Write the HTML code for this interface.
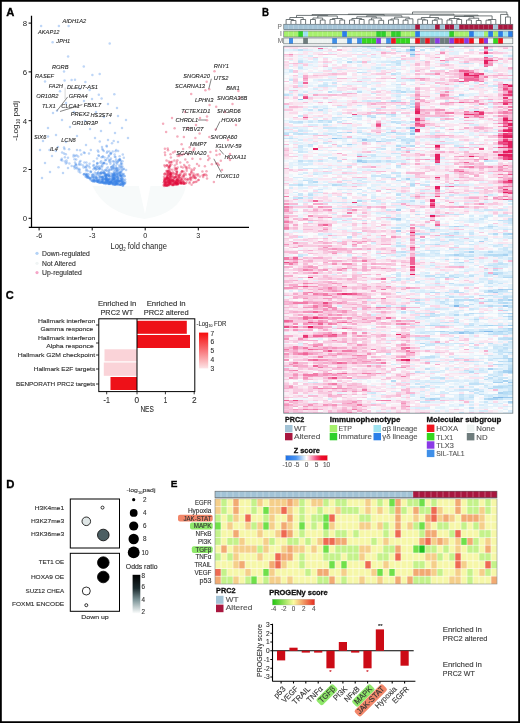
<!DOCTYPE html>
<html><head><meta charset="utf-8"><style>
html,body{margin:0;padding:0;background:#fff;width:520px;height:723px;overflow:hidden}
svg{display:block;font-family:"Liberation Sans",sans-serif;will-change:transform}
</style></head><body>
<svg width="520" height="723" viewBox="0 0 520 723">
<rect width="520" height="723" fill="#fff"/>
<path d="M92.5 186 Q106 214 144.5 219 Q180 214 186 186 L150.5 186 L145 214 L138.8 186 Z" fill="#f7fafa"/>
<g fill="#3a82e6" fill-opacity="0.33"><circle cx="103.9" cy="182.8" r="1.25"/><circle cx="93.9" cy="164.9" r="1.25"/><circle cx="103.6" cy="176.0" r="1.25"/><circle cx="117.0" cy="182.9" r="1.25"/><circle cx="108.3" cy="179.5" r="1.25"/><circle cx="108.7" cy="175.3" r="1.25"/><circle cx="111.1" cy="182.8" r="1.25"/><circle cx="110.4" cy="160.1" r="1.25"/><circle cx="65.9" cy="163.4" r="1.25"/><circle cx="123.1" cy="174.9" r="1.25"/><circle cx="116.5" cy="179.0" r="1.25"/><circle cx="107.5" cy="173.9" r="1.25"/><circle cx="94.2" cy="181.0" r="1.25"/><circle cx="114.7" cy="178.7" r="1.25"/><circle cx="119.0" cy="178.2" r="1.25"/><circle cx="106.1" cy="180.7" r="1.25"/><circle cx="123.1" cy="184.0" r="1.25"/><circle cx="117.6" cy="184.4" r="1.25"/><circle cx="113.1" cy="178.3" r="1.25"/><circle cx="96.5" cy="177.4" r="1.25"/><circle cx="94.4" cy="180.0" r="1.25"/><circle cx="102.3" cy="177.6" r="1.25"/><circle cx="110.1" cy="181.9" r="1.25"/><circle cx="110.6" cy="173.5" r="1.25"/><circle cx="116.2" cy="149.9" r="1.25"/><circle cx="87.3" cy="176.6" r="1.25"/><circle cx="74.1" cy="166.5" r="1.25"/><circle cx="111.3" cy="180.7" r="1.25"/><circle cx="116.8" cy="181.5" r="1.25"/><circle cx="80.1" cy="150.2" r="1.25"/><circle cx="49.5" cy="150.0" r="1.25"/><circle cx="117.9" cy="177.7" r="1.25"/><circle cx="113.7" cy="141.0" r="1.25"/><circle cx="112.8" cy="174.6" r="1.25"/><circle cx="119.9" cy="184.5" r="1.25"/><circle cx="101.2" cy="172.2" r="1.25"/><circle cx="104.8" cy="173.1" r="1.25"/><circle cx="119.6" cy="160.5" r="1.25"/><circle cx="113.6" cy="164.9" r="1.25"/><circle cx="125.0" cy="183.2" r="1.25"/><circle cx="116.0" cy="168.1" r="1.25"/><circle cx="68.0" cy="157.7" r="1.25"/><circle cx="88.5" cy="174.2" r="1.25"/><circle cx="120.4" cy="181.3" r="1.25"/><circle cx="106.6" cy="175.3" r="1.25"/><circle cx="117.4" cy="176.4" r="1.25"/><circle cx="114.3" cy="174.4" r="1.25"/><circle cx="108.3" cy="181.2" r="1.25"/><circle cx="100.5" cy="173.0" r="1.25"/><circle cx="119.6" cy="172.8" r="1.25"/><circle cx="121.0" cy="180.5" r="1.25"/><circle cx="101.3" cy="182.0" r="1.25"/><circle cx="110.6" cy="182.0" r="1.25"/><circle cx="112.9" cy="182.4" r="1.25"/><circle cx="112.8" cy="182.4" r="1.25"/><circle cx="121.0" cy="163.7" r="1.25"/><circle cx="103.6" cy="179.1" r="1.25"/><circle cx="102.7" cy="181.7" r="1.25"/><circle cx="116.7" cy="180.4" r="1.25"/><circle cx="106.0" cy="160.0" r="1.25"/><circle cx="122.6" cy="176.6" r="1.25"/><circle cx="113.0" cy="184.3" r="1.25"/><circle cx="98.2" cy="172.6" r="1.25"/><circle cx="102.3" cy="149.0" r="1.25"/><circle cx="108.3" cy="183.9" r="1.25"/><circle cx="118.5" cy="160.2" r="1.25"/><circle cx="109.4" cy="183.1" r="1.25"/><circle cx="114.2" cy="172.7" r="1.25"/><circle cx="102.4" cy="182.5" r="1.25"/><circle cx="111.7" cy="180.8" r="1.25"/><circle cx="96.3" cy="177.8" r="1.25"/><circle cx="98.4" cy="167.5" r="1.25"/><circle cx="110.9" cy="181.9" r="1.25"/><circle cx="112.4" cy="177.2" r="1.25"/><circle cx="93.0" cy="178.9" r="1.25"/><circle cx="117.6" cy="183.2" r="1.25"/><circle cx="109.3" cy="183.4" r="1.25"/><circle cx="116.1" cy="183.2" r="1.25"/><circle cx="119.5" cy="181.5" r="1.25"/><circle cx="93.3" cy="180.7" r="1.25"/><circle cx="121.4" cy="175.9" r="1.25"/><circle cx="78.2" cy="156.6" r="1.25"/><circle cx="99.8" cy="141.4" r="1.25"/><circle cx="99.4" cy="168.4" r="1.25"/><circle cx="94.4" cy="167.7" r="1.25"/><circle cx="102.7" cy="182.3" r="1.25"/><circle cx="119.6" cy="156.2" r="1.25"/><circle cx="91.9" cy="177.2" r="1.25"/><circle cx="88.0" cy="175.9" r="1.25"/><circle cx="97.0" cy="158.4" r="1.25"/><circle cx="84.7" cy="152.9" r="1.25"/><circle cx="91.7" cy="180.5" r="1.25"/><circle cx="80.2" cy="172.4" r="1.25"/><circle cx="111.2" cy="166.9" r="1.25"/><circle cx="117.1" cy="177.0" r="1.25"/><circle cx="112.1" cy="175.9" r="1.25"/><circle cx="105.5" cy="183.3" r="1.25"/><circle cx="115.2" cy="173.0" r="1.25"/><circle cx="100.3" cy="182.5" r="1.25"/><circle cx="119.2" cy="165.4" r="1.25"/><circle cx="112.9" cy="176.0" r="1.25"/><circle cx="116.8" cy="170.6" r="1.25"/><circle cx="108.1" cy="183.2" r="1.25"/><circle cx="113.1" cy="166.1" r="1.25"/><circle cx="102.6" cy="179.2" r="1.25"/><circle cx="106.4" cy="175.9" r="1.25"/><circle cx="108.2" cy="179.1" r="1.25"/><circle cx="116.4" cy="184.0" r="1.25"/><circle cx="103.7" cy="162.8" r="1.25"/><circle cx="117.0" cy="174.7" r="1.25"/><circle cx="106.1" cy="176.9" r="1.25"/><circle cx="73.7" cy="155.0" r="1.25"/><circle cx="113.9" cy="173.0" r="1.25"/><circle cx="111.4" cy="167.2" r="1.25"/><circle cx="109.0" cy="155.5" r="1.25"/><circle cx="106.6" cy="174.7" r="1.25"/><circle cx="111.8" cy="182.9" r="1.25"/><circle cx="92.0" cy="176.6" r="1.25"/><circle cx="120.5" cy="175.4" r="1.25"/><circle cx="106.4" cy="183.2" r="1.25"/><circle cx="114.1" cy="182.3" r="1.25"/><circle cx="61.8" cy="158.7" r="1.25"/><circle cx="89.7" cy="167.5" r="1.25"/><circle cx="105.2" cy="160.3" r="1.25"/><circle cx="121.2" cy="179.4" r="1.25"/><circle cx="105.3" cy="179.4" r="1.25"/><circle cx="100.2" cy="176.5" r="1.25"/><circle cx="117.3" cy="174.1" r="1.25"/><circle cx="115.4" cy="182.2" r="1.25"/><circle cx="120.9" cy="161.1" r="1.25"/><circle cx="92.2" cy="180.7" r="1.25"/><circle cx="96.9" cy="181.8" r="1.25"/><circle cx="119.8" cy="174.8" r="1.25"/><circle cx="115.3" cy="182.9" r="1.25"/><circle cx="85.2" cy="167.0" r="1.25"/><circle cx="105.5" cy="170.1" r="1.25"/><circle cx="93.4" cy="169.2" r="1.25"/><circle cx="111.0" cy="182.1" r="1.25"/><circle cx="106.4" cy="178.3" r="1.25"/><circle cx="98.1" cy="172.5" r="1.25"/><circle cx="123.9" cy="174.1" r="1.25"/><circle cx="98.0" cy="181.9" r="1.25"/><circle cx="116.7" cy="168.5" r="1.25"/><circle cx="122.4" cy="166.6" r="1.25"/><circle cx="114.3" cy="182.1" r="1.25"/><circle cx="122.8" cy="154.4" r="1.25"/><circle cx="103.2" cy="163.4" r="1.25"/><circle cx="112.7" cy="151.4" r="1.25"/><circle cx="122.0" cy="182.3" r="1.25"/><circle cx="94.3" cy="176.7" r="1.25"/><circle cx="102.2" cy="166.8" r="1.25"/><circle cx="116.5" cy="162.7" r="1.25"/><circle cx="43.0" cy="140.9" r="1.25"/><circle cx="75.8" cy="163.9" r="1.25"/><circle cx="118.5" cy="172.6" r="1.25"/><circle cx="107.0" cy="180.4" r="1.25"/><circle cx="123.0" cy="181.9" r="1.25"/><circle cx="115.7" cy="177.2" r="1.25"/><circle cx="115.4" cy="180.7" r="1.25"/><circle cx="125.1" cy="179.4" r="1.25"/><circle cx="117.1" cy="180.0" r="1.25"/><circle cx="107.4" cy="151.6" r="1.25"/><circle cx="101.5" cy="172.5" r="1.25"/><circle cx="104.8" cy="173.4" r="1.25"/><circle cx="98.9" cy="156.1" r="1.25"/><circle cx="81.0" cy="164.4" r="1.25"/><circle cx="114.5" cy="184.4" r="1.25"/><circle cx="92.5" cy="181.1" r="1.25"/><circle cx="121.7" cy="183.4" r="1.25"/><circle cx="116.0" cy="165.7" r="1.25"/><circle cx="104.8" cy="181.9" r="1.25"/><circle cx="66.5" cy="160.4" r="1.25"/><circle cx="105.0" cy="174.2" r="1.25"/><circle cx="105.2" cy="182.5" r="1.25"/><circle cx="74.7" cy="168.5" r="1.25"/><circle cx="118.3" cy="180.9" r="1.25"/><circle cx="93.6" cy="176.7" r="1.25"/><circle cx="115.5" cy="184.6" r="1.25"/><circle cx="120.0" cy="172.3" r="1.25"/><circle cx="116.0" cy="181.5" r="1.25"/><circle cx="100.2" cy="176.8" r="1.25"/><circle cx="113.4" cy="175.3" r="1.25"/><circle cx="104.3" cy="163.3" r="1.25"/><circle cx="122.2" cy="169.7" r="1.25"/><circle cx="114.0" cy="171.2" r="1.25"/><circle cx="96.7" cy="178.8" r="1.25"/><circle cx="123.8" cy="157.7" r="1.25"/><circle cx="112.2" cy="166.4" r="1.25"/><circle cx="112.6" cy="184.1" r="1.25"/><circle cx="122.6" cy="185.5" r="1.25"/><circle cx="120.7" cy="176.1" r="1.25"/><circle cx="73.5" cy="156.6" r="1.25"/><circle cx="85.8" cy="173.8" r="1.25"/><circle cx="94.4" cy="180.1" r="1.25"/><circle cx="100.8" cy="177.2" r="1.25"/><circle cx="114.6" cy="184.5" r="1.25"/><circle cx="118.7" cy="180.5" r="1.25"/><circle cx="110.6" cy="175.4" r="1.25"/><circle cx="95.8" cy="177.8" r="1.25"/><circle cx="121.2" cy="176.3" r="1.25"/><circle cx="114.9" cy="184.4" r="1.25"/><circle cx="112.2" cy="182.8" r="1.25"/><circle cx="110.3" cy="182.8" r="1.25"/><circle cx="88.8" cy="177.7" r="1.25"/><circle cx="114.6" cy="154.4" r="1.25"/><circle cx="113.8" cy="177.5" r="1.25"/><circle cx="79.3" cy="164.7" r="1.25"/><circle cx="113.7" cy="178.8" r="1.25"/><circle cx="116.5" cy="184.3" r="1.25"/><circle cx="83.9" cy="152.6" r="1.25"/><circle cx="105.7" cy="176.4" r="1.25"/><circle cx="102.9" cy="177.0" r="1.25"/><circle cx="105.6" cy="178.5" r="1.25"/><circle cx="86.2" cy="175.0" r="1.25"/><circle cx="103.8" cy="151.0" r="1.25"/><circle cx="64.0" cy="147.5" r="1.25"/><circle cx="97.4" cy="180.2" r="1.25"/><circle cx="118.2" cy="169.4" r="1.25"/><circle cx="110.8" cy="182.3" r="1.25"/><circle cx="121.7" cy="178.2" r="1.25"/><circle cx="110.6" cy="154.0" r="1.25"/><circle cx="121.8" cy="180.3" r="1.25"/><circle cx="107.0" cy="174.9" r="1.25"/><circle cx="113.8" cy="178.7" r="1.25"/><circle cx="106.4" cy="179.5" r="1.25"/><circle cx="114.0" cy="180.0" r="1.25"/><circle cx="107.6" cy="182.1" r="1.25"/><circle cx="96.3" cy="166.5" r="1.25"/><circle cx="96.1" cy="180.6" r="1.25"/><circle cx="94.6" cy="168.1" r="1.25"/><circle cx="104.0" cy="183.4" r="1.25"/><circle cx="108.5" cy="176.1" r="1.25"/><circle cx="114.6" cy="174.9" r="1.25"/><circle cx="116.1" cy="159.6" r="1.25"/><circle cx="118.1" cy="181.1" r="1.25"/><circle cx="99.0" cy="179.9" r="1.25"/><circle cx="93.0" cy="181.6" r="1.25"/><circle cx="120.8" cy="171.9" r="1.25"/><circle cx="105.0" cy="175.4" r="1.25"/><circle cx="117.8" cy="179.1" r="1.25"/><circle cx="100.0" cy="168.1" r="1.25"/><circle cx="113.0" cy="168.3" r="1.25"/><circle cx="106.7" cy="168.6" r="1.25"/><circle cx="75.3" cy="156.1" r="1.25"/><circle cx="118.4" cy="180.0" r="1.25"/><circle cx="121.5" cy="167.9" r="1.25"/><circle cx="104.3" cy="178.1" r="1.25"/><circle cx="102.3" cy="181.2" r="1.25"/><circle cx="123.5" cy="169.3" r="1.25"/><circle cx="115.5" cy="170.3" r="1.25"/><circle cx="101.9" cy="169.4" r="1.25"/><circle cx="114.6" cy="175.6" r="1.25"/><circle cx="110.2" cy="183.7" r="1.25"/><circle cx="99.9" cy="168.8" r="1.25"/><circle cx="120.8" cy="165.4" r="1.25"/><circle cx="95.7" cy="175.4" r="1.25"/><circle cx="106.1" cy="178.0" r="1.25"/><circle cx="122.7" cy="178.7" r="1.25"/><circle cx="101.2" cy="161.2" r="1.25"/><circle cx="88.4" cy="177.7" r="1.25"/><circle cx="106.8" cy="152.8" r="1.25"/><circle cx="78.7" cy="171.5" r="1.25"/><circle cx="120.2" cy="175.1" r="1.25"/><circle cx="115.8" cy="161.5" r="1.25"/><circle cx="95.2" cy="181.1" r="1.25"/><circle cx="102.2" cy="177.1" r="1.25"/><circle cx="113.7" cy="180.3" r="1.25"/><circle cx="108.3" cy="180.7" r="1.25"/><circle cx="118.4" cy="168.0" r="1.25"/><circle cx="103.6" cy="182.8" r="1.25"/><circle cx="107.6" cy="179.7" r="1.25"/><circle cx="99.0" cy="176.4" r="1.25"/><circle cx="94.0" cy="177.8" r="1.25"/><circle cx="108.7" cy="173.1" r="1.25"/><circle cx="109.3" cy="151.6" r="1.25"/><circle cx="102.5" cy="182.8" r="1.25"/><circle cx="58.5" cy="167.3" r="1.25"/><circle cx="109.0" cy="176.0" r="1.25"/><circle cx="123.7" cy="184.3" r="1.25"/><circle cx="124.5" cy="176.2" r="1.25"/><circle cx="99.7" cy="179.4" r="1.25"/><circle cx="86.3" cy="175.3" r="1.25"/><circle cx="80.5" cy="161.1" r="1.25"/><circle cx="89.6" cy="163.7" r="1.25"/><circle cx="112.1" cy="169.4" r="1.25"/><circle cx="93.7" cy="161.3" r="1.25"/><circle cx="115.5" cy="156.9" r="1.25"/><circle cx="79.7" cy="162.1" r="1.25"/><circle cx="117.2" cy="163.8" r="1.25"/><circle cx="106.9" cy="179.3" r="1.25"/><circle cx="112.6" cy="180.0" r="1.25"/><circle cx="116.5" cy="168.0" r="1.25"/><circle cx="120.6" cy="177.7" r="1.25"/><circle cx="120.2" cy="184.8" r="1.25"/><circle cx="102.2" cy="180.2" r="1.25"/><circle cx="115.1" cy="175.7" r="1.25"/><circle cx="76.2" cy="167.9" r="1.25"/><circle cx="123.2" cy="182.5" r="1.25"/><circle cx="109.1" cy="169.6" r="1.25"/><circle cx="121.5" cy="178.4" r="1.25"/><circle cx="87.0" cy="177.4" r="1.25"/><circle cx="64.9" cy="161.5" r="1.25"/><circle cx="96.9" cy="166.4" r="1.25"/><circle cx="101.6" cy="180.4" r="1.25"/><circle cx="115.8" cy="176.1" r="1.25"/><circle cx="108.9" cy="181.4" r="1.25"/><circle cx="106.4" cy="170.6" r="1.25"/><circle cx="74.5" cy="159.2" r="1.25"/><circle cx="122.1" cy="164.1" r="1.25"/><circle cx="97.3" cy="168.4" r="1.25"/><circle cx="74.6" cy="166.4" r="1.25"/><circle cx="95.9" cy="169.5" r="1.25"/><circle cx="108.9" cy="174.9" r="1.25"/><circle cx="105.5" cy="176.4" r="1.25"/><circle cx="109.1" cy="159.9" r="1.25"/><circle cx="86.8" cy="165.1" r="1.25"/><circle cx="101.1" cy="166.3" r="1.25"/><circle cx="102.6" cy="177.0" r="1.25"/><circle cx="109.3" cy="179.1" r="1.25"/><circle cx="102.1" cy="179.1" r="1.25"/><circle cx="124.4" cy="183.3" r="1.25"/><circle cx="119.2" cy="184.4" r="1.25"/><circle cx="75.0" cy="162.4" r="1.25"/><circle cx="110.6" cy="169.8" r="1.25"/><circle cx="114.3" cy="179.3" r="1.25"/><circle cx="107.8" cy="167.3" r="1.25"/><circle cx="101.6" cy="182.3" r="1.25"/><circle cx="88.7" cy="166.1" r="1.25"/><circle cx="113.9" cy="161.4" r="1.25"/><circle cx="116.4" cy="180.9" r="1.25"/><circle cx="97.4" cy="174.6" r="1.25"/><circle cx="108.1" cy="181.2" r="1.25"/><circle cx="87.3" cy="174.0" r="1.25"/><circle cx="121.5" cy="167.1" r="1.25"/><circle cx="117.2" cy="180.1" r="1.25"/><circle cx="108.9" cy="182.2" r="1.25"/><circle cx="69.4" cy="163.4" r="1.25"/><circle cx="90.0" cy="178.6" r="1.25"/><circle cx="124.2" cy="180.6" r="1.25"/><circle cx="109.2" cy="183.8" r="1.25"/><circle cx="103.2" cy="173.2" r="1.25"/><circle cx="119.6" cy="173.3" r="1.25"/><circle cx="100.7" cy="174.2" r="1.25"/><circle cx="120.6" cy="179.6" r="1.25"/><circle cx="98.0" cy="180.6" r="1.25"/><circle cx="119.9" cy="159.8" r="1.25"/><circle cx="107.4" cy="158.3" r="1.25"/><circle cx="115.6" cy="183.1" r="1.25"/><circle cx="115.0" cy="180.8" r="1.25"/><circle cx="62.2" cy="160.6" r="1.25"/><circle cx="90.7" cy="172.2" r="1.25"/><circle cx="116.5" cy="183.1" r="1.25"/><circle cx="95.1" cy="167.7" r="1.25"/><circle cx="105.6" cy="183.9" r="1.25"/><circle cx="105.8" cy="174.4" r="1.25"/><circle cx="96.8" cy="181.2" r="1.25"/><circle cx="119.8" cy="167.0" r="1.25"/><circle cx="124.6" cy="175.9" r="1.25"/><circle cx="118.3" cy="173.4" r="1.25"/><circle cx="62.1" cy="152.5" r="1.25"/><circle cx="113.7" cy="182.7" r="1.25"/><circle cx="87.7" cy="177.6" r="1.25"/><circle cx="71.7" cy="165.9" r="1.25"/><circle cx="111.1" cy="153.2" r="1.25"/><circle cx="106.7" cy="164.1" r="1.25"/><circle cx="117.3" cy="170.7" r="1.25"/><circle cx="120.5" cy="173.7" r="1.25"/><circle cx="116.6" cy="172.4" r="1.25"/><circle cx="115.6" cy="181.0" r="1.25"/><circle cx="117.7" cy="161.8" r="1.25"/><circle cx="106.6" cy="145.8" r="1.25"/><circle cx="97.5" cy="181.4" r="1.25"/><circle cx="85.8" cy="167.5" r="1.25"/><circle cx="101.9" cy="163.5" r="1.25"/><circle cx="112.0" cy="173.8" r="1.25"/><circle cx="126.1" cy="170.0" r="1.25"/><circle cx="113.5" cy="174.6" r="1.25"/><circle cx="121.8" cy="183.2" r="1.25"/><circle cx="100.5" cy="182.7" r="1.25"/><circle cx="112.2" cy="180.9" r="1.25"/><circle cx="113.9" cy="168.2" r="1.25"/><circle cx="98.3" cy="178.2" r="1.25"/><circle cx="113.2" cy="176.4" r="1.25"/><circle cx="108.6" cy="174.2" r="1.25"/><circle cx="103.9" cy="172.4" r="1.25"/><circle cx="101.7" cy="176.7" r="1.25"/><circle cx="115.5" cy="151.3" r="1.25"/><circle cx="120.2" cy="169.6" r="1.25"/><circle cx="115.1" cy="178.6" r="1.25"/><circle cx="64.5" cy="148.9" r="1.25"/><circle cx="103.2" cy="178.2" r="1.25"/><circle cx="114.2" cy="163.7" r="1.25"/><circle cx="109.7" cy="181.7" r="1.25"/><circle cx="114.8" cy="156.7" r="1.25"/><circle cx="76.2" cy="159.5" r="1.25"/><circle cx="122.8" cy="185.4" r="1.25"/><circle cx="97.9" cy="181.5" r="1.25"/><circle cx="108.4" cy="183.6" r="1.25"/><circle cx="110.4" cy="162.1" r="1.25"/><circle cx="75.6" cy="165.0" r="1.25"/><circle cx="104.0" cy="172.4" r="1.25"/><circle cx="104.5" cy="182.7" r="1.25"/><circle cx="97.5" cy="179.8" r="1.25"/><circle cx="106.7" cy="182.6" r="1.25"/><circle cx="114.9" cy="181.2" r="1.25"/><circle cx="105.8" cy="179.8" r="1.25"/><circle cx="119.1" cy="181.4" r="1.25"/><circle cx="122.1" cy="174.3" r="1.25"/><circle cx="93.2" cy="165.7" r="1.25"/><circle cx="121.2" cy="163.1" r="1.25"/><circle cx="96.4" cy="173.3" r="1.25"/><circle cx="86.7" cy="169.5" r="1.25"/><circle cx="113.3" cy="179.6" r="1.25"/><circle cx="79.2" cy="163.7" r="1.25"/><circle cx="98.9" cy="182.2" r="1.25"/><circle cx="116.2" cy="181.2" r="1.25"/><circle cx="110.2" cy="184.1" r="1.25"/><circle cx="96.3" cy="177.1" r="1.25"/><circle cx="118.2" cy="178.8" r="1.25"/><circle cx="118.5" cy="184.5" r="1.25"/><circle cx="103.6" cy="183.0" r="1.25"/><circle cx="103.0" cy="179.3" r="1.25"/><circle cx="98.4" cy="151.8" r="1.25"/><circle cx="120.0" cy="159.3" r="1.25"/><circle cx="98.1" cy="181.4" r="1.25"/><circle cx="114.3" cy="177.8" r="1.25"/><circle cx="118.1" cy="151.0" r="1.25"/><circle cx="110.6" cy="179.6" r="1.25"/><circle cx="100.0" cy="182.5" r="1.25"/><circle cx="119.8" cy="175.4" r="1.25"/><circle cx="101.5" cy="157.3" r="1.25"/><circle cx="107.2" cy="180.0" r="1.25"/><circle cx="112.8" cy="161.3" r="1.25"/><circle cx="115.3" cy="178.6" r="1.25"/><circle cx="64.0" cy="153.4" r="1.25"/><circle cx="123.5" cy="182.5" r="1.25"/><circle cx="122.7" cy="178.4" r="1.25"/><circle cx="89.0" cy="153.6" r="1.25"/><circle cx="89.6" cy="178.6" r="1.25"/><circle cx="96.9" cy="180.4" r="1.25"/><circle cx="109.5" cy="176.2" r="1.25"/><circle cx="98.7" cy="175.0" r="1.25"/><circle cx="109.4" cy="179.0" r="1.25"/><circle cx="106.5" cy="182.0" r="1.25"/><circle cx="121.2" cy="172.2" r="1.25"/><circle cx="100.5" cy="178.4" r="1.25"/><circle cx="86.4" cy="174.4" r="1.25"/><circle cx="94.9" cy="172.4" r="1.25"/><circle cx="105.6" cy="175.0" r="1.25"/><circle cx="107.3" cy="170.9" r="1.25"/><circle cx="122.0" cy="180.7" r="1.25"/><circle cx="65.8" cy="154.3" r="1.25"/><circle cx="99.4" cy="180.8" r="1.25"/><circle cx="114.4" cy="169.1" r="1.25"/><circle cx="122.4" cy="184.0" r="1.25"/><circle cx="119.4" cy="181.3" r="1.25"/><circle cx="97.6" cy="173.6" r="1.25"/><circle cx="81.3" cy="154.6" r="1.25"/><circle cx="116.5" cy="183.8" r="1.25"/><circle cx="63.0" cy="173.0" r="1.25"/><circle cx="121.7" cy="171.1" r="1.25"/><circle cx="113.2" cy="184.0" r="1.25"/><circle cx="114.2" cy="177.5" r="1.25"/><circle cx="99.0" cy="166.2" r="1.25"/><circle cx="83.0" cy="165.5" r="1.25"/><circle cx="94.5" cy="181.6" r="1.25"/><circle cx="114.3" cy="176.7" r="1.25"/><circle cx="100.3" cy="162.6" r="1.25"/><circle cx="110.1" cy="183.1" r="1.25"/><circle cx="118.3" cy="176.3" r="1.25"/><circle cx="64.9" cy="157.2" r="1.25"/><circle cx="106.9" cy="181.1" r="1.25"/><circle cx="105.6" cy="181.7" r="1.25"/><circle cx="66.9" cy="162.6" r="1.25"/><circle cx="86.4" cy="162.6" r="1.25"/><circle cx="108.9" cy="170.6" r="1.25"/><circle cx="102.6" cy="156.9" r="1.25"/><circle cx="92.7" cy="174.7" r="1.25"/><circle cx="107.0" cy="179.9" r="1.25"/><circle cx="76.5" cy="165.0" r="1.25"/><circle cx="111.6" cy="169.1" r="1.25"/><circle cx="98.6" cy="169.6" r="1.25"/><circle cx="118.1" cy="161.4" r="1.25"/><circle cx="120.9" cy="184.7" r="1.25"/><circle cx="122.5" cy="183.8" r="1.25"/><circle cx="84.4" cy="174.0" r="1.25"/><circle cx="108.9" cy="180.4" r="1.25"/><circle cx="102.9" cy="150.1" r="1.25"/><circle cx="108.0" cy="182.7" r="1.25"/><circle cx="115.6" cy="174.0" r="1.25"/><circle cx="112.6" cy="175.7" r="1.25"/><circle cx="83.9" cy="174.2" r="1.25"/><circle cx="112.6" cy="178.9" r="1.25"/><circle cx="108.1" cy="180.0" r="1.25"/><circle cx="83.9" cy="174.4" r="1.25"/><circle cx="105.5" cy="182.2" r="1.25"/><circle cx="118.1" cy="182.8" r="1.25"/><circle cx="100.2" cy="173.6" r="1.25"/><circle cx="109.2" cy="184.1" r="1.25"/><circle cx="115.4" cy="174.4" r="1.25"/><circle cx="104.7" cy="180.1" r="1.25"/><circle cx="90.4" cy="171.3" r="1.25"/><circle cx="109.1" cy="161.4" r="1.25"/><circle cx="119.4" cy="159.3" r="1.25"/><circle cx="106.2" cy="178.9" r="1.25"/><circle cx="77.1" cy="167.4" r="1.25"/><circle cx="86.4" cy="177.1" r="1.25"/><circle cx="106.7" cy="181.6" r="1.25"/><circle cx="111.8" cy="180.3" r="1.25"/><circle cx="88.4" cy="176.6" r="1.25"/><circle cx="120.6" cy="184.8" r="1.25"/><circle cx="106.1" cy="182.5" r="1.25"/><circle cx="102.7" cy="180.7" r="1.25"/><circle cx="118.1" cy="175.0" r="1.25"/><circle cx="121.6" cy="181.1" r="1.25"/><circle cx="113.8" cy="167.0" r="1.25"/><circle cx="116.9" cy="176.7" r="1.25"/><circle cx="106.8" cy="183.2" r="1.25"/><circle cx="91.2" cy="171.7" r="1.25"/><circle cx="117.3" cy="173.7" r="1.25"/><circle cx="86.1" cy="170.5" r="1.25"/><circle cx="108.7" cy="156.5" r="1.25"/><circle cx="106.8" cy="146.4" r="1.25"/><circle cx="118.3" cy="170.5" r="1.25"/><circle cx="111.1" cy="182.6" r="1.25"/><circle cx="90.6" cy="179.9" r="1.25"/><circle cx="90.7" cy="178.6" r="1.25"/><circle cx="93.1" cy="177.0" r="1.25"/><circle cx="122.5" cy="161.3" r="1.25"/><circle cx="97.8" cy="150.5" r="1.25"/><circle cx="95.9" cy="169.3" r="1.25"/><circle cx="98.5" cy="155.3" r="1.25"/><circle cx="102.1" cy="173.2" r="1.25"/><circle cx="123.9" cy="168.8" r="1.25"/><circle cx="77.8" cy="169.3" r="1.25"/><circle cx="105.2" cy="175.8" r="1.25"/><circle cx="90.8" cy="150.0" r="1.25"/><circle cx="120.6" cy="182.5" r="1.25"/><circle cx="110.7" cy="153.3" r="1.25"/><circle cx="93.7" cy="179.4" r="1.25"/><circle cx="118.1" cy="181.3" r="1.25"/><circle cx="113.2" cy="178.2" r="1.25"/><circle cx="93.0" cy="174.4" r="1.25"/><circle cx="104.7" cy="170.4" r="1.25"/><circle cx="106.6" cy="177.3" r="1.25"/><circle cx="112.9" cy="179.8" r="1.25"/><circle cx="79.3" cy="169.1" r="1.25"/><circle cx="112.2" cy="178.6" r="1.25"/><circle cx="124.6" cy="183.5" r="1.25"/><circle cx="125.4" cy="181.9" r="1.25"/><circle cx="86.5" cy="175.7" r="1.25"/><circle cx="98.9" cy="182.6" r="1.25"/><circle cx="117.1" cy="182.8" r="1.25"/><circle cx="85.4" cy="176.6" r="1.25"/><circle cx="95.4" cy="179.2" r="1.25"/><circle cx="123.4" cy="183.9" r="1.25"/><circle cx="99.8" cy="180.7" r="1.25"/><circle cx="109.7" cy="179.1" r="1.25"/><circle cx="116.2" cy="184.2" r="1.25"/><circle cx="117.7" cy="177.5" r="1.25"/><circle cx="106.9" cy="177.8" r="1.25"/><circle cx="100.4" cy="173.2" r="1.25"/><circle cx="97.2" cy="162.9" r="1.25"/><circle cx="122.6" cy="174.0" r="1.25"/><circle cx="114.0" cy="174.8" r="1.25"/><circle cx="123.1" cy="180.3" r="1.25"/><circle cx="116.3" cy="169.5" r="1.25"/><circle cx="103.2" cy="171.3" r="1.25"/><circle cx="79.7" cy="170.1" r="1.25"/><circle cx="112.0" cy="143.3" r="1.25"/><circle cx="94.5" cy="181.5" r="1.25"/><circle cx="120.7" cy="184.2" r="1.25"/><circle cx="76.5" cy="155.3" r="1.25"/><circle cx="103.5" cy="173.0" r="1.25"/><circle cx="87.9" cy="170.9" r="1.25"/><circle cx="102.4" cy="165.3" r="1.25"/><circle cx="109.1" cy="171.8" r="1.25"/><circle cx="110.9" cy="181.7" r="1.25"/><circle cx="102.9" cy="180.3" r="1.25"/><circle cx="110.9" cy="158.6" r="1.25"/><circle cx="121.6" cy="175.9" r="1.25"/><circle cx="110.4" cy="163.7" r="1.25"/><circle cx="104.1" cy="162.9" r="1.25"/><circle cx="115.2" cy="184.4" r="1.25"/><circle cx="105.8" cy="179.5" r="1.25"/><circle cx="116.3" cy="171.8" r="1.25"/><circle cx="120.5" cy="180.7" r="1.25"/><circle cx="113.2" cy="174.1" r="1.25"/><circle cx="111.2" cy="177.6" r="1.25"/><circle cx="104.5" cy="157.6" r="1.25"/><circle cx="119.0" cy="181.2" r="1.25"/><circle cx="111.6" cy="184.0" r="1.25"/><circle cx="122.3" cy="181.7" r="1.25"/><circle cx="97.7" cy="163.2" r="1.25"/><circle cx="94.2" cy="174.8" r="1.25"/><circle cx="106.2" cy="175.5" r="1.25"/><circle cx="105.3" cy="178.7" r="1.25"/><circle cx="117.9" cy="184.3" r="1.25"/><circle cx="86.6" cy="166.4" r="1.25"/><circle cx="83.6" cy="167.4" r="1.25"/><circle cx="113.3" cy="184.4" r="1.25"/><circle cx="123.1" cy="185.4" r="1.25"/><circle cx="90.3" cy="178.1" r="1.25"/><circle cx="117.3" cy="181.8" r="1.25"/><circle cx="101.3" cy="182.3" r="1.25"/><circle cx="113.7" cy="182.3" r="1.25"/><circle cx="109.5" cy="176.6" r="1.25"/><circle cx="84.4" cy="162.5" r="1.25"/><circle cx="91.8" cy="174.9" r="1.25"/><circle cx="102.9" cy="156.2" r="1.25"/><circle cx="97.0" cy="164.1" r="1.25"/><circle cx="69.1" cy="149.3" r="1.25"/><circle cx="55.8" cy="151.1" r="1.25"/><circle cx="41.1" cy="25.9" r="1.25"/><circle cx="58.9" cy="25.9" r="1.25"/><circle cx="68.6" cy="25.9" r="1.25"/><circle cx="52.6" cy="42.2" r="1.25"/><circle cx="109.7" cy="43.4" r="1.25"/><circle cx="68.1" cy="56.6" r="1.25"/><circle cx="83.8" cy="66.5" r="1.25"/><circle cx="64.0" cy="71.6" r="1.25"/><circle cx="92.4" cy="75.0" r="1.25"/><circle cx="99.7" cy="73.9" r="1.25"/><circle cx="45.0" cy="81.5" r="1.25"/><circle cx="64.6" cy="80.4" r="1.25"/><circle cx="71.6" cy="80.1" r="1.25"/><circle cx="75.0" cy="79.7" r="1.25"/><circle cx="85.4" cy="82.0" r="1.25"/><circle cx="60.0" cy="91.2" r="1.25"/><circle cx="79.7" cy="88.9" r="1.25"/><circle cx="89.6" cy="90.0" r="1.25"/><circle cx="98.8" cy="94.7" r="1.25"/><circle cx="114.3" cy="94.2" r="1.25"/><circle cx="101.6" cy="98.6" r="1.25"/><circle cx="57.0" cy="110.8" r="1.25"/><circle cx="66.0" cy="103.0" r="1.25"/><circle cx="84.0" cy="101.0" r="1.25"/><circle cx="92.0" cy="99.0" r="1.25"/><circle cx="108.0" cy="104.0" r="1.25"/><circle cx="117.0" cy="108.0" r="1.25"/><circle cx="53.0" cy="113.0" r="1.25"/><circle cx="74.0" cy="112.0" r="1.25"/><circle cx="96.0" cy="112.0" r="1.25"/><circle cx="104.0" cy="117.0" r="1.25"/><circle cx="118.0" cy="116.0" r="1.25"/><circle cx="126.0" cy="120.0" r="1.25"/><circle cx="62.0" cy="120.0" r="1.25"/><circle cx="85.0" cy="121.0" r="1.25"/><circle cx="110.0" cy="123.0" r="1.25"/><circle cx="48.0" cy="128.0" r="1.25"/><circle cx="70.0" cy="127.0" r="1.25"/><circle cx="90.0" cy="129.0" r="1.25"/><circle cx="101.0" cy="131.0" r="1.25"/><circle cx="115.0" cy="133.0" r="1.25"/><circle cx="122.0" cy="128.0" r="1.25"/><circle cx="56.0" cy="135.0" r="1.25"/><circle cx="77.0" cy="136.0" r="1.25"/><circle cx="95.0" cy="138.0" r="1.25"/><circle cx="108.0" cy="140.0" r="1.25"/><circle cx="118.0" cy="142.0" r="1.25"/><circle cx="128.0" cy="138.0" r="1.25"/><circle cx="48.0" cy="136.5" r="1.25"/><circle cx="66.0" cy="142.0" r="1.25"/><circle cx="86.0" cy="145.0" r="1.25"/><circle cx="102.0" cy="147.0" r="1.25"/><circle cx="58.0" cy="147.0" r="1.25"/><circle cx="77.0" cy="150.0" r="1.25"/><circle cx="40.0" cy="150.0" r="1.25"/><circle cx="52.0" cy="156.0" r="1.25"/><circle cx="61.0" cy="160.0" r="1.25"/><circle cx="45.0" cy="163.0" r="1.25"/><circle cx="68.0" cy="168.0" r="1.25"/><circle cx="50.0" cy="172.0" r="1.25"/><circle cx="42.0" cy="178.0" r="1.25"/></g>
<g fill="#e3103f" fill-opacity="0.34"><circle cx="176.7" cy="179.9" r="1.25"/><circle cx="203.9" cy="175.3" r="1.25"/><circle cx="177.7" cy="167.4" r="1.25"/><circle cx="171.7" cy="181.1" r="1.25"/><circle cx="181.0" cy="183.5" r="1.25"/><circle cx="185.3" cy="166.6" r="1.25"/><circle cx="167.3" cy="176.6" r="1.25"/><circle cx="164.8" cy="183.9" r="1.25"/><circle cx="189.2" cy="165.5" r="1.25"/><circle cx="173.1" cy="152.4" r="1.25"/><circle cx="177.3" cy="179.2" r="1.25"/><circle cx="170.0" cy="174.3" r="1.25"/><circle cx="164.5" cy="178.5" r="1.25"/><circle cx="176.3" cy="181.0" r="1.25"/><circle cx="218.9" cy="165.1" r="1.25"/><circle cx="182.5" cy="176.7" r="1.25"/><circle cx="173.7" cy="181.1" r="1.25"/><circle cx="180.2" cy="162.5" r="1.25"/><circle cx="203.1" cy="177.0" r="1.25"/><circle cx="169.1" cy="185.3" r="1.25"/><circle cx="173.4" cy="184.0" r="1.25"/><circle cx="190.1" cy="179.4" r="1.25"/><circle cx="174.4" cy="160.6" r="1.25"/><circle cx="168.3" cy="179.8" r="1.25"/><circle cx="186.4" cy="182.4" r="1.25"/><circle cx="170.7" cy="180.9" r="1.25"/><circle cx="167.6" cy="172.9" r="1.25"/><circle cx="173.2" cy="182.4" r="1.25"/><circle cx="175.2" cy="182.6" r="1.25"/><circle cx="183.6" cy="171.5" r="1.25"/><circle cx="170.2" cy="182.0" r="1.25"/><circle cx="169.8" cy="175.8" r="1.25"/><circle cx="168.4" cy="181.7" r="1.25"/><circle cx="174.2" cy="179.2" r="1.25"/><circle cx="176.8" cy="171.8" r="1.25"/><circle cx="182.7" cy="181.3" r="1.25"/><circle cx="189.6" cy="181.9" r="1.25"/><circle cx="170.5" cy="176.9" r="1.25"/><circle cx="183.9" cy="176.1" r="1.25"/><circle cx="168.4" cy="167.8" r="1.25"/><circle cx="172.5" cy="177.1" r="1.25"/><circle cx="177.0" cy="183.1" r="1.25"/><circle cx="168.0" cy="176.0" r="1.25"/><circle cx="176.0" cy="183.8" r="1.25"/><circle cx="166.9" cy="185.7" r="1.25"/><circle cx="197.8" cy="175.6" r="1.25"/><circle cx="164.2" cy="174.0" r="1.25"/><circle cx="169.0" cy="170.3" r="1.25"/><circle cx="166.8" cy="180.5" r="1.25"/><circle cx="169.8" cy="166.5" r="1.25"/><circle cx="178.0" cy="176.1" r="1.25"/><circle cx="193.2" cy="182.8" r="1.25"/><circle cx="183.8" cy="183.4" r="1.25"/><circle cx="183.5" cy="175.3" r="1.25"/><circle cx="181.2" cy="181.3" r="1.25"/><circle cx="169.8" cy="165.0" r="1.25"/><circle cx="187.1" cy="167.6" r="1.25"/><circle cx="175.8" cy="176.8" r="1.25"/><circle cx="180.8" cy="182.8" r="1.25"/><circle cx="168.2" cy="174.4" r="1.25"/><circle cx="184.1" cy="165.1" r="1.25"/><circle cx="170.6" cy="173.6" r="1.25"/><circle cx="185.5" cy="183.2" r="1.25"/><circle cx="177.1" cy="171.7" r="1.25"/><circle cx="165.2" cy="185.2" r="1.25"/><circle cx="175.4" cy="182.7" r="1.25"/><circle cx="183.6" cy="181.9" r="1.25"/><circle cx="165.9" cy="180.2" r="1.25"/><circle cx="168.8" cy="179.4" r="1.25"/><circle cx="167.6" cy="181.3" r="1.25"/><circle cx="171.2" cy="183.4" r="1.25"/><circle cx="166.7" cy="178.1" r="1.25"/><circle cx="199.0" cy="165.7" r="1.25"/><circle cx="198.0" cy="174.3" r="1.25"/><circle cx="167.4" cy="177.1" r="1.25"/><circle cx="179.3" cy="156.1" r="1.25"/><circle cx="166.1" cy="185.3" r="1.25"/><circle cx="164.9" cy="174.6" r="1.25"/><circle cx="176.9" cy="175.1" r="1.25"/><circle cx="175.7" cy="183.6" r="1.25"/><circle cx="170.2" cy="183.1" r="1.25"/><circle cx="167.0" cy="178.5" r="1.25"/><circle cx="206.5" cy="171.3" r="1.25"/><circle cx="190.5" cy="177.4" r="1.25"/><circle cx="199.9" cy="176.4" r="1.25"/><circle cx="189.3" cy="174.3" r="1.25"/><circle cx="191.6" cy="169.5" r="1.25"/><circle cx="166.8" cy="165.3" r="1.25"/><circle cx="170.5" cy="181.6" r="1.25"/><circle cx="186.7" cy="170.7" r="1.25"/><circle cx="174.8" cy="168.0" r="1.25"/><circle cx="176.0" cy="184.5" r="1.25"/><circle cx="167.5" cy="165.7" r="1.25"/><circle cx="167.4" cy="177.9" r="1.25"/><circle cx="179.0" cy="180.4" r="1.25"/><circle cx="181.0" cy="166.7" r="1.25"/><circle cx="169.9" cy="171.8" r="1.25"/><circle cx="191.6" cy="184.8" r="1.25"/><circle cx="168.6" cy="183.2" r="1.25"/><circle cx="163.6" cy="185.2" r="1.25"/><circle cx="175.8" cy="182.8" r="1.25"/><circle cx="177.6" cy="156.0" r="1.25"/><circle cx="168.2" cy="178.2" r="1.25"/><circle cx="171.2" cy="179.5" r="1.25"/><circle cx="190.3" cy="177.5" r="1.25"/><circle cx="230.0" cy="154.0" r="1.25"/><circle cx="166.1" cy="173.9" r="1.25"/><circle cx="169.1" cy="174.7" r="1.25"/><circle cx="170.0" cy="180.5" r="1.25"/><circle cx="167.9" cy="172.5" r="1.25"/><circle cx="181.9" cy="171.6" r="1.25"/><circle cx="168.3" cy="178.2" r="1.25"/><circle cx="166.4" cy="170.9" r="1.25"/><circle cx="169.4" cy="166.4" r="1.25"/><circle cx="185.2" cy="183.6" r="1.25"/><circle cx="175.9" cy="184.5" r="1.25"/><circle cx="177.5" cy="183.3" r="1.25"/><circle cx="170.2" cy="176.9" r="1.25"/><circle cx="182.2" cy="178.7" r="1.25"/><circle cx="180.1" cy="183.2" r="1.25"/><circle cx="171.4" cy="164.2" r="1.25"/><circle cx="170.7" cy="183.6" r="1.25"/><circle cx="179.7" cy="154.7" r="1.25"/><circle cx="185.9" cy="167.6" r="1.25"/><circle cx="204.1" cy="174.4" r="1.25"/><circle cx="165.3" cy="183.6" r="1.25"/><circle cx="190.7" cy="178.4" r="1.25"/><circle cx="171.0" cy="175.8" r="1.25"/><circle cx="196.7" cy="181.6" r="1.25"/><circle cx="172.7" cy="175.4" r="1.25"/><circle cx="173.1" cy="185.0" r="1.25"/><circle cx="170.0" cy="180.6" r="1.25"/><circle cx="170.0" cy="181.3" r="1.25"/><circle cx="176.9" cy="179.7" r="1.25"/><circle cx="179.2" cy="174.9" r="1.25"/><circle cx="169.5" cy="173.1" r="1.25"/><circle cx="191.4" cy="172.6" r="1.25"/><circle cx="181.0" cy="182.8" r="1.25"/><circle cx="194.0" cy="176.4" r="1.25"/><circle cx="164.9" cy="181.7" r="1.25"/><circle cx="170.5" cy="154.3" r="1.25"/><circle cx="177.2" cy="179.8" r="1.25"/><circle cx="195.6" cy="182.1" r="1.25"/><circle cx="165.2" cy="183.4" r="1.25"/><circle cx="168.3" cy="171.0" r="1.25"/><circle cx="180.3" cy="176.8" r="1.25"/><circle cx="166.8" cy="177.6" r="1.25"/><circle cx="165.9" cy="178.7" r="1.25"/><circle cx="169.0" cy="167.8" r="1.25"/><circle cx="179.1" cy="175.4" r="1.25"/><circle cx="176.9" cy="172.7" r="1.25"/><circle cx="166.3" cy="179.2" r="1.25"/><circle cx="167.2" cy="178.2" r="1.25"/><circle cx="165.7" cy="182.7" r="1.25"/><circle cx="171.0" cy="177.9" r="1.25"/><circle cx="183.6" cy="176.5" r="1.25"/><circle cx="176.8" cy="169.0" r="1.25"/><circle cx="174.4" cy="184.8" r="1.25"/><circle cx="170.5" cy="162.3" r="1.25"/><circle cx="180.9" cy="179.8" r="1.25"/><circle cx="202.7" cy="175.2" r="1.25"/><circle cx="205.6" cy="174.4" r="1.25"/><circle cx="183.8" cy="181.8" r="1.25"/><circle cx="190.2" cy="174.5" r="1.25"/><circle cx="171.3" cy="181.8" r="1.25"/><circle cx="193.3" cy="175.1" r="1.25"/><circle cx="170.4" cy="179.8" r="1.25"/><circle cx="176.5" cy="171.2" r="1.25"/><circle cx="172.6" cy="180.2" r="1.25"/><circle cx="169.5" cy="184.5" r="1.25"/><circle cx="174.8" cy="170.1" r="1.25"/><circle cx="169.6" cy="178.8" r="1.25"/><circle cx="192.1" cy="177.5" r="1.25"/><circle cx="176.1" cy="168.5" r="1.25"/><circle cx="178.8" cy="178.2" r="1.25"/><circle cx="228.5" cy="158.0" r="1.25"/><circle cx="169.9" cy="182.5" r="1.25"/><circle cx="172.3" cy="181.5" r="1.25"/><circle cx="163.8" cy="182.4" r="1.25"/><circle cx="178.0" cy="180.9" r="1.25"/><circle cx="164.9" cy="152.5" r="1.25"/><circle cx="191.2" cy="180.1" r="1.25"/><circle cx="189.4" cy="168.0" r="1.25"/><circle cx="188.4" cy="179.0" r="1.25"/><circle cx="181.7" cy="179.1" r="1.25"/><circle cx="180.6" cy="173.1" r="1.25"/><circle cx="174.1" cy="178.0" r="1.25"/><circle cx="187.0" cy="180.2" r="1.25"/><circle cx="166.8" cy="165.4" r="1.25"/><circle cx="186.6" cy="169.0" r="1.25"/><circle cx="186.5" cy="178.7" r="1.25"/><circle cx="193.6" cy="178.1" r="1.25"/><circle cx="164.1" cy="179.4" r="1.25"/><circle cx="171.0" cy="173.6" r="1.25"/><circle cx="197.0" cy="163.9" r="1.25"/><circle cx="174.5" cy="180.9" r="1.25"/><circle cx="170.2" cy="172.1" r="1.25"/><circle cx="188.0" cy="179.5" r="1.25"/><circle cx="176.1" cy="181.0" r="1.25"/><circle cx="176.8" cy="183.4" r="1.25"/><circle cx="193.2" cy="176.2" r="1.25"/><circle cx="179.2" cy="177.6" r="1.25"/><circle cx="195.1" cy="178.1" r="1.25"/><circle cx="172.6" cy="182.2" r="1.25"/><circle cx="191.6" cy="171.1" r="1.25"/><circle cx="195.7" cy="178.3" r="1.25"/><circle cx="166.5" cy="160.4" r="1.25"/><circle cx="194.7" cy="175.6" r="1.25"/><circle cx="178.1" cy="179.6" r="1.25"/><circle cx="182.9" cy="182.9" r="1.25"/><circle cx="167.2" cy="185.3" r="1.25"/><circle cx="170.8" cy="174.6" r="1.25"/><circle cx="220.8" cy="160.7" r="1.25"/><circle cx="178.0" cy="184.0" r="1.25"/><circle cx="168.9" cy="171.6" r="1.25"/><circle cx="172.2" cy="169.8" r="1.25"/><circle cx="173.1" cy="181.1" r="1.25"/><circle cx="177.6" cy="179.8" r="1.25"/><circle cx="164.3" cy="180.6" r="1.25"/><circle cx="190.2" cy="175.0" r="1.25"/><circle cx="172.8" cy="172.2" r="1.25"/><circle cx="177.3" cy="160.2" r="1.25"/><circle cx="174.1" cy="177.8" r="1.25"/><circle cx="181.7" cy="182.8" r="1.25"/><circle cx="182.0" cy="171.3" r="1.25"/><circle cx="170.9" cy="175.3" r="1.25"/><circle cx="179.7" cy="174.9" r="1.25"/><circle cx="170.3" cy="165.5" r="1.25"/><circle cx="183.8" cy="183.8" r="1.25"/><circle cx="179.3" cy="181.8" r="1.25"/><circle cx="165.0" cy="185.1" r="1.25"/><circle cx="169.0" cy="181.7" r="1.25"/><circle cx="198.6" cy="180.0" r="1.25"/><circle cx="175.6" cy="174.0" r="1.25"/><circle cx="169.8" cy="174.1" r="1.25"/><circle cx="168.4" cy="184.5" r="1.25"/><circle cx="170.1" cy="169.3" r="1.25"/><circle cx="172.7" cy="177.0" r="1.25"/><circle cx="168.7" cy="179.7" r="1.25"/><circle cx="174.8" cy="165.6" r="1.25"/><circle cx="167.8" cy="175.1" r="1.25"/><circle cx="171.3" cy="173.5" r="1.25"/><circle cx="177.1" cy="182.8" r="1.25"/><circle cx="209.4" cy="158.3" r="1.25"/><circle cx="173.4" cy="184.9" r="1.25"/><circle cx="165.1" cy="154.9" r="1.25"/><circle cx="170.1" cy="179.6" r="1.25"/><circle cx="177.9" cy="182.3" r="1.25"/><circle cx="164.0" cy="182.2" r="1.25"/><circle cx="167.0" cy="174.9" r="1.25"/><circle cx="172.4" cy="185.0" r="1.25"/><circle cx="165.0" cy="184.7" r="1.25"/><circle cx="198.4" cy="179.9" r="1.25"/><circle cx="177.1" cy="173.9" r="1.25"/><circle cx="172.7" cy="180.2" r="1.25"/><circle cx="175.5" cy="177.1" r="1.25"/><circle cx="164.4" cy="180.8" r="1.25"/><circle cx="165.4" cy="179.4" r="1.25"/><circle cx="177.6" cy="184.1" r="1.25"/><circle cx="169.2" cy="178.1" r="1.25"/><circle cx="181.9" cy="155.0" r="1.25"/><circle cx="165.3" cy="179.1" r="1.25"/><circle cx="174.7" cy="183.3" r="1.25"/><circle cx="175.3" cy="177.7" r="1.25"/><circle cx="187.4" cy="162.3" r="1.25"/><circle cx="166.1" cy="183.1" r="1.25"/><circle cx="195.4" cy="177.2" r="1.25"/><circle cx="165.1" cy="178.5" r="1.25"/><circle cx="192.4" cy="158.8" r="1.25"/><circle cx="180.6" cy="178.3" r="1.25"/><circle cx="176.8" cy="183.7" r="1.25"/><circle cx="176.7" cy="161.9" r="1.25"/><circle cx="169.6" cy="177.2" r="1.25"/><circle cx="175.9" cy="182.2" r="1.25"/><circle cx="171.9" cy="179.5" r="1.25"/><circle cx="169.0" cy="166.9" r="1.25"/><circle cx="208.2" cy="156.1" r="1.25"/><circle cx="170.3" cy="183.8" r="1.25"/><circle cx="183.1" cy="149.0" r="1.25"/><circle cx="165.5" cy="185.8" r="1.25"/><circle cx="175.5" cy="182.4" r="1.25"/><circle cx="170.3" cy="174.6" r="1.25"/><circle cx="182.8" cy="167.5" r="1.25"/><circle cx="174.0" cy="180.9" r="1.25"/><circle cx="168.8" cy="184.8" r="1.25"/><circle cx="174.4" cy="183.2" r="1.25"/><circle cx="168.4" cy="181.3" r="1.25"/><circle cx="196.4" cy="174.5" r="1.25"/><circle cx="182.1" cy="183.7" r="1.25"/><circle cx="165.1" cy="173.2" r="1.25"/><circle cx="166.9" cy="185.1" r="1.25"/><circle cx="176.4" cy="168.7" r="1.25"/><circle cx="185.1" cy="179.6" r="1.25"/><circle cx="174.4" cy="173.6" r="1.25"/><circle cx="176.1" cy="174.2" r="1.25"/><circle cx="170.9" cy="157.5" r="1.25"/><circle cx="165.9" cy="185.4" r="1.25"/><circle cx="185.7" cy="174.9" r="1.25"/><circle cx="175.1" cy="176.7" r="1.25"/><circle cx="172.4" cy="184.4" r="1.25"/><circle cx="169.7" cy="184.1" r="1.25"/><circle cx="174.7" cy="182.5" r="1.25"/><circle cx="182.5" cy="180.6" r="1.25"/><circle cx="176.4" cy="182.2" r="1.25"/><circle cx="166.9" cy="182.8" r="1.25"/><circle cx="167.9" cy="170.8" r="1.25"/><circle cx="183.9" cy="183.6" r="1.25"/><circle cx="168.8" cy="161.6" r="1.25"/><circle cx="178.9" cy="183.3" r="1.25"/><circle cx="168.1" cy="173.2" r="1.25"/><circle cx="176.7" cy="163.9" r="1.25"/><circle cx="184.0" cy="183.5" r="1.25"/><circle cx="173.0" cy="180.3" r="1.25"/><circle cx="194.1" cy="182.0" r="1.25"/><circle cx="167.7" cy="185.3" r="1.25"/><circle cx="167.0" cy="171.1" r="1.25"/><circle cx="185.5" cy="173.4" r="1.25"/><circle cx="216.5" cy="154.9" r="1.25"/><circle cx="206.7" cy="175.5" r="1.25"/><circle cx="168.4" cy="179.5" r="1.25"/><circle cx="185.3" cy="159.5" r="1.25"/><circle cx="166.6" cy="176.8" r="1.25"/><circle cx="176.7" cy="184.5" r="1.25"/><circle cx="166.1" cy="182.2" r="1.25"/><circle cx="177.0" cy="183.4" r="1.25"/><circle cx="180.6" cy="174.5" r="1.25"/><circle cx="179.8" cy="180.9" r="1.25"/><circle cx="193.5" cy="173.5" r="1.25"/><circle cx="169.3" cy="182.8" r="1.25"/><circle cx="165.6" cy="182.2" r="1.25"/><circle cx="178.5" cy="177.6" r="1.25"/><circle cx="175.9" cy="176.8" r="1.25"/><circle cx="165.0" cy="166.5" r="1.25"/><circle cx="168.5" cy="182.8" r="1.25"/><circle cx="167.7" cy="185.4" r="1.25"/><circle cx="171.1" cy="173.2" r="1.25"/><circle cx="182.1" cy="171.4" r="1.25"/><circle cx="177.8" cy="182.0" r="1.25"/><circle cx="193.5" cy="150.3" r="1.25"/><circle cx="194.5" cy="168.2" r="1.25"/><circle cx="194.1" cy="148.4" r="1.25"/><circle cx="180.5" cy="182.3" r="1.25"/><circle cx="173.0" cy="173.5" r="1.25"/><circle cx="169.3" cy="162.9" r="1.25"/><circle cx="176.4" cy="180.3" r="1.25"/><circle cx="181.1" cy="182.4" r="1.25"/><circle cx="164.9" cy="148.7" r="1.25"/><circle cx="168.0" cy="150.2" r="1.25"/><circle cx="171.9" cy="185.1" r="1.25"/><circle cx="176.9" cy="177.8" r="1.25"/><circle cx="193.8" cy="169.9" r="1.25"/><circle cx="180.7" cy="179.9" r="1.25"/><circle cx="173.6" cy="184.7" r="1.25"/><circle cx="167.3" cy="184.9" r="1.25"/><circle cx="175.0" cy="151.4" r="1.25"/><circle cx="166.2" cy="182.6" r="1.25"/><circle cx="176.6" cy="182.2" r="1.25"/><circle cx="177.5" cy="180.8" r="1.25"/><circle cx="168.1" cy="180.8" r="1.25"/><circle cx="172.2" cy="161.7" r="1.25"/><circle cx="177.6" cy="184.5" r="1.25"/><circle cx="164.0" cy="176.8" r="1.25"/><circle cx="217.6" cy="163.6" r="1.25"/><circle cx="183.7" cy="154.0" r="1.25"/><circle cx="167.9" cy="183.7" r="1.25"/><circle cx="191.3" cy="172.4" r="1.25"/><circle cx="168.6" cy="182.0" r="1.25"/><circle cx="183.9" cy="174.0" r="1.25"/><circle cx="173.7" cy="183.8" r="1.25"/><circle cx="189.5" cy="183.2" r="1.25"/><circle cx="200.4" cy="159.1" r="1.25"/><circle cx="164.2" cy="185.9" r="1.25"/><circle cx="178.2" cy="184.0" r="1.25"/><circle cx="188.1" cy="154.2" r="1.25"/><circle cx="211.8" cy="164.2" r="1.25"/><circle cx="172.4" cy="179.4" r="1.25"/><circle cx="164.4" cy="180.9" r="1.25"/><circle cx="165.3" cy="180.4" r="1.25"/><circle cx="170.0" cy="183.5" r="1.25"/><circle cx="167.4" cy="172.1" r="1.25"/><circle cx="170.9" cy="162.1" r="1.25"/><circle cx="168.2" cy="182.4" r="1.25"/><circle cx="170.5" cy="176.3" r="1.25"/><circle cx="178.7" cy="176.4" r="1.25"/><circle cx="181.1" cy="183.3" r="1.25"/><circle cx="164.4" cy="165.2" r="1.25"/><circle cx="178.9" cy="180.8" r="1.25"/><circle cx="184.4" cy="178.4" r="1.25"/><circle cx="204.9" cy="166.3" r="1.25"/><circle cx="171.0" cy="184.0" r="1.25"/><circle cx="164.1" cy="184.4" r="1.25"/><circle cx="180.5" cy="183.0" r="1.25"/><circle cx="214.5" cy="71.3" r="1.25"/><circle cx="206.7" cy="81.8" r="1.25"/><circle cx="205.4" cy="90.3" r="1.25"/><circle cx="209.2" cy="89.2" r="1.25"/><circle cx="238.4" cy="90.9" r="1.25"/><circle cx="191.2" cy="94.1" r="1.25"/><circle cx="232.5" cy="104.0" r="1.25"/><circle cx="209.6" cy="105.1" r="1.25"/><circle cx="216.2" cy="106.8" r="1.25"/><circle cx="163.1" cy="123.8" r="1.25"/><circle cx="166.1" cy="131.9" r="1.25"/><circle cx="174.6" cy="128.2" r="1.25"/><circle cx="177.4" cy="136.5" r="1.25"/><circle cx="207.0" cy="116.6" r="1.25"/><circle cx="207.0" cy="120.3" r="1.25"/><circle cx="209.3" cy="137.0" r="1.25"/><circle cx="215.7" cy="129.6" r="1.25"/><circle cx="195.4" cy="138.1" r="1.25"/><circle cx="199.6" cy="133.5" r="1.25"/><circle cx="183.9" cy="137.0" r="1.25"/><circle cx="181.6" cy="144.3" r="1.25"/><circle cx="189.7" cy="147.3" r="1.25"/><circle cx="167.7" cy="148.5" r="1.25"/><circle cx="210.4" cy="152.0" r="1.25"/><circle cx="216.2" cy="150.8" r="1.25"/><circle cx="219.7" cy="154.3" r="1.25"/><circle cx="216.2" cy="163.5" r="1.25"/><circle cx="208.1" cy="160.0" r="1.25"/><circle cx="213.9" cy="182.0" r="1.25"/><circle cx="207.0" cy="178.5" r="1.25"/><circle cx="202.4" cy="171.6" r="1.25"/><circle cx="225.0" cy="112.0" r="1.25"/><circle cx="240.0" cy="98.0" r="1.25"/><circle cx="236.0" cy="125.0" r="1.25"/><circle cx="228.0" cy="140.0" r="1.25"/><circle cx="222.0" cy="170.0" r="1.25"/><circle cx="230.0" cy="160.0" r="1.25"/><circle cx="200.0" cy="118.0" r="1.25"/><circle cx="185.0" cy="112.0" r="1.25"/><circle cx="172.0" cy="118.0" r="1.25"/><circle cx="196.0" cy="125.0" r="1.25"/><circle cx="188.0" cy="128.0" r="1.25"/></g>
<g stroke="#000" stroke-width="1.25" fill="none">
<path d="M31.5 15.8V227.9M28.8 227.3H249"/>
<path d="M28.6 218.3H31.5" stroke-width="1"/>
<path d="M28.6 169.5H31.5" stroke-width="1"/>
<path d="M28.6 120.7H31.5" stroke-width="1"/>
<path d="M28.6 71.9H31.5" stroke-width="1"/>
<path d="M28.6 23.1H31.5" stroke-width="1"/>
<path d="M39.1 227.3V230.4" stroke-width="1"/>
<path d="M92.2 227.3V230.4" stroke-width="1"/>
<path d="M145.2 227.3V230.4" stroke-width="1"/>
<path d="M198.3 227.3V230.4" stroke-width="1"/>
</g>
<text x="27.2" y="221.1" font-size="7.8" text-anchor="end" fill="#222">0</text>
<text x="27.2" y="172.3" font-size="7.8" text-anchor="end" fill="#222">2</text>
<text x="27.2" y="123.5" font-size="7.8" text-anchor="end" fill="#222">4</text>
<text x="27.2" y="74.7" font-size="7.8" text-anchor="end" fill="#222">6</text>
<text x="27.2" y="25.9" font-size="7.8" text-anchor="end" fill="#222">8</text>
<text x="39.1" y="238.2" font-size="7.2" text-anchor="middle" fill="#222">-6</text>
<text x="92.2" y="238.2" font-size="7.2" text-anchor="middle" fill="#222">-3</text>
<text x="145.2" y="238.2" font-size="7.2" text-anchor="middle" fill="#222">0</text>
<text x="198.3" y="238.2" font-size="7.2" text-anchor="middle" fill="#222">3</text>
<text transform="translate(17.8,120.9) rotate(-90)" font-size="8" text-anchor="middle" fill="#222" textLength="39.8" lengthAdjust="spacingAndGlyphs">-Log<tspan font-size="4.8" dy="1.8">10</tspan><tspan dy="-1.8"> padj</tspan></text>
<text x="138.7" y="248.8" font-size="9" text-anchor="middle" fill="#222" textLength="56.4" lengthAdjust="spacingAndGlyphs">Log<tspan font-size="5.2" dy="2">2</tspan><tspan dy="-2"> fold change</tspan></text>
<circle cx="37" cy="253.3" r="1.6" fill="#b3d2f6"/><circle cx="37" cy="263.3" r="1.6" fill="#f0f4f4"/><circle cx="37" cy="272.6" r="1.6" fill="#f5a6c8"/>
<text x="42.1" y="255.6" font-size="6.5" fill="#333" stroke="#333" stroke-width="0.12" textLength="47.8" lengthAdjust="spacingAndGlyphs">Down-regulated</text>
<text x="42.1" y="265.6" font-size="6.5" fill="#333" stroke="#333" stroke-width="0.12" textLength="33.6" lengthAdjust="spacingAndGlyphs">Not Altered</text>
<text x="42.1" y="274.9" font-size="6.5" fill="#333" stroke="#333" stroke-width="0.12" textLength="39.7" lengthAdjust="spacingAndGlyphs">Up-regulated</text>
<g font-size="5.7" font-style="italic" fill="#222" stroke="#222" stroke-width="0.08"><text x="62.5" y="23.3">AIDH1A2</text><text x="38.0" y="34.0">AKAP12</text><text x="56.3" y="42.8">JPH1</text><text x="52.0" y="69.0">RORB</text><text x="35.0" y="78.3">RASEF</text><text x="48.8" y="88.3">FA2H</text><text x="67.0" y="89.0">DLEU7-AS1</text><text x="36.3" y="98.3">OR10R2</text><text x="68.8" y="98.3">GFRA4</text><text x="42.0" y="108.3">TLX1</text><text x="61.3" y="107.5">CLCA1</text><text x="83.8" y="107.0">FBXL7</text><text x="70.8" y="116.3">PREX2</text><text x="90.5" y="117.0">HS3ST4</text><text x="72.0" y="125.0">OR10R3P</text><text x="34.0" y="139.0">SIX6</text><text x="61.2" y="142.0">LCN8</text><text x="50.0" y="150.5">IL4</text><text x="213.8" y="68.3">RNY1</text><text x="183.3" y="78.3">SNORA20</text><text x="213.8" y="80.0">UTS2</text><text x="175.0" y="87.8">SCARNA13</text><text x="226.3" y="89.5">BMI1</text><text x="195.0" y="102.0">LPHN3</text><text x="217.0" y="100.0">SNORA38B</text><text x="181.3" y="112.8">TCTEX1D1</text><text x="217.0" y="113.3">SNORD6</text><text x="175.5" y="122.0">CHRDL1</text><text x="221.3" y="122.0">HOXA9</text><text x="182.0" y="131.3">TRBV27</text><text x="210.5" y="139.0">SNORA60</text><text x="190.0" y="145.8">MMP7</text><text x="215.5" y="147.5">IGLVIV-59</text><text x="176.3" y="154.5">SCARNA20</text><text x="224.5" y="158.8">HOXA11</text><text x="216.3" y="178.3">HOXC10</text></g>
<g stroke="#333" stroke-width="0.6" fill="none"><path d="M56.9 110.8L67.7 96.9M60 111.5L82.3 104.6M211.3 78.8L208.8 88.8M198 120H206.3M220 121.3L215.5 130.5M219.5 149.5L223.8 154.5M213.8 158.8L221.3 172.5"/></g>
<path d="M65.1 87.7V99.2" stroke="#bbb" stroke-width="0.6"/>
<text x="6.3" y="16.3" font-size="10.4" font-weight="bold" stroke="#000" stroke-width="0.3" textLength="8.1" lengthAdjust="spacingAndGlyphs">A</text>
<g transform="translate(283.7,46.2) scale(4.875,1.49796)" shape-rendering="crispEdges">
<rect width="47" height="245" fill="#fafcfd"/>
<path fill="#69aae6" d="M26 2h1v1h-1zM26 54h1v1h-1z"/>
<path fill="#82baea" d="M26 5h1v1h-1zM35 173h1v1h-1zM41 190h2v1h-2zM44 234h1v1h-1z"/>
<path fill="#8ec2ed" d="M10 61h1v1h-1zM36 191h1v1h-1zM43 234h1v1h-1z"/>
<path fill="#9bcaef" d="M26 0h1v1h-1zM3 35h1v1h-1zM26 58h1v1h-1zM16 62h1v1h-1zM15 76h1v1h-1zM43 152h1v1h-1zM44 162h1v1h-1zM43 164h1v1h-1zM45 173h1v1h-1zM46 186h1v1h-1zM46 217h1v1h-1zM46 224h1v1h-1zM45 234h2v1h-2z"/>
<path fill="#a7d2f1" d="M13 57h1v1h-1zM22 57h1v1h-1zM19 63h1v1h-1zM13 65h1v1h-1zM16 77h1v1h-1zM25 88h1v1h-1zM23 109h1v1h-1zM23 115h1v1h-1zM35 120h1v1h-1zM30 122h1v1h-1zM23 123h1v1h-1zM46 125h1v1h-1zM40 130h1v1h-1zM38 137h1v1h-1zM35 139h1v1h-1zM45 139h1v1h-1zM45 162h2v1h-2zM42 163h1v1h-1zM46 169h1v1h-1zM46 178h1v1h-1zM46 180h1v1h-1zM42 186h1v1h-1zM46 188h1v1h-1zM32 190h1v1h-1zM37 190h1v1h-1zM40 190h1v1h-1zM44 190h1v1h-1zM38 191h1v1h-1zM46 208h1v1h-1zM46 210h1v1h-1zM42 215h1v1h-1zM45 216h2v1h-2zM45 217h1v1h-1zM45 223h1v1h-1zM43 224h2v1h-2zM44 231h1v1h-1zM30 235h1v1h-1zM42 235h2v1h-2zM46 237h1v1h-1z"/>
<path fill="#b4dbf4" d="M26 1h1v1h-1zM25 2h1v1h-1zM13 10h1v1h-1zM24 30h1v1h-1zM36 32h1v1h-1zM22 36h1v1h-1zM24 41h1v1h-1zM22 45h1v1h-1zM18 47h1v1h-1zM7 49h1v1h-1zM26 56h1v1h-1zM11 61h1v1h-1zM23 66h1v1h-1zM26 66h1v1h-1zM16 76h1v1h-1zM6 90h1v1h-1zM3 92h1v1h-1zM10 92h1v1h-1zM26 92h1v1h-1zM3 101h1v1h-1zM15 103h1v1h-1zM22 115h1v1h-1zM42 120h1v1h-1zM35 124h1v1h-1zM27 125h1v1h-1zM43 125h1v1h-1zM45 125h1v1h-1zM31 132h1v1h-1zM42 137h1v1h-1zM42 139h3v1h-3zM36 144h1v1h-1zM43 151h1v1h-1zM33 154h1v1h-1zM35 154h1v1h-1zM45 154h2v1h-2zM30 164h1v1h-1zM35 164h1v1h-1zM27 169h1v1h-1zM35 169h1v1h-1zM38 169h1v1h-1zM44 169h1v1h-1zM41 170h2v1h-2zM45 171h1v1h-1zM42 173h1v1h-1zM45 176h1v1h-1zM30 178h1v1h-1zM38 178h1v1h-1zM35 179h1v1h-1zM39 182h1v1h-1zM30 186h1v1h-1zM41 186h1v1h-1zM43 186h1v1h-1zM46 189h1v1h-1zM35 190h1v1h-1zM45 190h1v1h-1zM34 191h1v1h-1zM37 191h1v1h-1zM46 195h1v1h-1zM28 198h1v1h-1zM46 204h1v1h-1zM45 208h1v1h-1zM46 209h1v1h-1zM44 210h1v1h-1zM43 212h2v1h-2zM46 215h1v1h-1zM38 217h1v1h-1zM22 223h1v1h-1zM46 226h1v1h-1zM43 227h2v1h-2zM42 228h1v1h-1zM46 230h1v1h-1zM45 231h1v1h-1zM28 234h1v1h-1zM31 235h1v1h-1zM41 235h1v1h-1z"/>
<path fill="#bfe0f6" d="M18 1h1v1h-1zM3 2h1v1h-1zM42 2h1v1h-1zM23 3h1v1h-1zM25 3h2v1h-2zM26 6h1v1h-1zM3 10h1v1h-1zM23 11h1v1h-1zM37 11h1v1h-1zM15 17h1v1h-1zM22 18h1v1h-1zM23 29h1v1h-1zM9 30h1v1h-1zM15 30h1v1h-1zM0 32h1v1h-1zM3 32h1v1h-1zM26 38h1v1h-1zM26 40h1v1h-1zM7 42h1v1h-1zM21 45h1v1h-1zM17 46h1v1h-1zM13 47h1v1h-1zM3 50h1v1h-1zM9 50h1v1h-1zM22 50h1v1h-1zM26 50h1v1h-1zM23 51h1v1h-1zM25 54h1v1h-1zM11 57h1v1h-1zM15 57h1v1h-1zM21 57h1v1h-1zM0 58h1v1h-1zM3 58h1v1h-1zM1 61h1v1h-1zM23 61h1v1h-1zM24 62h1v1h-1zM26 62h1v1h-1zM20 63h1v1h-1zM26 63h1v1h-1zM25 64h1v1h-1zM5 65h1v1h-1zM23 68h1v1h-1zM25 69h1v1h-1zM3 76h1v1h-1zM19 76h1v1h-1zM21 76h1v1h-1zM41 76h1v1h-1zM23 79h1v1h-1zM21 87h1v1h-1zM4 89h1v1h-1zM23 89h1v1h-1zM26 91h1v1h-1zM11 92h1v1h-1zM15 95h1v1h-1zM5 99h1v1h-1zM23 99h1v1h-1zM26 103h1v1h-1zM27 112h1v1h-1zM35 112h1v1h-1zM46 115h1v1h-1zM23 116h1v1h-1zM44 116h1v1h-1zM46 116h1v1h-1zM34 120h1v1h-1zM36 120h1v1h-1zM23 121h1v1h-1zM33 125h1v1h-1zM13 127h1v1h-1zM41 128h1v1h-1zM23 133h1v1h-1zM24 137h1v1h-1zM46 137h1v1h-1zM34 139h1v1h-1zM36 139h1v1h-1zM41 139h1v1h-1zM3 140h1v1h-1zM37 140h2v1h-2zM43 140h1v1h-1zM33 142h1v1h-1zM35 142h1v1h-1zM38 142h1v1h-1zM44 145h1v1h-1zM42 146h1v1h-1zM43 149h1v1h-1zM44 151h1v1h-1zM29 153h2v1h-2zM34 153h1v1h-1zM38 153h1v1h-1zM31 154h1v1h-1zM34 158h1v1h-1zM42 158h1v1h-1zM35 163h1v1h-1zM43 163h2v1h-2zM23 164h1v1h-1zM31 164h1v1h-1zM33 164h1v1h-1zM36 164h1v1h-1zM41 164h2v1h-2zM40 166h1v1h-1zM42 166h1v1h-1zM34 167h1v1h-1zM45 167h1v1h-1zM45 168h1v1h-1zM36 169h2v1h-2zM42 169h1v1h-1zM45 169h1v1h-1zM32 170h1v1h-1zM27 171h1v1h-1zM44 171h1v1h-1zM33 172h1v1h-1zM38 172h1v1h-1zM21 173h1v1h-1zM24 173h1v1h-1zM37 173h1v1h-1zM46 173h1v1h-1zM46 174h1v1h-1zM24 177h1v1h-1zM45 178h1v1h-1zM37 179h1v1h-1zM28 180h3v1h-3zM45 180h1v1h-1zM46 182h1v1h-1zM33 184h1v1h-1zM35 184h1v1h-1zM29 186h1v1h-1zM31 186h2v1h-2zM38 186h1v1h-1zM40 186h1v1h-1zM44 186h1v1h-1zM45 188h1v1h-1zM31 190h1v1h-1zM33 190h1v1h-1zM36 190h1v1h-1zM39 190h1v1h-1zM43 190h1v1h-1zM35 191h1v1h-1zM43 191h2v1h-2zM46 191h1v1h-1zM42 192h4v1h-4zM28 194h1v1h-1zM45 194h1v1h-1zM44 195h2v1h-2zM32 198h1v1h-1zM38 198h1v1h-1zM42 198h1v1h-1zM45 199h1v1h-1zM45 201h1v1h-1zM44 203h1v1h-1zM45 204h1v1h-1zM45 206h1v1h-1zM29 207h2v1h-2zM45 207h1v1h-1zM43 208h2v1h-2zM37 210h2v1h-2zM45 210h1v1h-1zM46 213h1v1h-1zM46 214h1v1h-1zM29 215h1v1h-1zM37 216h1v1h-1zM27 217h1v1h-1zM44 217h1v1h-1zM46 218h1v1h-1zM43 220h1v1h-1zM32 221h1v1h-1zM42 221h1v1h-1zM41 222h1v1h-1zM44 222h1v1h-1zM38 225h2v1h-2zM28 227h1v1h-1zM36 227h1v1h-1zM45 227h1v1h-1zM39 229h1v1h-1zM38 230h1v1h-1zM40 230h1v1h-1zM45 230h1v1h-1zM46 231h1v1h-1zM36 232h1v1h-1zM40 232h1v1h-1zM45 232h2v1h-2zM38 234h1v1h-1zM29 235h1v1h-1zM36 235h1v1h-1zM44 235h1v1h-1zM38 241h1v1h-1z"/>
<path fill="#cae6f8" d="M17 0h1v1h-1zM31 0h1v1h-1zM22 1h1v1h-1zM30 1h1v1h-1zM28 2h1v1h-1zM26 4h1v1h-1zM42 6h1v1h-1zM46 6h1v1h-1zM3 9h1v1h-1zM23 9h1v1h-1zM15 10h1v1h-1zM22 10h2v1h-2zM33 10h1v1h-1zM32 11h1v1h-1zM23 12h1v1h-1zM3 14h1v1h-1zM19 14h1v1h-1zM1 16h1v1h-1zM41 16h1v1h-1zM16 17h1v1h-1zM1 22h1v1h-1zM26 22h1v1h-1zM10 24h1v1h-1zM41 24h1v1h-1zM8 25h1v1h-1zM23 25h1v1h-1zM3 26h1v1h-1zM7 26h2v1h-2zM43 26h1v1h-1zM18 28h1v1h-1zM22 29h1v1h-1zM23 30h1v1h-1zM26 30h1v1h-1zM18 31h1v1h-1zM23 33h1v1h-1zM35 33h1v1h-1zM17 36h1v1h-1zM23 36h1v1h-1zM26 36h1v1h-1zM15 39h1v1h-1zM23 39h1v1h-1zM25 39h1v1h-1zM6 40h1v1h-1zM8 41h1v1h-1zM19 41h1v1h-1zM5 42h1v1h-1zM19 45h1v1h-1zM3 46h1v1h-1zM15 46h1v1h-1zM18 46h1v1h-1zM22 46h1v1h-1zM10 47h2v1h-2zM8 49h2v1h-2zM32 49h1v1h-1zM1 50h2v1h-2zM5 50h1v1h-1zM7 50h1v1h-1zM11 50h1v1h-1zM23 50h1v1h-1zM8 52h1v1h-1zM8 54h3v1h-3zM23 54h1v1h-1zM3 56h1v1h-1zM0 57h3v1h-3zM12 57h1v1h-1zM23 57h1v1h-1zM26 57h1v1h-1zM31 57h1v1h-1zM36 57h1v1h-1zM41 57h1v1h-1zM2 58h1v1h-1zM4 58h1v1h-1zM6 58h1v1h-1zM9 58h1v1h-1zM17 58h1v1h-1zM23 58h2v1h-2zM11 59h1v1h-1zM20 59h1v1h-1zM0 61h1v1h-1zM12 61h1v1h-1zM15 61h2v1h-2zM25 61h1v1h-1zM31 61h1v1h-1zM17 62h2v1h-2zM21 62h2v1h-2zM25 62h1v1h-1zM17 63h1v1h-1zM25 63h1v1h-1zM8 64h1v1h-1zM3 66h1v1h-1zM5 66h1v1h-1zM11 66h1v1h-1zM25 66h1v1h-1zM35 66h1v1h-1zM3 67h1v1h-1zM20 68h1v1h-1zM26 69h1v1h-1zM3 70h1v1h-1zM22 71h2v1h-2zM15 72h1v1h-1zM18 72h1v1h-1zM18 73h1v1h-1zM9 74h2v1h-2zM15 75h1v1h-1zM5 76h1v1h-1zM7 76h1v1h-1zM11 76h1v1h-1zM17 76h2v1h-2zM42 76h1v1h-1zM15 77h1v1h-1zM17 77h3v1h-3zM22 77h1v1h-1zM31 78h1v1h-1zM13 79h1v1h-1zM23 80h1v1h-1zM4 81h2v1h-2zM8 81h1v1h-1zM22 84h2v1h-2zM6 85h1v1h-1zM20 85h1v1h-1zM18 86h2v1h-2zM23 86h1v1h-1zM22 87h1v1h-1zM5 89h1v1h-1zM12 89h1v1h-1zM15 89h1v1h-1zM5 90h1v1h-1zM12 91h1v1h-1zM1 92h2v1h-2zM28 92h2v1h-2zM35 92h1v1h-1zM24 93h1v1h-1zM26 93h1v1h-1zM7 95h1v1h-1zM22 95h1v1h-1zM7 97h1v1h-1zM39 97h1v1h-1zM3 98h1v1h-1zM5 98h1v1h-1zM23 98h1v1h-1zM3 99h1v1h-1zM16 99h1v1h-1zM34 99h1v1h-1zM42 99h1v1h-1zM2 101h1v1h-1zM5 101h1v1h-1zM12 101h1v1h-1zM18 103h1v1h-1zM46 103h1v1h-1zM11 104h2v1h-2zM23 104h1v1h-1zM28 104h1v1h-1zM15 106h1v1h-1zM13 108h1v1h-1zM21 109h1v1h-1zM41 109h2v1h-2zM44 109h1v1h-1zM30 112h1v1h-1zM32 112h1v1h-1zM34 112h1v1h-1zM36 112h1v1h-1zM45 112h1v1h-1zM41 113h1v1h-1zM44 113h1v1h-1zM41 114h1v1h-1zM40 115h1v1h-1zM16 116h1v1h-1zM45 116h1v1h-1zM46 117h1v1h-1zM46 118h1v1h-1zM25 120h1v1h-1zM27 120h2v1h-2zM31 120h1v1h-1zM43 120h1v1h-1zM22 121h1v1h-1zM40 121h1v1h-1zM42 121h1v1h-1zM31 122h1v1h-1zM45 122h1v1h-1zM30 123h1v1h-1zM15 124h1v1h-1zM38 124h1v1h-1zM28 125h2v1h-2zM32 125h1v1h-1zM35 125h1v1h-1zM38 125h1v1h-1zM3 127h1v1h-1zM33 127h2v1h-2zM46 128h1v1h-1zM28 129h1v1h-1zM34 129h1v1h-1zM32 130h2v1h-2zM38 130h1v1h-1zM23 131h1v1h-1zM29 132h2v1h-2zM38 132h1v1h-1zM44 132h1v1h-1zM24 133h1v1h-1zM43 133h1v1h-1zM45 134h1v1h-1zM34 135h1v1h-1zM38 135h1v1h-1zM45 135h1v1h-1zM29 136h3v1h-3zM45 136h1v1h-1zM23 137h1v1h-1zM37 137h1v1h-1zM28 138h1v1h-1zM31 138h1v1h-1zM36 138h1v1h-1zM45 138h2v1h-2zM3 139h1v1h-1zM24 139h1v1h-1zM27 139h2v1h-2zM33 139h1v1h-1zM38 139h1v1h-1zM20 140h1v1h-1zM23 140h1v1h-1zM36 140h1v1h-1zM44 140h1v1h-1zM46 141h1v1h-1zM46 142h1v1h-1zM35 144h1v1h-1zM38 144h1v1h-1zM44 144h1v1h-1zM43 145h1v1h-1zM45 145h1v1h-1zM30 146h1v1h-1zM41 146h1v1h-1zM43 146h1v1h-1zM43 147h1v1h-1zM41 151h1v1h-1zM23 152h1v1h-1zM31 152h2v1h-2zM35 152h1v1h-1zM41 152h2v1h-2zM44 152h1v1h-1zM23 153h1v1h-1zM41 153h1v1h-1zM45 153h2v1h-2zM32 154h1v1h-1zM23 155h1v1h-1zM25 155h1v1h-1zM22 156h2v1h-2zM42 156h1v1h-1zM27 157h1v1h-1zM42 157h1v1h-1zM44 158h1v1h-1zM36 159h1v1h-1zM42 160h1v1h-1zM43 162h1v1h-1zM41 163h1v1h-1zM45 163h1v1h-1zM33 166h1v1h-1zM41 166h1v1h-1zM38 167h1v1h-1zM46 167h1v1h-1zM33 169h1v1h-1zM39 169h1v1h-1zM35 170h1v1h-1zM39 170h2v1h-2zM43 170h2v1h-2zM32 171h1v1h-1zM35 171h1v1h-1zM46 171h1v1h-1zM35 172h2v1h-2zM34 173h1v1h-1zM36 173h1v1h-1zM41 173h1v1h-1zM43 173h2v1h-2zM31 175h1v1h-1zM38 175h1v1h-1zM27 178h3v1h-3zM39 178h2v1h-2zM44 178h1v1h-1zM30 179h2v1h-2zM46 181h1v1h-1zM35 182h1v1h-1zM32 184h1v1h-1zM38 185h1v1h-1zM26 186h2v1h-2zM33 186h1v1h-1zM37 186h1v1h-1zM45 186h1v1h-1zM44 188h1v1h-1zM40 189h3v1h-3zM45 189h1v1h-1zM29 190h2v1h-2zM38 190h1v1h-1zM46 190h1v1h-1zM28 191h1v1h-1zM27 194h1v1h-1zM29 194h1v1h-1zM35 194h1v1h-1zM46 194h1v1h-1zM29 195h1v1h-1zM46 197h1v1h-1zM30 198h2v1h-2zM35 198h2v1h-2zM40 198h1v1h-1zM29 199h2v1h-2zM28 200h1v1h-1zM43 200h2v1h-2zM39 201h1v1h-1zM43 201h1v1h-1zM44 202h2v1h-2zM43 204h2v1h-2zM21 205h1v1h-1zM44 205h1v1h-1zM42 206h1v1h-1zM28 208h2v1h-2zM35 208h2v1h-2zM42 209h1v1h-1zM29 210h3v1h-3zM34 210h1v1h-1zM39 210h1v1h-1zM45 212h2v1h-2zM43 215h1v1h-1zM40 216h1v1h-1zM44 218h1v1h-1zM42 219h1v1h-1zM44 219h1v1h-1zM41 220h1v1h-1zM30 221h2v1h-2zM44 221h2v1h-2zM14 222h1v1h-1zM43 223h2v1h-2zM46 223h1v1h-1zM6 224h1v1h-1zM30 224h3v1h-3zM39 224h1v1h-1zM27 225h1v1h-1zM40 225h1v1h-1zM29 226h1v1h-1zM41 226h1v1h-1zM44 226h2v1h-2zM46 227h1v1h-1zM43 228h2v1h-2zM46 228h1v1h-1zM36 229h2v1h-2zM46 229h1v1h-1zM18 231h1v1h-1zM39 231h1v1h-1zM26 232h1v1h-1zM31 232h1v1h-1zM43 232h2v1h-2zM36 233h1v1h-1zM38 233h1v1h-1zM42 233h1v1h-1zM44 233h2v1h-2zM32 234h1v1h-1zM36 234h1v1h-1zM28 237h2v1h-2zM41 237h1v1h-1zM46 238h1v1h-1zM36 239h1v1h-1zM36 244h1v1h-1z"/>
<path fill="#d6ecfa" d="M10 0h1v1h-1zM16 0h1v1h-1zM18 0h1v1h-1zM17 1h1v1h-1zM29 1h1v1h-1zM2 2h1v1h-1zM4 2h1v1h-1zM7 2h1v1h-1zM19 2h1v1h-1zM32 2h1v1h-1zM38 2h1v1h-1zM40 2h1v1h-1zM15 3h1v1h-1zM21 3h1v1h-1zM24 3h1v1h-1zM5 6h1v1h-1zM41 6h1v1h-1zM18 7h1v1h-1zM23 7h1v1h-1zM6 8h1v1h-1zM24 9h1v1h-1zM28 9h1v1h-1zM5 10h1v1h-1zM17 10h1v1h-1zM20 10h2v1h-2zM36 11h1v1h-1zM38 11h1v1h-1zM44 11h1v1h-1zM21 12h1v1h-1zM1 13h1v1h-1zM3 13h1v1h-1zM20 14h1v1h-1zM1 15h1v1h-1zM9 15h1v1h-1zM11 15h2v1h-2zM15 15h1v1h-1zM21 15h1v1h-1zM23 15h1v1h-1zM1 17h1v1h-1zM23 17h1v1h-1zM42 17h1v1h-1zM23 18h1v1h-1zM7 22h3v1h-3zM25 22h1v1h-1zM43 22h1v1h-1zM46 22h1v1h-1zM23 23h1v1h-1zM3 24h1v1h-1zM8 24h1v1h-1zM36 24h1v1h-1zM39 24h1v1h-1zM12 25h1v1h-1zM17 25h1v1h-1zM9 26h2v1h-2zM35 26h1v1h-1zM42 26h1v1h-1zM23 27h1v1h-1zM40 27h1v1h-1zM6 28h1v1h-1zM25 28h1v1h-1zM25 29h1v1h-1zM34 29h1v1h-1zM1 30h1v1h-1zM4 30h1v1h-1zM11 30h1v1h-1zM25 30h1v1h-1zM31 31h1v1h-1zM1 32h1v1h-1zM23 32h1v1h-1zM26 34h1v1h-1zM16 36h1v1h-1zM18 36h2v1h-2zM33 36h1v1h-1zM42 36h1v1h-1zM26 37h1v1h-1zM39 39h1v1h-1zM11 40h2v1h-2zM42 40h1v1h-1zM25 41h1v1h-1zM36 41h1v1h-1zM39 42h1v1h-1zM18 43h1v1h-1zM11 45h1v1h-1zM20 45h1v1h-1zM14 46h1v1h-1zM31 47h1v1h-1zM10 48h1v1h-1zM15 48h1v1h-1zM29 48h1v1h-1zM5 49h1v1h-1zM10 49h1v1h-1zM12 49h1v1h-1zM8 50h1v1h-1zM24 50h1v1h-1zM2 51h2v1h-2zM25 51h1v1h-1zM5 52h2v1h-2zM38 52h2v1h-2zM0 54h1v1h-1zM2 54h1v1h-1zM11 54h2v1h-2zM15 54h2v1h-2zM30 54h1v1h-1zM32 54h1v1h-1zM3 55h1v1h-1zM12 55h2v1h-2zM21 55h1v1h-1zM26 55h1v1h-1zM43 55h1v1h-1zM4 56h1v1h-1zM15 56h1v1h-1zM25 57h1v1h-1zM30 57h1v1h-1zM35 57h1v1h-1zM40 57h1v1h-1zM42 57h2v1h-2zM5 58h1v1h-1zM8 58h1v1h-1zM10 58h1v1h-1zM16 58h1v1h-1zM20 58h1v1h-1zM30 58h1v1h-1zM10 59h1v1h-1zM18 59h2v1h-2zM1 60h1v1h-1zM17 60h1v1h-1zM23 60h2v1h-2zM2 61h1v1h-1zM7 61h1v1h-1zM9 61h1v1h-1zM13 61h2v1h-2zM18 61h1v1h-1zM20 61h1v1h-1zM24 61h1v1h-1zM26 61h1v1h-1zM33 61h1v1h-1zM3 62h1v1h-1zM20 62h1v1h-1zM15 63h1v1h-1zM18 63h1v1h-1zM21 63h1v1h-1zM24 63h1v1h-1zM32 64h3v1h-3zM38 64h1v1h-1zM12 65h1v1h-1zM14 65h1v1h-1zM20 66h1v1h-1zM24 66h1v1h-1zM36 66h1v1h-1zM3 68h1v1h-1zM19 68h1v1h-1zM2 69h2v1h-2zM10 69h1v1h-1zM18 69h1v1h-1zM23 69h2v1h-2zM4 70h1v1h-1zM17 72h1v1h-1zM19 73h3v1h-3zM23 73h1v1h-1zM17 74h1v1h-1zM32 74h1v1h-1zM10 75h1v1h-1zM4 76h1v1h-1zM20 76h1v1h-1zM22 76h3v1h-3zM43 76h1v1h-1zM3 77h1v1h-1zM21 77h1v1h-1zM24 77h1v1h-1zM3 78h3v1h-3zM4 79h1v1h-1zM6 81h2v1h-2zM9 81h1v1h-1zM12 81h1v1h-1zM21 81h1v1h-1zM17 82h1v1h-1zM4 84h1v1h-1zM6 84h1v1h-1zM8 84h2v1h-2zM3 85h1v1h-1zM20 86h2v1h-2zM2 87h2v1h-2zM20 87h1v1h-1zM5 88h1v1h-1zM16 88h1v1h-1zM24 88h1v1h-1zM13 89h1v1h-1zM26 89h1v1h-1zM16 90h1v1h-1zM20 90h1v1h-1zM29 90h1v1h-1zM3 91h1v1h-1zM5 91h1v1h-1zM9 91h1v1h-1zM4 92h3v1h-3zM8 92h1v1h-1zM12 92h1v1h-1zM15 92h1v1h-1zM33 92h1v1h-1zM36 92h2v1h-2zM1 94h1v1h-1zM17 94h1v1h-1zM11 95h1v1h-1zM13 95h1v1h-1zM18 95h1v1h-1zM28 96h1v1h-1zM2 97h1v1h-1zM6 97h1v1h-1zM12 97h1v1h-1zM21 97h1v1h-1zM38 97h1v1h-1zM15 98h1v1h-1zM24 98h1v1h-1zM26 98h1v1h-1zM25 99h1v1h-1zM36 99h2v1h-2zM11 100h1v1h-1zM18 100h1v1h-1zM18 101h1v1h-1zM23 101h1v1h-1zM26 101h1v1h-1zM33 101h1v1h-1zM16 103h1v1h-1zM19 103h1v1h-1zM24 103h2v1h-2zM4 104h1v1h-1zM8 104h3v1h-3zM13 104h1v1h-1zM19 104h2v1h-2zM22 104h1v1h-1zM24 104h2v1h-2zM31 104h1v1h-1zM37 104h1v1h-1zM41 104h1v1h-1zM46 105h1v1h-1zM16 106h1v1h-1zM22 106h2v1h-2zM10 108h3v1h-3zM39 109h1v1h-1zM43 109h1v1h-1zM45 109h1v1h-1zM27 110h1v1h-1zM40 110h1v1h-1zM19 111h1v1h-1zM10 112h1v1h-1zM23 112h1v1h-1zM33 112h1v1h-1zM44 112h1v1h-1zM21 113h1v1h-1zM23 113h1v1h-1zM38 113h1v1h-1zM42 113h1v1h-1zM45 113h2v1h-2zM10 115h2v1h-2zM13 115h1v1h-1zM21 115h1v1h-1zM38 115h1v1h-1zM25 116h1v1h-1zM31 116h1v1h-1zM35 116h1v1h-1zM38 116h2v1h-2zM5 117h1v1h-1zM38 117h1v1h-1zM45 117h1v1h-1zM23 119h2v1h-2zM42 119h1v1h-1zM33 120h1v1h-1zM37 120h1v1h-1zM41 120h1v1h-1zM28 121h2v1h-2zM41 121h1v1h-1zM29 122h1v1h-1zM43 122h1v1h-1zM46 122h1v1h-1zM34 124h1v1h-1zM7 125h1v1h-1zM9 125h1v1h-1zM25 125h1v1h-1zM34 125h1v1h-1zM42 125h1v1h-1zM45 126h1v1h-1zM35 127h2v1h-2zM38 127h1v1h-1zM45 127h2v1h-2zM13 128h1v1h-1zM27 128h1v1h-1zM31 128h1v1h-1zM30 129h2v1h-2zM35 129h1v1h-1zM41 129h1v1h-1zM11 130h1v1h-1zM36 130h1v1h-1zM18 131h1v1h-1zM27 132h1v1h-1zM36 132h1v1h-1zM42 132h1v1h-1zM46 132h1v1h-1zM28 133h1v1h-1zM35 133h1v1h-1zM44 133h1v1h-1zM46 134h1v1h-1zM36 135h2v1h-2zM44 135h1v1h-1zM46 136h1v1h-1zM19 137h1v1h-1zM25 137h1v1h-1zM27 137h1v1h-1zM30 137h1v1h-1zM36 137h1v1h-1zM40 137h2v1h-2zM43 137h3v1h-3zM30 138h1v1h-1zM41 138h1v1h-1zM44 138h1v1h-1zM4 139h1v1h-1zM13 139h1v1h-1zM22 139h1v1h-1zM29 139h1v1h-1zM31 139h1v1h-1zM37 139h1v1h-1zM40 139h1v1h-1zM46 139h1v1h-1zM15 140h1v1h-1zM28 140h3v1h-3zM33 140h1v1h-1zM35 140h1v1h-1zM41 140h1v1h-1zM44 141h1v1h-1zM34 144h1v1h-1zM42 145h1v1h-1zM36 146h1v1h-1zM39 146h1v1h-1zM45 146h1v1h-1zM44 147h2v1h-2zM23 148h1v1h-1zM31 148h1v1h-1zM41 149h1v1h-1zM37 150h1v1h-1zM46 150h1v1h-1zM23 151h1v1h-1zM29 151h1v1h-1zM33 151h1v1h-1zM45 151h1v1h-1zM10 152h1v1h-1zM22 152h1v1h-1zM27 152h1v1h-1zM36 152h1v1h-1zM38 152h2v1h-2zM32 153h1v1h-1zM35 153h2v1h-2zM42 153h1v1h-1zM44 153h1v1h-1zM26 154h1v1h-1zM34 154h1v1h-1zM37 154h1v1h-1zM44 154h1v1h-1zM40 155h2v1h-2zM31 157h1v1h-1zM40 157h1v1h-1zM43 157h1v1h-1zM39 158h1v1h-1zM31 159h1v1h-1zM35 159h1v1h-1zM37 159h2v1h-2zM23 160h2v1h-2zM41 160h1v1h-1zM3 163h1v1h-1zM26 163h1v1h-1zM28 163h1v1h-1zM34 163h1v1h-1zM27 164h3v1h-3zM34 164h1v1h-1zM44 164h3v1h-3zM44 165h1v1h-1zM43 166h1v1h-1zM45 166h2v1h-2zM31 167h1v1h-1zM35 167h3v1h-3zM43 167h2v1h-2zM17 169h1v1h-1zM26 169h1v1h-1zM28 169h1v1h-1zM31 169h1v1h-1zM31 170h1v1h-1zM33 170h1v1h-1zM36 170h1v1h-1zM28 171h1v1h-1zM28 172h2v1h-2zM11 173h1v1h-1zM19 173h1v1h-1zM40 173h1v1h-1zM29 175h2v1h-2zM32 175h2v1h-2zM39 175h1v1h-1zM44 175h1v1h-1zM36 176h1v1h-1zM26 177h1v1h-1zM35 177h1v1h-1zM24 178h1v1h-1zM32 178h1v1h-1zM34 178h1v1h-1zM37 178h1v1h-1zM41 178h1v1h-1zM18 179h1v1h-1zM32 179h1v1h-1zM34 179h1v1h-1zM27 180h1v1h-1zM31 180h1v1h-1zM40 180h1v1h-1zM27 181h1v1h-1zM29 181h1v1h-1zM39 181h1v1h-1zM25 182h1v1h-1zM38 182h1v1h-1zM41 182h1v1h-1zM35 183h1v1h-1zM39 183h1v1h-1zM34 184h1v1h-1zM30 185h2v1h-2zM44 185h1v1h-1zM34 186h1v1h-1zM37 187h1v1h-1zM18 188h1v1h-1zM37 189h2v1h-2zM43 189h2v1h-2zM3 190h1v1h-1zM22 190h1v1h-1zM28 190h1v1h-1zM27 191h1v1h-1zM29 191h1v1h-1zM32 191h2v1h-2zM39 191h1v1h-1zM42 191h1v1h-1zM45 191h1v1h-1zM30 192h1v1h-1zM44 194h1v1h-1zM27 195h2v1h-2zM30 195h1v1h-1zM3 198h1v1h-1zM29 198h1v1h-1zM34 198h1v1h-1zM45 198h2v1h-2zM33 199h1v1h-1zM43 199h1v1h-1zM46 199h1v1h-1zM36 200h1v1h-1zM38 200h1v1h-1zM46 200h1v1h-1zM41 201h1v1h-1zM44 201h1v1h-1zM46 201h1v1h-1zM43 202h1v1h-1zM45 203h1v1h-1zM46 205h1v1h-1zM30 206h1v1h-1zM28 207h1v1h-1zM31 207h1v1h-1zM34 207h1v1h-1zM26 208h1v1h-1zM30 208h1v1h-1zM38 208h1v1h-1zM40 208h1v1h-1zM42 208h1v1h-1zM40 210h1v1h-1zM41 211h1v1h-1zM46 211h1v1h-1zM22 212h1v1h-1zM39 212h1v1h-1zM44 213h1v1h-1zM35 214h1v1h-1zM33 215h1v1h-1zM40 215h1v1h-1zM44 215h1v1h-1zM32 216h1v1h-1zM38 216h1v1h-1zM28 217h1v1h-1zM30 217h2v1h-2zM37 217h1v1h-1zM40 217h2v1h-2zM43 217h1v1h-1zM43 218h1v1h-1zM43 219h1v1h-1zM32 222h1v1h-1zM39 222h1v1h-1zM42 222h2v1h-2zM46 222h1v1h-1zM27 223h1v1h-1zM29 223h1v1h-1zM33 223h3v1h-3zM37 223h1v1h-1zM39 223h1v1h-1zM5 224h1v1h-1zM24 224h1v1h-1zM28 224h2v1h-2zM38 224h1v1h-1zM46 225h1v1h-1zM26 227h1v1h-1zM29 227h1v1h-1zM31 227h1v1h-1zM34 227h1v1h-1zM38 227h1v1h-1zM41 227h1v1h-1zM39 228h1v1h-1zM45 228h1v1h-1zM35 229h1v1h-1zM38 229h1v1h-1zM40 229h1v1h-1zM22 230h1v1h-1zM28 230h1v1h-1zM32 230h1v1h-1zM34 230h1v1h-1zM17 231h1v1h-1zM32 231h2v1h-2zM20 232h1v1h-1zM30 232h1v1h-1zM37 232h2v1h-2zM41 232h2v1h-2zM26 233h1v1h-1zM41 233h1v1h-1zM37 234h1v1h-1zM42 234h1v1h-1zM9 235h1v1h-1zM34 235h1v1h-1zM37 235h2v1h-2zM45 235h2v1h-2zM38 237h1v1h-1zM18 238h1v1h-1zM20 238h1v1h-1zM42 238h1v1h-1zM44 238h1v1h-1zM38 239h1v1h-1zM40 239h1v1h-1zM45 240h1v1h-1zM27 241h3v1h-3zM40 243h2v1h-2zM46 243h1v1h-1zM46 244h1v1h-1z"/>
<path fill="#e2f1fb" d="M33 0h1v1h-1zM14 1h2v1h-2zM19 1h1v1h-1zM23 1h1v1h-1zM32 1h2v1h-2zM0 2h2v1h-2zM5 2h1v1h-1zM14 2h1v1h-1zM16 2h1v1h-1zM18 2h1v1h-1zM20 2h1v1h-1zM30 2h1v1h-1zM34 2h1v1h-1zM46 2h1v1h-1zM13 3h2v1h-2zM35 3h1v1h-1zM9 4h1v1h-1zM16 4h2v1h-2zM29 4h1v1h-1zM34 4h2v1h-2zM34 5h2v1h-2zM3 6h1v1h-1zM15 6h2v1h-2zM18 6h1v1h-1zM45 6h1v1h-1zM8 7h1v1h-1zM12 7h1v1h-1zM15 7h1v1h-1zM19 7h1v1h-1zM22 7h1v1h-1zM3 8h1v1h-1zM11 8h1v1h-1zM13 8h1v1h-1zM1 9h1v1h-1zM4 9h1v1h-1zM6 9h1v1h-1zM12 9h1v1h-1zM21 9h1v1h-1zM25 9h2v1h-2zM4 10h1v1h-1zM6 10h1v1h-1zM11 10h1v1h-1zM14 10h1v1h-1zM19 10h1v1h-1zM26 10h1v1h-1zM8 11h1v1h-1zM22 11h1v1h-1zM3 12h1v1h-1zM5 12h1v1h-1zM15 12h1v1h-1zM19 12h1v1h-1zM22 12h1v1h-1zM25 12h1v1h-1zM40 12h1v1h-1zM6 13h1v1h-1zM15 13h1v1h-1zM18 13h1v1h-1zM36 13h2v1h-2zM45 13h1v1h-1zM9 14h1v1h-1zM18 14h1v1h-1zM22 14h1v1h-1zM30 14h1v1h-1zM0 15h1v1h-1zM3 15h2v1h-2zM16 15h4v1h-4zM32 15h2v1h-2zM41 15h1v1h-1zM19 16h1v1h-1zM26 16h1v1h-1zM42 16h1v1h-1zM46 16h1v1h-1zM0 17h1v1h-1zM5 17h3v1h-3zM10 17h1v1h-1zM17 17h1v1h-1zM26 17h1v1h-1zM30 17h1v1h-1zM43 17h1v1h-1zM46 17h1v1h-1zM3 18h1v1h-1zM24 19h1v1h-1zM30 19h1v1h-1zM3 20h1v1h-1zM9 20h2v1h-2zM16 20h1v1h-1zM23 20h1v1h-1zM1 21h1v1h-1zM23 21h1v1h-1zM6 22h1v1h-1zM10 22h1v1h-1zM15 22h3v1h-3zM23 22h2v1h-2zM44 22h2v1h-2zM3 23h1v1h-1zM24 23h1v1h-1zM26 23h1v1h-1zM16 24h1v1h-1zM18 24h2v1h-2zM28 24h1v1h-1zM3 25h1v1h-1zM7 25h1v1h-1zM13 25h4v1h-4zM22 25h1v1h-1zM26 25h1v1h-1zM5 26h1v1h-1zM16 26h1v1h-1zM23 26h1v1h-1zM31 26h1v1h-1zM38 26h1v1h-1zM24 27h1v1h-1zM23 28h1v1h-1zM43 28h1v1h-1zM10 29h1v1h-1zM15 29h1v1h-1zM26 29h1v1h-1zM33 29h1v1h-1zM37 29h1v1h-1zM10 30h1v1h-1zM13 30h1v1h-1zM22 30h1v1h-1zM43 30h1v1h-1zM0 31h1v1h-1zM3 31h1v1h-1zM5 31h2v1h-2zM38 31h2v1h-2zM22 32h1v1h-1zM24 32h1v1h-1zM37 32h2v1h-2zM5 33h1v1h-1zM22 33h1v1h-1zM34 33h1v1h-1zM36 33h2v1h-2zM23 34h1v1h-1zM25 34h1v1h-1zM9 35h2v1h-2zM23 35h1v1h-1zM6 36h1v1h-1zM21 36h1v1h-1zM42 38h1v1h-1zM0 39h1v1h-1zM8 39h1v1h-1zM24 39h1v1h-1zM41 39h1v1h-1zM0 40h1v1h-1zM5 40h1v1h-1zM7 40h2v1h-2zM23 40h1v1h-1zM25 40h1v1h-1zM4 41h1v1h-1zM9 41h1v1h-1zM18 41h1v1h-1zM20 41h1v1h-1zM23 41h1v1h-1zM34 41h1v1h-1zM4 42h1v1h-1zM8 42h1v1h-1zM26 42h1v1h-1zM38 42h1v1h-1zM8 43h1v1h-1zM14 43h1v1h-1zM23 43h1v1h-1zM8 44h1v1h-1zM11 44h1v1h-1zM23 45h1v1h-1zM25 45h1v1h-1zM21 46h1v1h-1zM6 47h2v1h-2zM12 47h1v1h-1zM15 47h1v1h-1zM17 47h1v1h-1zM21 47h1v1h-1zM26 47h1v1h-1zM30 47h1v1h-1zM32 47h2v1h-2zM35 47h1v1h-1zM43 47h1v1h-1zM11 48h1v1h-1zM14 48h1v1h-1zM22 48h2v1h-2zM36 48h1v1h-1zM0 49h2v1h-2zM6 49h1v1h-1zM4 50h1v1h-1zM6 50h1v1h-1zM21 50h1v1h-1zM25 50h1v1h-1zM15 51h1v1h-1zM17 51h1v1h-1zM9 52h1v1h-1zM13 52h1v1h-1zM20 52h1v1h-1zM13 53h1v1h-1zM29 53h1v1h-1zM1 54h1v1h-1zM3 54h2v1h-2zM13 54h1v1h-1zM17 54h1v1h-1zM21 54h1v1h-1zM24 54h1v1h-1zM28 54h1v1h-1zM4 55h1v1h-1zM9 55h3v1h-3zM20 55h1v1h-1zM22 55h1v1h-1zM1 56h1v1h-1zM5 56h1v1h-1zM9 56h2v1h-2zM8 57h1v1h-1zM16 57h1v1h-1zM24 57h1v1h-1zM32 57h1v1h-1zM34 57h1v1h-1zM38 57h1v1h-1zM44 57h1v1h-1zM18 58h1v1h-1zM21 58h1v1h-1zM25 58h1v1h-1zM38 58h1v1h-1zM38 59h1v1h-1zM11 60h1v1h-1zM15 60h1v1h-1zM19 60h1v1h-1zM21 60h1v1h-1zM26 60h1v1h-1zM39 60h1v1h-1zM29 61h2v1h-2zM5 62h1v1h-1zM8 62h1v1h-1zM12 62h1v1h-1zM15 62h1v1h-1zM28 62h1v1h-1zM30 62h2v1h-2zM33 62h2v1h-2zM1 63h1v1h-1zM12 63h1v1h-1zM16 63h1v1h-1zM23 63h1v1h-1zM35 63h2v1h-2zM2 64h2v1h-2zM6 64h1v1h-1zM9 64h1v1h-1zM24 64h1v1h-1zM31 64h1v1h-1zM35 64h1v1h-1zM4 65h1v1h-1zM6 65h1v1h-1zM23 65h1v1h-1zM35 65h1v1h-1zM4 66h1v1h-1zM9 66h1v1h-1zM13 66h1v1h-1zM28 66h1v1h-1zM38 66h2v1h-2zM4 68h1v1h-1zM36 68h1v1h-1zM7 69h1v1h-1zM9 69h1v1h-1zM22 69h1v1h-1zM27 69h1v1h-1zM36 69h2v1h-2zM19 70h1v1h-1zM15 71h1v1h-1zM20 71h1v1h-1zM3 72h1v1h-1zM7 72h3v1h-3zM16 72h1v1h-1zM15 74h2v1h-2zM18 74h1v1h-1zM23 74h1v1h-1zM25 74h1v1h-1zM8 75h1v1h-1zM6 76h1v1h-1zM8 76h1v1h-1zM14 76h1v1h-1zM30 76h1v1h-1zM1 77h2v1h-2zM5 77h1v1h-1zM14 77h1v1h-1zM20 77h1v1h-1zM25 77h1v1h-1zM1 78h1v1h-1zM33 78h1v1h-1zM1 79h3v1h-3zM8 79h1v1h-1zM11 79h2v1h-2zM19 79h1v1h-1zM25 79h1v1h-1zM29 79h1v1h-1zM1 80h1v1h-1zM3 80h1v1h-1zM9 80h1v1h-1zM3 81h1v1h-1zM11 81h1v1h-1zM13 81h1v1h-1zM15 81h1v1h-1zM15 82h2v1h-2zM18 82h1v1h-1zM12 83h2v1h-2zM7 84h1v1h-1zM15 84h1v1h-1zM42 84h1v1h-1zM7 85h1v1h-1zM11 85h3v1h-3zM18 85h1v1h-1zM21 85h1v1h-1zM23 85h1v1h-1zM25 86h2v1h-2zM18 87h1v1h-1zM23 87h1v1h-1zM4 88h1v1h-1zM6 88h1v1h-1zM10 88h1v1h-1zM14 88h2v1h-2zM18 88h1v1h-1zM26 88h2v1h-2zM3 89h1v1h-1zM24 89h2v1h-2zM3 90h1v1h-1zM8 90h1v1h-1zM15 90h1v1h-1zM17 90h1v1h-1zM19 90h1v1h-1zM26 90h1v1h-1zM40 90h1v1h-1zM10 91h2v1h-2zM7 92h1v1h-1zM9 92h1v1h-1zM13 92h2v1h-2zM16 92h1v1h-1zM18 92h2v1h-2zM21 92h1v1h-1zM34 92h1v1h-1zM38 92h1v1h-1zM42 92h1v1h-1zM3 93h1v1h-1zM18 93h1v1h-1zM22 93h1v1h-1zM25 93h1v1h-1zM39 93h1v1h-1zM3 94h2v1h-2zM8 94h1v1h-1zM33 94h1v1h-1zM6 95h1v1h-1zM12 95h1v1h-1zM14 95h1v1h-1zM20 95h1v1h-1zM16 96h1v1h-1zM29 96h2v1h-2zM32 96h1v1h-1zM5 97h1v1h-1zM17 97h2v1h-2zM25 97h1v1h-1zM25 98h1v1h-1zM39 98h1v1h-1zM6 99h1v1h-1zM9 99h1v1h-1zM18 99h1v1h-1zM28 99h1v1h-1zM30 99h1v1h-1zM35 99h1v1h-1zM41 99h1v1h-1zM43 99h1v1h-1zM5 100h1v1h-1zM9 100h1v1h-1zM19 100h1v1h-1zM4 101h1v1h-1zM24 101h1v1h-1zM15 102h1v1h-1zM38 102h1v1h-1zM3 103h1v1h-1zM23 103h1v1h-1zM28 103h1v1h-1zM41 103h1v1h-1zM3 104h1v1h-1zM5 104h1v1h-1zM26 104h1v1h-1zM35 104h1v1h-1zM38 104h1v1h-1zM40 104h1v1h-1zM14 105h2v1h-2zM19 105h1v1h-1zM26 105h1v1h-1zM28 105h1v1h-1zM35 105h1v1h-1zM1 106h3v1h-3zM11 106h1v1h-1zM13 106h1v1h-1zM36 106h1v1h-1zM23 107h2v1h-2zM45 107h1v1h-1zM23 108h3v1h-3zM32 108h1v1h-1zM37 108h1v1h-1zM2 109h1v1h-1zM17 109h1v1h-1zM22 109h1v1h-1zM40 109h1v1h-1zM13 110h1v1h-1zM20 111h1v1h-1zM12 112h1v1h-1zM15 112h1v1h-1zM20 112h1v1h-1zM25 112h1v1h-1zM28 112h1v1h-1zM31 112h1v1h-1zM42 112h1v1h-1zM25 113h1v1h-1zM40 113h1v1h-1zM3 114h1v1h-1zM25 114h1v1h-1zM12 115h1v1h-1zM24 115h1v1h-1zM28 115h2v1h-2zM41 115h1v1h-1zM10 116h1v1h-1zM15 116h1v1h-1zM18 116h1v1h-1zM36 116h2v1h-2zM40 116h1v1h-1zM42 116h2v1h-2zM11 117h3v1h-3zM25 117h1v1h-1zM37 117h1v1h-1zM39 117h2v1h-2zM24 118h2v1h-2zM29 118h1v1h-1zM33 118h1v1h-1zM35 118h1v1h-1zM25 119h1v1h-1zM45 119h2v1h-2zM13 120h1v1h-1zM24 120h1v1h-1zM32 120h1v1h-1zM24 121h1v1h-1zM34 121h1v1h-1zM39 121h1v1h-1zM44 121h2v1h-2zM11 122h2v1h-2zM32 122h2v1h-2zM40 122h1v1h-1zM44 122h1v1h-1zM2 123h2v1h-2zM13 123h1v1h-1zM31 123h3v1h-3zM35 123h1v1h-1zM38 123h1v1h-1zM1 124h1v1h-1zM3 124h1v1h-1zM36 124h2v1h-2zM45 124h1v1h-1zM8 125h1v1h-1zM23 125h1v1h-1zM36 125h1v1h-1zM7 126h1v1h-1zM43 126h1v1h-1zM8 127h1v1h-1zM10 127h1v1h-1zM15 127h1v1h-1zM19 127h1v1h-1zM31 127h2v1h-2zM37 127h1v1h-1zM39 127h3v1h-3zM25 128h1v1h-1zM29 128h1v1h-1zM39 128h2v1h-2zM43 128h3v1h-3zM23 129h1v1h-1zM36 129h3v1h-3zM27 130h2v1h-2zM35 130h1v1h-1zM42 130h1v1h-1zM31 131h3v1h-3zM35 131h2v1h-2zM39 131h1v1h-1zM23 132h1v1h-1zM28 132h1v1h-1zM32 132h1v1h-1zM37 132h1v1h-1zM39 132h1v1h-1zM43 132h1v1h-1zM45 132h1v1h-1zM22 133h1v1h-1zM46 133h1v1h-1zM24 134h1v1h-1zM28 134h1v1h-1zM30 134h1v1h-1zM35 135h1v1h-1zM17 136h1v1h-1zM28 136h1v1h-1zM33 136h1v1h-1zM36 136h1v1h-1zM39 136h1v1h-1zM42 136h1v1h-1zM44 136h1v1h-1zM31 137h1v1h-1zM35 137h1v1h-1zM39 137h1v1h-1zM11 138h1v1h-1zM23 138h1v1h-1zM29 138h1v1h-1zM35 138h1v1h-1zM39 138h2v1h-2zM42 138h2v1h-2zM19 139h1v1h-1zM21 139h1v1h-1zM23 139h1v1h-1zM30 139h1v1h-1zM32 139h1v1h-1zM39 139h1v1h-1zM13 140h1v1h-1zM24 140h1v1h-1zM27 140h1v1h-1zM31 140h2v1h-2zM34 140h1v1h-1zM39 140h1v1h-1zM42 140h1v1h-1zM45 140h1v1h-1zM19 141h1v1h-1zM37 141h1v1h-1zM45 141h1v1h-1zM28 142h1v1h-1zM31 142h2v1h-2zM39 142h2v1h-2zM43 142h1v1h-1zM45 142h1v1h-1zM27 143h1v1h-1zM40 143h1v1h-1zM44 143h1v1h-1zM37 144h1v1h-1zM40 144h1v1h-1zM46 144h1v1h-1zM30 145h1v1h-1zM35 145h2v1h-2zM46 145h1v1h-1zM28 146h2v1h-2zM31 146h1v1h-1zM34 146h2v1h-2zM44 146h1v1h-1zM46 146h1v1h-1zM29 147h1v1h-1zM42 147h1v1h-1zM36 148h1v1h-1zM38 148h1v1h-1zM37 149h2v1h-2zM44 149h1v1h-1zM36 150h1v1h-1zM44 150h1v1h-1zM15 151h1v1h-1zM28 151h1v1h-1zM46 151h1v1h-1zM25 152h1v1h-1zM28 152h1v1h-1zM34 152h1v1h-1zM45 152h2v1h-2zM21 153h1v1h-1zM28 153h1v1h-1zM37 153h1v1h-1zM29 154h1v1h-1zM43 154h1v1h-1zM3 155h1v1h-1zM24 155h1v1h-1zM31 155h1v1h-1zM6 156h1v1h-1zM28 156h1v1h-1zM31 156h1v1h-1zM35 156h1v1h-1zM40 156h2v1h-2zM43 156h1v1h-1zM25 157h1v1h-1zM33 157h1v1h-1zM44 157h2v1h-2zM26 158h3v1h-3zM37 158h2v1h-2zM29 159h2v1h-2zM32 159h1v1h-1zM34 159h1v1h-1zM41 159h1v1h-1zM43 159h1v1h-1zM46 159h1v1h-1zM45 160h2v1h-2zM46 161h1v1h-1zM28 162h1v1h-1zM42 162h1v1h-1zM1 163h1v1h-1zM27 163h1v1h-1zM29 163h2v1h-2zM37 163h1v1h-1zM40 163h1v1h-1zM32 164h1v1h-1zM27 166h1v1h-1zM34 166h1v1h-1zM29 167h1v1h-1zM32 167h2v1h-2zM41 167h1v1h-1zM18 169h1v1h-1zM23 169h1v1h-1zM30 169h1v1h-1zM41 169h1v1h-1zM43 169h1v1h-1zM34 170h1v1h-1zM38 170h1v1h-1zM31 171h1v1h-1zM33 171h1v1h-1zM39 171h1v1h-1zM43 171h1v1h-1zM3 172h1v1h-1zM17 172h1v1h-1zM31 172h2v1h-2zM34 172h1v1h-1zM40 172h3v1h-3zM46 172h1v1h-1zM20 173h1v1h-1zM23 173h1v1h-1zM28 173h1v1h-1zM30 174h1v1h-1zM39 174h1v1h-1zM15 175h1v1h-1zM46 175h1v1h-1zM23 176h1v1h-1zM30 176h1v1h-1zM35 176h1v1h-1zM38 176h1v1h-1zM46 176h1v1h-1zM34 177h1v1h-1zM5 178h1v1h-1zM19 178h1v1h-1zM26 178h1v1h-1zM35 178h1v1h-1zM33 179h1v1h-1zM36 179h1v1h-1zM38 179h1v1h-1zM44 179h1v1h-1zM46 179h1v1h-1zM44 180h1v1h-1zM28 181h1v1h-1zM42 181h1v1h-1zM22 182h1v1h-1zM27 182h2v1h-2zM31 182h2v1h-2zM40 182h1v1h-1zM44 182h2v1h-2zM29 183h1v1h-1zM31 183h1v1h-1zM30 184h2v1h-2zM39 184h1v1h-1zM46 184h1v1h-1zM36 185h1v1h-1zM39 185h1v1h-1zM41 185h1v1h-1zM46 185h1v1h-1zM3 186h1v1h-1zM18 186h1v1h-1zM23 186h2v1h-2zM28 186h1v1h-1zM35 186h2v1h-2zM10 187h1v1h-1zM38 187h4v1h-4zM27 188h2v1h-2zM36 188h1v1h-1zM42 188h1v1h-1zM27 189h2v1h-2zM39 189h1v1h-1zM16 190h1v1h-1zM18 190h1v1h-1zM20 190h1v1h-1zM26 190h2v1h-2zM34 190h1v1h-1zM30 191h1v1h-1zM40 191h1v1h-1zM38 192h1v1h-1zM41 192h1v1h-1zM46 192h1v1h-1zM38 193h1v1h-1zM26 194h1v1h-1zM39 194h1v1h-1zM7 195h1v1h-1zM22 195h1v1h-1zM31 195h1v1h-1zM34 195h1v1h-1zM30 196h2v1h-2zM45 196h1v1h-1zM21 197h1v1h-1zM27 197h1v1h-1zM29 197h1v1h-1zM44 197h1v1h-1zM27 198h1v1h-1zM33 198h1v1h-1zM3 199h1v1h-1zM32 199h1v1h-1zM34 199h1v1h-1zM42 199h1v1h-1zM44 199h1v1h-1zM39 200h1v1h-1zM41 200h1v1h-1zM45 200h1v1h-1zM40 201h1v1h-1zM29 202h2v1h-2zM34 202h2v1h-2zM42 202h1v1h-1zM42 203h2v1h-2zM46 203h1v1h-1zM31 205h1v1h-1zM31 206h1v1h-1zM35 206h1v1h-1zM39 206h3v1h-3zM43 206h2v1h-2zM42 207h3v1h-3zM32 208h1v1h-1zM37 208h1v1h-1zM41 208h1v1h-1zM43 209h1v1h-1zM45 209h1v1h-1zM32 210h1v1h-1zM35 210h1v1h-1zM45 211h1v1h-1zM18 212h2v1h-2zM23 212h1v1h-1zM26 212h1v1h-1zM42 212h1v1h-1zM45 213h1v1h-1zM0 214h1v1h-1zM26 214h1v1h-1zM30 214h1v1h-1zM33 214h1v1h-1zM36 214h1v1h-1zM45 214h1v1h-1zM30 215h1v1h-1zM38 215h1v1h-1zM41 215h1v1h-1zM45 215h1v1h-1zM39 216h1v1h-1zM41 216h1v1h-1zM44 216h1v1h-1zM32 217h1v1h-1zM36 217h1v1h-1zM39 217h1v1h-1zM21 218h1v1h-1zM45 218h1v1h-1zM20 220h1v1h-1zM31 220h1v1h-1zM36 220h1v1h-1zM38 220h2v1h-2zM44 220h1v1h-1zM34 221h1v1h-1zM43 221h1v1h-1zM15 222h2v1h-2zM35 222h1v1h-1zM37 222h1v1h-1zM26 223h1v1h-1zM28 223h1v1h-1zM30 223h2v1h-2zM36 223h1v1h-1zM38 223h1v1h-1zM42 223h1v1h-1zM25 224h2v1h-2zM33 224h1v1h-1zM36 224h1v1h-1zM21 225h1v1h-1zM28 225h1v1h-1zM30 225h3v1h-3zM35 225h1v1h-1zM41 225h2v1h-2zM45 225h1v1h-1zM18 226h1v1h-1zM36 226h1v1h-1zM43 226h1v1h-1zM22 227h1v1h-1zM24 227h1v1h-1zM27 227h1v1h-1zM30 227h1v1h-1zM42 227h1v1h-1zM33 228h1v1h-1zM29 229h1v1h-1zM33 229h1v1h-1zM44 229h2v1h-2zM23 230h1v1h-1zM35 230h2v1h-2zM44 230h1v1h-1zM11 231h1v1h-1zM30 231h1v1h-1zM40 231h1v1h-1zM5 232h1v1h-1zM28 232h1v1h-1zM34 232h2v1h-2zM18 233h1v1h-1zM28 233h1v1h-1zM35 233h1v1h-1zM37 233h1v1h-1zM43 233h1v1h-1zM46 233h1v1h-1zM31 234h1v1h-1zM33 234h1v1h-1zM35 234h1v1h-1zM41 234h1v1h-1zM17 235h2v1h-2zM28 235h1v1h-1zM32 235h2v1h-2zM35 235h1v1h-1zM42 236h1v1h-1zM30 237h3v1h-3zM40 237h1v1h-1zM45 237h1v1h-1zM41 238h1v1h-1zM43 238h1v1h-1zM34 239h1v1h-1zM41 239h1v1h-1zM43 239h1v1h-1zM32 240h1v1h-1zM34 240h3v1h-3zM41 240h4v1h-4zM46 240h1v1h-1zM26 241h1v1h-1zM31 241h2v1h-2zM40 241h2v1h-2zM28 242h1v1h-1zM45 242h1v1h-1zM19 243h1v1h-1zM21 243h1v1h-1zM31 243h1v1h-1zM33 243h1v1h-1zM38 243h1v1h-1zM45 244h1v1h-1z"/>
<path fill="#eef6fc" d="M7 0h2v1h-2zM15 0h1v1h-1zM39 0h1v1h-1zM9 1h2v1h-2zM31 1h1v1h-1zM34 1h1v1h-1zM6 2h1v1h-1zM8 2h1v1h-1zM15 2h1v1h-1zM17 2h1v1h-1zM23 2h2v1h-2zM35 2h2v1h-2zM43 2h1v1h-1zM45 2h1v1h-1zM0 3h2v1h-2zM3 3h1v1h-1zM6 3h2v1h-2zM18 3h1v1h-1zM36 3h1v1h-1zM44 3h2v1h-2zM3 4h1v1h-1zM5 4h1v1h-1zM10 4h1v1h-1zM14 4h1v1h-1zM18 4h2v1h-2zM31 4h1v1h-1zM45 5h2v1h-2zM4 6h1v1h-1zM19 6h1v1h-1zM1 7h1v1h-1zM3 7h1v1h-1zM9 7h1v1h-1zM17 7h1v1h-1zM4 8h1v1h-1zM10 8h1v1h-1zM19 8h1v1h-1zM21 8h2v1h-2zM31 8h1v1h-1zM11 9h1v1h-1zM15 9h1v1h-1zM18 9h3v1h-3zM36 9h1v1h-1zM44 9h1v1h-1zM18 10h1v1h-1zM24 10h1v1h-1zM31 10h1v1h-1zM34 10h2v1h-2zM6 11h1v1h-1zM9 11h1v1h-1zM11 11h1v1h-1zM13 11h1v1h-1zM35 11h1v1h-1zM43 11h1v1h-1zM1 12h1v1h-1zM6 12h1v1h-1zM24 12h1v1h-1zM45 12h1v1h-1zM5 13h1v1h-1zM10 13h1v1h-1zM13 13h1v1h-1zM19 13h2v1h-2zM25 13h1v1h-1zM40 13h1v1h-1zM42 13h1v1h-1zM4 14h2v1h-2zM8 14h1v1h-1zM16 14h1v1h-1zM21 14h1v1h-1zM23 14h1v1h-1zM39 14h1v1h-1zM41 14h1v1h-1zM6 15h1v1h-1zM8 15h1v1h-1zM14 15h1v1h-1zM20 15h1v1h-1zM0 16h1v1h-1zM10 16h1v1h-1zM16 16h1v1h-1zM3 17h1v1h-1zM9 17h1v1h-1zM14 17h1v1h-1zM25 17h1v1h-1zM41 17h1v1h-1zM0 18h1v1h-1zM21 18h1v1h-1zM46 18h1v1h-1zM3 19h1v1h-1zM18 19h2v1h-2zM23 19h1v1h-1zM29 19h1v1h-1zM1 20h1v1h-1zM13 20h1v1h-1zM15 20h1v1h-1zM17 20h2v1h-2zM25 20h1v1h-1zM28 20h1v1h-1zM31 20h1v1h-1zM46 20h1v1h-1zM13 22h1v1h-1zM6 23h1v1h-1zM21 23h1v1h-1zM25 23h1v1h-1zM31 23h2v1h-2zM45 23h1v1h-1zM1 24h1v1h-1zM5 24h2v1h-2zM9 24h1v1h-1zM13 24h3v1h-3zM22 24h1v1h-1zM30 24h1v1h-1zM35 24h1v1h-1zM38 24h1v1h-1zM42 24h1v1h-1zM45 24h1v1h-1zM5 25h1v1h-1zM18 25h1v1h-1zM6 26h1v1h-1zM21 26h2v1h-2zM33 26h2v1h-2zM36 26h1v1h-1zM10 27h1v1h-1zM18 27h3v1h-3zM25 27h1v1h-1zM38 27h1v1h-1zM41 27h1v1h-1zM1 28h2v1h-2zM5 28h1v1h-1zM7 28h1v1h-1zM9 28h1v1h-1zM15 28h1v1h-1zM20 28h3v1h-3zM24 28h1v1h-1zM26 28h1v1h-1zM35 28h1v1h-1zM37 28h1v1h-1zM3 29h3v1h-3zM14 29h1v1h-1zM16 29h1v1h-1zM21 29h1v1h-1zM24 29h1v1h-1zM32 29h1v1h-1zM3 30h1v1h-1zM6 30h2v1h-2zM12 30h1v1h-1zM14 30h1v1h-1zM16 30h2v1h-2zM41 30h1v1h-1zM10 31h1v1h-1zM17 31h1v1h-1zM19 31h1v1h-1zM30 31h1v1h-1zM39 32h1v1h-1zM1 33h1v1h-1zM3 33h1v1h-1zM6 33h3v1h-3zM17 33h2v1h-2zM14 34h1v1h-1zM30 34h1v1h-1zM36 34h1v1h-1zM41 34h1v1h-1zM4 35h1v1h-1zM8 35h1v1h-1zM14 35h1v1h-1zM3 36h2v1h-2zM7 36h1v1h-1zM9 36h1v1h-1zM11 36h2v1h-2zM15 36h1v1h-1zM24 36h1v1h-1zM35 36h1v1h-1zM41 36h1v1h-1zM5 38h1v1h-1zM12 38h1v1h-1zM36 38h1v1h-1zM3 39h1v1h-1zM6 39h2v1h-2zM16 39h1v1h-1zM18 39h1v1h-1zM26 39h1v1h-1zM31 39h1v1h-1zM42 39h2v1h-2zM14 40h2v1h-2zM28 40h1v1h-1zM36 40h1v1h-1zM7 41h1v1h-1zM10 41h2v1h-2zM17 41h1v1h-1zM35 41h1v1h-1zM6 42h1v1h-1zM10 42h1v1h-1zM15 42h1v1h-1zM0 43h1v1h-1zM3 43h1v1h-1zM5 43h2v1h-2zM4 44h1v1h-1zM10 44h1v1h-1zM5 45h1v1h-1zM10 45h1v1h-1zM13 45h1v1h-1zM24 45h1v1h-1zM12 46h1v1h-1zM16 46h1v1h-1zM23 46h1v1h-1zM8 47h1v1h-1zM14 47h1v1h-1zM19 47h1v1h-1zM25 47h1v1h-1zM29 47h1v1h-1zM1 48h1v1h-1zM18 48h1v1h-1zM30 48h1v1h-1zM39 48h1v1h-1zM3 49h2v1h-2zM13 49h1v1h-1zM15 49h1v1h-1zM20 49h1v1h-1zM30 49h1v1h-1zM33 49h1v1h-1zM35 49h1v1h-1zM41 49h1v1h-1zM0 50h1v1h-1zM12 50h1v1h-1zM14 50h1v1h-1zM20 50h1v1h-1zM31 50h1v1h-1zM34 50h6v1h-6zM43 50h1v1h-1zM8 51h1v1h-1zM22 51h1v1h-1zM24 51h1v1h-1zM26 51h1v1h-1zM7 52h1v1h-1zM11 52h1v1h-1zM21 52h1v1h-1zM0 53h1v1h-1zM12 53h1v1h-1zM6 54h1v1h-1zM14 54h1v1h-1zM18 54h1v1h-1zM22 54h1v1h-1zM31 54h1v1h-1zM7 55h1v1h-1zM15 55h1v1h-1zM0 56h1v1h-1zM7 56h1v1h-1zM21 56h1v1h-1zM30 56h1v1h-1zM36 56h2v1h-2zM3 57h1v1h-1zM9 57h2v1h-2zM37 57h1v1h-1zM7 58h1v1h-1zM11 58h1v1h-1zM15 58h1v1h-1zM22 58h1v1h-1zM28 58h2v1h-2zM35 58h1v1h-1zM39 58h1v1h-1zM43 58h1v1h-1zM12 59h3v1h-3zM26 59h1v1h-1zM37 59h1v1h-1zM0 60h1v1h-1zM3 60h3v1h-3zM10 60h1v1h-1zM14 60h1v1h-1zM16 60h1v1h-1zM18 60h1v1h-1zM3 61h1v1h-1zM8 61h1v1h-1zM17 61h1v1h-1zM19 61h1v1h-1zM22 61h1v1h-1zM28 61h1v1h-1zM32 61h1v1h-1zM34 61h1v1h-1zM1 62h2v1h-2zM10 62h2v1h-2zM19 62h1v1h-1zM23 62h1v1h-1zM29 62h1v1h-1zM32 62h1v1h-1zM22 63h1v1h-1zM28 63h1v1h-1zM42 63h1v1h-1zM1 64h1v1h-1zM4 64h1v1h-1zM7 64h1v1h-1zM10 64h1v1h-1zM12 64h2v1h-2zM26 64h1v1h-1zM30 64h1v1h-1zM36 64h1v1h-1zM40 64h1v1h-1zM3 65h1v1h-1zM11 65h1v1h-1zM15 65h1v1h-1zM24 65h1v1h-1zM26 65h1v1h-1zM0 66h1v1h-1zM14 66h1v1h-1zM19 66h1v1h-1zM21 66h2v1h-2zM43 66h1v1h-1zM1 67h1v1h-1zM5 67h1v1h-1zM2 68h1v1h-1zM8 68h1v1h-1zM12 68h1v1h-1zM14 68h2v1h-2zM22 68h1v1h-1zM29 68h1v1h-1zM37 68h1v1h-1zM43 68h1v1h-1zM4 69h2v1h-2zM11 69h1v1h-1zM13 69h1v1h-1zM15 69h1v1h-1zM17 69h1v1h-1zM32 69h1v1h-1zM43 69h1v1h-1zM26 70h1v1h-1zM28 70h1v1h-1zM5 71h1v1h-1zM7 71h1v1h-1zM9 71h1v1h-1zM13 71h2v1h-2zM16 71h1v1h-1zM19 71h1v1h-1zM24 71h1v1h-1zM2 72h1v1h-1zM19 72h5v1h-5zM3 73h1v1h-1zM6 73h1v1h-1zM10 73h1v1h-1zM13 73h1v1h-1zM3 74h1v1h-1zM6 74h2v1h-2zM12 74h1v1h-1zM19 74h1v1h-1zM24 74h1v1h-1zM26 74h1v1h-1zM28 74h3v1h-3zM1 75h1v1h-1zM3 75h1v1h-1zM13 75h1v1h-1zM16 75h1v1h-1zM18 75h2v1h-2zM23 75h1v1h-1zM0 76h1v1h-1zM2 76h1v1h-1zM9 76h2v1h-2zM13 76h1v1h-1zM25 76h1v1h-1zM29 76h1v1h-1zM32 76h2v1h-2zM46 76h1v1h-1zM9 77h2v1h-2zM23 77h1v1h-1zM2 78h1v1h-1zM10 78h2v1h-2zM15 78h1v1h-1zM18 78h1v1h-1zM20 78h1v1h-1zM32 78h1v1h-1zM34 78h1v1h-1zM42 78h2v1h-2zM5 79h3v1h-3zM16 79h1v1h-1zM18 79h1v1h-1zM21 79h1v1h-1zM24 79h1v1h-1zM28 79h1v1h-1zM38 79h1v1h-1zM7 80h1v1h-1zM10 80h1v1h-1zM21 80h1v1h-1zM1 81h1v1h-1zM16 81h2v1h-2zM19 81h2v1h-2zM23 81h2v1h-2zM32 81h1v1h-1zM37 81h1v1h-1zM7 82h1v1h-1zM9 82h1v1h-1zM13 82h1v1h-1zM19 82h2v1h-2zM25 82h1v1h-1zM11 83h1v1h-1zM14 83h1v1h-1zM3 84h1v1h-1zM10 84h1v1h-1zM18 84h1v1h-1zM33 84h2v1h-2zM1 85h1v1h-1zM5 85h1v1h-1zM8 85h1v1h-1zM14 85h1v1h-1zM16 85h1v1h-1zM25 85h1v1h-1zM31 85h1v1h-1zM1 86h1v1h-1zM7 86h1v1h-1zM24 86h1v1h-1zM4 87h1v1h-1zM7 87h1v1h-1zM24 87h1v1h-1zM2 88h1v1h-1zM35 88h1v1h-1zM9 89h1v1h-1zM14 89h1v1h-1zM29 89h1v1h-1zM31 89h1v1h-1zM0 90h1v1h-1zM2 90h1v1h-1zM7 90h1v1h-1zM14 90h1v1h-1zM18 90h1v1h-1zM22 90h2v1h-2zM28 90h1v1h-1zM35 90h1v1h-1zM41 90h1v1h-1zM6 91h1v1h-1zM33 91h1v1h-1zM38 91h1v1h-1zM20 92h1v1h-1zM23 92h1v1h-1zM31 92h2v1h-2zM10 93h1v1h-1zM21 93h1v1h-1zM23 93h1v1h-1zM7 94h1v1h-1zM9 94h1v1h-1zM11 94h2v1h-2zM18 94h2v1h-2zM27 94h2v1h-2zM3 95h1v1h-1zM8 95h1v1h-1zM39 95h2v1h-2zM7 96h1v1h-1zM14 96h1v1h-1zM13 97h1v1h-1zM15 97h1v1h-1zM22 97h2v1h-2zM1 98h1v1h-1zM18 98h1v1h-1zM43 98h1v1h-1zM1 99h2v1h-2zM4 99h1v1h-1zM7 99h1v1h-1zM15 99h1v1h-1zM20 99h1v1h-1zM24 99h1v1h-1zM29 99h1v1h-1zM32 99h2v1h-2zM38 99h2v1h-2zM3 100h1v1h-1zM12 100h1v1h-1zM20 100h1v1h-1zM25 100h1v1h-1zM1 101h1v1h-1zM25 101h1v1h-1zM30 101h1v1h-1zM26 102h1v1h-1zM34 102h3v1h-3zM10 103h1v1h-1zM13 103h2v1h-2zM17 103h1v1h-1zM21 103h1v1h-1zM27 103h1v1h-1zM42 103h1v1h-1zM45 103h1v1h-1zM2 104h1v1h-1zM7 104h1v1h-1zM21 104h1v1h-1zM27 104h1v1h-1zM32 104h1v1h-1zM42 104h1v1h-1zM45 104h1v1h-1zM18 105h1v1h-1zM27 105h1v1h-1zM8 106h2v1h-2zM14 106h1v1h-1zM17 106h2v1h-2zM21 106h1v1h-1zM35 106h1v1h-1zM43 106h1v1h-1zM4 108h2v1h-2zM19 108h1v1h-1zM28 108h1v1h-1zM31 108h1v1h-1zM30 109h1v1h-1zM33 109h1v1h-1zM38 109h1v1h-1zM10 110h1v1h-1zM28 110h1v1h-1zM34 110h1v1h-1zM41 110h1v1h-1zM4 111h1v1h-1zM18 111h1v1h-1zM35 111h1v1h-1zM1 112h1v1h-1zM3 112h1v1h-1zM13 112h1v1h-1zM16 112h1v1h-1zM19 112h1v1h-1zM21 112h1v1h-1zM24 112h1v1h-1zM29 112h1v1h-1zM38 112h4v1h-4zM3 113h1v1h-1zM19 113h1v1h-1zM24 113h1v1h-1zM23 114h2v1h-2zM27 114h1v1h-1zM36 114h1v1h-1zM38 114h3v1h-3zM20 115h1v1h-1zM26 115h1v1h-1zM32 115h1v1h-1zM36 115h2v1h-2zM39 115h1v1h-1zM19 116h1v1h-1zM21 116h2v1h-2zM24 116h1v1h-1zM27 116h1v1h-1zM23 117h1v1h-1zM41 117h1v1h-1zM44 117h1v1h-1zM26 118h1v1h-1zM32 118h1v1h-1zM36 118h1v1h-1zM40 118h1v1h-1zM44 118h1v1h-1zM15 119h1v1h-1zM17 119h1v1h-1zM30 119h1v1h-1zM36 119h1v1h-1zM43 119h1v1h-1zM11 120h1v1h-1zM21 120h1v1h-1zM23 120h1v1h-1zM44 120h1v1h-1zM10 121h1v1h-1zM12 121h1v1h-1zM19 121h1v1h-1zM21 121h1v1h-1zM25 121h1v1h-1zM30 121h1v1h-1zM36 121h3v1h-3zM43 121h1v1h-1zM46 121h1v1h-1zM13 122h1v1h-1zM24 122h1v1h-1zM42 122h1v1h-1zM0 123h2v1h-2zM14 123h1v1h-1zM29 123h1v1h-1zM34 123h1v1h-1zM36 123h2v1h-2zM40 123h2v1h-2zM16 124h1v1h-1zM23 124h1v1h-1zM10 125h1v1h-1zM16 125h1v1h-1zM18 125h1v1h-1zM30 125h2v1h-2zM39 125h1v1h-1zM44 125h1v1h-1zM15 126h1v1h-1zM46 126h1v1h-1zM4 127h1v1h-1zM11 127h1v1h-1zM17 127h1v1h-1zM2 128h1v1h-1zM12 128h1v1h-1zM23 128h1v1h-1zM33 128h2v1h-2zM38 128h1v1h-1zM11 129h1v1h-1zM25 129h1v1h-1zM29 129h1v1h-1zM33 129h1v1h-1zM40 129h1v1h-1zM42 129h1v1h-1zM44 129h1v1h-1zM2 130h3v1h-3zM23 130h1v1h-1zM30 130h2v1h-2zM34 130h1v1h-1zM37 130h1v1h-1zM39 130h1v1h-1zM44 130h1v1h-1zM24 131h2v1h-2zM27 131h1v1h-1zM30 131h1v1h-1zM41 131h1v1h-1zM18 132h1v1h-1zM35 132h1v1h-1zM40 132h2v1h-2zM13 133h1v1h-1zM38 133h1v1h-1zM40 133h3v1h-3zM14 134h1v1h-1zM23 134h1v1h-1zM31 134h1v1h-1zM38 134h1v1h-1zM43 134h2v1h-2zM3 135h1v1h-1zM25 135h1v1h-1zM27 135h1v1h-1zM30 135h3v1h-3zM46 135h1v1h-1zM32 136h1v1h-1zM34 136h1v1h-1zM38 136h1v1h-1zM43 136h1v1h-1zM28 137h1v1h-1zM33 137h2v1h-2zM24 138h1v1h-1zM37 138h2v1h-2zM1 139h1v1h-1zM18 139h1v1h-1zM25 139h1v1h-1zM0 140h1v1h-1zM5 140h1v1h-1zM10 140h1v1h-1zM12 140h1v1h-1zM19 140h1v1h-1zM21 140h1v1h-1zM46 140h1v1h-1zM20 141h1v1h-1zM23 141h1v1h-1zM30 141h1v1h-1zM33 141h1v1h-1zM38 141h1v1h-1zM42 141h1v1h-1zM27 142h1v1h-1zM29 142h1v1h-1zM34 142h1v1h-1zM36 142h2v1h-2zM41 142h2v1h-2zM44 142h1v1h-1zM29 143h2v1h-2zM32 143h1v1h-1zM35 143h1v1h-1zM38 143h1v1h-1zM41 143h2v1h-2zM37 145h2v1h-2zM40 145h2v1h-2zM17 146h1v1h-1zM32 146h1v1h-1zM37 146h1v1h-1zM9 147h1v1h-1zM30 147h1v1h-1zM38 147h1v1h-1zM41 147h1v1h-1zM46 147h1v1h-1zM27 148h1v1h-1zM32 148h1v1h-1zM37 148h1v1h-1zM39 148h2v1h-2zM13 149h1v1h-1zM29 149h1v1h-1zM39 149h1v1h-1zM46 149h1v1h-1zM32 150h1v1h-1zM34 150h1v1h-1zM41 150h3v1h-3zM45 150h1v1h-1zM12 151h1v1h-1zM25 151h1v1h-1zM32 151h1v1h-1zM36 151h1v1h-1zM40 151h1v1h-1zM7 152h1v1h-1zM9 152h1v1h-1zM24 152h1v1h-1zM29 152h1v1h-1zM40 152h1v1h-1zM17 153h1v1h-1zM31 153h1v1h-1zM33 153h1v1h-1zM39 153h1v1h-1zM23 154h1v1h-1zM25 154h1v1h-1zM28 154h1v1h-1zM30 154h1v1h-1zM36 154h1v1h-1zM38 154h1v1h-1zM40 154h2v1h-2zM22 155h1v1h-1zM36 155h1v1h-1zM38 155h1v1h-1zM43 155h2v1h-2zM46 155h1v1h-1zM17 156h3v1h-3zM29 156h2v1h-2zM39 156h1v1h-1zM44 156h3v1h-3zM17 157h1v1h-1zM21 157h1v1h-1zM28 157h1v1h-1zM30 157h1v1h-1zM32 157h1v1h-1zM39 157h1v1h-1zM41 157h1v1h-1zM46 157h1v1h-1zM29 158h1v1h-1zM35 158h2v1h-2zM41 158h1v1h-1zM43 158h1v1h-1zM21 159h1v1h-1zM33 159h1v1h-1zM42 159h1v1h-1zM44 159h2v1h-2zM27 160h2v1h-2zM35 160h2v1h-2zM43 160h2v1h-2zM34 161h1v1h-1zM38 161h1v1h-1zM26 162h2v1h-2zM30 162h1v1h-1zM32 162h1v1h-1zM35 162h1v1h-1zM40 162h2v1h-2zM25 163h1v1h-1zM24 164h1v1h-1zM26 164h1v1h-1zM37 164h1v1h-1zM39 164h1v1h-1zM24 165h1v1h-1zM32 165h2v1h-2zM46 165h1v1h-1zM29 166h1v1h-1zM35 166h1v1h-1zM38 166h2v1h-2zM44 166h1v1h-1zM0 167h1v1h-1zM26 167h1v1h-1zM30 167h1v1h-1zM40 167h1v1h-1zM42 167h1v1h-1zM23 168h1v1h-1zM35 168h2v1h-2zM42 168h1v1h-1zM46 168h1v1h-1zM32 169h1v1h-1zM34 169h1v1h-1zM40 169h1v1h-1zM23 170h2v1h-2zM29 170h2v1h-2zM45 170h2v1h-2zM26 171h1v1h-1zM30 171h1v1h-1zM36 171h1v1h-1zM38 171h1v1h-1zM42 171h1v1h-1zM19 172h1v1h-1zM30 172h1v1h-1zM39 172h1v1h-1zM43 172h1v1h-1zM45 172h1v1h-1zM22 173h1v1h-1zM25 173h3v1h-3zM32 173h2v1h-2zM38 173h2v1h-2zM40 174h1v1h-1zM26 175h3v1h-3zM34 175h1v1h-1zM42 175h2v1h-2zM45 175h1v1h-1zM32 176h2v1h-2zM17 177h1v1h-1zM23 177h1v1h-1zM25 177h1v1h-1zM33 177h1v1h-1zM36 177h1v1h-1zM42 177h1v1h-1zM44 177h1v1h-1zM18 178h1v1h-1zM23 178h1v1h-1zM33 178h1v1h-1zM42 178h2v1h-2zM28 179h1v1h-1zM40 179h1v1h-1zM23 180h1v1h-1zM34 180h3v1h-3zM39 180h1v1h-1zM35 181h4v1h-4zM43 181h1v1h-1zM45 181h1v1h-1zM26 182h1v1h-1zM29 182h2v1h-2zM30 183h1v1h-1zM38 183h1v1h-1zM43 183h1v1h-1zM45 183h1v1h-1zM26 184h1v1h-1zM28 184h2v1h-2zM36 184h1v1h-1zM40 184h1v1h-1zM45 184h1v1h-1zM28 185h1v1h-1zM32 185h1v1h-1zM35 185h1v1h-1zM40 185h1v1h-1zM42 185h1v1h-1zM5 186h1v1h-1zM12 186h1v1h-1zM17 186h1v1h-1zM22 186h1v1h-1zM39 186h1v1h-1zM45 187h1v1h-1zM0 188h1v1h-1zM29 188h1v1h-1zM32 188h2v1h-2zM43 188h1v1h-1zM10 189h1v1h-1zM30 189h1v1h-1zM34 189h1v1h-1zM4 190h1v1h-1zM6 190h1v1h-1zM15 190h1v1h-1zM17 190h1v1h-1zM23 190h1v1h-1zM0 191h1v1h-1zM21 191h1v1h-1zM26 191h1v1h-1zM41 191h1v1h-1zM29 192h1v1h-1zM42 193h1v1h-1zM21 194h1v1h-1zM33 194h2v1h-2zM37 194h2v1h-2zM40 194h3v1h-3zM6 195h1v1h-1zM21 195h1v1h-1zM35 195h1v1h-1zM38 195h1v1h-1zM18 196h1v1h-1zM35 196h1v1h-1zM39 196h1v1h-1zM44 196h1v1h-1zM46 196h1v1h-1zM28 197h1v1h-1zM38 197h1v1h-1zM0 198h1v1h-1zM12 198h1v1h-1zM23 198h1v1h-1zM26 198h1v1h-1zM37 198h1v1h-1zM39 198h1v1h-1zM31 199h1v1h-1zM27 200h1v1h-1zM29 200h1v1h-1zM35 200h1v1h-1zM42 200h1v1h-1zM21 201h1v1h-1zM28 201h1v1h-1zM35 201h1v1h-1zM38 201h1v1h-1zM28 202h1v1h-1zM33 202h1v1h-1zM40 202h2v1h-2zM46 202h1v1h-1zM38 203h2v1h-2zM41 204h2v1h-2zM38 205h1v1h-1zM43 205h1v1h-1zM45 205h1v1h-1zM36 206h3v1h-3zM27 207h1v1h-1zM35 207h1v1h-1zM38 207h1v1h-1zM40 207h1v1h-1zM46 207h1v1h-1zM18 208h1v1h-1zM31 208h1v1h-1zM33 208h1v1h-1zM39 208h1v1h-1zM30 209h1v1h-1zM44 209h1v1h-1zM22 210h1v1h-1zM28 210h1v1h-1zM33 210h1v1h-1zM36 210h1v1h-1zM43 210h1v1h-1zM30 211h1v1h-1zM34 211h1v1h-1zM39 211h1v1h-1zM44 211h1v1h-1zM17 212h1v1h-1zM20 212h1v1h-1zM33 212h1v1h-1zM36 212h1v1h-1zM38 212h1v1h-1zM40 212h2v1h-2zM28 213h1v1h-1zM1 214h1v1h-1zM28 214h2v1h-2zM34 214h1v1h-1zM39 214h2v1h-2zM44 214h1v1h-1zM23 215h1v1h-1zM27 215h1v1h-1zM31 215h1v1h-1zM43 216h1v1h-1zM19 217h1v1h-1zM26 217h1v1h-1zM29 217h1v1h-1zM34 217h2v1h-2zM38 218h1v1h-1zM42 218h1v1h-1zM30 219h1v1h-1zM39 219h1v1h-1zM30 220h1v1h-1zM33 220h1v1h-1zM40 220h1v1h-1zM42 220h1v1h-1zM46 220h1v1h-1zM41 221h1v1h-1zM46 221h1v1h-1zM31 222h1v1h-1zM36 222h1v1h-1zM38 222h1v1h-1zM3 223h1v1h-1zM17 223h1v1h-1zM19 223h1v1h-1zM40 223h2v1h-2zM4 224h1v1h-1zM7 224h1v1h-1zM11 224h1v1h-1zM15 224h1v1h-1zM17 224h1v1h-1zM20 224h1v1h-1zM35 224h1v1h-1zM22 225h1v1h-1zM26 225h1v1h-1zM34 225h1v1h-1zM36 225h2v1h-2zM44 225h1v1h-1zM35 226h1v1h-1zM38 226h2v1h-2zM42 226h1v1h-1zM21 227h1v1h-1zM32 227h2v1h-2zM35 227h1v1h-1zM37 227h1v1h-1zM40 227h1v1h-1zM31 228h2v1h-2zM38 228h1v1h-1zM41 228h1v1h-1zM34 229h1v1h-1zM41 229h1v1h-1zM26 230h2v1h-2zM39 230h1v1h-1zM41 230h3v1h-3zM12 231h1v1h-1zM19 231h1v1h-1zM28 231h1v1h-1zM31 231h1v1h-1zM41 231h1v1h-1zM3 232h1v1h-1zM6 232h1v1h-1zM19 232h1v1h-1zM27 232h1v1h-1zM39 232h1v1h-1zM24 233h1v1h-1zM27 233h1v1h-1zM30 233h1v1h-1zM39 233h1v1h-1zM19 234h1v1h-1zM27 234h1v1h-1zM29 234h2v1h-2zM34 234h1v1h-1zM2 235h3v1h-3zM19 235h1v1h-1zM21 235h2v1h-2zM24 235h1v1h-1zM26 235h2v1h-2zM40 235h1v1h-1zM41 236h1v1h-1zM44 236h1v1h-1zM5 237h2v1h-2zM34 237h1v1h-1zM36 237h1v1h-1zM42 237h1v1h-1zM44 237h1v1h-1zM11 238h1v1h-1zM29 238h3v1h-3zM35 238h1v1h-1zM38 238h1v1h-1zM35 239h1v1h-1zM37 239h1v1h-1zM44 239h1v1h-1zM31 240h1v1h-1zM33 240h1v1h-1zM40 240h1v1h-1zM18 241h1v1h-1zM33 241h1v1h-1zM35 241h1v1h-1zM37 241h1v1h-1zM39 241h1v1h-1zM42 241h1v1h-1zM45 241h1v1h-1zM29 242h2v1h-2zM32 242h2v1h-2zM38 242h1v1h-1zM43 242h1v1h-1zM39 243h1v1h-1zM44 243h1v1h-1z"/>
<path fill="#faf0f6" d="M4 0h2v1h-2zM13 0h1v1h-1zM22 0h1v1h-1zM25 0h1v1h-1zM27 0h1v1h-1zM29 0h1v1h-1zM32 0h1v1h-1zM0 1h1v1h-1zM3 1h1v1h-1zM5 1h2v1h-2zM12 1h2v1h-2zM16 1h1v1h-1zM20 1h1v1h-1zM25 1h1v1h-1zM35 1h1v1h-1zM39 1h1v1h-1zM44 1h1v1h-1zM46 1h1v1h-1zM13 2h1v1h-1zM21 2h1v1h-1zM33 2h1v1h-1zM44 2h1v1h-1zM2 3h1v1h-1zM12 3h1v1h-1zM16 3h1v1h-1zM28 3h1v1h-1zM1 4h1v1h-1zM11 4h1v1h-1zM13 4h1v1h-1zM24 4h1v1h-1zM27 4h2v1h-2zM30 4h1v1h-1zM33 4h1v1h-1zM39 4h1v1h-1zM46 4h1v1h-1zM5 5h1v1h-1zM11 5h1v1h-1zM19 5h1v1h-1zM25 5h1v1h-1zM30 5h1v1h-1zM38 5h2v1h-2zM43 5h2v1h-2zM2 6h1v1h-1zM7 6h1v1h-1zM21 6h1v1h-1zM23 6h1v1h-1zM31 6h1v1h-1zM34 6h1v1h-1zM0 7h1v1h-1zM2 7h1v1h-1zM7 7h1v1h-1zM14 7h1v1h-1zM16 7h1v1h-1zM24 7h1v1h-1zM29 7h1v1h-1zM33 7h1v1h-1zM37 7h4v1h-4zM44 7h2v1h-2zM2 8h1v1h-1zM16 8h2v1h-2zM29 8h1v1h-1zM2 9h1v1h-1zM16 9h1v1h-1zM22 9h1v1h-1zM27 9h1v1h-1zM29 9h1v1h-1zM2 10h1v1h-1zM30 10h1v1h-1zM44 10h1v1h-1zM46 10h1v1h-1zM5 11h1v1h-1zM14 11h1v1h-1zM20 11h1v1h-1zM24 11h3v1h-3zM45 11h2v1h-2zM7 12h1v1h-1zM13 12h1v1h-1zM16 12h3v1h-3zM30 12h2v1h-2zM35 12h4v1h-4zM4 13h1v1h-1zM16 13h2v1h-2zM26 13h2v1h-2zM30 13h1v1h-1zM35 13h1v1h-1zM38 13h1v1h-1zM2 14h1v1h-1zM6 14h1v1h-1zM15 14h1v1h-1zM17 14h1v1h-1zM24 14h1v1h-1zM26 14h1v1h-1zM35 14h2v1h-2zM40 14h1v1h-1zM43 14h1v1h-1zM10 15h1v1h-1zM13 15h1v1h-1zM26 15h1v1h-1zM38 15h1v1h-1zM3 16h1v1h-1zM5 16h1v1h-1zM7 16h1v1h-1zM12 16h1v1h-1zM18 16h1v1h-1zM21 16h1v1h-1zM25 16h1v1h-1zM40 16h1v1h-1zM4 17h1v1h-1zM8 17h1v1h-1zM11 17h1v1h-1zM19 17h1v1h-1zM29 17h1v1h-1zM40 17h1v1h-1zM45 17h1v1h-1zM17 18h1v1h-1zM24 18h1v1h-1zM26 18h1v1h-1zM42 18h1v1h-1zM1 19h1v1h-1zM11 19h2v1h-2zM15 19h2v1h-2zM20 19h2v1h-2zM25 19h1v1h-1zM31 19h1v1h-1zM8 20h1v1h-1zM14 20h1v1h-1zM26 20h1v1h-1zM29 20h1v1h-1zM44 20h1v1h-1zM0 21h1v1h-1zM5 21h3v1h-3zM15 21h1v1h-1zM31 21h1v1h-1zM42 21h2v1h-2zM11 22h2v1h-2zM19 22h2v1h-2zM36 22h1v1h-1zM10 23h1v1h-1zM12 23h2v1h-2zM17 23h1v1h-1zM22 23h1v1h-1zM27 23h1v1h-1zM38 23h1v1h-1zM41 23h2v1h-2zM46 23h1v1h-1zM17 24h1v1h-1zM29 24h1v1h-1zM37 24h1v1h-1zM43 24h1v1h-1zM46 24h1v1h-1zM0 25h2v1h-2zM4 25h1v1h-1zM11 25h1v1h-1zM27 25h1v1h-1zM30 25h1v1h-1zM36 25h1v1h-1zM38 25h2v1h-2zM0 26h1v1h-1zM12 26h1v1h-1zM14 26h1v1h-1zM18 26h1v1h-1zM20 26h1v1h-1zM25 26h3v1h-3zM32 26h1v1h-1zM1 27h1v1h-1zM9 27h1v1h-1zM13 27h1v1h-1zM37 27h1v1h-1zM3 28h1v1h-1zM16 28h2v1h-2zM36 28h1v1h-1zM41 28h2v1h-2zM0 29h1v1h-1zM6 29h1v1h-1zM8 29h1v1h-1zM39 29h1v1h-1zM43 29h1v1h-1zM5 30h1v1h-1zM20 30h1v1h-1zM35 30h2v1h-2zM2 31h1v1h-1zM7 31h2v1h-2zM16 31h1v1h-1zM25 31h1v1h-1zM28 31h1v1h-1zM34 31h2v1h-2zM37 31h1v1h-1zM42 31h2v1h-2zM2 32h1v1h-1zM5 32h1v1h-1zM15 32h1v1h-1zM30 32h2v1h-2zM43 32h1v1h-1zM11 33h1v1h-1zM15 33h2v1h-2zM20 33h2v1h-2zM30 33h2v1h-2zM38 33h1v1h-1zM1 34h1v1h-1zM9 34h3v1h-3zM13 34h1v1h-1zM15 34h1v1h-1zM22 34h1v1h-1zM38 34h1v1h-1zM1 35h2v1h-2zM15 35h1v1h-1zM18 35h1v1h-1zM21 35h1v1h-1zM34 35h1v1h-1zM2 36h1v1h-1zM5 36h1v1h-1zM34 36h1v1h-1zM43 36h2v1h-2zM5 37h1v1h-1zM8 37h1v1h-1zM30 37h1v1h-1zM4 38h1v1h-1zM7 38h1v1h-1zM10 38h2v1h-2zM15 38h1v1h-1zM35 38h1v1h-1zM37 38h1v1h-1zM1 39h1v1h-1zM14 39h1v1h-1zM19 39h2v1h-2zM32 39h1v1h-1zM35 39h1v1h-1zM44 39h2v1h-2zM13 40h1v1h-1zM21 40h2v1h-2zM29 40h1v1h-1zM32 40h2v1h-2zM37 40h1v1h-1zM3 41h1v1h-1zM12 41h1v1h-1zM14 41h1v1h-1zM22 41h1v1h-1zM28 41h2v1h-2zM32 41h1v1h-1zM38 41h1v1h-1zM42 41h1v1h-1zM44 41h1v1h-1zM46 41h1v1h-1zM2 42h2v1h-2zM9 42h1v1h-1zM17 42h1v1h-1zM25 42h1v1h-1zM34 42h1v1h-1zM37 42h1v1h-1zM42 42h1v1h-1zM1 43h1v1h-1zM11 43h1v1h-1zM15 43h3v1h-3zM19 43h1v1h-1zM21 43h1v1h-1zM25 43h1v1h-1zM36 43h1v1h-1zM41 43h2v1h-2zM0 44h1v1h-1zM6 44h2v1h-2zM14 44h1v1h-1zM30 44h1v1h-1zM0 45h3v1h-3zM9 45h1v1h-1zM42 45h1v1h-1zM44 45h1v1h-1zM0 46h2v1h-2zM5 46h1v1h-1zM8 46h1v1h-1zM11 46h1v1h-1zM26 46h1v1h-1zM35 46h2v1h-2zM42 46h1v1h-1zM0 47h2v1h-2zM9 47h1v1h-1zM22 47h3v1h-3zM41 47h1v1h-1zM9 48h1v1h-1zM17 48h1v1h-1zM37 48h2v1h-2zM43 48h1v1h-1zM16 49h1v1h-1zM36 49h1v1h-1zM17 50h1v1h-1zM30 50h1v1h-1zM32 50h1v1h-1zM41 50h2v1h-2zM14 51h1v1h-1zM18 51h1v1h-1zM21 51h1v1h-1zM34 51h1v1h-1zM39 51h2v1h-2zM42 51h1v1h-1zM4 52h1v1h-1zM10 52h1v1h-1zM12 52h1v1h-1zM25 52h1v1h-1zM36 52h2v1h-2zM43 52h2v1h-2zM7 53h1v1h-1zM10 53h1v1h-1zM22 53h1v1h-1zM25 53h1v1h-1zM30 53h1v1h-1zM36 53h1v1h-1zM38 53h1v1h-1zM41 53h1v1h-1zM7 54h1v1h-1zM34 54h1v1h-1zM36 54h1v1h-1zM43 54h1v1h-1zM6 55h1v1h-1zM14 55h1v1h-1zM17 55h1v1h-1zM24 55h1v1h-1zM28 55h1v1h-1zM35 55h1v1h-1zM8 56h1v1h-1zM12 56h1v1h-1zM14 56h1v1h-1zM16 56h1v1h-1zM23 56h1v1h-1zM29 56h1v1h-1zM33 56h2v1h-2zM43 56h1v1h-1zM7 57h1v1h-1zM18 57h1v1h-1zM28 57h1v1h-1zM39 57h1v1h-1zM12 58h1v1h-1zM34 58h1v1h-1zM37 58h1v1h-1zM41 58h1v1h-1zM3 59h1v1h-1zM5 59h1v1h-1zM9 59h1v1h-1zM21 59h4v1h-4zM27 59h1v1h-1zM2 60h1v1h-1zM8 60h2v1h-2zM41 60h1v1h-1zM4 61h1v1h-1zM35 61h4v1h-4zM6 62h2v1h-2zM9 62h1v1h-1zM14 62h1v1h-1zM27 62h1v1h-1zM39 62h1v1h-1zM4 63h2v1h-2zM10 63h1v1h-1zM14 63h1v1h-1zM29 63h2v1h-2zM33 63h2v1h-2zM38 63h1v1h-1zM40 63h2v1h-2zM5 64h1v1h-1zM15 64h1v1h-1zM20 64h1v1h-1zM22 64h1v1h-1zM28 64h1v1h-1zM19 65h1v1h-1zM21 65h2v1h-2zM2 66h1v1h-1zM10 66h1v1h-1zM15 66h2v1h-2zM40 66h2v1h-2zM10 67h1v1h-1zM14 67h3v1h-3zM20 67h1v1h-1zM22 67h2v1h-2zM25 67h1v1h-1zM1 68h1v1h-1zM7 68h1v1h-1zM13 68h1v1h-1zM24 68h1v1h-1zM33 68h1v1h-1zM35 68h1v1h-1zM1 69h1v1h-1zM6 69h1v1h-1zM8 69h1v1h-1zM12 69h1v1h-1zM14 69h1v1h-1zM16 69h1v1h-1zM21 69h1v1h-1zM31 69h1v1h-1zM34 69h2v1h-2zM38 69h5v1h-5zM1 70h1v1h-1zM5 70h1v1h-1zM9 70h1v1h-1zM14 70h1v1h-1zM20 70h2v1h-2zM23 70h1v1h-1zM27 70h1v1h-1zM38 70h2v1h-2zM41 70h1v1h-1zM8 71h1v1h-1zM21 71h1v1h-1zM25 71h1v1h-1zM29 71h2v1h-2zM5 72h1v1h-1zM10 72h2v1h-2zM13 72h2v1h-2zM32 72h1v1h-1zM34 72h2v1h-2zM7 73h1v1h-1zM11 73h1v1h-1zM14 73h1v1h-1zM17 73h1v1h-1zM24 73h1v1h-1zM28 73h1v1h-1zM1 74h1v1h-1zM11 74h1v1h-1zM20 74h1v1h-1zM22 74h1v1h-1zM33 74h2v1h-2zM36 74h1v1h-1zM0 75h1v1h-1zM2 75h1v1h-1zM4 75h3v1h-3zM11 75h1v1h-1zM20 75h3v1h-3zM35 76h1v1h-1zM44 76h1v1h-1zM6 77h2v1h-2zM27 77h3v1h-3zM32 77h1v1h-1zM39 77h1v1h-1zM0 78h1v1h-1zM6 78h1v1h-1zM8 78h2v1h-2zM12 78h1v1h-1zM16 78h2v1h-2zM19 78h1v1h-1zM30 78h1v1h-1zM20 79h1v1h-1zM27 79h1v1h-1zM36 79h1v1h-1zM0 80h1v1h-1zM8 80h1v1h-1zM12 80h1v1h-1zM20 80h1v1h-1zM24 80h1v1h-1zM26 80h1v1h-1zM32 80h1v1h-1zM35 80h1v1h-1zM25 81h1v1h-1zM27 81h1v1h-1zM34 81h3v1h-3zM14 82h1v1h-1zM21 82h2v1h-2zM28 82h1v1h-1zM39 82h1v1h-1zM41 82h1v1h-1zM1 83h1v1h-1zM10 83h1v1h-1zM21 83h1v1h-1zM26 83h3v1h-3zM30 83h1v1h-1zM5 84h1v1h-1zM11 84h1v1h-1zM24 84h1v1h-1zM31 84h2v1h-2zM45 84h1v1h-1zM0 85h1v1h-1zM15 85h1v1h-1zM22 85h1v1h-1zM26 85h1v1h-1zM32 85h1v1h-1zM34 85h1v1h-1zM37 85h1v1h-1zM41 85h1v1h-1zM0 86h1v1h-1zM4 86h1v1h-1zM13 86h2v1h-2zM16 86h1v1h-1zM34 86h1v1h-1zM6 87h1v1h-1zM12 87h1v1h-1zM17 87h1v1h-1zM39 87h1v1h-1zM13 88h1v1h-1zM17 88h1v1h-1zM21 88h1v1h-1zM30 88h1v1h-1zM32 88h1v1h-1zM41 88h1v1h-1zM2 89h1v1h-1zM6 89h3v1h-3zM11 89h1v1h-1zM17 89h2v1h-2zM20 89h1v1h-1zM22 89h1v1h-1zM34 89h1v1h-1zM1 90h1v1h-1zM12 90h1v1h-1zM30 90h1v1h-1zM34 90h1v1h-1zM37 90h1v1h-1zM7 91h1v1h-1zM13 91h1v1h-1zM18 91h6v1h-6zM28 91h1v1h-1zM37 91h1v1h-1zM27 92h1v1h-1zM43 92h1v1h-1zM1 93h1v1h-1zM11 93h1v1h-1zM16 93h1v1h-1zM19 93h2v1h-2zM38 93h1v1h-1zM2 94h1v1h-1zM5 94h1v1h-1zM13 94h2v1h-2zM21 94h3v1h-3zM29 94h1v1h-1zM34 94h1v1h-1zM36 94h1v1h-1zM38 94h1v1h-1zM1 95h2v1h-2zM9 95h1v1h-1zM17 95h1v1h-1zM19 95h1v1h-1zM23 95h1v1h-1zM25 95h1v1h-1zM30 95h1v1h-1zM34 95h1v1h-1zM1 96h1v1h-1zM3 96h1v1h-1zM11 96h1v1h-1zM13 96h1v1h-1zM18 96h1v1h-1zM22 96h1v1h-1zM27 96h1v1h-1zM33 96h1v1h-1zM35 96h2v1h-2zM1 97h1v1h-1zM11 97h1v1h-1zM32 97h1v1h-1zM37 97h1v1h-1zM43 97h1v1h-1zM7 98h1v1h-1zM17 98h1v1h-1zM33 98h2v1h-2zM44 98h1v1h-1zM0 99h1v1h-1zM8 99h1v1h-1zM40 99h1v1h-1zM7 100h1v1h-1zM15 100h1v1h-1zM21 100h2v1h-2zM36 100h1v1h-1zM0 101h1v1h-1zM9 101h3v1h-3zM16 101h1v1h-1zM19 101h2v1h-2zM22 101h1v1h-1zM29 101h1v1h-1zM31 101h1v1h-1zM34 101h1v1h-1zM1 102h1v1h-1zM7 102h1v1h-1zM10 102h2v1h-2zM13 102h1v1h-1zM18 102h1v1h-1zM25 102h1v1h-1zM27 102h2v1h-2zM2 103h1v1h-1zM11 103h1v1h-1zM20 103h1v1h-1zM32 103h1v1h-1zM40 103h1v1h-1zM43 103h2v1h-2zM39 104h1v1h-1zM44 104h1v1h-1zM10 105h2v1h-2zM13 105h1v1h-1zM17 105h1v1h-1zM33 105h2v1h-2zM45 105h1v1h-1zM12 106h1v1h-1zM19 106h2v1h-2zM33 106h1v1h-1zM37 106h1v1h-1zM41 106h1v1h-1zM10 107h1v1h-1zM25 107h1v1h-1zM42 107h1v1h-1zM2 108h2v1h-2zM9 108h1v1h-1zM30 108h1v1h-1zM40 108h1v1h-1zM43 108h1v1h-1zM46 108h1v1h-1zM10 109h2v1h-2zM19 109h1v1h-1zM25 109h1v1h-1zM27 109h1v1h-1zM32 109h1v1h-1zM36 109h1v1h-1zM46 109h1v1h-1zM3 110h1v1h-1zM23 110h1v1h-1zM25 110h1v1h-1zM29 110h2v1h-2zM35 110h2v1h-2zM38 110h1v1h-1zM44 110h1v1h-1zM46 110h1v1h-1zM2 111h1v1h-1zM8 111h1v1h-1zM12 111h1v1h-1zM15 111h1v1h-1zM26 111h2v1h-2zM39 111h2v1h-2zM42 111h1v1h-1zM44 111h1v1h-1zM8 112h1v1h-1zM22 112h1v1h-1zM26 112h1v1h-1zM4 113h1v1h-1zM10 113h1v1h-1zM18 113h1v1h-1zM22 113h1v1h-1zM27 113h1v1h-1zM34 113h1v1h-1zM2 114h1v1h-1zM13 114h1v1h-1zM43 114h3v1h-3zM1 115h1v1h-1zM6 115h1v1h-1zM8 115h1v1h-1zM16 115h1v1h-1zM27 115h1v1h-1zM34 115h1v1h-1zM43 115h1v1h-1zM2 116h1v1h-1zM20 116h1v1h-1zM29 116h1v1h-1zM6 117h1v1h-1zM14 117h1v1h-1zM28 117h1v1h-1zM30 117h1v1h-1zM33 117h1v1h-1zM36 117h1v1h-1zM11 118h2v1h-2zM20 118h2v1h-2zM23 118h1v1h-1zM28 118h1v1h-1zM41 118h1v1h-1zM1 119h1v1h-1zM3 119h1v1h-1zM5 119h1v1h-1zM13 119h1v1h-1zM22 119h1v1h-1zM29 119h1v1h-1zM39 119h1v1h-1zM44 119h1v1h-1zM1 120h1v1h-1zM3 120h1v1h-1zM8 120h1v1h-1zM12 120h1v1h-1zM17 120h1v1h-1zM20 120h1v1h-1zM22 120h1v1h-1zM26 120h1v1h-1zM29 120h2v1h-2zM39 120h1v1h-1zM45 120h1v1h-1zM3 121h1v1h-1zM11 121h1v1h-1zM27 121h1v1h-1zM33 121h1v1h-1zM3 122h1v1h-1zM18 122h2v1h-2zM23 122h1v1h-1zM27 122h1v1h-1zM38 122h1v1h-1zM11 123h1v1h-1zM24 123h1v1h-1zM39 123h1v1h-1zM42 123h1v1h-1zM0 124h1v1h-1zM5 124h1v1h-1zM7 124h1v1h-1zM27 124h1v1h-1zM33 124h1v1h-1zM42 124h2v1h-2zM46 124h1v1h-1zM11 125h1v1h-1zM13 125h1v1h-1zM19 125h1v1h-1zM4 126h1v1h-1zM6 126h1v1h-1zM18 126h1v1h-1zM21 126h1v1h-1zM23 126h1v1h-1zM25 126h1v1h-1zM39 126h1v1h-1zM0 127h1v1h-1zM6 127h1v1h-1zM9 127h1v1h-1zM18 127h1v1h-1zM27 127h1v1h-1zM42 127h1v1h-1zM44 127h1v1h-1zM9 128h1v1h-1zM11 128h1v1h-1zM32 128h1v1h-1zM9 129h1v1h-1zM24 129h1v1h-1zM9 130h1v1h-1zM41 130h1v1h-1zM5 131h1v1h-1zM13 131h1v1h-1zM22 131h1v1h-1zM34 131h1v1h-1zM37 131h1v1h-1zM43 131h1v1h-1zM46 131h1v1h-1zM7 132h1v1h-1zM9 132h1v1h-1zM13 132h1v1h-1zM12 133h1v1h-1zM15 133h1v1h-1zM19 133h1v1h-1zM29 133h1v1h-1zM45 133h1v1h-1zM3 134h4v1h-4zM12 134h1v1h-1zM19 134h1v1h-1zM33 134h1v1h-1zM36 134h2v1h-2zM40 134h1v1h-1zM1 135h1v1h-1zM5 135h1v1h-1zM41 135h2v1h-2zM15 136h1v1h-1zM24 136h1v1h-1zM37 136h1v1h-1zM6 137h1v1h-1zM20 137h1v1h-1zM4 138h1v1h-1zM17 138h1v1h-1zM9 139h1v1h-1zM11 139h1v1h-1zM15 139h1v1h-1zM17 139h1v1h-1zM4 140h1v1h-1zM8 140h1v1h-1zM11 140h1v1h-1zM16 140h1v1h-1zM25 140h1v1h-1zM40 140h1v1h-1zM10 141h1v1h-1zM18 141h1v1h-1zM21 141h1v1h-1zM24 141h1v1h-1zM28 141h1v1h-1zM32 141h1v1h-1zM35 141h1v1h-1zM43 141h1v1h-1zM10 142h1v1h-1zM12 142h1v1h-1zM15 142h1v1h-1zM19 142h1v1h-1zM24 142h2v1h-2zM28 143h1v1h-1zM39 143h1v1h-1zM45 143h1v1h-1zM6 144h1v1h-1zM12 144h1v1h-1zM15 144h2v1h-2zM20 144h1v1h-1zM23 144h1v1h-1zM29 144h1v1h-1zM31 144h1v1h-1zM42 144h1v1h-1zM3 145h1v1h-1zM5 145h1v1h-1zM7 145h1v1h-1zM29 145h1v1h-1zM39 145h1v1h-1zM9 146h3v1h-3zM20 146h1v1h-1zM25 146h1v1h-1zM27 146h1v1h-1zM33 146h1v1h-1zM2 147h1v1h-1zM7 147h1v1h-1zM12 147h1v1h-1zM15 147h1v1h-1zM7 148h1v1h-1zM17 148h1v1h-1zM28 148h2v1h-2zM33 148h3v1h-3zM46 148h1v1h-1zM25 149h1v1h-1zM27 149h1v1h-1zM30 149h2v1h-2zM40 149h1v1h-1zM42 149h1v1h-1zM1 150h1v1h-1zM10 150h1v1h-1zM13 150h1v1h-1zM15 150h1v1h-1zM19 150h2v1h-2zM25 150h1v1h-1zM28 150h1v1h-1zM35 150h1v1h-1zM38 150h2v1h-2zM17 151h4v1h-4zM35 151h1v1h-1zM39 151h1v1h-1zM0 152h1v1h-1zM2 152h1v1h-1zM5 152h2v1h-2zM30 152h1v1h-1zM2 153h1v1h-1zM13 153h1v1h-1zM16 153h1v1h-1zM20 153h1v1h-1zM24 153h1v1h-1zM40 153h1v1h-1zM43 153h1v1h-1zM6 154h1v1h-1zM12 154h1v1h-1zM19 154h1v1h-1zM39 154h1v1h-1zM21 155h1v1h-1zM27 155h2v1h-2zM37 155h1v1h-1zM39 155h1v1h-1zM24 156h1v1h-1zM33 156h1v1h-1zM36 156h1v1h-1zM38 156h1v1h-1zM16 157h1v1h-1zM23 157h1v1h-1zM29 157h1v1h-1zM36 157h2v1h-2zM17 158h1v1h-1zM23 158h1v1h-1zM25 158h1v1h-1zM32 158h1v1h-1zM45 158h1v1h-1zM3 159h1v1h-1zM13 159h2v1h-2zM22 159h1v1h-1zM24 159h1v1h-1zM27 159h1v1h-1zM0 160h1v1h-1zM25 160h1v1h-1zM37 160h2v1h-2zM40 160h1v1h-1zM31 161h1v1h-1zM33 161h1v1h-1zM35 161h1v1h-1zM42 161h1v1h-1zM44 161h1v1h-1zM13 162h1v1h-1zM21 162h1v1h-1zM23 162h1v1h-1zM25 162h1v1h-1zM37 162h1v1h-1zM13 163h1v1h-1zM15 163h2v1h-2zM19 163h3v1h-3zM23 163h2v1h-2zM32 163h2v1h-2zM38 163h1v1h-1zM0 164h2v1h-2zM11 164h3v1h-3zM17 164h2v1h-2zM22 164h1v1h-1zM19 165h1v1h-1zM35 165h1v1h-1zM38 165h1v1h-1zM40 165h1v1h-1zM42 165h1v1h-1zM45 165h1v1h-1zM26 166h1v1h-1zM31 166h1v1h-1zM1 167h1v1h-1zM12 167h2v1h-2zM19 167h1v1h-1zM27 167h1v1h-1zM0 168h1v1h-1zM21 168h2v1h-2zM43 168h1v1h-1zM1 169h1v1h-1zM10 169h1v1h-1zM19 169h1v1h-1zM24 169h2v1h-2zM13 170h2v1h-2zM25 170h1v1h-1zM28 170h1v1h-1zM19 171h1v1h-1zM23 171h1v1h-1zM29 171h1v1h-1zM37 171h1v1h-1zM41 171h1v1h-1zM5 172h1v1h-1zM25 172h1v1h-1zM44 172h1v1h-1zM3 173h1v1h-1zM10 173h1v1h-1zM29 174h1v1h-1zM34 174h2v1h-2zM38 174h1v1h-1zM1 175h1v1h-1zM22 175h1v1h-1zM25 175h1v1h-1zM36 175h1v1h-1zM18 176h1v1h-1zM20 176h1v1h-1zM22 176h1v1h-1zM37 176h1v1h-1zM40 176h1v1h-1zM28 177h1v1h-1zM45 177h1v1h-1zM4 178h1v1h-1zM11 178h1v1h-1zM17 178h1v1h-1zM22 178h1v1h-1zM0 179h2v1h-2zM21 179h2v1h-2zM24 179h2v1h-2zM3 180h1v1h-1zM13 180h1v1h-1zM24 180h3v1h-3zM37 180h1v1h-1zM41 180h2v1h-2zM31 181h2v1h-2zM41 181h1v1h-1zM44 181h1v1h-1zM11 182h2v1h-2zM14 182h1v1h-1zM21 182h1v1h-1zM42 182h1v1h-1zM9 183h1v1h-1zM21 183h1v1h-1zM28 183h1v1h-1zM33 183h1v1h-1zM36 183h1v1h-1zM42 183h1v1h-1zM18 184h1v1h-1zM42 184h3v1h-3zM3 185h1v1h-1zM12 185h1v1h-1zM18 185h1v1h-1zM29 185h1v1h-1zM33 185h2v1h-2zM43 185h1v1h-1zM45 185h1v1h-1zM14 186h1v1h-1zM20 186h1v1h-1zM15 187h1v1h-1zM18 187h1v1h-1zM30 187h1v1h-1zM3 188h1v1h-1zM9 188h1v1h-1zM19 188h2v1h-2zM39 188h2v1h-2zM21 189h1v1h-1zM35 189h2v1h-2zM1 190h1v1h-1zM5 190h1v1h-1zM8 190h1v1h-1zM10 190h2v1h-2zM14 190h1v1h-1zM19 190h1v1h-1zM21 190h1v1h-1zM1 191h2v1h-2zM15 191h1v1h-1zM18 191h1v1h-1zM20 191h1v1h-1zM0 192h2v1h-2zM3 192h1v1h-1zM15 192h1v1h-1zM17 192h1v1h-1zM22 192h1v1h-1zM26 192h1v1h-1zM34 192h2v1h-2zM39 192h1v1h-1zM13 193h1v1h-1zM30 193h2v1h-2zM37 193h1v1h-1zM46 193h1v1h-1zM2 194h1v1h-1zM15 194h1v1h-1zM18 194h1v1h-1zM20 194h1v1h-1zM22 194h1v1h-1zM1 195h1v1h-1zM5 195h1v1h-1zM18 195h1v1h-1zM7 196h1v1h-1zM28 196h2v1h-2zM33 196h1v1h-1zM40 196h1v1h-1zM5 197h1v1h-1zM20 197h1v1h-1zM22 197h1v1h-1zM24 197h1v1h-1zM26 197h1v1h-1zM32 197h1v1h-1zM35 197h1v1h-1zM37 197h1v1h-1zM39 197h1v1h-1zM43 197h1v1h-1zM45 197h1v1h-1zM10 198h2v1h-2zM18 198h1v1h-1zM22 198h1v1h-1zM25 198h1v1h-1zM43 198h2v1h-2zM8 199h1v1h-1zM12 199h1v1h-1zM20 199h1v1h-1zM22 199h1v1h-1zM27 199h1v1h-1zM40 199h1v1h-1zM26 200h1v1h-1zM34 200h1v1h-1zM36 201h1v1h-1zM25 202h1v1h-1zM27 202h1v1h-1zM31 202h1v1h-1zM38 202h1v1h-1zM36 203h2v1h-2zM40 203h1v1h-1zM10 204h1v1h-1zM29 204h1v1h-1zM35 204h1v1h-1zM40 204h1v1h-1zM23 205h2v1h-2zM32 205h1v1h-1zM42 205h1v1h-1zM18 206h1v1h-1zM21 206h1v1h-1zM27 206h1v1h-1zM32 206h1v1h-1zM34 206h1v1h-1zM46 206h1v1h-1zM11 207h1v1h-1zM17 207h1v1h-1zM33 207h1v1h-1zM36 207h2v1h-2zM5 208h1v1h-1zM19 208h1v1h-1zM21 208h1v1h-1zM23 208h2v1h-2zM22 209h1v1h-1zM31 209h1v1h-1zM40 209h1v1h-1zM3 210h1v1h-1zM19 210h1v1h-1zM26 211h2v1h-2zM31 211h2v1h-2zM37 211h2v1h-2zM16 212h1v1h-1zM25 212h1v1h-1zM29 212h1v1h-1zM10 213h1v1h-1zM22 213h1v1h-1zM30 213h1v1h-1zM32 213h2v1h-2zM36 213h2v1h-2zM40 213h2v1h-2zM43 213h1v1h-1zM2 214h1v1h-1zM15 214h2v1h-2zM20 214h3v1h-3zM31 214h1v1h-1zM24 215h1v1h-1zM28 215h1v1h-1zM34 215h1v1h-1zM36 215h1v1h-1zM3 216h3v1h-3zM11 216h1v1h-1zM13 216h1v1h-1zM27 216h2v1h-2zM30 216h2v1h-2zM33 216h1v1h-1zM35 216h1v1h-1zM9 217h2v1h-2zM13 217h1v1h-1zM29 218h1v1h-1zM33 218h1v1h-1zM40 218h2v1h-2zM22 219h1v1h-1zM27 219h1v1h-1zM29 219h1v1h-1zM32 219h1v1h-1zM34 219h5v1h-5zM45 219h1v1h-1zM19 220h1v1h-1zM21 220h1v1h-1zM28 220h1v1h-1zM20 221h1v1h-1zM27 221h2v1h-2zM35 221h1v1h-1zM37 221h1v1h-1zM1 222h1v1h-1zM33 222h2v1h-2zM0 223h1v1h-1zM6 223h1v1h-1zM15 223h1v1h-1zM20 223h1v1h-1zM32 223h1v1h-1zM10 224h1v1h-1zM27 224h1v1h-1zM40 224h1v1h-1zM1 225h1v1h-1zM16 225h1v1h-1zM18 225h2v1h-2zM29 225h1v1h-1zM2 226h1v1h-1zM20 226h2v1h-2zM25 226h1v1h-1zM28 226h1v1h-1zM30 226h1v1h-1zM33 226h1v1h-1zM4 227h1v1h-1zM7 227h1v1h-1zM10 227h1v1h-1zM18 228h1v1h-1zM34 228h2v1h-2zM37 228h1v1h-1zM40 228h1v1h-1zM18 229h2v1h-2zM21 229h2v1h-2zM26 229h2v1h-2zM30 229h1v1h-1zM42 229h1v1h-1zM6 230h1v1h-1zM29 230h2v1h-2zM0 231h1v1h-1zM3 231h1v1h-1zM10 231h1v1h-1zM13 231h1v1h-1zM21 231h2v1h-2zM29 231h1v1h-1zM38 231h1v1h-1zM0 232h1v1h-1zM2 232h1v1h-1zM4 232h1v1h-1zM17 232h1v1h-1zM21 232h1v1h-1zM33 232h1v1h-1zM1 233h1v1h-1zM4 233h1v1h-1zM12 233h1v1h-1zM15 233h2v1h-2zM19 233h1v1h-1zM11 234h1v1h-1zM18 234h1v1h-1zM22 234h1v1h-1zM40 234h1v1h-1zM5 235h1v1h-1zM8 235h1v1h-1zM23 235h1v1h-1zM25 236h1v1h-1zM28 236h1v1h-1zM31 236h1v1h-1zM38 236h1v1h-1zM43 236h1v1h-1zM16 237h1v1h-1zM18 237h1v1h-1zM20 237h1v1h-1zM10 238h1v1h-1zM21 238h1v1h-1zM33 238h1v1h-1zM36 238h2v1h-2zM39 238h1v1h-1zM22 239h2v1h-2zM28 239h1v1h-1zM39 239h1v1h-1zM3 240h1v1h-1zM11 240h1v1h-1zM19 240h1v1h-1zM21 240h1v1h-1zM38 240h1v1h-1zM19 241h1v1h-1zM23 241h1v1h-1zM18 242h2v1h-2zM39 242h2v1h-2zM20 243h1v1h-1zM22 243h1v1h-1zM24 243h1v1h-1zM26 243h1v1h-1zM30 243h1v1h-1zM32 243h1v1h-1zM34 243h3v1h-3zM43 243h1v1h-1zM15 244h1v1h-1zM26 244h1v1h-1zM31 244h1v1h-1zM33 244h1v1h-1zM37 244h1v1h-1zM43 244h1v1h-1z"/>
<path fill="#fae5f0" d="M3 0h1v1h-1zM6 0h1v1h-1zM12 0h1v1h-1zM14 0h1v1h-1zM19 0h1v1h-1zM24 0h1v1h-1zM28 0h1v1h-1zM30 0h1v1h-1zM38 0h1v1h-1zM43 0h1v1h-1zM46 0h1v1h-1zM1 1h1v1h-1zM27 1h1v1h-1zM36 1h3v1h-3zM42 1h1v1h-1zM12 2h1v1h-1zM4 3h2v1h-2zM8 3h2v1h-2zM17 3h1v1h-1zM19 3h1v1h-1zM31 3h1v1h-1zM34 3h1v1h-1zM39 3h1v1h-1zM4 4h1v1h-1zM6 4h2v1h-2zM23 4h1v1h-1zM4 5h1v1h-1zM6 5h1v1h-1zM12 5h2v1h-2zM20 5h1v1h-1zM22 5h1v1h-1zM32 5h2v1h-2zM40 5h2v1h-2zM11 6h3v1h-3zM17 6h1v1h-1zM20 6h1v1h-1zM27 6h1v1h-1zM30 6h1v1h-1zM33 6h1v1h-1zM35 6h2v1h-2zM4 7h2v1h-2zM21 7h1v1h-1zM25 7h1v1h-1zM46 7h1v1h-1zM0 8h1v1h-1zM5 8h1v1h-1zM14 8h1v1h-1zM27 8h1v1h-1zM30 8h1v1h-1zM36 8h1v1h-1zM43 8h1v1h-1zM45 8h1v1h-1zM8 9h1v1h-1zM10 9h1v1h-1zM14 9h1v1h-1zM17 9h1v1h-1zM31 9h1v1h-1zM35 9h1v1h-1zM7 10h1v1h-1zM25 10h1v1h-1zM27 10h2v1h-2zM32 10h1v1h-1zM38 10h3v1h-3zM0 11h1v1h-1zM16 11h1v1h-1zM18 11h1v1h-1zM28 11h1v1h-1zM31 11h1v1h-1zM33 11h1v1h-1zM10 12h1v1h-1zM20 12h1v1h-1zM26 12h1v1h-1zM28 12h1v1h-1zM44 12h1v1h-1zM0 13h1v1h-1zM2 13h1v1h-1zM7 13h1v1h-1zM11 13h1v1h-1zM22 13h1v1h-1zM24 13h1v1h-1zM29 13h1v1h-1zM33 13h2v1h-2zM44 13h1v1h-1zM0 14h1v1h-1zM12 14h3v1h-3zM28 14h1v1h-1zM33 14h1v1h-1zM37 14h1v1h-1zM44 14h2v1h-2zM22 15h1v1h-1zM24 15h1v1h-1zM29 15h1v1h-1zM40 15h1v1h-1zM43 15h3v1h-3zM11 16h1v1h-1zM13 16h2v1h-2zM17 16h1v1h-1zM22 16h1v1h-1zM28 16h1v1h-1zM44 16h2v1h-2zM28 17h1v1h-1zM4 18h1v1h-1zM6 18h2v1h-2zM14 18h1v1h-1zM16 18h1v1h-1zM25 18h1v1h-1zM32 18h1v1h-1zM41 18h1v1h-1zM43 18h1v1h-1zM45 18h1v1h-1zM14 19h1v1h-1zM17 19h1v1h-1zM27 19h1v1h-1zM34 19h1v1h-1zM2 20h1v1h-1zM7 20h1v1h-1zM20 20h2v1h-2zM24 20h1v1h-1zM27 20h1v1h-1zM32 20h1v1h-1zM42 20h1v1h-1zM45 20h1v1h-1zM9 21h2v1h-2zM18 21h1v1h-1zM30 21h1v1h-1zM34 21h1v1h-1zM41 21h1v1h-1zM30 22h1v1h-1zM33 22h1v1h-1zM7 23h1v1h-1zM16 23h1v1h-1zM18 23h1v1h-1zM20 23h1v1h-1zM29 23h1v1h-1zM33 23h1v1h-1zM44 23h1v1h-1zM24 24h1v1h-1zM27 24h1v1h-1zM34 24h1v1h-1zM10 25h1v1h-1zM19 25h2v1h-2zM29 25h1v1h-1zM35 25h1v1h-1zM41 25h1v1h-1zM1 26h1v1h-1zM19 26h1v1h-1zM30 26h1v1h-1zM40 26h2v1h-2zM0 27h1v1h-1zM6 27h2v1h-2zM15 27h2v1h-2zM34 27h2v1h-2zM39 27h1v1h-1zM42 27h1v1h-1zM0 28h1v1h-1zM8 28h1v1h-1zM11 28h2v1h-2zM39 28h2v1h-2zM12 29h1v1h-1zM17 29h1v1h-1zM19 29h1v1h-1zM30 29h1v1h-1zM40 29h1v1h-1zM2 30h1v1h-1zM28 30h2v1h-2zM31 30h1v1h-1zM40 30h1v1h-1zM44 30h1v1h-1zM20 31h4v1h-4zM29 31h1v1h-1zM36 31h1v1h-1zM40 31h1v1h-1zM13 32h2v1h-2zM16 32h2v1h-2zM20 32h1v1h-1zM25 32h1v1h-1zM28 32h2v1h-2zM34 32h1v1h-1zM40 32h3v1h-3zM0 33h1v1h-1zM9 33h1v1h-1zM12 33h1v1h-1zM14 33h1v1h-1zM43 33h1v1h-1zM6 34h2v1h-2zM16 34h3v1h-3zM20 34h1v1h-1zM29 34h1v1h-1zM42 34h2v1h-2zM16 35h1v1h-1zM20 35h1v1h-1zM24 35h1v1h-1zM26 35h1v1h-1zM30 35h1v1h-1zM10 36h1v1h-1zM13 36h1v1h-1zM38 36h1v1h-1zM2 37h2v1h-2zM6 37h1v1h-1zM11 37h3v1h-3zM40 37h2v1h-2zM2 38h2v1h-2zM14 38h1v1h-1zM16 38h1v1h-1zM21 38h1v1h-1zM23 38h1v1h-1zM25 38h1v1h-1zM28 38h4v1h-4zM2 39h1v1h-1zM12 39h1v1h-1zM21 39h1v1h-1zM29 39h1v1h-1zM34 39h1v1h-1zM36 39h1v1h-1zM46 39h1v1h-1zM4 40h1v1h-1zM17 40h3v1h-3zM39 40h2v1h-2zM0 41h1v1h-1zM2 41h1v1h-1zM6 41h1v1h-1zM30 41h1v1h-1zM37 41h1v1h-1zM12 42h1v1h-1zM24 42h1v1h-1zM33 42h1v1h-1zM40 42h2v1h-2zM43 42h1v1h-1zM2 43h1v1h-1zM7 43h1v1h-1zM9 43h1v1h-1zM13 43h1v1h-1zM22 43h1v1h-1zM26 43h1v1h-1zM34 43h1v1h-1zM5 44h1v1h-1zM21 44h1v1h-1zM26 44h1v1h-1zM8 45h1v1h-1zM30 45h1v1h-1zM6 46h1v1h-1zM9 46h1v1h-1zM20 47h1v1h-1zM2 48h2v1h-2zM6 48h1v1h-1zM20 48h1v1h-1zM26 48h1v1h-1zM41 48h1v1h-1zM17 49h1v1h-1zM21 49h1v1h-1zM24 49h1v1h-1zM39 49h1v1h-1zM42 49h1v1h-1zM29 50h1v1h-1zM0 51h1v1h-1zM11 51h1v1h-1zM31 51h3v1h-3zM41 51h1v1h-1zM0 52h2v1h-2zM14 52h2v1h-2zM18 52h1v1h-1zM31 52h1v1h-1zM33 52h3v1h-3zM40 52h2v1h-2zM1 53h3v1h-3zM8 53h2v1h-2zM14 53h1v1h-1zM18 53h1v1h-1zM20 53h2v1h-2zM26 53h1v1h-1zM34 53h1v1h-1zM43 53h1v1h-1zM29 54h1v1h-1zM44 54h1v1h-1zM18 55h1v1h-1zM25 55h1v1h-1zM29 55h1v1h-1zM37 55h1v1h-1zM39 55h1v1h-1zM42 55h1v1h-1zM2 56h1v1h-1zM13 56h1v1h-1zM20 56h1v1h-1zM24 56h1v1h-1zM38 56h1v1h-1zM40 56h1v1h-1zM42 56h1v1h-1zM4 57h1v1h-1zM14 57h1v1h-1zM17 57h1v1h-1zM19 58h1v1h-1zM31 58h2v1h-2zM40 58h1v1h-1zM1 59h1v1h-1zM17 59h1v1h-1zM28 59h1v1h-1zM35 59h1v1h-1zM39 59h1v1h-1zM6 60h1v1h-1zM12 60h1v1h-1zM22 60h1v1h-1zM33 60h1v1h-1zM37 60h1v1h-1zM5 61h2v1h-2zM27 61h1v1h-1zM39 61h1v1h-1zM4 62h1v1h-1zM38 62h1v1h-1zM42 62h1v1h-1zM0 63h1v1h-1zM2 63h1v1h-1zM8 63h1v1h-1zM27 63h1v1h-1zM37 63h1v1h-1zM39 63h1v1h-1zM14 64h1v1h-1zM17 64h1v1h-1zM19 64h1v1h-1zM29 64h1v1h-1zM41 64h1v1h-1zM20 65h1v1h-1zM25 65h1v1h-1zM34 65h1v1h-1zM36 65h2v1h-2zM42 65h1v1h-1zM7 66h1v1h-1zM32 66h1v1h-1zM42 66h1v1h-1zM0 67h1v1h-1zM11 67h3v1h-3zM17 67h1v1h-1zM28 67h1v1h-1zM33 67h1v1h-1zM42 67h1v1h-1zM16 68h1v1h-1zM26 68h1v1h-1zM34 68h1v1h-1zM28 69h1v1h-1zM30 69h1v1h-1zM15 70h1v1h-1zM18 70h1v1h-1zM22 70h1v1h-1zM29 70h1v1h-1zM35 70h1v1h-1zM40 70h1v1h-1zM42 70h1v1h-1zM2 71h1v1h-1zM6 71h1v1h-1zM10 71h1v1h-1zM26 71h1v1h-1zM28 71h1v1h-1zM32 71h3v1h-3zM42 71h2v1h-2zM4 72h1v1h-1zM29 72h1v1h-1zM33 72h1v1h-1zM36 72h1v1h-1zM5 73h1v1h-1zM8 73h1v1h-1zM26 73h1v1h-1zM33 73h1v1h-1zM42 73h2v1h-2zM0 74h1v1h-1zM4 74h1v1h-1zM27 74h1v1h-1zM37 74h1v1h-1zM42 74h1v1h-1zM14 75h1v1h-1zM24 75h1v1h-1zM32 75h1v1h-1zM37 76h2v1h-2zM45 76h1v1h-1zM11 77h1v1h-1zM7 78h1v1h-1zM13 78h1v1h-1zM21 78h1v1h-1zM23 78h1v1h-1zM26 78h1v1h-1zM29 78h1v1h-1zM45 78h1v1h-1zM0 79h1v1h-1zM10 79h1v1h-1zM14 79h1v1h-1zM17 79h1v1h-1zM31 79h4v1h-4zM42 79h1v1h-1zM11 80h1v1h-1zM15 80h1v1h-1zM19 80h1v1h-1zM27 80h2v1h-2zM31 80h1v1h-1zM34 80h1v1h-1zM31 81h1v1h-1zM33 81h1v1h-1zM41 81h1v1h-1zM0 82h1v1h-1zM2 82h1v1h-1zM6 82h1v1h-1zM10 82h2v1h-2zM27 82h1v1h-1zM29 82h1v1h-1zM31 82h2v1h-2zM34 82h1v1h-1zM38 82h1v1h-1zM0 83h1v1h-1zM6 83h2v1h-2zM17 83h1v1h-1zM22 83h1v1h-1zM25 83h1v1h-1zM31 83h3v1h-3zM40 83h1v1h-1zM0 84h1v1h-1zM16 84h2v1h-2zM19 84h1v1h-1zM41 84h1v1h-1zM43 84h1v1h-1zM10 85h1v1h-1zM35 85h1v1h-1zM42 85h1v1h-1zM5 86h1v1h-1zM8 86h1v1h-1zM11 86h1v1h-1zM30 86h1v1h-1zM35 86h1v1h-1zM40 86h1v1h-1zM42 86h1v1h-1zM44 86h1v1h-1zM25 87h2v1h-2zM30 87h1v1h-1zM32 87h1v1h-1zM34 87h1v1h-1zM40 87h1v1h-1zM0 88h2v1h-2zM7 88h3v1h-3zM12 88h1v1h-1zM20 88h1v1h-1zM29 88h1v1h-1zM34 88h1v1h-1zM36 88h1v1h-1zM1 89h1v1h-1zM27 89h1v1h-1zM32 89h1v1h-1zM42 89h1v1h-1zM9 90h2v1h-2zM13 90h1v1h-1zM24 90h1v1h-1zM31 90h1v1h-1zM36 90h1v1h-1zM2 91h1v1h-1zM16 91h1v1h-1zM0 92h1v1h-1zM25 92h1v1h-1zM39 92h3v1h-3zM44 92h1v1h-1zM5 93h2v1h-2zM8 93h1v1h-1zM13 93h1v1h-1zM15 93h1v1h-1zM41 93h2v1h-2zM20 94h1v1h-1zM30 94h1v1h-1zM37 94h1v1h-1zM43 94h1v1h-1zM24 95h1v1h-1zM27 95h1v1h-1zM36 95h1v1h-1zM4 96h1v1h-1zM23 96h1v1h-1zM39 96h1v1h-1zM8 97h1v1h-1zM10 97h1v1h-1zM16 97h1v1h-1zM29 97h2v1h-2zM6 98h1v1h-1zM9 98h1v1h-1zM12 98h1v1h-1zM20 98h2v1h-2zM27 98h1v1h-1zM36 98h1v1h-1zM38 98h1v1h-1zM42 98h1v1h-1zM10 99h1v1h-1zM13 99h1v1h-1zM26 99h1v1h-1zM6 100h1v1h-1zM14 100h1v1h-1zM16 100h1v1h-1zM24 100h1v1h-1zM32 100h1v1h-1zM37 100h1v1h-1zM42 100h1v1h-1zM6 101h1v1h-1zM14 101h2v1h-2zM35 101h2v1h-2zM45 101h1v1h-1zM0 102h1v1h-1zM3 102h2v1h-2zM9 102h1v1h-1zM12 102h1v1h-1zM16 102h1v1h-1zM20 102h1v1h-1zM22 102h1v1h-1zM24 102h1v1h-1zM31 102h1v1h-1zM33 102h1v1h-1zM37 102h1v1h-1zM39 102h1v1h-1zM4 103h1v1h-1zM8 103h1v1h-1zM12 103h1v1h-1zM34 103h3v1h-3zM0 104h2v1h-2zM12 105h1v1h-1zM16 105h1v1h-1zM22 105h2v1h-2zM25 105h1v1h-1zM31 105h1v1h-1zM0 106h1v1h-1zM24 106h1v1h-1zM31 106h1v1h-1zM34 106h1v1h-1zM42 106h1v1h-1zM44 106h1v1h-1zM6 107h1v1h-1zM11 107h1v1h-1zM21 107h2v1h-2zM26 107h1v1h-1zM43 107h1v1h-1zM46 107h1v1h-1zM8 108h1v1h-1zM16 108h1v1h-1zM27 108h1v1h-1zM34 108h1v1h-1zM38 108h1v1h-1zM45 108h1v1h-1zM5 109h1v1h-1zM12 109h1v1h-1zM20 109h1v1h-1zM29 109h1v1h-1zM34 109h2v1h-2zM37 109h1v1h-1zM11 110h1v1h-1zM17 110h3v1h-3zM24 110h1v1h-1zM32 110h1v1h-1zM39 110h1v1h-1zM42 110h1v1h-1zM45 110h1v1h-1zM5 111h1v1h-1zM7 111h1v1h-1zM17 111h1v1h-1zM21 111h3v1h-3zM30 111h1v1h-1zM32 111h1v1h-1zM36 111h2v1h-2zM0 112h1v1h-1zM4 112h1v1h-1zM6 112h1v1h-1zM17 112h1v1h-1zM9 113h1v1h-1zM17 113h1v1h-1zM33 113h1v1h-1zM35 113h1v1h-1zM5 114h1v1h-1zM10 114h1v1h-1zM12 114h1v1h-1zM26 114h1v1h-1zM46 114h1v1h-1zM17 115h1v1h-1zM45 115h1v1h-1zM1 116h1v1h-1zM9 116h1v1h-1zM13 116h1v1h-1zM26 116h1v1h-1zM2 117h1v1h-1zM9 117h1v1h-1zM16 117h1v1h-1zM18 117h1v1h-1zM20 117h2v1h-2zM27 117h1v1h-1zM2 118h1v1h-1zM13 118h1v1h-1zM15 118h1v1h-1zM17 118h3v1h-3zM39 118h1v1h-1zM45 118h1v1h-1zM6 119h1v1h-1zM12 119h1v1h-1zM16 119h1v1h-1zM18 119h1v1h-1zM32 119h2v1h-2zM14 120h1v1h-1zM16 120h1v1h-1zM18 120h1v1h-1zM38 120h1v1h-1zM14 121h2v1h-2zM18 121h1v1h-1zM20 121h1v1h-1zM31 121h1v1h-1zM35 121h1v1h-1zM7 122h1v1h-1zM21 122h1v1h-1zM9 123h2v1h-2zM21 123h1v1h-1zM28 123h1v1h-1zM43 123h1v1h-1zM2 124h1v1h-1zM9 124h3v1h-3zM20 124h2v1h-2zM29 124h1v1h-1zM31 124h1v1h-1zM1 125h1v1h-1zM12 125h1v1h-1zM17 125h1v1h-1zM21 125h2v1h-2zM3 126h1v1h-1zM8 126h1v1h-1zM16 126h1v1h-1zM27 126h3v1h-3zM32 126h1v1h-1zM35 126h2v1h-2zM38 126h1v1h-1zM40 126h2v1h-2zM14 127h1v1h-1zM16 127h1v1h-1zM24 127h2v1h-2zM30 127h1v1h-1zM43 127h1v1h-1zM4 128h1v1h-1zM10 128h1v1h-1zM17 128h2v1h-2zM24 128h1v1h-1zM36 128h1v1h-1zM6 129h1v1h-1zM12 129h1v1h-1zM14 129h2v1h-2zM18 129h2v1h-2zM22 129h1v1h-1zM32 129h1v1h-1zM45 129h1v1h-1zM0 130h1v1h-1zM6 130h1v1h-1zM19 130h1v1h-1zM22 130h1v1h-1zM24 130h1v1h-1zM1 131h1v1h-1zM10 131h1v1h-1zM19 131h1v1h-1zM28 131h1v1h-1zM40 131h1v1h-1zM44 131h2v1h-2zM6 132h1v1h-1zM8 132h1v1h-1zM11 132h1v1h-1zM22 132h1v1h-1zM24 132h1v1h-1zM26 132h1v1h-1zM33 132h2v1h-2zM1 133h1v1h-1zM18 133h1v1h-1zM25 133h1v1h-1zM30 133h1v1h-1zM33 133h1v1h-1zM39 133h1v1h-1zM9 134h1v1h-1zM17 134h2v1h-2zM22 134h1v1h-1zM25 134h1v1h-1zM29 134h1v1h-1zM39 134h1v1h-1zM41 134h1v1h-1zM0 135h1v1h-1zM4 135h1v1h-1zM6 135h1v1h-1zM18 135h1v1h-1zM29 135h1v1h-1zM39 135h1v1h-1zM1 136h2v1h-2zM9 136h2v1h-2zM14 136h1v1h-1zM16 136h1v1h-1zM19 136h2v1h-2zM35 136h1v1h-1zM5 137h1v1h-1zM7 137h1v1h-1zM17 137h1v1h-1zM21 137h1v1h-1zM0 138h1v1h-1zM3 138h1v1h-1zM7 138h1v1h-1zM9 138h1v1h-1zM12 138h1v1h-1zM15 138h1v1h-1zM25 138h1v1h-1zM27 138h1v1h-1zM0 139h1v1h-1zM6 139h3v1h-3zM10 139h1v1h-1zM1 140h1v1h-1zM9 140h1v1h-1zM17 140h1v1h-1zM22 140h1v1h-1zM3 141h1v1h-1zM12 141h2v1h-2zM17 141h1v1h-1zM39 141h1v1h-1zM4 142h1v1h-1zM9 142h1v1h-1zM20 142h1v1h-1zM22 142h2v1h-2zM3 143h1v1h-1zM19 143h2v1h-2zM33 143h1v1h-1zM11 144h1v1h-1zM14 144h1v1h-1zM17 144h1v1h-1zM22 144h1v1h-1zM43 144h1v1h-1zM24 145h2v1h-2zM28 145h1v1h-1zM31 145h3v1h-3zM3 146h1v1h-1zM12 146h1v1h-1zM23 146h1v1h-1zM8 147h1v1h-1zM10 147h1v1h-1zM14 147h1v1h-1zM20 147h2v1h-2zM27 147h2v1h-2zM32 147h1v1h-1zM37 147h1v1h-1zM15 148h1v1h-1zM24 148h1v1h-1zM30 148h1v1h-1zM42 148h1v1h-1zM9 149h1v1h-1zM18 149h2v1h-2zM23 149h2v1h-2zM33 149h2v1h-2zM4 150h1v1h-1zM6 150h1v1h-1zM14 150h1v1h-1zM17 150h1v1h-1zM22 150h1v1h-1zM33 150h1v1h-1zM40 150h1v1h-1zM1 151h1v1h-1zM10 151h1v1h-1zM31 151h1v1h-1zM37 151h1v1h-1zM1 152h1v1h-1zM3 152h2v1h-2zM8 152h1v1h-1zM13 152h1v1h-1zM18 152h1v1h-1zM19 153h1v1h-1zM25 153h3v1h-3zM1 154h1v1h-1zM11 154h1v1h-1zM15 154h1v1h-1zM17 154h2v1h-2zM0 155h1v1h-1zM2 155h1v1h-1zM5 155h1v1h-1zM16 155h2v1h-2zM26 155h1v1h-1zM29 155h1v1h-1zM42 155h1v1h-1zM5 156h1v1h-1zM7 156h2v1h-2zM11 156h2v1h-2zM25 156h1v1h-1zM2 157h1v1h-1zM5 157h1v1h-1zM11 157h1v1h-1zM0 158h2v1h-2zM20 158h1v1h-1zM30 158h1v1h-1zM5 159h2v1h-2zM10 159h1v1h-1zM12 159h1v1h-1zM17 159h2v1h-2zM22 160h1v1h-1zM29 160h2v1h-2zM3 161h1v1h-1zM28 161h2v1h-2zM32 161h1v1h-1zM15 162h1v1h-1zM18 162h1v1h-1zM31 162h1v1h-1zM34 162h1v1h-1zM38 162h1v1h-1zM4 163h2v1h-2zM14 163h1v1h-1zM17 163h1v1h-1zM22 163h1v1h-1zM8 164h3v1h-3zM15 164h1v1h-1zM1 165h1v1h-1zM25 165h1v1h-1zM27 165h1v1h-1zM34 165h1v1h-1zM43 165h1v1h-1zM12 166h1v1h-1zM18 166h1v1h-1zM20 166h3v1h-3zM36 166h1v1h-1zM9 167h1v1h-1zM24 167h1v1h-1zM28 168h1v1h-1zM32 168h1v1h-1zM44 168h1v1h-1zM16 169h1v1h-1zM21 169h2v1h-2zM3 170h1v1h-1zM15 170h1v1h-1zM18 170h1v1h-1zM21 170h2v1h-2zM15 171h1v1h-1zM17 171h1v1h-1zM10 172h1v1h-1zM16 172h1v1h-1zM20 172h1v1h-1zM23 172h1v1h-1zM0 173h1v1h-1zM14 173h1v1h-1zM3 174h1v1h-1zM32 174h2v1h-2zM44 174h1v1h-1zM2 175h1v1h-1zM5 175h1v1h-1zM12 175h2v1h-2zM40 175h2v1h-2zM3 176h1v1h-1zM15 176h1v1h-1zM25 176h1v1h-1zM28 176h1v1h-1zM42 176h1v1h-1zM15 177h1v1h-1zM27 177h1v1h-1zM29 177h1v1h-1zM31 177h1v1h-1zM40 177h1v1h-1zM3 178h1v1h-1zM6 178h1v1h-1zM6 179h1v1h-1zM15 179h1v1h-1zM1 180h1v1h-1zM9 180h3v1h-3zM19 180h1v1h-1zM21 180h2v1h-2zM33 180h1v1h-1zM25 181h2v1h-2zM33 181h1v1h-1zM6 182h1v1h-1zM37 182h1v1h-1zM43 182h1v1h-1zM27 183h1v1h-1zM32 183h1v1h-1zM15 185h3v1h-3zM27 185h1v1h-1zM37 185h1v1h-1zM8 186h2v1h-2zM16 186h1v1h-1zM21 187h1v1h-1zM27 187h2v1h-2zM34 187h1v1h-1zM1 188h1v1h-1zM4 188h1v1h-1zM21 188h3v1h-3zM25 188h2v1h-2zM30 188h1v1h-1zM35 188h1v1h-1zM13 189h1v1h-1zM17 189h4v1h-4zM2 190h1v1h-1zM7 190h1v1h-1zM9 190h1v1h-1zM24 190h1v1h-1zM3 191h1v1h-1zM5 191h1v1h-1zM11 191h1v1h-1zM19 191h1v1h-1zM2 192h1v1h-1zM13 192h1v1h-1zM3 193h1v1h-1zM22 193h1v1h-1zM33 193h1v1h-1zM36 193h1v1h-1zM43 193h1v1h-1zM45 193h1v1h-1zM1 194h1v1h-1zM11 194h3v1h-3zM16 194h1v1h-1zM36 194h1v1h-1zM2 195h1v1h-1zM10 195h1v1h-1zM17 195h1v1h-1zM19 195h1v1h-1zM36 195h1v1h-1zM42 195h1v1h-1zM8 196h1v1h-1zM26 196h1v1h-1zM41 196h1v1h-1zM1 197h1v1h-1zM3 197h1v1h-1zM13 197h1v1h-1zM40 197h3v1h-3zM15 198h1v1h-1zM17 198h1v1h-1zM2 199h1v1h-1zM10 199h2v1h-2zM19 199h1v1h-1zM26 199h1v1h-1zM36 199h1v1h-1zM11 200h1v1h-1zM13 200h1v1h-1zM18 200h1v1h-1zM20 200h1v1h-1zM25 200h1v1h-1zM31 200h1v1h-1zM33 200h1v1h-1zM18 201h1v1h-1zM31 201h3v1h-3zM16 202h1v1h-1zM23 202h1v1h-1zM26 202h1v1h-1zM7 203h1v1h-1zM17 203h1v1h-1zM22 203h1v1h-1zM30 203h1v1h-1zM32 203h1v1h-1zM0 204h1v1h-1zM22 204h1v1h-1zM27 204h1v1h-1zM30 204h1v1h-1zM33 204h1v1h-1zM36 204h1v1h-1zM38 204h1v1h-1zM15 205h1v1h-1zM27 205h1v1h-1zM1 206h1v1h-1zM5 206h2v1h-2zM17 206h1v1h-1zM33 206h1v1h-1zM4 207h1v1h-1zM21 207h2v1h-2zM26 207h1v1h-1zM0 208h4v1h-4zM6 208h3v1h-3zM25 208h1v1h-1zM21 209h1v1h-1zM28 209h2v1h-2zM32 209h1v1h-1zM34 209h1v1h-1zM39 209h1v1h-1zM1 210h1v1h-1zM5 210h1v1h-1zM11 210h1v1h-1zM20 210h1v1h-1zM26 210h2v1h-2zM5 211h1v1h-1zM21 211h1v1h-1zM23 211h1v1h-1zM33 211h1v1h-1zM36 211h1v1h-1zM42 211h1v1h-1zM6 212h1v1h-1zM8 212h1v1h-1zM13 212h1v1h-1zM35 212h1v1h-1zM37 212h1v1h-1zM9 213h1v1h-1zM13 213h1v1h-1zM21 213h1v1h-1zM26 213h2v1h-2zM34 213h1v1h-1zM39 213h1v1h-1zM18 214h1v1h-1zM38 214h1v1h-1zM2 215h1v1h-1zM9 215h1v1h-1zM13 215h1v1h-1zM15 215h1v1h-1zM17 215h1v1h-1zM19 216h1v1h-1zM21 216h1v1h-1zM24 216h1v1h-1zM34 216h1v1h-1zM36 216h1v1h-1zM0 217h1v1h-1zM5 217h1v1h-1zM7 217h1v1h-1zM11 217h1v1h-1zM14 217h1v1h-1zM20 217h1v1h-1zM3 218h1v1h-1zM5 218h1v1h-1zM22 218h1v1h-1zM24 218h1v1h-1zM27 218h1v1h-1zM34 218h2v1h-2zM15 219h2v1h-2zM19 219h1v1h-1zM26 219h1v1h-1zM3 220h1v1h-1zM10 220h1v1h-1zM18 220h1v1h-1zM34 220h1v1h-1zM0 221h1v1h-1zM6 221h2v1h-2zM18 221h2v1h-2zM33 221h1v1h-1zM38 221h3v1h-3zM7 222h1v1h-1zM11 222h1v1h-1zM23 222h3v1h-3zM30 222h1v1h-1zM4 223h1v1h-1zM9 223h1v1h-1zM12 223h1v1h-1zM25 223h1v1h-1zM3 224h1v1h-1zM8 224h2v1h-2zM14 224h1v1h-1zM22 224h2v1h-2zM5 226h2v1h-2zM17 226h1v1h-1zM37 226h1v1h-1zM3 227h1v1h-1zM12 227h1v1h-1zM17 227h1v1h-1zM19 227h2v1h-2zM25 227h1v1h-1zM4 228h1v1h-1zM15 228h1v1h-1zM17 228h1v1h-1zM21 228h1v1h-1zM23 228h2v1h-2zM26 228h3v1h-3zM36 228h1v1h-1zM1 229h1v1h-1zM9 229h1v1h-1zM20 229h1v1h-1zM28 229h1v1h-1zM1 230h1v1h-1zM1 231h1v1h-1zM5 231h2v1h-2zM16 231h1v1h-1zM27 231h1v1h-1zM36 231h1v1h-1zM1 232h1v1h-1zM7 232h1v1h-1zM10 232h1v1h-1zM15 232h1v1h-1zM18 232h1v1h-1zM22 232h1v1h-1zM25 232h1v1h-1zM0 233h1v1h-1zM7 233h1v1h-1zM13 233h1v1h-1zM25 233h1v1h-1zM29 233h1v1h-1zM3 234h1v1h-1zM6 234h1v1h-1zM13 234h1v1h-1zM0 235h1v1h-1zM6 235h2v1h-2zM10 235h1v1h-1zM12 235h1v1h-1zM14 235h1v1h-1zM25 235h1v1h-1zM5 236h1v1h-1zM7 236h1v1h-1zM16 236h3v1h-3zM22 236h1v1h-1zM24 236h1v1h-1zM26 236h1v1h-1zM35 236h1v1h-1zM37 236h1v1h-1zM9 237h1v1h-1zM21 237h2v1h-2zM26 237h1v1h-1zM1 238h1v1h-1zM16 238h2v1h-2zM19 238h1v1h-1zM26 238h2v1h-2zM32 238h1v1h-1zM27 239h1v1h-1zM29 239h3v1h-3zM45 239h1v1h-1zM17 240h1v1h-1zM22 240h2v1h-2zM28 240h1v1h-1zM9 241h1v1h-1zM13 241h1v1h-1zM16 241h2v1h-2zM20 241h1v1h-1zM44 241h1v1h-1zM9 242h1v1h-1zM21 242h1v1h-1zM23 242h1v1h-1zM26 242h1v1h-1zM34 242h1v1h-1zM36 242h1v1h-1zM4 243h1v1h-1zM8 243h1v1h-1zM14 243h1v1h-1zM27 243h3v1h-3zM42 243h1v1h-1zM8 244h1v1h-1zM18 244h1v1h-1zM34 244h1v1h-1zM39 244h1v1h-1zM41 244h2v1h-2z"/>
<path fill="#fadaea" d="M0 0h3v1h-3zM37 0h1v1h-1zM44 0h1v1h-1zM2 1h1v1h-1zM4 1h1v1h-1zM8 1h1v1h-1zM9 2h1v1h-1zM22 2h1v1h-1zM10 3h1v1h-1zM20 3h1v1h-1zM33 3h1v1h-1zM38 3h1v1h-1zM43 3h1v1h-1zM25 4h1v1h-1zM37 4h2v1h-2zM45 4h1v1h-1zM2 5h2v1h-2zM14 5h3v1h-3zM28 5h2v1h-2zM0 6h1v1h-1zM29 6h1v1h-1zM37 6h1v1h-1zM26 7h2v1h-2zM30 7h1v1h-1zM42 7h1v1h-1zM1 8h1v1h-1zM8 8h1v1h-1zM25 8h2v1h-2zM37 8h1v1h-1zM34 9h1v1h-1zM37 9h1v1h-1zM45 9h1v1h-1zM0 10h1v1h-1zM9 10h1v1h-1zM36 10h1v1h-1zM43 10h1v1h-1zM45 10h1v1h-1zM4 11h1v1h-1zM40 11h1v1h-1zM0 12h1v1h-1zM2 12h1v1h-1zM8 12h1v1h-1zM12 12h1v1h-1zM34 12h1v1h-1zM12 13h1v1h-1zM31 13h2v1h-2zM10 14h2v1h-2zM27 14h1v1h-1zM29 14h1v1h-1zM34 14h1v1h-1zM27 15h1v1h-1zM37 15h1v1h-1zM8 16h2v1h-2zM20 16h1v1h-1zM39 16h1v1h-1zM43 16h1v1h-1zM12 17h1v1h-1zM20 17h1v1h-1zM32 17h1v1h-1zM34 17h2v1h-2zM8 18h1v1h-1zM18 18h1v1h-1zM28 18h1v1h-1zM5 19h1v1h-1zM9 19h2v1h-2zM22 19h1v1h-1zM32 19h1v1h-1zM5 20h2v1h-2zM33 20h1v1h-1zM2 21h1v1h-1zM13 21h2v1h-2zM16 21h2v1h-2zM46 21h1v1h-1zM27 22h1v1h-1zM31 22h1v1h-1zM41 22h1v1h-1zM4 23h1v1h-1zM11 23h1v1h-1zM14 23h1v1h-1zM19 23h1v1h-1zM30 23h1v1h-1zM43 23h1v1h-1zM2 24h1v1h-1zM33 24h1v1h-1zM32 25h1v1h-1zM34 25h1v1h-1zM37 25h1v1h-1zM43 25h1v1h-1zM4 26h1v1h-1zM13 26h1v1h-1zM39 26h1v1h-1zM3 27h2v1h-2zM8 27h1v1h-1zM11 27h2v1h-2zM14 27h1v1h-1zM28 27h5v1h-5zM13 28h1v1h-1zM28 28h2v1h-2zM31 28h2v1h-2zM34 28h1v1h-1zM7 29h1v1h-1zM11 29h1v1h-1zM20 29h1v1h-1zM27 29h1v1h-1zM29 29h1v1h-1zM31 29h1v1h-1zM41 29h1v1h-1zM18 30h1v1h-1zM21 30h1v1h-1zM34 30h1v1h-1zM1 31h1v1h-1zM33 31h1v1h-1zM19 32h1v1h-1zM26 32h1v1h-1zM2 33h1v1h-1zM13 33h1v1h-1zM26 33h1v1h-1zM40 33h1v1h-1zM42 33h1v1h-1zM0 34h1v1h-1zM21 34h1v1h-1zM31 34h1v1h-1zM35 34h1v1h-1zM39 34h1v1h-1zM44 34h1v1h-1zM46 34h1v1h-1zM5 35h1v1h-1zM31 35h2v1h-2zM36 35h1v1h-1zM39 35h1v1h-1zM43 35h1v1h-1zM14 36h1v1h-1zM27 36h1v1h-1zM29 36h2v1h-2zM40 36h1v1h-1zM1 37h1v1h-1zM10 37h1v1h-1zM16 37h1v1h-1zM18 37h1v1h-1zM28 37h1v1h-1zM32 37h1v1h-1zM1 38h1v1h-1zM13 38h1v1h-1zM22 38h1v1h-1zM38 38h2v1h-2zM10 39h1v1h-1zM13 39h1v1h-1zM17 39h1v1h-1zM28 39h1v1h-1zM33 39h1v1h-1zM30 40h1v1h-1zM38 40h1v1h-1zM1 41h1v1h-1zM31 41h1v1h-1zM43 41h1v1h-1zM13 42h2v1h-2zM20 42h4v1h-4zM35 42h2v1h-2zM45 42h1v1h-1zM30 43h1v1h-1zM32 43h2v1h-2zM35 43h1v1h-1zM43 43h1v1h-1zM1 44h2v1h-2zM12 44h1v1h-1zM15 44h2v1h-2zM4 45h1v1h-1zM15 45h1v1h-1zM33 45h1v1h-1zM35 45h2v1h-2zM7 46h1v1h-1zM25 46h1v1h-1zM41 46h1v1h-1zM5 47h1v1h-1zM44 47h1v1h-1zM8 48h1v1h-1zM40 48h1v1h-1zM19 49h1v1h-1zM29 49h1v1h-1zM20 51h1v1h-1zM36 51h1v1h-1zM24 52h1v1h-1zM26 52h1v1h-1zM4 53h1v1h-1zM6 53h1v1h-1zM32 53h2v1h-2zM27 54h1v1h-1zM38 54h1v1h-1zM0 55h2v1h-2zM19 55h1v1h-1zM33 55h1v1h-1zM38 55h1v1h-1zM41 55h1v1h-1zM31 56h1v1h-1zM29 57h1v1h-1zM45 57h1v1h-1zM36 59h1v1h-1zM41 59h1v1h-1zM28 60h2v1h-2zM32 60h1v1h-1zM35 60h2v1h-2zM36 62h1v1h-1zM41 62h1v1h-1zM43 62h1v1h-1zM6 63h1v1h-1zM31 63h1v1h-1zM21 64h1v1h-1zM27 64h1v1h-1zM2 65h1v1h-1zM17 65h1v1h-1zM27 65h1v1h-1zM33 65h1v1h-1zM41 65h1v1h-1zM2 67h1v1h-1zM7 67h3v1h-3zM18 67h2v1h-2zM34 67h2v1h-2zM38 67h1v1h-1zM40 67h1v1h-1zM25 68h1v1h-1zM38 68h1v1h-1zM42 68h1v1h-1zM0 70h1v1h-1zM24 70h1v1h-1zM30 70h1v1h-1zM33 70h1v1h-1zM36 70h1v1h-1zM0 71h2v1h-2zM40 71h1v1h-1zM25 72h2v1h-2zM39 72h2v1h-2zM42 72h1v1h-1zM0 73h1v1h-1zM4 73h1v1h-1zM25 73h1v1h-1zM27 73h1v1h-1zM32 73h1v1h-1zM21 74h1v1h-1zM35 74h1v1h-1zM38 74h1v1h-1zM41 74h1v1h-1zM7 75h1v1h-1zM26 75h1v1h-1zM33 75h2v1h-2zM42 75h2v1h-2zM36 76h1v1h-1zM33 77h2v1h-2zM44 77h1v1h-1zM46 77h1v1h-1zM14 78h1v1h-1zM25 78h1v1h-1zM28 78h1v1h-1zM36 78h1v1h-1zM46 78h1v1h-1zM9 79h1v1h-1zM37 79h1v1h-1zM41 79h1v1h-1zM43 79h1v1h-1zM30 80h1v1h-1zM33 80h1v1h-1zM45 80h1v1h-1zM28 81h1v1h-1zM30 81h1v1h-1zM39 81h1v1h-1zM42 81h2v1h-2zM46 81h1v1h-1zM4 82h1v1h-1zM37 82h1v1h-1zM42 82h2v1h-2zM2 83h1v1h-1zM9 83h1v1h-1zM16 83h1v1h-1zM38 83h2v1h-2zM41 83h1v1h-1zM13 84h2v1h-2zM39 84h1v1h-1zM44 84h1v1h-1zM28 85h1v1h-1zM28 86h2v1h-2zM31 86h2v1h-2zM37 86h1v1h-1zM43 86h1v1h-1zM46 86h1v1h-1zM0 87h1v1h-1zM10 87h2v1h-2zM35 87h1v1h-1zM38 87h1v1h-1zM42 87h2v1h-2zM37 88h1v1h-1zM39 88h2v1h-2zM44 88h1v1h-1zM0 89h1v1h-1zM19 89h1v1h-1zM33 89h1v1h-1zM38 89h1v1h-1zM41 89h1v1h-1zM43 89h1v1h-1zM42 90h1v1h-1zM15 91h1v1h-1zM25 91h1v1h-1zM32 91h1v1h-1zM36 91h1v1h-1zM40 91h3v1h-3zM12 93h1v1h-1zM30 93h1v1h-1zM43 93h1v1h-1zM24 94h2v1h-2zM41 94h1v1h-1zM0 95h1v1h-1zM28 95h1v1h-1zM33 95h1v1h-1zM35 95h1v1h-1zM37 95h1v1h-1zM43 95h1v1h-1zM0 96h1v1h-1zM6 96h1v1h-1zM25 96h1v1h-1zM34 96h1v1h-1zM38 96h1v1h-1zM40 96h1v1h-1zM43 96h1v1h-1zM0 97h1v1h-1zM24 97h1v1h-1zM27 97h2v1h-2zM36 97h1v1h-1zM40 97h1v1h-1zM42 97h1v1h-1zM11 98h1v1h-1zM29 98h1v1h-1zM37 98h1v1h-1zM40 98h1v1h-1zM11 99h1v1h-1zM46 99h1v1h-1zM2 100h1v1h-1zM4 100h1v1h-1zM8 100h1v1h-1zM29 100h2v1h-2zM33 100h2v1h-2zM40 100h1v1h-1zM43 100h1v1h-1zM7 101h2v1h-2zM21 101h1v1h-1zM28 101h1v1h-1zM40 101h2v1h-2zM5 102h1v1h-1zM8 102h1v1h-1zM17 102h1v1h-1zM19 102h1v1h-1zM29 102h1v1h-1zM32 102h1v1h-1zM40 102h1v1h-1zM42 102h1v1h-1zM1 103h1v1h-1zM9 103h1v1h-1zM29 103h1v1h-1zM37 103h2v1h-2zM16 104h1v1h-1zM4 105h1v1h-1zM20 105h1v1h-1zM38 105h1v1h-1zM41 105h1v1h-1zM44 105h1v1h-1zM4 106h1v1h-1zM28 106h2v1h-2zM12 107h1v1h-1zM16 107h1v1h-1zM27 107h1v1h-1zM29 107h1v1h-1zM31 107h1v1h-1zM38 107h1v1h-1zM41 107h1v1h-1zM7 108h1v1h-1zM41 108h1v1h-1zM44 108h1v1h-1zM1 109h1v1h-1zM7 109h1v1h-1zM15 109h2v1h-2zM31 109h1v1h-1zM8 110h1v1h-1zM12 110h1v1h-1zM14 110h1v1h-1zM16 110h1v1h-1zM20 110h2v1h-2zM43 110h1v1h-1zM6 111h1v1h-1zM9 111h2v1h-2zM14 111h1v1h-1zM29 111h1v1h-1zM34 111h1v1h-1zM46 111h1v1h-1zM43 112h1v1h-1zM11 113h1v1h-1zM15 113h1v1h-1zM29 113h1v1h-1zM1 114h1v1h-1zM6 114h1v1h-1zM11 114h1v1h-1zM16 114h1v1h-1zM19 114h1v1h-1zM22 114h1v1h-1zM28 114h1v1h-1zM5 115h1v1h-1zM7 115h1v1h-1zM15 115h1v1h-1zM19 115h1v1h-1zM8 116h1v1h-1zM7 117h2v1h-2zM10 117h1v1h-1zM6 118h1v1h-1zM10 118h1v1h-1zM4 119h1v1h-1zM21 119h1v1h-1zM27 119h1v1h-1zM37 119h1v1h-1zM2 120h1v1h-1zM6 120h1v1h-1zM4 121h4v1h-4zM9 121h1v1h-1zM17 121h1v1h-1zM1 122h1v1h-1zM6 122h1v1h-1zM9 122h1v1h-1zM14 122h4v1h-4zM34 122h1v1h-1zM4 123h3v1h-3zM12 123h1v1h-1zM19 123h1v1h-1zM25 123h1v1h-1zM45 123h1v1h-1zM4 124h1v1h-1zM6 124h1v1h-1zM8 124h1v1h-1zM12 124h2v1h-2zM17 124h1v1h-1zM19 124h1v1h-1zM24 124h1v1h-1zM28 124h1v1h-1zM30 124h1v1h-1zM44 124h1v1h-1zM15 125h1v1h-1zM1 126h1v1h-1zM11 126h2v1h-2zM19 126h1v1h-1zM22 126h1v1h-1zM33 126h1v1h-1zM20 127h1v1h-1zM1 128h1v1h-1zM7 128h1v1h-1zM19 128h1v1h-1zM22 128h1v1h-1zM0 129h1v1h-1zM2 129h2v1h-2zM5 129h1v1h-1zM8 129h1v1h-1zM13 129h1v1h-1zM16 129h1v1h-1zM5 130h1v1h-1zM8 130h1v1h-1zM13 130h1v1h-1zM21 130h1v1h-1zM0 131h1v1h-1zM14 131h1v1h-1zM16 131h1v1h-1zM20 131h2v1h-2zM1 132h3v1h-3zM5 132h1v1h-1zM17 132h1v1h-1zM19 132h1v1h-1zM2 133h1v1h-1zM10 133h2v1h-2zM17 133h1v1h-1zM31 133h2v1h-2zM7 134h1v1h-1zM10 134h2v1h-2zM16 134h1v1h-1zM20 134h2v1h-2zM21 135h2v1h-2zM24 135h1v1h-1zM40 135h1v1h-1zM0 136h1v1h-1zM6 136h2v1h-2zM21 136h1v1h-1zM25 136h1v1h-1zM4 137h1v1h-1zM12 137h1v1h-1zM26 137h1v1h-1zM13 138h1v1h-1zM22 138h1v1h-1zM16 139h1v1h-1zM7 140h1v1h-1zM14 140h1v1h-1zM11 141h1v1h-1zM25 141h1v1h-1zM41 141h1v1h-1zM6 142h2v1h-2zM0 143h1v1h-1zM6 143h2v1h-2zM13 143h1v1h-1zM18 143h1v1h-1zM21 143h1v1h-1zM23 143h1v1h-1zM25 143h1v1h-1zM37 143h1v1h-1zM3 144h1v1h-1zM18 144h1v1h-1zM27 144h1v1h-1zM6 145h1v1h-1zM11 145h1v1h-1zM17 145h1v1h-1zM1 146h2v1h-2zM8 146h1v1h-1zM15 146h1v1h-1zM21 146h1v1h-1zM26 146h1v1h-1zM3 147h1v1h-1zM11 147h1v1h-1zM17 147h1v1h-1zM24 147h2v1h-2zM31 147h1v1h-1zM40 147h1v1h-1zM0 148h1v1h-1zM10 148h1v1h-1zM0 149h2v1h-2zM20 149h2v1h-2zM32 149h1v1h-1zM5 150h1v1h-1zM12 150h1v1h-1zM24 150h1v1h-1zM3 151h1v1h-1zM8 151h1v1h-1zM14 151h1v1h-1zM12 152h1v1h-1zM7 153h1v1h-1zM9 153h3v1h-3zM0 154h1v1h-1zM2 154h1v1h-1zM7 154h1v1h-1zM10 154h1v1h-1zM20 154h2v1h-2zM1 155h1v1h-1zM6 155h1v1h-1zM15 155h1v1h-1zM30 155h1v1h-1zM34 155h1v1h-1zM3 156h1v1h-1zM14 156h2v1h-2zM26 156h1v1h-1zM3 157h1v1h-1zM6 157h1v1h-1zM12 157h2v1h-2zM22 157h1v1h-1zM24 157h1v1h-1zM38 157h1v1h-1zM2 158h1v1h-1zM8 158h1v1h-1zM12 158h3v1h-3zM16 158h1v1h-1zM18 158h1v1h-1zM21 158h1v1h-1zM24 158h1v1h-1zM33 158h1v1h-1zM15 159h1v1h-1zM19 159h2v1h-2zM7 160h1v1h-1zM11 160h1v1h-1zM13 160h1v1h-1zM18 160h1v1h-1zM31 160h1v1h-1zM5 161h1v1h-1zM18 161h1v1h-1zM23 161h1v1h-1zM30 161h1v1h-1zM1 162h2v1h-2zM4 162h1v1h-1zM12 162h1v1h-1zM17 162h1v1h-1zM19 162h1v1h-1zM7 163h1v1h-1zM12 163h1v1h-1zM2 164h2v1h-2zM16 164h1v1h-1zM19 164h1v1h-1zM21 164h1v1h-1zM0 165h1v1h-1zM3 165h1v1h-1zM5 165h1v1h-1zM18 165h1v1h-1zM22 165h1v1h-1zM26 165h1v1h-1zM29 165h1v1h-1zM31 165h1v1h-1zM36 165h2v1h-2zM39 165h1v1h-1zM2 166h1v1h-1zM23 166h3v1h-3zM30 166h1v1h-1zM7 167h2v1h-2zM14 167h2v1h-2zM22 167h1v1h-1zM1 168h1v1h-1zM3 168h1v1h-1zM13 168h2v1h-2zM24 168h1v1h-1zM27 168h1v1h-1zM29 168h3v1h-3zM33 168h1v1h-1zM37 168h1v1h-1zM39 168h1v1h-1zM4 169h1v1h-1zM6 169h3v1h-3zM11 169h1v1h-1zM15 169h1v1h-1zM29 169h1v1h-1zM8 170h2v1h-2zM11 170h1v1h-1zM17 170h1v1h-1zM19 170h1v1h-1zM27 170h1v1h-1zM22 171h1v1h-1zM24 171h1v1h-1zM4 172h1v1h-1zM11 172h2v1h-2zM21 172h1v1h-1zM24 172h1v1h-1zM2 173h1v1h-1zM12 173h2v1h-2zM17 173h1v1h-1zM30 173h2v1h-2zM8 174h1v1h-1zM15 174h1v1h-1zM31 174h1v1h-1zM37 174h1v1h-1zM42 174h1v1h-1zM0 175h1v1h-1zM3 175h2v1h-2zM11 175h1v1h-1zM18 175h1v1h-1zM20 175h1v1h-1zM23 175h1v1h-1zM2 176h1v1h-1zM4 176h1v1h-1zM6 176h2v1h-2zM16 176h2v1h-2zM26 176h1v1h-1zM29 176h1v1h-1zM41 176h1v1h-1zM0 177h1v1h-1zM16 177h1v1h-1zM18 177h1v1h-1zM22 177h1v1h-1zM30 177h1v1h-1zM1 178h2v1h-2zM7 178h1v1h-1zM10 178h1v1h-1zM13 178h1v1h-1zM21 178h1v1h-1zM19 179h2v1h-2zM26 179h2v1h-2zM29 179h1v1h-1zM2 180h1v1h-1zM16 180h1v1h-1zM0 181h1v1h-1zM34 181h1v1h-1zM40 181h1v1h-1zM7 182h2v1h-2zM15 182h1v1h-1zM17 182h2v1h-2zM13 183h1v1h-1zM19 183h1v1h-1zM34 183h1v1h-1zM14 184h1v1h-1zM22 184h4v1h-4zM0 185h2v1h-2zM11 185h1v1h-1zM22 185h1v1h-1zM4 186h1v1h-1zM11 186h1v1h-1zM15 186h1v1h-1zM11 187h1v1h-1zM14 187h1v1h-1zM23 187h1v1h-1zM44 187h1v1h-1zM2 188h1v1h-1zM15 188h2v1h-2zM1 189h1v1h-1zM7 189h1v1h-1zM9 189h1v1h-1zM16 189h1v1h-1zM24 189h2v1h-2zM0 190h1v1h-1zM4 191h1v1h-1zM13 191h1v1h-1zM17 191h1v1h-1zM23 191h1v1h-1zM5 192h1v1h-1zM16 192h1v1h-1zM21 192h1v1h-1zM2 193h1v1h-1zM18 193h1v1h-1zM21 193h1v1h-1zM23 193h1v1h-1zM32 193h1v1h-1zM34 193h1v1h-1zM39 193h1v1h-1zM14 194h1v1h-1zM9 195h1v1h-1zM11 195h1v1h-1zM13 195h1v1h-1zM23 195h3v1h-3zM0 196h1v1h-1zM11 196h1v1h-1zM13 196h1v1h-1zM16 196h2v1h-2zM20 196h2v1h-2zM23 196h1v1h-1zM27 196h1v1h-1zM6 197h1v1h-1zM17 197h1v1h-1zM19 197h1v1h-1zM30 197h1v1h-1zM8 198h2v1h-2zM19 198h2v1h-2zM0 199h2v1h-2zM4 199h1v1h-1zM9 199h1v1h-1zM14 199h1v1h-1zM17 199h2v1h-2zM37 199h1v1h-1zM0 200h1v1h-1zM4 200h2v1h-2zM10 200h1v1h-1zM12 200h1v1h-1zM16 200h2v1h-2zM19 200h1v1h-1zM21 200h1v1h-1zM24 200h1v1h-1zM13 201h1v1h-1zM17 201h1v1h-1zM19 201h1v1h-1zM22 201h2v1h-2zM11 202h2v1h-2zM17 202h1v1h-1zM19 202h1v1h-1zM21 202h1v1h-1zM3 203h1v1h-1zM6 203h1v1h-1zM15 203h1v1h-1zM28 203h1v1h-1zM31 203h1v1h-1zM33 203h1v1h-1zM8 204h2v1h-2zM23 204h1v1h-1zM34 204h1v1h-1zM37 204h1v1h-1zM8 205h1v1h-1zM16 205h1v1h-1zM41 205h1v1h-1zM2 206h2v1h-2zM11 206h1v1h-1zM20 206h1v1h-1zM22 206h1v1h-1zM1 207h1v1h-1zM3 207h1v1h-1zM9 207h1v1h-1zM12 207h2v1h-2zM20 207h1v1h-1zM9 208h2v1h-2zM33 209h1v1h-1zM36 209h1v1h-1zM38 209h1v1h-1zM2 210h1v1h-1zM6 210h1v1h-1zM8 210h1v1h-1zM12 210h1v1h-1zM23 210h2v1h-2zM0 211h1v1h-1zM28 211h1v1h-1zM0 212h1v1h-1zM4 212h1v1h-1zM14 212h2v1h-2zM5 213h1v1h-1zM14 213h1v1h-1zM6 214h1v1h-1zM13 214h1v1h-1zM17 214h1v1h-1zM25 214h1v1h-1zM1 215h1v1h-1zM4 215h1v1h-1zM7 215h2v1h-2zM16 215h1v1h-1zM18 215h2v1h-2zM25 215h2v1h-2zM35 215h1v1h-1zM37 215h1v1h-1zM39 215h1v1h-1zM6 216h1v1h-1zM14 216h2v1h-2zM20 216h1v1h-1zM2 217h1v1h-1zM4 217h1v1h-1zM15 217h1v1h-1zM17 217h2v1h-2zM24 217h2v1h-2zM1 218h1v1h-1zM23 218h1v1h-1zM28 218h1v1h-1zM30 218h1v1h-1zM36 218h2v1h-2zM20 219h1v1h-1zM24 219h1v1h-1zM33 219h1v1h-1zM1 220h1v1h-1zM9 220h1v1h-1zM22 220h1v1h-1zM29 220h1v1h-1zM3 221h1v1h-1zM5 221h1v1h-1zM14 221h1v1h-1zM22 221h4v1h-4zM2 222h1v1h-1zM6 222h1v1h-1zM8 222h1v1h-1zM21 222h1v1h-1zM26 222h2v1h-2zM13 223h1v1h-1zM24 223h1v1h-1zM0 224h1v1h-1zM5 225h1v1h-1zM12 225h1v1h-1zM20 225h1v1h-1zM24 225h1v1h-1zM3 226h2v1h-2zM7 226h2v1h-2zM12 226h1v1h-1zM22 226h2v1h-2zM18 227h1v1h-1zM3 228h1v1h-1zM19 228h1v1h-1zM22 228h1v1h-1zM30 228h1v1h-1zM0 229h1v1h-1zM4 229h1v1h-1zM6 229h1v1h-1zM8 229h1v1h-1zM11 229h1v1h-1zM15 229h1v1h-1zM17 229h1v1h-1zM4 230h1v1h-1zM8 230h1v1h-1zM10 230h1v1h-1zM13 230h1v1h-1zM18 230h1v1h-1zM24 230h1v1h-1zM14 231h1v1h-1zM24 231h1v1h-1zM8 232h1v1h-1zM13 232h1v1h-1zM24 232h1v1h-1zM32 232h1v1h-1zM2 233h1v1h-1zM8 233h1v1h-1zM20 233h1v1h-1zM32 233h1v1h-1zM2 234h1v1h-1zM7 234h1v1h-1zM9 234h1v1h-1zM14 234h2v1h-2zM20 234h1v1h-1zM24 234h1v1h-1zM13 235h1v1h-1zM4 236h1v1h-1zM10 236h2v1h-2zM34 236h1v1h-1zM0 237h1v1h-1zM4 237h1v1h-1zM8 237h1v1h-1zM17 237h1v1h-1zM23 237h1v1h-1zM43 237h1v1h-1zM3 238h1v1h-1zM7 238h2v1h-2zM25 238h1v1h-1zM7 239h1v1h-1zM20 239h1v1h-1zM25 239h1v1h-1zM9 240h1v1h-1zM12 240h1v1h-1zM15 240h1v1h-1zM20 240h1v1h-1zM26 240h2v1h-2zM29 240h1v1h-1zM3 241h1v1h-1zM5 241h1v1h-1zM7 241h2v1h-2zM11 241h1v1h-1zM21 241h1v1h-1zM25 241h1v1h-1zM8 242h1v1h-1zM10 242h1v1h-1zM22 242h1v1h-1zM27 242h1v1h-1zM41 242h1v1h-1zM5 243h2v1h-2zM10 243h1v1h-1zM16 243h1v1h-1zM23 243h1v1h-1zM25 243h1v1h-1zM1 244h1v1h-1zM21 244h2v1h-2zM27 244h1v1h-1z"/>
<path fill="#f8cae0" d="M21 0h1v1h-1zM42 0h1v1h-1zM45 0h1v1h-1zM27 3h1v1h-1zM32 3h1v1h-1zM21 4h2v1h-2zM43 4h2v1h-2zM7 5h1v1h-1zM9 5h2v1h-2zM18 5h1v1h-1zM31 5h1v1h-1zM1 6h1v1h-1zM24 6h1v1h-1zM6 7h1v1h-1zM34 7h1v1h-1zM36 7h1v1h-1zM24 8h1v1h-1zM33 8h2v1h-2zM38 8h1v1h-1zM40 8h1v1h-1zM38 9h2v1h-2zM8 10h1v1h-1zM1 11h1v1h-1zM3 11h1v1h-1zM29 11h1v1h-1zM4 12h1v1h-1zM29 12h1v1h-1zM32 12h1v1h-1zM28 15h1v1h-1zM35 15h1v1h-1zM39 15h1v1h-1zM46 15h1v1h-1zM2 16h1v1h-1zM30 16h3v1h-3zM34 16h1v1h-1zM2 17h1v1h-1zM21 17h1v1h-1zM31 17h1v1h-1zM9 18h1v1h-1zM11 18h2v1h-2zM19 18h2v1h-2zM33 18h2v1h-2zM44 18h1v1h-1zM2 19h1v1h-1zM7 19h2v1h-2zM35 19h1v1h-1zM41 19h1v1h-1zM34 20h2v1h-2zM43 20h1v1h-1zM19 21h1v1h-1zM21 21h1v1h-1zM32 21h1v1h-1zM44 21h2v1h-2zM2 22h1v1h-1zM29 22h1v1h-1zM32 22h1v1h-1zM0 23h1v1h-1zM2 23h1v1h-1zM32 24h1v1h-1zM44 24h1v1h-1zM24 25h1v1h-1zM28 25h1v1h-1zM2 26h1v1h-1zM33 27h1v1h-1zM14 28h1v1h-1zM33 28h1v1h-1zM38 28h1v1h-1zM44 28h1v1h-1zM1 29h1v1h-1zM19 30h1v1h-1zM32 30h1v1h-1zM32 31h1v1h-1zM44 31h1v1h-1zM4 32h1v1h-1zM7 32h2v1h-2zM11 32h2v1h-2zM39 33h1v1h-1zM44 33h1v1h-1zM2 34h1v1h-1zM5 34h1v1h-1zM8 34h1v1h-1zM19 34h1v1h-1zM33 35h1v1h-1zM35 35h1v1h-1zM38 35h1v1h-1zM40 35h2v1h-2zM44 35h1v1h-1zM36 36h2v1h-2zM15 37h1v1h-1zM17 37h1v1h-1zM25 37h1v1h-1zM17 38h1v1h-1zM19 38h2v1h-2zM24 38h1v1h-1zM34 38h1v1h-1zM41 38h1v1h-1zM44 38h1v1h-1zM11 39h1v1h-1zM3 40h1v1h-1zM43 40h1v1h-1zM45 40h1v1h-1zM39 41h1v1h-1zM41 41h1v1h-1zM0 42h2v1h-2zM19 42h1v1h-1zM44 42h1v1h-1zM29 43h1v1h-1zM38 43h1v1h-1zM13 44h1v1h-1zM18 44h1v1h-1zM24 44h2v1h-2zM28 44h1v1h-1zM35 44h2v1h-2zM43 44h1v1h-1zM17 45h1v1h-1zM29 45h1v1h-1zM32 45h1v1h-1zM45 45h1v1h-1zM4 46h1v1h-1zM27 46h1v1h-1zM34 46h1v1h-1zM43 46h1v1h-1zM2 47h1v1h-1zM28 47h1v1h-1zM4 48h1v1h-1zM32 48h1v1h-1zM42 48h1v1h-1zM38 49h1v1h-1zM28 50h1v1h-1zM44 50h1v1h-1zM30 51h1v1h-1zM38 51h1v1h-1zM29 52h2v1h-2zM5 53h1v1h-1zM39 53h2v1h-2zM19 54h1v1h-1zM42 54h1v1h-1zM45 54h1v1h-1zM36 55h1v1h-1zM44 55h1v1h-1zM18 56h2v1h-2zM22 56h1v1h-1zM39 56h1v1h-1zM41 56h1v1h-1zM27 57h1v1h-1zM6 59h1v1h-1zM8 59h1v1h-1zM29 59h2v1h-2zM40 59h1v1h-1zM42 59h1v1h-1zM27 60h1v1h-1zM30 60h1v1h-1zM34 60h1v1h-1zM42 60h2v1h-2zM44 61h1v1h-1zM46 61h1v1h-1zM37 62h1v1h-1zM9 63h1v1h-1zM43 64h1v1h-1zM16 65h1v1h-1zM29 65h2v1h-2zM32 65h1v1h-1zM38 65h2v1h-2zM43 65h1v1h-1zM44 66h1v1h-1zM27 67h1v1h-1zM29 67h2v1h-2zM32 67h1v1h-1zM0 68h1v1h-1zM44 68h1v1h-1zM44 69h1v1h-1zM16 70h1v1h-1zM31 70h1v1h-1zM35 71h1v1h-1zM37 71h1v1h-1zM41 71h1v1h-1zM44 71h1v1h-1zM0 72h1v1h-1zM12 72h1v1h-1zM24 72h1v1h-1zM27 72h1v1h-1zM30 72h1v1h-1zM37 72h1v1h-1zM41 72h1v1h-1zM43 72h1v1h-1zM1 73h2v1h-2zM30 73h1v1h-1zM41 73h1v1h-1zM43 74h1v1h-1zM30 75h1v1h-1zM36 75h1v1h-1zM44 75h1v1h-1zM27 76h1v1h-1zM35 77h1v1h-1zM38 77h1v1h-1zM40 77h1v1h-1zM39 78h1v1h-1zM44 78h1v1h-1zM39 79h2v1h-2zM44 79h1v1h-1zM13 80h1v1h-1zM16 80h2v1h-2zM29 80h1v1h-1zM43 80h1v1h-1zM29 81h1v1h-1zM38 81h1v1h-1zM1 82h1v1h-1zM3 82h1v1h-1zM30 82h1v1h-1zM33 82h1v1h-1zM40 82h1v1h-1zM45 82h2v1h-2zM8 83h1v1h-1zM18 83h1v1h-1zM29 83h1v1h-1zM12 84h1v1h-1zM35 84h1v1h-1zM43 85h1v1h-1zM27 86h1v1h-1zM36 86h1v1h-1zM14 87h1v1h-1zM16 87h1v1h-1zM27 87h1v1h-1zM29 87h1v1h-1zM22 88h1v1h-1zM33 88h1v1h-1zM38 88h1v1h-1zM36 89h1v1h-1zM40 89h1v1h-1zM11 90h1v1h-1zM33 90h1v1h-1zM43 90h1v1h-1zM0 91h1v1h-1zM14 91h1v1h-1zM43 91h2v1h-2zM45 92h1v1h-1zM29 93h1v1h-1zM32 93h1v1h-1zM35 93h3v1h-3zM39 94h2v1h-2zM42 94h1v1h-1zM46 94h1v1h-1zM29 95h1v1h-1zM44 95h1v1h-1zM46 95h1v1h-1zM24 96h1v1h-1zM37 96h1v1h-1zM41 96h2v1h-2zM31 97h1v1h-1zM33 97h1v1h-1zM35 97h1v1h-1zM41 97h1v1h-1zM0 98h1v1h-1zM8 98h1v1h-1zM10 98h1v1h-1zM13 98h1v1h-1zM30 98h1v1h-1zM32 98h1v1h-1zM35 98h1v1h-1zM41 98h1v1h-1zM27 99h1v1h-1zM45 99h1v1h-1zM26 100h1v1h-1zM38 100h2v1h-2zM46 100h1v1h-1zM37 101h1v1h-1zM5 103h1v1h-1zM7 103h1v1h-1zM33 103h1v1h-1zM39 103h1v1h-1zM43 104h1v1h-1zM8 105h1v1h-1zM37 105h1v1h-1zM42 105h2v1h-2zM5 106h1v1h-1zM26 106h2v1h-2zM32 106h1v1h-1zM2 107h3v1h-3zM13 107h3v1h-3zM18 107h1v1h-1zM32 107h1v1h-1zM40 107h1v1h-1zM1 108h1v1h-1zM6 108h1v1h-1zM17 108h1v1h-1zM20 108h1v1h-1zM39 108h1v1h-1zM4 109h1v1h-1zM26 109h1v1h-1zM1 110h2v1h-2zM4 110h1v1h-1zM7 110h1v1h-1zM9 110h1v1h-1zM22 110h1v1h-1zM31 110h1v1h-1zM37 110h1v1h-1zM0 111h1v1h-1zM31 111h1v1h-1zM43 111h1v1h-1zM45 111h1v1h-1zM1 113h2v1h-2zM6 113h3v1h-3zM16 113h1v1h-1zM32 113h1v1h-1zM0 115h1v1h-1zM3 115h1v1h-1zM14 115h1v1h-1zM30 115h1v1h-1zM4 116h1v1h-1zM7 116h1v1h-1zM12 116h1v1h-1zM0 118h2v1h-2zM5 118h1v1h-1zM7 118h3v1h-3zM14 118h1v1h-1zM43 118h1v1h-1zM14 119h1v1h-1zM28 119h1v1h-1zM4 120h2v1h-2zM7 120h1v1h-1zM9 120h1v1h-1zM19 120h1v1h-1zM1 121h1v1h-1zM16 121h1v1h-1zM2 122h1v1h-1zM35 122h2v1h-2zM8 123h1v1h-1zM17 123h2v1h-2zM20 123h1v1h-1zM22 123h1v1h-1zM27 123h1v1h-1zM14 124h1v1h-1zM18 124h1v1h-1zM22 124h1v1h-1zM40 124h1v1h-1zM0 125h1v1h-1zM14 125h1v1h-1zM0 126h1v1h-1zM2 126h1v1h-1zM10 126h1v1h-1zM14 126h1v1h-1zM17 126h1v1h-1zM30 126h1v1h-1zM1 127h2v1h-2zM0 128h1v1h-1zM5 128h2v1h-2zM20 128h2v1h-2zM4 129h1v1h-1zM17 129h1v1h-1zM20 129h2v1h-2zM1 130h1v1h-1zM10 130h1v1h-1zM17 130h1v1h-1zM20 130h1v1h-1zM26 130h1v1h-1zM3 131h2v1h-2zM6 131h2v1h-2zM11 131h1v1h-1zM4 132h1v1h-1zM0 133h1v1h-1zM4 133h3v1h-3zM16 133h1v1h-1zM1 134h1v1h-1zM27 134h1v1h-1zM34 134h2v1h-2zM13 135h1v1h-1zM16 135h1v1h-1zM19 135h1v1h-1zM3 136h2v1h-2zM8 137h1v1h-1zM11 137h1v1h-1zM22 137h1v1h-1zM1 138h1v1h-1zM6 138h1v1h-1zM8 138h1v1h-1zM14 138h1v1h-1zM19 138h1v1h-1zM21 138h1v1h-1zM2 140h1v1h-1zM5 141h1v1h-1zM8 141h2v1h-2zM15 141h2v1h-2zM40 141h1v1h-1zM5 142h1v1h-1zM8 142h1v1h-1zM13 142h2v1h-2zM17 142h1v1h-1zM21 142h1v1h-1zM1 143h1v1h-1zM8 143h1v1h-1zM12 143h1v1h-1zM17 143h1v1h-1zM24 143h1v1h-1zM43 143h1v1h-1zM4 144h2v1h-2zM10 144h1v1h-1zM28 144h1v1h-1zM30 144h1v1h-1zM8 145h2v1h-2zM14 145h1v1h-1zM22 145h1v1h-1zM27 145h1v1h-1zM4 146h1v1h-1zM7 146h1v1h-1zM13 146h1v1h-1zM16 146h1v1h-1zM22 146h1v1h-1zM13 147h1v1h-1zM19 147h1v1h-1zM33 147h1v1h-1zM2 148h1v1h-1zM5 148h1v1h-1zM8 148h2v1h-2zM22 148h1v1h-1zM44 148h1v1h-1zM2 149h1v1h-1zM6 149h1v1h-1zM10 149h1v1h-1zM15 149h1v1h-1zM22 149h1v1h-1zM3 150h1v1h-1zM7 150h1v1h-1zM9 150h1v1h-1zM16 150h1v1h-1zM21 150h1v1h-1zM0 151h1v1h-1zM7 151h1v1h-1zM9 151h1v1h-1zM11 151h1v1h-1zM26 151h1v1h-1zM14 152h2v1h-2zM5 153h2v1h-2zM12 153h1v1h-1zM15 153h1v1h-1zM4 154h1v1h-1zM22 154h1v1h-1zM7 155h2v1h-2zM10 155h1v1h-1zM12 155h1v1h-1zM18 155h1v1h-1zM4 156h1v1h-1zM13 156h1v1h-1zM16 156h1v1h-1zM37 156h1v1h-1zM1 157h1v1h-1zM4 157h1v1h-1zM7 157h1v1h-1zM10 157h1v1h-1zM14 157h1v1h-1zM20 157h1v1h-1zM3 158h1v1h-1zM7 158h1v1h-1zM15 158h1v1h-1zM19 158h1v1h-1zM31 158h1v1h-1zM0 159h1v1h-1zM4 159h1v1h-1zM9 159h1v1h-1zM11 159h1v1h-1zM1 160h1v1h-1zM9 160h1v1h-1zM14 160h3v1h-3zM20 160h1v1h-1zM32 160h1v1h-1zM6 161h1v1h-1zM11 161h1v1h-1zM13 161h1v1h-1zM15 161h1v1h-1zM17 161h1v1h-1zM19 161h2v1h-2zM22 161h1v1h-1zM24 161h1v1h-1zM37 161h1v1h-1zM39 161h1v1h-1zM0 162h1v1h-1zM3 162h1v1h-1zM6 162h1v1h-1zM11 162h1v1h-1zM14 162h1v1h-1zM22 162h1v1h-1zM6 163h1v1h-1zM6 164h2v1h-2zM14 164h1v1h-1zM20 164h1v1h-1zM17 165h1v1h-1zM1 166h1v1h-1zM4 166h1v1h-1zM10 166h1v1h-1zM13 166h1v1h-1zM17 166h1v1h-1zM5 167h2v1h-2zM11 167h1v1h-1zM16 167h1v1h-1zM21 167h1v1h-1zM23 167h1v1h-1zM5 168h1v1h-1zM7 168h1v1h-1zM10 168h1v1h-1zM12 168h1v1h-1zM19 168h1v1h-1zM26 168h1v1h-1zM0 169h1v1h-1zM5 169h1v1h-1zM12 169h3v1h-3zM20 169h1v1h-1zM2 170h1v1h-1zM20 170h1v1h-1zM26 170h1v1h-1zM13 171h2v1h-2zM18 171h1v1h-1zM20 171h2v1h-2zM25 171h1v1h-1zM2 172h1v1h-1zM6 172h1v1h-1zM22 172h1v1h-1zM1 173h1v1h-1zM4 173h1v1h-1zM15 173h1v1h-1zM1 174h1v1h-1zM12 174h2v1h-2zM18 174h1v1h-1zM22 174h1v1h-1zM36 174h1v1h-1zM9 175h1v1h-1zM17 175h1v1h-1zM21 175h1v1h-1zM0 176h2v1h-2zM5 176h1v1h-1zM8 177h1v1h-1zM10 177h1v1h-1zM13 177h2v1h-2zM19 177h1v1h-1zM21 177h1v1h-1zM12 178h1v1h-1zM14 178h1v1h-1zM16 178h1v1h-1zM20 178h1v1h-1zM2 179h1v1h-1zM4 179h2v1h-2zM8 179h1v1h-1zM13 179h1v1h-1zM16 179h1v1h-1zM0 180h1v1h-1zM7 180h1v1h-1zM14 180h1v1h-1zM17 180h2v1h-2zM20 180h1v1h-1zM14 181h2v1h-2zM18 181h1v1h-1zM20 181h1v1h-1zM24 181h1v1h-1zM0 182h3v1h-3zM5 182h1v1h-1zM20 182h1v1h-1zM2 183h3v1h-3zM6 183h1v1h-1zM10 183h1v1h-1zM15 183h2v1h-2zM22 183h1v1h-1zM2 184h2v1h-2zM15 184h1v1h-1zM19 184h1v1h-1zM21 184h1v1h-1zM8 185h1v1h-1zM13 185h1v1h-1zM19 185h1v1h-1zM26 185h1v1h-1zM1 186h1v1h-1zM6 186h2v1h-2zM13 187h1v1h-1zM19 187h1v1h-1zM24 187h3v1h-3zM31 187h1v1h-1zM33 187h1v1h-1zM6 188h1v1h-1zM8 188h1v1h-1zM10 188h1v1h-1zM14 189h2v1h-2zM6 191h1v1h-1zM10 191h1v1h-1zM24 191h2v1h-2zM4 192h1v1h-1zM19 192h1v1h-1zM24 192h1v1h-1zM32 192h2v1h-2zM17 193h1v1h-1zM26 193h1v1h-1zM28 193h1v1h-1zM3 194h1v1h-1zM8 194h1v1h-1zM10 194h1v1h-1zM17 194h1v1h-1zM19 194h1v1h-1zM23 194h1v1h-1zM25 194h1v1h-1zM4 195h1v1h-1zM15 195h1v1h-1zM20 195h1v1h-1zM37 195h1v1h-1zM1 196h2v1h-2zM9 196h1v1h-1zM15 196h1v1h-1zM19 196h1v1h-1zM22 196h1v1h-1zM34 196h1v1h-1zM36 196h2v1h-2zM0 197h1v1h-1zM2 197h1v1h-1zM8 197h3v1h-3zM14 197h1v1h-1zM16 197h1v1h-1zM25 197h1v1h-1zM33 197h1v1h-1zM6 198h1v1h-1zM16 198h1v1h-1zM21 198h1v1h-1zM13 199h1v1h-1zM39 199h1v1h-1zM1 200h1v1h-1zM7 200h2v1h-2zM14 200h2v1h-2zM23 200h1v1h-1zM5 201h2v1h-2zM15 201h1v1h-1zM20 201h1v1h-1zM27 201h1v1h-1zM1 202h1v1h-1zM3 202h1v1h-1zM9 202h2v1h-2zM14 202h2v1h-2zM20 202h1v1h-1zM22 202h1v1h-1zM4 203h2v1h-2zM19 203h1v1h-1zM21 203h1v1h-1zM26 203h2v1h-2zM11 204h3v1h-3zM15 204h2v1h-2zM18 204h1v1h-1zM20 204h1v1h-1zM24 204h1v1h-1zM32 204h1v1h-1zM1 205h1v1h-1zM7 205h1v1h-1zM14 205h1v1h-1zM18 205h1v1h-1zM34 205h1v1h-1zM7 206h1v1h-1zM12 206h2v1h-2zM23 206h1v1h-1zM2 207h1v1h-1zM5 207h1v1h-1zM8 207h1v1h-1zM10 207h1v1h-1zM14 207h1v1h-1zM19 207h1v1h-1zM25 207h1v1h-1zM4 208h1v1h-1zM11 208h1v1h-1zM22 208h1v1h-1zM2 209h2v1h-2zM14 209h1v1h-1zM17 209h1v1h-1zM20 209h1v1h-1zM26 209h1v1h-1zM35 209h1v1h-1zM7 210h1v1h-1zM14 210h1v1h-1zM18 210h1v1h-1zM24 211h1v1h-1zM9 212h4v1h-4zM1 213h1v1h-1zM11 213h2v1h-2zM15 213h2v1h-2zM18 213h1v1h-1zM20 213h1v1h-1zM42 213h1v1h-1zM5 214h1v1h-1zM10 214h1v1h-1zM3 215h1v1h-1zM6 215h1v1h-1zM12 215h1v1h-1zM14 215h1v1h-1zM20 215h1v1h-1zM22 215h1v1h-1zM8 216h1v1h-1zM16 216h3v1h-3zM22 216h1v1h-1zM1 217h1v1h-1zM3 217h1v1h-1zM12 217h1v1h-1zM16 217h1v1h-1zM21 217h1v1h-1zM0 218h1v1h-1zM39 218h1v1h-1zM0 219h2v1h-2zM3 219h1v1h-1zM12 219h3v1h-3zM0 220h1v1h-1zM8 220h1v1h-1zM11 220h1v1h-1zM14 220h1v1h-1zM23 220h1v1h-1zM25 220h1v1h-1zM15 221h3v1h-3zM0 222h1v1h-1zM9 222h2v1h-2zM20 222h1v1h-1zM8 223h1v1h-1zM11 223h1v1h-1zM2 224h1v1h-1zM12 224h1v1h-1zM0 225h1v1h-1zM2 225h1v1h-1zM4 225h1v1h-1zM6 225h2v1h-2zM11 225h1v1h-1zM13 225h1v1h-1zM15 225h1v1h-1zM23 225h1v1h-1zM25 225h1v1h-1zM9 226h2v1h-2zM15 226h2v1h-2zM24 226h1v1h-1zM2 227h1v1h-1zM5 227h1v1h-1zM9 227h1v1h-1zM13 227h2v1h-2zM16 227h1v1h-1zM2 228h1v1h-1zM5 228h1v1h-1zM14 228h1v1h-1zM2 229h2v1h-2zM5 229h1v1h-1zM7 229h1v1h-1zM10 229h1v1h-1zM13 229h1v1h-1zM0 230h1v1h-1zM2 230h2v1h-2zM16 230h1v1h-1zM19 230h2v1h-2zM4 231h1v1h-1zM7 231h3v1h-3zM23 231h1v1h-1zM3 233h1v1h-1zM21 233h2v1h-2zM1 234h1v1h-1zM4 234h1v1h-1zM10 234h1v1h-1zM12 234h1v1h-1zM16 234h1v1h-1zM21 234h1v1h-1zM25 234h1v1h-1zM6 236h1v1h-1zM8 236h1v1h-1zM12 236h1v1h-1zM14 236h1v1h-1zM23 236h1v1h-1zM27 236h1v1h-1zM29 236h2v1h-2zM33 236h1v1h-1zM3 237h1v1h-1zM10 237h2v1h-2zM15 237h1v1h-1zM25 237h1v1h-1zM4 238h2v1h-2zM9 238h1v1h-1zM15 238h1v1h-1zM2 239h3v1h-3zM6 239h1v1h-1zM11 239h1v1h-1zM16 239h2v1h-2zM19 239h1v1h-1zM1 240h1v1h-1zM5 240h1v1h-1zM8 240h1v1h-1zM13 240h1v1h-1zM1 241h1v1h-1zM4 241h1v1h-1zM6 241h1v1h-1zM10 241h1v1h-1zM15 241h1v1h-1zM0 242h1v1h-1zM11 242h1v1h-1zM13 242h1v1h-1zM20 242h1v1h-1zM24 242h1v1h-1zM35 242h1v1h-1zM1 243h1v1h-1zM3 243h1v1h-1zM17 243h1v1h-1zM5 244h1v1h-1zM7 244h1v1h-1zM17 244h1v1h-1zM19 244h2v1h-2zM24 244h2v1h-2zM29 244h1v1h-1zM38 244h1v1h-1zM40 244h1v1h-1z"/>
<path fill="#f7bbd6" d="M34 0h1v1h-1zM45 1h1v1h-1zM11 2h1v1h-1zM40 4h1v1h-1zM0 5h1v1h-1zM8 5h1v1h-1zM35 7h1v1h-1zM43 7h1v1h-1zM39 8h1v1h-1zM44 8h1v1h-1zM46 8h1v1h-1zM40 9h1v1h-1zM16 10h1v1h-1zM29 10h1v1h-1zM37 10h1v1h-1zM2 11h1v1h-1zM27 11h1v1h-1zM27 12h1v1h-1zM33 12h1v1h-1zM8 13h1v1h-1zM27 16h1v1h-1zM35 16h1v1h-1zM39 17h1v1h-1zM10 18h1v1h-1zM27 18h1v1h-1zM29 18h2v1h-2zM35 18h1v1h-1zM6 19h1v1h-1zM42 19h1v1h-1zM45 19h1v1h-1zM40 20h1v1h-1zM11 21h2v1h-2zM20 21h1v1h-1zM24 21h2v1h-2zM29 21h1v1h-1zM34 22h1v1h-1zM15 23h1v1h-1zM34 23h1v1h-1zM31 24h1v1h-1zM40 25h1v1h-1zM44 26h1v1h-1zM2 27h1v1h-1zM27 27h1v1h-1zM2 29h1v1h-1zM44 29h1v1h-1zM27 30h1v1h-1zM12 31h1v1h-1zM14 31h1v1h-1zM27 31h1v1h-1zM9 32h2v1h-2zM44 32h1v1h-1zM28 33h2v1h-2zM33 33h1v1h-1zM41 33h1v1h-1zM45 33h1v1h-1zM27 34h1v1h-1zM32 34h3v1h-3zM28 35h1v1h-1zM37 35h1v1h-1zM4 37h1v1h-1zM7 37h1v1h-1zM14 37h1v1h-1zM19 37h1v1h-1zM21 37h2v1h-2zM42 37h1v1h-1zM0 38h1v1h-1zM43 38h1v1h-1zM1 40h2v1h-2zM20 40h1v1h-1zM45 41h1v1h-1zM29 42h2v1h-2zM28 43h1v1h-1zM31 43h1v1h-1zM46 43h1v1h-1zM17 44h1v1h-1zM19 44h2v1h-2zM22 44h1v1h-1zM32 44h1v1h-1zM41 44h1v1h-1zM16 45h1v1h-1zM27 45h1v1h-1zM31 45h1v1h-1zM46 45h1v1h-1zM28 46h4v1h-4zM33 46h1v1h-1zM37 46h2v1h-2zM46 46h1v1h-1zM27 47h1v1h-1zM38 47h1v1h-1zM46 47h1v1h-1zM28 48h1v1h-1zM34 48h1v1h-1zM44 48h1v1h-1zM37 49h1v1h-1zM43 49h2v1h-2zM19 50h1v1h-1zM12 51h2v1h-2zM28 51h1v1h-1zM37 51h1v1h-1zM43 51h1v1h-1zM31 53h1v1h-1zM41 54h1v1h-1zM40 55h1v1h-1zM0 59h1v1h-1zM7 59h1v1h-1zM34 59h1v1h-1zM13 60h1v1h-1zM31 60h1v1h-1zM32 63h1v1h-1zM16 64h1v1h-1zM0 65h1v1h-1zM10 65h1v1h-1zM31 65h1v1h-1zM40 65h1v1h-1zM39 67h1v1h-1zM45 68h1v1h-1zM0 69h1v1h-1zM17 70h1v1h-1zM34 70h1v1h-1zM37 70h1v1h-1zM27 71h1v1h-1zM31 71h1v1h-1zM38 71h1v1h-1zM38 72h1v1h-1zM16 73h1v1h-1zM37 73h1v1h-1zM40 73h1v1h-1zM40 74h1v1h-1zM12 75h1v1h-1zM25 75h1v1h-1zM35 75h1v1h-1zM37 75h2v1h-2zM40 75h1v1h-1zM39 76h1v1h-1zM24 78h1v1h-1zM35 78h1v1h-1zM37 78h1v1h-1zM40 78h1v1h-1zM46 79h1v1h-1zM39 80h1v1h-1zM46 80h1v1h-1zM19 83h2v1h-2zM34 83h1v1h-1zM37 83h1v1h-1zM42 83h1v1h-1zM44 83h1v1h-1zM25 84h4v1h-4zM36 84h1v1h-1zM38 84h1v1h-1zM40 84h1v1h-1zM27 85h1v1h-1zM33 85h1v1h-1zM36 85h1v1h-1zM38 85h2v1h-2zM33 86h1v1h-1zM45 86h1v1h-1zM15 87h1v1h-1zM28 87h1v1h-1zM33 87h1v1h-1zM37 87h1v1h-1zM45 87h2v1h-2zM37 89h1v1h-1zM39 89h1v1h-1zM27 91h1v1h-1zM34 91h1v1h-1zM14 93h1v1h-1zM45 94h1v1h-1zM21 95h1v1h-1zM41 95h1v1h-1zM19 96h1v1h-1zM44 97h1v1h-1zM28 98h1v1h-1zM31 99h1v1h-1zM28 100h1v1h-1zM27 101h1v1h-1zM44 101h1v1h-1zM46 101h1v1h-1zM2 102h1v1h-1zM43 102h1v1h-1zM0 103h1v1h-1zM1 105h2v1h-2zM39 105h1v1h-1zM19 107h1v1h-1zM28 107h1v1h-1zM33 107h1v1h-1zM37 107h1v1h-1zM39 107h1v1h-1zM13 109h1v1h-1zM5 110h2v1h-2zM26 110h1v1h-1zM1 111h1v1h-1zM16 111h1v1h-1zM33 111h1v1h-1zM12 113h2v1h-2zM20 114h2v1h-2zM30 114h1v1h-1zM2 115h1v1h-1zM3 116h1v1h-1zM6 116h1v1h-1zM29 117h1v1h-1zM4 118h1v1h-1zM20 119h1v1h-1zM2 121h1v1h-1zM8 121h1v1h-1zM4 122h2v1h-2zM26 122h1v1h-1zM7 123h1v1h-1zM16 123h1v1h-1zM34 126h1v1h-1zM23 127h1v1h-1zM26 127h1v1h-1zM8 128h1v1h-1zM16 128h1v1h-1zM37 128h1v1h-1zM12 130h1v1h-1zM15 130h1v1h-1zM18 130h1v1h-1zM9 131h1v1h-1zM12 131h1v1h-1zM26 131h1v1h-1zM7 133h2v1h-2zM14 133h1v1h-1zM26 133h1v1h-1zM7 135h2v1h-2zM14 135h1v1h-1zM20 135h1v1h-1zM8 136h1v1h-1zM11 136h3v1h-3zM0 137h3v1h-3zM9 137h1v1h-1zM13 137h1v1h-1zM2 138h1v1h-1zM5 138h1v1h-1zM16 138h1v1h-1zM20 138h1v1h-1zM26 139h1v1h-1zM26 140h1v1h-1zM1 141h1v1h-1zM4 141h1v1h-1zM16 142h1v1h-1zM18 142h1v1h-1zM4 143h1v1h-1zM9 143h1v1h-1zM15 143h1v1h-1zM22 143h1v1h-1zM46 143h1v1h-1zM24 144h2v1h-2zM2 145h1v1h-1zM4 145h1v1h-1zM16 145h1v1h-1zM19 145h3v1h-3zM5 146h1v1h-1zM14 146h1v1h-1zM24 146h1v1h-1zM1 147h1v1h-1zM18 147h1v1h-1zM34 147h2v1h-2zM3 148h2v1h-2zM11 148h1v1h-1zM13 148h1v1h-1zM19 148h1v1h-1zM21 148h1v1h-1zM41 148h1v1h-1zM43 148h1v1h-1zM3 149h1v1h-1zM12 149h1v1h-1zM14 149h1v1h-1zM17 149h1v1h-1zM26 150h1v1h-1zM2 151h1v1h-1zM4 151h1v1h-1zM16 152h2v1h-2zM8 153h1v1h-1zM14 153h1v1h-1zM3 154h1v1h-1zM8 154h2v1h-2zM14 154h1v1h-1zM16 154h1v1h-1zM9 155h1v1h-1zM11 155h1v1h-1zM14 155h1v1h-1zM33 155h1v1h-1zM0 156h2v1h-2zM0 157h1v1h-1zM8 157h1v1h-1zM9 158h1v1h-1zM7 159h2v1h-2zM16 159h1v1h-1zM8 160h1v1h-1zM10 160h1v1h-1zM4 161h1v1h-1zM7 161h1v1h-1zM12 161h1v1h-1zM14 161h1v1h-1zM21 161h1v1h-1zM27 161h1v1h-1zM5 162h1v1h-1zM8 162h1v1h-1zM16 162h1v1h-1zM24 162h1v1h-1zM8 163h1v1h-1zM9 165h1v1h-1zM16 165h1v1h-1zM21 165h1v1h-1zM0 166h1v1h-1zM3 166h1v1h-1zM5 166h1v1h-1zM11 166h1v1h-1zM14 166h1v1h-1zM3 167h2v1h-2zM17 167h1v1h-1zM6 168h1v1h-1zM11 168h1v1h-1zM18 168h1v1h-1zM9 169h1v1h-1zM1 170h1v1h-1zM6 170h2v1h-2zM10 170h1v1h-1zM0 171h1v1h-1zM10 171h1v1h-1zM16 171h1v1h-1zM40 171h1v1h-1zM1 172h1v1h-1zM13 172h1v1h-1zM15 172h1v1h-1zM5 173h1v1h-1zM16 173h1v1h-1zM0 174h1v1h-1zM2 174h1v1h-1zM7 174h1v1h-1zM21 174h1v1h-1zM26 174h2v1h-2zM7 175h1v1h-1zM14 175h1v1h-1zM19 175h1v1h-1zM13 176h1v1h-1zM44 176h1v1h-1zM1 177h1v1h-1zM3 177h1v1h-1zM9 177h1v1h-1zM0 178h1v1h-1zM8 178h2v1h-2zM12 179h1v1h-1zM14 179h1v1h-1zM17 179h1v1h-1zM5 180h1v1h-1zM8 180h1v1h-1zM1 181h2v1h-2zM12 181h1v1h-1zM16 181h2v1h-2zM22 181h1v1h-1zM3 182h1v1h-1zM13 182h1v1h-1zM11 183h1v1h-1zM14 183h1v1h-1zM17 183h1v1h-1zM24 183h2v1h-2zM10 184h1v1h-1zM20 185h2v1h-2zM0 186h1v1h-1zM3 187h1v1h-1zM12 187h1v1h-1zM20 187h1v1h-1zM32 187h1v1h-1zM5 188h1v1h-1zM14 188h1v1h-1zM24 188h1v1h-1zM3 189h2v1h-2zM7 191h1v1h-1zM14 192h1v1h-1zM18 192h1v1h-1zM5 193h1v1h-1zM14 193h1v1h-1zM19 193h1v1h-1zM27 193h1v1h-1zM29 193h1v1h-1zM0 194h1v1h-1zM7 194h1v1h-1zM9 194h1v1h-1zM12 195h1v1h-1zM14 195h1v1h-1zM16 195h1v1h-1zM3 196h1v1h-1zM12 196h1v1h-1zM14 196h1v1h-1zM24 196h1v1h-1zM11 197h1v1h-1zM4 198h1v1h-1zM14 198h1v1h-1zM24 198h1v1h-1zM5 199h1v1h-1zM23 199h1v1h-1zM25 199h1v1h-1zM3 200h1v1h-1zM9 200h1v1h-1zM0 201h1v1h-1zM7 201h1v1h-1zM16 201h1v1h-1zM26 201h1v1h-1zM4 202h1v1h-1zM13 202h1v1h-1zM1 203h1v1h-1zM11 203h1v1h-1zM16 203h1v1h-1zM20 203h1v1h-1zM23 203h2v1h-2zM29 203h1v1h-1zM1 204h1v1h-1zM14 204h1v1h-1zM17 204h1v1h-1zM19 204h1v1h-1zM21 204h1v1h-1zM31 204h1v1h-1zM10 205h1v1h-1zM13 205h1v1h-1zM26 205h1v1h-1zM0 206h1v1h-1zM4 206h1v1h-1zM24 206h1v1h-1zM26 206h1v1h-1zM0 207h1v1h-1zM6 207h1v1h-1zM18 207h1v1h-1zM12 208h1v1h-1zM15 208h1v1h-1zM4 209h1v1h-1zM10 209h4v1h-4zM16 209h1v1h-1zM18 209h1v1h-1zM27 209h1v1h-1zM37 209h1v1h-1zM9 210h2v1h-2zM13 210h1v1h-1zM15 210h1v1h-1zM1 211h1v1h-1zM3 211h2v1h-2zM6 211h2v1h-2zM9 211h1v1h-1zM13 211h1v1h-1zM15 211h1v1h-1zM17 211h2v1h-2zM25 211h1v1h-1zM2 212h2v1h-2zM7 212h1v1h-1zM0 213h1v1h-1zM24 213h2v1h-2zM3 214h2v1h-2zM8 214h2v1h-2zM12 214h1v1h-1zM19 214h1v1h-1zM5 215h1v1h-1zM10 215h2v1h-2zM7 216h1v1h-1zM9 216h1v1h-1zM8 217h1v1h-1zM4 218h1v1h-1zM7 218h1v1h-1zM10 218h1v1h-1zM13 218h1v1h-1zM15 218h1v1h-1zM20 218h1v1h-1zM25 218h2v1h-2zM17 219h2v1h-2zM23 219h1v1h-1zM25 219h1v1h-1zM12 220h1v1h-1zM15 220h3v1h-3zM8 221h1v1h-1zM11 221h1v1h-1zM21 221h1v1h-1zM5 222h1v1h-1zM8 225h1v1h-1zM14 225h1v1h-1zM0 226h1v1h-1zM14 226h1v1h-1zM0 227h1v1h-1zM8 227h1v1h-1zM15 227h1v1h-1zM1 228h1v1h-1zM16 228h1v1h-1zM25 228h1v1h-1zM12 229h1v1h-1zM14 229h1v1h-1zM24 229h2v1h-2zM43 229h1v1h-1zM5 230h1v1h-1zM7 230h1v1h-1zM11 230h1v1h-1zM15 230h1v1h-1zM17 230h1v1h-1zM25 230h1v1h-1zM2 231h1v1h-1zM26 231h1v1h-1zM12 232h1v1h-1zM14 232h1v1h-1zM16 232h1v1h-1zM23 232h1v1h-1zM5 233h2v1h-2zM10 233h2v1h-2zM23 233h1v1h-1zM0 234h1v1h-1zM13 236h1v1h-1zM32 236h1v1h-1zM36 236h1v1h-1zM2 237h1v1h-1zM12 237h2v1h-2zM37 237h1v1h-1zM2 238h1v1h-1zM14 238h1v1h-1zM12 239h3v1h-3zM18 239h1v1h-1zM24 239h1v1h-1zM0 240h1v1h-1zM6 240h2v1h-2zM10 240h1v1h-1zM0 241h1v1h-1zM12 241h1v1h-1zM14 241h1v1h-1zM22 241h1v1h-1zM24 241h1v1h-1zM1 242h1v1h-1zM15 242h2v1h-2zM25 242h1v1h-1zM0 243h1v1h-1zM2 243h1v1h-1zM9 243h1v1h-1zM11 243h1v1h-1zM13 243h1v1h-1zM2 244h1v1h-1zM4 244h1v1h-1zM6 244h1v1h-1zM10 244h1v1h-1zM14 244h1v1h-1zM16 244h1v1h-1zM23 244h1v1h-1zM28 244h1v1h-1z"/>
<path fill="#f6accd" d="M41 2h1v1h-1zM20 4h1v1h-1zM42 4h1v1h-1zM27 5h1v1h-1zM31 7h1v1h-1zM33 9h1v1h-1zM42 10h1v1h-1zM46 14h1v1h-1zM36 15h1v1h-1zM33 17h1v1h-1zM36 17h1v1h-1zM36 18h1v1h-1zM4 19h1v1h-1zM36 19h1v1h-1zM40 19h1v1h-1zM43 19h2v1h-2zM46 19h1v1h-1zM4 20h1v1h-1zM36 20h1v1h-1zM22 21h1v1h-1zM26 21h1v1h-1zM40 21h1v1h-1zM4 22h1v1h-1zM28 22h1v1h-1zM35 22h1v1h-1zM40 22h1v1h-1zM39 23h1v1h-1zM33 25h1v1h-1zM44 25h1v1h-1zM44 27h1v1h-1zM46 27h1v1h-1zM27 28h1v1h-1zM45 30h1v1h-1zM13 31h1v1h-1zM45 31h1v1h-1zM6 32h1v1h-1zM27 33h1v1h-1zM46 33h1v1h-1zM42 35h1v1h-1zM45 35h1v1h-1zM28 36h1v1h-1zM46 36h1v1h-1zM9 37h1v1h-1zM20 37h1v1h-1zM23 37h2v1h-2zM29 37h1v1h-1zM33 37h1v1h-1zM35 37h1v1h-1zM39 37h1v1h-1zM43 37h1v1h-1zM18 38h1v1h-1zM32 38h2v1h-2zM46 38h1v1h-1zM44 40h1v1h-1zM28 42h1v1h-1zM44 43h1v1h-1zM29 44h1v1h-1zM31 44h1v1h-1zM38 44h1v1h-1zM42 44h1v1h-1zM28 45h1v1h-1zM32 46h1v1h-1zM40 46h1v1h-1zM39 47h1v1h-1zM33 48h1v1h-1zM46 48h1v1h-1zM46 50h1v1h-1zM29 51h1v1h-1zM37 54h1v1h-1zM39 54h2v1h-2zM34 55h1v1h-1zM19 57h1v1h-1zM31 59h3v1h-3zM43 59h1v1h-1zM44 62h1v1h-1zM24 67h1v1h-1zM36 67h2v1h-2zM43 67h1v1h-1zM25 70h1v1h-1zM32 70h1v1h-1zM44 70h1v1h-1zM11 71h1v1h-1zM39 71h1v1h-1zM28 72h1v1h-1zM35 73h1v1h-1zM44 73h1v1h-1zM27 75h2v1h-2zM36 77h1v1h-1zM27 78h1v1h-1zM38 78h1v1h-1zM18 80h1v1h-1zM36 80h1v1h-1zM40 80h2v1h-2zM0 81h1v1h-1zM40 81h1v1h-1zM44 81h2v1h-2zM36 82h1v1h-1zM43 83h1v1h-1zM37 84h1v1h-1zM46 84h1v1h-1zM45 85h1v1h-1zM39 86h1v1h-1zM36 87h1v1h-1zM31 88h1v1h-1zM45 88h1v1h-1zM44 89h1v1h-1zM46 92h1v1h-1zM44 93h1v1h-1zM44 96h1v1h-1zM34 97h1v1h-1zM45 98h1v1h-1zM44 100h1v1h-1zM38 101h2v1h-2zM41 102h1v1h-1zM6 105h2v1h-2zM24 105h1v1h-1zM25 106h1v1h-1zM1 107h1v1h-1zM5 107h1v1h-1zM8 107h2v1h-2zM17 107h1v1h-1zM20 107h1v1h-1zM34 107h2v1h-2zM0 108h1v1h-1zM6 109h1v1h-1zM8 109h1v1h-1zM0 113h1v1h-1zM31 113h1v1h-1zM8 114h1v1h-1zM0 116h1v1h-1zM5 116h1v1h-1zM1 117h1v1h-1zM31 117h1v1h-1zM16 118h1v1h-1zM31 118h1v1h-1zM0 119h1v1h-1zM2 119h1v1h-1zM9 119h1v1h-1zM26 119h1v1h-1zM0 120h1v1h-1zM26 125h1v1h-1zM9 126h1v1h-1zM20 126h1v1h-1zM31 126h1v1h-1zM26 128h1v1h-1zM7 130h1v1h-1zM8 131h1v1h-1zM15 131h1v1h-1zM12 132h1v1h-1zM20 132h2v1h-2zM3 133h1v1h-1zM9 133h1v1h-1zM2 134h1v1h-1zM9 135h1v1h-1zM11 135h2v1h-2zM15 135h1v1h-1zM17 135h1v1h-1zM5 136h1v1h-1zM22 136h1v1h-1zM26 136h1v1h-1zM10 137h1v1h-1zM26 138h1v1h-1zM6 141h2v1h-2zM14 141h1v1h-1zM3 142h1v1h-1zM2 143h1v1h-1zM5 143h1v1h-1zM10 143h2v1h-2zM14 143h1v1h-1zM8 144h1v1h-1zM0 145h1v1h-1zM18 145h1v1h-1zM0 147h1v1h-1zM4 147h1v1h-1zM6 147h1v1h-1zM16 147h1v1h-1zM36 147h1v1h-1zM6 148h1v1h-1zM14 148h1v1h-1zM16 148h1v1h-1zM18 148h1v1h-1zM7 149h1v1h-1zM16 149h1v1h-1zM5 151h1v1h-1zM42 151h1v1h-1zM19 152h1v1h-1zM0 153h2v1h-2zM13 155h1v1h-1zM19 155h1v1h-1zM2 156h1v1h-1zM9 157h1v1h-1zM6 158h1v1h-1zM11 158h1v1h-1zM1 159h2v1h-2zM17 160h1v1h-1zM19 160h1v1h-1zM2 161h1v1h-1zM8 161h1v1h-1zM10 161h1v1h-1zM16 161h1v1h-1zM26 161h1v1h-1zM10 162h1v1h-1zM9 163h1v1h-1zM11 163h1v1h-1zM18 163h1v1h-1zM2 165h1v1h-1zM10 165h1v1h-1zM20 165h1v1h-1zM6 166h2v1h-2zM15 166h2v1h-2zM2 167h1v1h-1zM10 167h1v1h-1zM2 168h1v1h-1zM15 168h3v1h-3zM25 168h1v1h-1zM40 168h1v1h-1zM0 170h1v1h-1zM5 170h1v1h-1zM12 170h1v1h-1zM16 170h1v1h-1zM1 171h1v1h-1zM5 171h1v1h-1zM7 171h1v1h-1zM12 171h1v1h-1zM0 172h1v1h-1zM7 172h1v1h-1zM9 172h1v1h-1zM14 172h1v1h-1zM7 173h1v1h-1zM14 174h1v1h-1zM16 174h1v1h-1zM23 174h1v1h-1zM25 174h1v1h-1zM6 175h1v1h-1zM16 175h1v1h-1zM9 176h3v1h-3zM2 177h1v1h-1zM11 177h1v1h-1zM20 177h1v1h-1zM3 179h1v1h-1zM7 179h1v1h-1zM10 179h1v1h-1zM15 180h1v1h-1zM3 181h1v1h-1zM9 181h1v1h-1zM9 182h2v1h-2zM19 182h1v1h-1zM5 183h1v1h-1zM8 183h1v1h-1zM12 183h1v1h-1zM18 183h1v1h-1zM26 183h1v1h-1zM1 184h1v1h-1zM4 184h1v1h-1zM9 184h1v1h-1zM16 184h2v1h-2zM20 184h1v1h-1zM5 185h2v1h-2zM14 185h1v1h-1zM25 185h1v1h-1zM8 187h2v1h-2zM11 188h1v1h-1zM0 189h1v1h-1zM5 189h1v1h-1zM8 189h1v1h-1zM8 191h1v1h-1zM6 192h2v1h-2zM11 192h1v1h-1zM20 192h1v1h-1zM0 193h2v1h-2zM11 193h2v1h-2zM16 193h1v1h-1zM20 193h1v1h-1zM25 193h1v1h-1zM5 194h2v1h-2zM4 196h3v1h-3zM25 196h1v1h-1zM12 197h1v1h-1zM31 197h1v1h-1zM7 198h1v1h-1zM13 198h1v1h-1zM16 199h1v1h-1zM1 201h1v1h-1zM3 201h1v1h-1zM9 201h1v1h-1zM11 201h2v1h-2zM14 201h1v1h-1zM8 202h1v1h-1zM37 202h1v1h-1zM0 203h1v1h-1zM2 203h1v1h-1zM10 203h1v1h-1zM41 203h1v1h-1zM3 204h1v1h-1zM5 204h3v1h-3zM25 204h1v1h-1zM6 205h1v1h-1zM9 205h1v1h-1zM12 205h1v1h-1zM25 205h1v1h-1zM8 206h2v1h-2zM25 206h1v1h-1zM15 207h2v1h-2zM23 207h1v1h-1zM13 208h1v1h-1zM16 208h1v1h-1zM9 209h1v1h-1zM15 209h1v1h-1zM25 210h1v1h-1zM8 211h1v1h-1zM16 211h1v1h-1zM19 211h1v1h-1zM29 211h1v1h-1zM31 212h1v1h-1zM3 213h2v1h-2zM7 213h2v1h-2zM19 213h1v1h-1zM23 214h1v1h-1zM0 215h1v1h-1zM0 216h1v1h-1zM2 218h1v1h-1zM14 218h1v1h-1zM18 218h1v1h-1zM7 219h1v1h-1zM9 219h1v1h-1zM11 219h1v1h-1zM2 220h1v1h-1zM4 220h1v1h-1zM6 220h2v1h-2zM2 221h1v1h-1zM12 221h1v1h-1zM4 222h1v1h-1zM1 226h1v1h-1zM11 226h1v1h-1zM13 226h1v1h-1zM6 227h1v1h-1zM11 227h1v1h-1zM0 228h1v1h-1zM13 228h1v1h-1zM9 230h1v1h-1zM25 231h1v1h-1zM9 232h1v1h-1zM11 232h1v1h-1zM9 233h1v1h-1zM1 236h1v1h-1zM3 236h1v1h-1zM15 236h1v1h-1zM1 237h1v1h-1zM24 237h1v1h-1zM0 238h1v1h-1zM6 238h1v1h-1zM12 238h1v1h-1zM1 239h1v1h-1zM9 239h1v1h-1zM2 240h1v1h-1zM14 240h1v1h-1zM16 240h1v1h-1zM24 240h1v1h-1zM3 242h1v1h-1zM7 242h1v1h-1zM12 242h1v1h-1zM12 243h1v1h-1zM15 243h1v1h-1zM3 244h1v1h-1zM9 244h1v1h-1zM11 244h2v1h-2z"/>
<path fill="#f494bb" d="M32 4h1v1h-1zM1 5h1v1h-1zM42 8h1v1h-1zM42 11h1v1h-1zM42 12h1v1h-1zM38 16h1v1h-1zM31 18h1v1h-1zM38 18h1v1h-1zM4 21h1v1h-1zM27 21h2v1h-2zM36 21h1v1h-1zM35 23h1v1h-1zM46 25h1v1h-1zM46 28h1v1h-1zM33 30h1v1h-1zM27 32h1v1h-1zM33 32h1v1h-1zM32 33h1v1h-1zM39 36h1v1h-1zM27 37h1v1h-1zM34 37h1v1h-1zM37 37h2v1h-2zM40 38h1v1h-1zM31 42h2v1h-2zM37 44h1v1h-1zM39 44h1v1h-1zM44 44h1v1h-1zM46 44h1v1h-1zM44 46h2v1h-2zM27 50h1v1h-1zM27 53h1v1h-1zM44 53h1v1h-1zM46 53h1v1h-1zM44 56h1v1h-1zM46 57h1v1h-1zM44 58h1v1h-1zM45 61h1v1h-1zM46 62h1v1h-1zM45 66h1v1h-1zM31 68h1v1h-1zM45 69h1v1h-1zM46 71h1v1h-1zM36 73h1v1h-1zM39 73h1v1h-1zM44 74h1v1h-1zM29 75h1v1h-1zM39 75h1v1h-1zM37 80h1v1h-1zM42 80h1v1h-1zM44 80h1v1h-1zM35 82h1v1h-1zM44 82h1v1h-1zM35 83h1v1h-1zM45 83h2v1h-2zM44 87h1v1h-1zM46 88h1v1h-1zM35 89h1v1h-1zM45 89h1v1h-1zM44 90h1v1h-1zM45 91h2v1h-2zM33 93h1v1h-1zM44 94h1v1h-1zM31 96h1v1h-1zM31 98h1v1h-1zM27 100h1v1h-1zM41 100h1v1h-1zM43 101h1v1h-1zM44 102h1v1h-1zM30 104h1v1h-1zM34 104h1v1h-1zM0 105h1v1h-1zM40 105h1v1h-1zM7 107h1v1h-1zM36 107h1v1h-1zM0 109h1v1h-1zM9 109h1v1h-1zM14 109h1v1h-1zM0 110h1v1h-1zM5 113h1v1h-1zM7 114h1v1h-1zM9 114h1v1h-1zM4 115h1v1h-1zM7 119h1v1h-1zM0 122h1v1h-1zM8 122h1v1h-1zM26 123h1v1h-1zM22 127h1v1h-1zM28 127h1v1h-1zM26 129h1v1h-1zM14 130h1v1h-1zM16 130h1v1h-1zM2 131h1v1h-1zM0 132h1v1h-1zM14 132h1v1h-1zM8 134h1v1h-1zM10 135h1v1h-1zM10 138h1v1h-1zM1 142h1v1h-1zM1 144h1v1h-1zM10 145h1v1h-1zM12 145h2v1h-2zM5 147h1v1h-1zM20 148h1v1h-1zM5 149h1v1h-1zM8 149h1v1h-1zM11 149h1v1h-1zM5 158h1v1h-1zM10 158h1v1h-1zM2 160h1v1h-1zM5 160h2v1h-2zM21 160h1v1h-1zM0 161h2v1h-2zM25 161h1v1h-1zM7 162h1v1h-1zM9 162h1v1h-1zM10 163h1v1h-1zM4 164h1v1h-1zM4 165h1v1h-1zM7 165h1v1h-1zM15 165h1v1h-1zM4 168h1v1h-1zM8 168h2v1h-2zM4 170h1v1h-1zM6 171h1v1h-1zM9 171h1v1h-1zM11 171h1v1h-1zM8 172h1v1h-1zM9 173h1v1h-1zM4 174h2v1h-2zM10 174h1v1h-1zM17 174h1v1h-1zM24 174h1v1h-1zM8 175h1v1h-1zM10 175h1v1h-1zM24 175h1v1h-1zM8 176h1v1h-1zM12 176h1v1h-1zM4 177h2v1h-2zM7 177h1v1h-1zM12 177h1v1h-1zM9 179h1v1h-1zM11 179h1v1h-1zM10 181h2v1h-2zM13 181h1v1h-1zM16 182h1v1h-1zM7 183h1v1h-1zM23 183h1v1h-1zM0 184h1v1h-1zM8 184h1v1h-1zM13 184h1v1h-1zM27 184h1v1h-1zM2 185h1v1h-1zM4 185h1v1h-1zM10 185h1v1h-1zM23 185h1v1h-1zM1 187h1v1h-1zM4 187h1v1h-1zM6 187h2v1h-2zM7 188h1v1h-1zM13 188h1v1h-1zM2 189h1v1h-1zM9 191h1v1h-1zM14 191h1v1h-1zM16 191h1v1h-1zM12 192h1v1h-1zM25 192h1v1h-1zM8 193h1v1h-1zM15 193h1v1h-1zM24 193h1v1h-1zM0 195h1v1h-1zM3 195h1v1h-1zM10 196h1v1h-1zM6 199h2v1h-2zM15 199h1v1h-1zM24 199h1v1h-1zM8 201h1v1h-1zM10 201h1v1h-1zM2 202h1v1h-1zM7 202h1v1h-1zM24 202h1v1h-1zM8 203h1v1h-1zM14 203h1v1h-1zM2 204h1v1h-1zM0 205h1v1h-1zM2 205h1v1h-1zM5 205h1v1h-1zM11 205h1v1h-1zM17 205h1v1h-1zM10 206h1v1h-1zM14 206h1v1h-1zM16 206h1v1h-1zM24 207h1v1h-1zM14 208h1v1h-1zM0 209h1v1h-1zM7 209h2v1h-2zM19 209h1v1h-1zM23 209h1v1h-1zM16 210h2v1h-2zM10 211h1v1h-1zM14 211h1v1h-1zM1 212h1v1h-1zM2 213h1v1h-1zM17 213h1v1h-1zM11 214h1v1h-1zM24 214h1v1h-1zM1 216h1v1h-1zM8 218h1v1h-1zM19 218h1v1h-1zM2 219h1v1h-1zM8 219h1v1h-1zM10 219h1v1h-1zM5 220h1v1h-1zM1 221h1v1h-1zM4 221h1v1h-1zM13 221h1v1h-1zM9 225h1v1h-1zM1 227h1v1h-1zM6 228h1v1h-1zM8 228h2v1h-2zM11 228h2v1h-2zM12 230h1v1h-1zM14 230h1v1h-1zM19 236h1v1h-1zM14 237h1v1h-1zM13 238h1v1h-1zM24 238h1v1h-1zM0 239h1v1h-1zM5 239h1v1h-1zM8 239h1v1h-1zM10 239h1v1h-1zM4 240h1v1h-1zM25 240h1v1h-1zM2 242h1v1h-1zM5 242h1v1h-1zM0 244h1v1h-1z"/>
<path fill="#f27ca9" d="M41 8h1v1h-1zM32 9h1v1h-1zM43 9h1v1h-1zM41 12h1v1h-1zM37 17h1v1h-1zM37 20h2v1h-2zM41 20h1v1h-1zM39 21h1v1h-1zM37 23h1v1h-1zM40 23h1v1h-1zM45 26h1v1h-1zM45 27h1v1h-1zM45 29h1v1h-1zM32 32h1v1h-1zM27 35h1v1h-1zM46 35h1v1h-1zM45 36h1v1h-1zM44 37h1v1h-1zM27 38h1v1h-1zM27 39h1v1h-1zM46 40h1v1h-1zM46 42h1v1h-1zM37 43h1v1h-1zM40 43h1v1h-1zM45 43h1v1h-1zM33 44h2v1h-2zM45 44h1v1h-1zM39 46h1v1h-1zM40 47h1v1h-1zM28 49h1v1h-1zM19 51h1v1h-1zM44 51h1v1h-1zM45 52h1v1h-1zM44 60h1v1h-1zM44 65h1v1h-1zM46 68h1v1h-1zM43 70h1v1h-1zM45 71h1v1h-1zM15 73h1v1h-1zM45 79h1v1h-1zM38 80h1v1h-1zM44 85h1v1h-1zM46 93h1v1h-1zM31 95h1v1h-1zM45 96h2v1h-2zM0 100h1v1h-1zM45 100h1v1h-1zM46 102h1v1h-1zM0 107h1v1h-1zM13 111h1v1h-1zM0 114h1v1h-1zM30 116h1v1h-1zM0 117h1v1h-1zM0 121h1v1h-1zM26 121h1v1h-1zM26 126h1v1h-1zM26 135h1v1h-1zM0 141h1v1h-1zM0 142h1v1h-1zM2 142h1v1h-1zM16 143h1v1h-1zM2 144h1v1h-1zM1 145h1v1h-1zM12 148h1v1h-1zM26 148h1v1h-1zM4 149h1v1h-1zM6 151h1v1h-1zM4 158h1v1h-1zM3 160h1v1h-1zM9 161h1v1h-1zM20 162h1v1h-1zM5 164h1v1h-1zM6 165h1v1h-1zM8 165h1v1h-1zM8 166h2v1h-2zM20 168h1v1h-1zM2 171h3v1h-3zM6 173h1v1h-1zM8 173h1v1h-1zM6 174h1v1h-1zM9 174h1v1h-1zM19 174h2v1h-2zM4 180h1v1h-1zM6 180h1v1h-1zM5 181h1v1h-1zM8 181h1v1h-1zM19 181h1v1h-1zM4 182h1v1h-1zM1 183h1v1h-1zM6 184h2v1h-2zM11 184h1v1h-1zM9 185h1v1h-1zM24 185h1v1h-1zM12 191h1v1h-1zM8 192h2v1h-2zM24 194h1v1h-1zM2 200h1v1h-1zM6 200h1v1h-1zM2 201h1v1h-1zM4 201h1v1h-1zM24 201h1v1h-1zM0 202h1v1h-1zM6 202h1v1h-1zM18 202h1v1h-1zM12 203h2v1h-2zM25 203h1v1h-1zM4 204h1v1h-1zM26 204h1v1h-1zM3 205h1v1h-1zM15 206h1v1h-1zM7 207h1v1h-1zM5 209h1v1h-1zM2 211h1v1h-1zM12 211h1v1h-1zM20 211h1v1h-1zM7 214h1v1h-1zM2 216h1v1h-1zM6 218h1v1h-1zM9 218h1v1h-1zM11 218h1v1h-1zM16 218h2v1h-2zM4 219h3v1h-3zM24 220h1v1h-1zM9 221h1v1h-1zM10 225h1v1h-1zM7 228h1v1h-1zM10 228h1v1h-1zM16 229h1v1h-1zM20 236h2v1h-2zM15 239h1v1h-1zM4 242h1v1h-1zM6 242h1v1h-1zM14 242h1v1h-1zM13 244h1v1h-1z"/>
<path fill="#f06498" d="M7 1h1v1h-1zM41 3h1v1h-1zM41 13h1v1h-1zM36 16h2v1h-2zM38 17h1v1h-1zM39 18h1v1h-1zM37 21h2v1h-2zM37 22h3v1h-3zM4 24h1v1h-1zM46 29h1v1h-1zM46 31h1v1h-1zM4 33h1v1h-1zM36 37h1v1h-1zM27 40h1v1h-1zM39 45h1v1h-1zM4 47h1v1h-1zM45 47h1v1h-1zM45 50h1v1h-1zM27 52h2v1h-2zM19 53h1v1h-1zM28 53h1v1h-1zM44 63h1v1h-1zM41 75h1v1h-1zM37 77h1v1h-1zM36 83h1v1h-1zM34 93h1v1h-1zM45 93h1v1h-1zM6 103h1v1h-1zM30 107h1v1h-1zM8 119h1v1h-1zM31 119h1v1h-1zM2 141h1v1h-1zM26 141h1v1h-1zM26 142h1v1h-1zM26 143h1v1h-1zM26 144h1v1h-1zM26 145h1v1h-1zM20 155h1v1h-1zM12 160h1v1h-1zM11 165h1v1h-1zM14 165h1v1h-1zM6 177h1v1h-1zM4 181h1v1h-1zM7 181h1v1h-1zM21 181h1v1h-1zM0 183h1v1h-1zM12 184h1v1h-1zM7 185h1v1h-1zM2 187h1v1h-1zM12 188h1v1h-1zM6 193h2v1h-2zM9 193h2v1h-2zM25 201h1v1h-1zM5 202h1v1h-1zM4 205h1v1h-1zM6 209h1v1h-1zM11 211h1v1h-1zM6 213h1v1h-1zM12 218h1v1h-1zM0 236h1v1h-1z"/>
<path fill="#ec4c85" d="M41 1h1v1h-1zM41 7h1v1h-1zM40 18h1v1h-1zM39 20h1v1h-1zM36 23h1v1h-1zM45 28h1v1h-1zM45 32h1v1h-1zM4 34h1v1h-1zM45 37h2v1h-2zM27 41h1v1h-1zM14 45h1v1h-1zM37 47h1v1h-1zM27 51h1v1h-1zM45 51h1v1h-1zM19 52h1v1h-1zM46 54h1v1h-1zM45 55h1v1h-1zM46 58h1v1h-1zM44 59h1v1h-1zM44 64h2v1h-2zM31 67h1v1h-1zM40 68h1v1h-1zM45 74h1v1h-1zM45 75h1v1h-1zM31 76h1v1h-1zM46 85h1v1h-1zM45 90h1v1h-1zM46 97h1v1h-1zM46 98h1v1h-1zM31 100h1v1h-1zM45 102h1v1h-1zM30 105h1v1h-1zM26 134h1v1h-1zM0 144h1v1h-1zM26 149h1v1h-1zM4 160h1v1h-1zM13 165h1v1h-1zM8 171h1v1h-1zM5 184h1v1h-1zM0 187h1v1h-1zM10 192h1v1h-1zM4 194h1v1h-1zM9 203h1v1h-1zM10 221h1v1h-1zM2 236h1v1h-1z"/>
<path fill="#e83572" d="M41 0h1v1h-1zM42 9h1v1h-1zM46 30h1v1h-1zM46 32h1v1h-1zM45 34h1v1h-1zM45 38h1v1h-1zM27 42h1v1h-1zM40 44h1v1h-1zM37 45h2v1h-2zM40 45h1v1h-1zM27 48h1v1h-1zM27 49h1v1h-1zM45 53h1v1h-1zM27 56h1v1h-1zM45 58h1v1h-1zM45 62h1v1h-1zM45 65h1v1h-1zM44 67h2v1h-2zM45 73h1v1h-1zM46 74h1v1h-1zM31 77h1v1h-1zM31 87h1v1h-1zM46 90h1v1h-1zM45 95h1v1h-1zM30 102h1v1h-1zM14 104h1v1h-1zM26 147h1v1h-1zM5 154h1v1h-1zM12 165h1v1h-1zM6 181h1v1h-1zM4 193h1v1h-1zM24 209h1v1h-1z"/>
<path fill="#e41e60" d="M41 4h1v1h-1zM41 9h1v1h-1zM41 10h1v1h-1zM41 11h1v1h-1zM37 18h1v1h-1zM37 19h3v1h-3zM45 25h1v1h-1zM46 26h1v1h-1zM27 43h1v1h-1zM39 43h1v1h-1zM27 44h1v1h-1zM45 48h1v1h-1zM45 49h2v1h-2zM46 51h1v1h-1zM46 52h1v1h-1zM27 55h1v1h-1zM46 55h1v1h-1zM45 56h2v1h-2zM45 59h2v1h-2zM45 60h2v1h-2zM45 63h2v1h-2zM46 64h1v1h-1zM46 65h1v1h-1zM31 66h1v1h-1zM46 66h1v1h-1zM46 67h1v1h-1zM6 68h1v1h-1zM46 69h1v1h-1zM45 70h2v1h-2zM31 72h1v1h-1zM44 72h3v1h-3zM31 73h1v1h-1zM38 73h1v1h-1zM46 73h1v1h-1zM31 74h1v1h-1zM31 75h1v1h-1zM46 75h1v1h-1zM46 89h1v1h-1zM31 93h1v1h-1zM31 94h1v1h-1zM45 97h1v1h-1zM30 103h1v1h-1zM30 106h1v1h-1zM30 113h1v1h-1zM26 124h1v1h-1zM26 152h1v1h-1zM5 187h1v1h-1zM23 192h1v1h-1zM25 209h1v1h-1z"/>
</g>
<rect x="283.7" y="46.2" width="229.12" height="367.00" fill="none" stroke="#6f7f86" stroke-width="0.8"/>
<g shape-rendering="crispEdges"><rect x="283.70" y="24.3" width="4.92" height="5.2" fill="#a3c3d6"/><rect x="288.57" y="24.3" width="4.92" height="5.2" fill="#a3c3d6"/><rect x="293.45" y="24.3" width="4.92" height="5.2" fill="#a3c3d6"/><rect x="298.32" y="24.3" width="4.92" height="5.2" fill="#a3c3d6"/><rect x="303.20" y="24.3" width="4.92" height="5.2" fill="#a3c3d6"/><rect x="308.07" y="24.3" width="4.92" height="5.2" fill="#a3c3d6"/><rect x="312.95" y="24.3" width="4.92" height="5.2" fill="#a3c3d6"/><rect x="317.82" y="24.3" width="4.92" height="5.2" fill="#a3c3d6"/><rect x="322.70" y="24.3" width="4.92" height="5.2" fill="#a3c3d6"/><rect x="327.57" y="24.3" width="4.92" height="5.2" fill="#a3c3d6"/><rect x="332.45" y="24.3" width="4.92" height="5.2" fill="#a3c3d6"/><rect x="337.32" y="24.3" width="4.92" height="5.2" fill="#a3c3d6"/><rect x="342.20" y="24.3" width="4.92" height="5.2" fill="#a3c3d6"/><rect x="347.07" y="24.3" width="4.92" height="5.2" fill="#a3c3d6"/><rect x="351.95" y="24.3" width="4.92" height="5.2" fill="#a3c3d6"/><rect x="356.82" y="24.3" width="4.92" height="5.2" fill="#a3c3d6"/><rect x="361.70" y="24.3" width="4.92" height="5.2" fill="#a3c3d6"/><rect x="366.57" y="24.3" width="4.92" height="5.2" fill="#a3c3d6"/><rect x="371.45" y="24.3" width="4.92" height="5.2" fill="#a3c3d6"/><rect x="376.32" y="24.3" width="4.92" height="5.2" fill="#a3c3d6"/><rect x="381.20" y="24.3" width="4.92" height="5.2" fill="#a3c3d6"/><rect x="386.07" y="24.3" width="4.92" height="5.2" fill="#a3c3d6"/><rect x="390.95" y="24.3" width="4.92" height="5.2" fill="#a3c3d6"/><rect x="395.82" y="24.3" width="4.92" height="5.2" fill="#a3c3d6"/><rect x="400.70" y="24.3" width="4.92" height="5.2" fill="#a3c3d6"/><rect x="405.57" y="24.3" width="4.92" height="5.2" fill="#a3c3d6"/><rect x="410.45" y="24.3" width="4.92" height="5.2" fill="#a3c3d6"/><rect x="415.32" y="24.3" width="4.92" height="5.2" fill="#a8173f"/><rect x="420.20" y="24.3" width="4.92" height="5.2" fill="#a3c3d6"/><rect x="425.07" y="24.3" width="4.92" height="5.2" fill="#a3c3d6"/><rect x="429.95" y="24.3" width="4.92" height="5.2" fill="#a3c3d6"/><rect x="434.82" y="24.3" width="4.92" height="5.2" fill="#a8173f"/><rect x="439.70" y="24.3" width="4.92" height="5.2" fill="#a3c3d6"/><rect x="444.57" y="24.3" width="4.92" height="5.2" fill="#a8173f"/><rect x="449.45" y="24.3" width="4.92" height="5.2" fill="#a8173f"/><rect x="454.32" y="24.3" width="4.92" height="5.2" fill="#a3c3d6"/><rect x="459.20" y="24.3" width="4.92" height="5.2" fill="#a8173f"/><rect x="464.07" y="24.3" width="4.92" height="5.2" fill="#a8173f"/><rect x="468.95" y="24.3" width="4.92" height="5.2" fill="#a8173f"/><rect x="473.82" y="24.3" width="4.92" height="5.2" fill="#a8173f"/><rect x="478.70" y="24.3" width="4.92" height="5.2" fill="#a8173f"/><rect x="483.57" y="24.3" width="4.92" height="5.2" fill="#a8173f"/><rect x="488.45" y="24.3" width="4.92" height="5.2" fill="#a8173f"/><rect x="493.32" y="24.3" width="4.92" height="5.2" fill="#a3c3d6"/><rect x="498.20" y="24.3" width="4.92" height="5.2" fill="#a8173f"/><rect x="503.07" y="24.3" width="4.92" height="5.2" fill="#a8173f"/><rect x="507.95" y="24.3" width="4.92" height="5.2" fill="#a8173f"/></g>
<path d="M288.57 24.3v5.2M293.45 24.3v5.2M298.32 24.3v5.2M303.20 24.3v5.2M308.07 24.3v5.2M312.95 24.3v5.2M317.82 24.3v5.2M322.70 24.3v5.2M327.57 24.3v5.2M332.45 24.3v5.2M337.32 24.3v5.2M342.20 24.3v5.2M347.07 24.3v5.2M351.95 24.3v5.2M356.82 24.3v5.2M361.70 24.3v5.2M366.57 24.3v5.2M371.45 24.3v5.2M376.32 24.3v5.2M381.20 24.3v5.2M386.07 24.3v5.2M390.95 24.3v5.2M395.82 24.3v5.2M400.70 24.3v5.2M405.57 24.3v5.2M410.45 24.3v5.2M415.32 24.3v5.2M420.20 24.3v5.2M425.07 24.3v5.2M429.95 24.3v5.2M434.82 24.3v5.2M439.70 24.3v5.2M444.57 24.3v5.2M449.45 24.3v5.2M454.32 24.3v5.2M459.20 24.3v5.2M464.07 24.3v5.2M468.95 24.3v5.2M473.82 24.3v5.2M478.70 24.3v5.2M483.57 24.3v5.2M488.45 24.3v5.2M493.32 24.3v5.2M498.20 24.3v5.2M503.07 24.3v5.2M507.95 24.3v5.2" stroke="#fff" stroke-opacity="0.45" stroke-width="0.5"/>
<rect x="283.7" y="24.3" width="229.12" height="5.2" fill="none" stroke="#707a7e" stroke-width="0.7"/>
<g shape-rendering="crispEdges"><rect x="283.70" y="31.0" width="4.92" height="6.0" fill="#a6f06c"/><rect x="288.57" y="31.0" width="4.92" height="6.0" fill="#a6f06c"/><rect x="293.45" y="31.0" width="4.92" height="6.0" fill="#a6f06c"/><rect x="298.32" y="31.0" width="4.92" height="6.0" fill="#2fd02a"/><rect x="303.20" y="31.0" width="4.92" height="6.0" fill="#9ee3f0"/><rect x="308.07" y="31.0" width="4.92" height="6.0" fill="#a6f06c"/><rect x="312.95" y="31.0" width="4.92" height="6.0" fill="#a6f06c"/><rect x="317.82" y="31.0" width="4.92" height="6.0" fill="#a6f06c"/><rect x="322.70" y="31.0" width="4.92" height="6.0" fill="#a6f06c"/><rect x="327.57" y="31.0" width="4.92" height="6.0" fill="#a6f06c"/><rect x="332.45" y="31.0" width="4.92" height="6.0" fill="#a6f06c"/><rect x="337.32" y="31.0" width="4.92" height="6.0" fill="#a6f06c"/><rect x="342.20" y="31.0" width="4.92" height="6.0" fill="#2a7fe8"/><rect x="347.07" y="31.0" width="4.92" height="6.0" fill="#a6f06c"/><rect x="351.95" y="31.0" width="4.92" height="6.0" fill="#a6f06c"/><rect x="356.82" y="31.0" width="4.92" height="6.0" fill="#a6f06c"/><rect x="361.70" y="31.0" width="4.92" height="6.0" fill="#a6f06c"/><rect x="366.57" y="31.0" width="4.92" height="6.0" fill="#a6f06c"/><rect x="371.45" y="31.0" width="4.92" height="6.0" fill="#a6f06c"/><rect x="376.32" y="31.0" width="4.92" height="6.0" fill="#2fd02a"/><rect x="381.20" y="31.0" width="4.92" height="6.0" fill="#2fd02a"/><rect x="386.07" y="31.0" width="4.92" height="6.0" fill="#a6f06c"/><rect x="390.95" y="31.0" width="4.92" height="6.0" fill="#2fd02a"/><rect x="395.82" y="31.0" width="4.92" height="6.0" fill="#2fd02a"/><rect x="400.70" y="31.0" width="4.92" height="6.0" fill="#a6f06c"/><rect x="405.57" y="31.0" width="4.92" height="6.0" fill="#a6f06c"/><rect x="410.45" y="31.0" width="4.92" height="6.0" fill="#a6f06c"/><rect x="415.32" y="31.0" width="4.92" height="6.0" fill="#2a7fe8"/><rect x="420.20" y="31.0" width="4.92" height="6.0" fill="#9ee3f0"/><rect x="425.07" y="31.0" width="4.92" height="6.0" fill="#9ee3f0"/><rect x="429.95" y="31.0" width="4.92" height="6.0" fill="#9ee3f0"/><rect x="434.82" y="31.0" width="4.92" height="6.0" fill="#9ee3f0"/><rect x="439.70" y="31.0" width="4.92" height="6.0" fill="#9ee3f0"/><rect x="444.57" y="31.0" width="4.92" height="6.0" fill="#9ee3f0"/><rect x="449.45" y="31.0" width="4.92" height="6.0" fill="#2fd02a"/><rect x="454.32" y="31.0" width="4.92" height="6.0" fill="#a6f06c"/><rect x="459.20" y="31.0" width="4.92" height="6.0" fill="#a6f06c"/><rect x="464.07" y="31.0" width="4.92" height="6.0" fill="#a6f06c"/><rect x="468.95" y="31.0" width="4.92" height="6.0" fill="#2a7fe8"/><rect x="473.82" y="31.0" width="4.92" height="6.0" fill="#9ee3f0"/><rect x="478.70" y="31.0" width="4.92" height="6.0" fill="#9ee3f0"/><rect x="483.57" y="31.0" width="4.92" height="6.0" fill="#a6f06c"/><rect x="488.45" y="31.0" width="4.92" height="6.0" fill="#2a7fe8"/><rect x="493.32" y="31.0" width="4.92" height="6.0" fill="#a6f06c"/><rect x="498.20" y="31.0" width="4.92" height="6.0" fill="#2a7fe8"/><rect x="503.07" y="31.0" width="4.92" height="6.0" fill="#9ee3f0"/><rect x="507.95" y="31.0" width="4.92" height="6.0" fill="#2a7fe8"/></g>
<path d="M288.57 31.0v6.0M293.45 31.0v6.0M298.32 31.0v6.0M303.20 31.0v6.0M308.07 31.0v6.0M312.95 31.0v6.0M317.82 31.0v6.0M322.70 31.0v6.0M327.57 31.0v6.0M332.45 31.0v6.0M337.32 31.0v6.0M342.20 31.0v6.0M347.07 31.0v6.0M351.95 31.0v6.0M356.82 31.0v6.0M361.70 31.0v6.0M366.57 31.0v6.0M371.45 31.0v6.0M376.32 31.0v6.0M381.20 31.0v6.0M386.07 31.0v6.0M390.95 31.0v6.0M395.82 31.0v6.0M400.70 31.0v6.0M405.57 31.0v6.0M410.45 31.0v6.0M415.32 31.0v6.0M420.20 31.0v6.0M425.07 31.0v6.0M429.95 31.0v6.0M434.82 31.0v6.0M439.70 31.0v6.0M444.57 31.0v6.0M449.45 31.0v6.0M454.32 31.0v6.0M459.20 31.0v6.0M464.07 31.0v6.0M468.95 31.0v6.0M473.82 31.0v6.0M478.70 31.0v6.0M483.57 31.0v6.0M488.45 31.0v6.0M493.32 31.0v6.0M498.20 31.0v6.0M503.07 31.0v6.0M507.95 31.0v6.0" stroke="#fff" stroke-opacity="0.45" stroke-width="0.5"/>
<rect x="283.7" y="31.0" width="229.12" height="6.0" fill="none" stroke="#707a7e" stroke-width="0.7"/>
<g shape-rendering="crispEdges"><rect x="283.70" y="38.0" width="4.92" height="5.8" fill="#eef3f1"/><rect x="288.57" y="38.0" width="4.92" height="5.8" fill="#3f8fe8"/><rect x="293.45" y="38.0" width="4.92" height="5.8" fill="#eef3f1"/><rect x="298.32" y="38.0" width="4.92" height="5.8" fill="#eef3f1"/><rect x="303.20" y="38.0" width="4.92" height="5.8" fill="#6e7c7c"/><rect x="308.07" y="38.0" width="4.92" height="5.8" fill="#eef3f1"/><rect x="312.95" y="38.0" width="4.92" height="5.8" fill="#eef3f1"/><rect x="317.82" y="38.0" width="4.92" height="5.8" fill="#eef3f1"/><rect x="322.70" y="38.0" width="4.92" height="5.8" fill="#eef3f1"/><rect x="327.57" y="38.0" width="4.92" height="5.8" fill="#eef3f1"/><rect x="332.45" y="38.0" width="4.92" height="5.8" fill="#3f8fe8"/><rect x="337.32" y="38.0" width="4.92" height="5.8" fill="#eef3f1"/><rect x="342.20" y="38.0" width="4.92" height="5.8" fill="#eef3f1"/><rect x="347.07" y="38.0" width="4.92" height="5.8" fill="#3f8fe8"/><rect x="351.95" y="38.0" width="4.92" height="5.8" fill="#eef3f1"/><rect x="356.82" y="38.0" width="4.92" height="5.8" fill="#3f8fe8"/><rect x="361.70" y="38.0" width="4.92" height="5.8" fill="#34d61e"/><rect x="366.57" y="38.0" width="4.92" height="5.8" fill="#34d61e"/><rect x="371.45" y="38.0" width="4.92" height="5.8" fill="#34d61e"/><rect x="376.32" y="38.0" width="4.92" height="5.8" fill="#8a3ae6"/><rect x="381.20" y="38.0" width="4.92" height="5.8" fill="#eef3f1"/><rect x="386.07" y="38.0" width="4.92" height="5.8" fill="#3f8fe8"/><rect x="390.95" y="38.0" width="4.92" height="5.8" fill="#f0141e"/><rect x="395.82" y="38.0" width="4.92" height="5.8" fill="#34d61e"/><rect x="400.70" y="38.0" width="4.92" height="5.8" fill="#34d61e"/><rect x="405.57" y="38.0" width="4.92" height="5.8" fill="#34d61e"/><rect x="410.45" y="38.0" width="4.92" height="5.8" fill="#eef3f1"/><rect x="415.32" y="38.0" width="4.92" height="5.8" fill="#f0141e"/><rect x="420.20" y="38.0" width="4.92" height="5.8" fill="#6e7c7c"/><rect x="425.07" y="38.0" width="4.92" height="5.8" fill="#f0141e"/><rect x="429.95" y="38.0" width="4.92" height="5.8" fill="#6e7c7c"/><rect x="434.82" y="38.0" width="4.92" height="5.8" fill="#8a3ae6"/><rect x="439.70" y="38.0" width="4.92" height="5.8" fill="#6e7c7c"/><rect x="444.57" y="38.0" width="4.92" height="5.8" fill="#6e7c7c"/><rect x="449.45" y="38.0" width="4.92" height="5.8" fill="#8a3ae6"/><rect x="454.32" y="38.0" width="4.92" height="5.8" fill="#f0141e"/><rect x="459.20" y="38.0" width="4.92" height="5.8" fill="#f0141e"/><rect x="464.07" y="38.0" width="4.92" height="5.8" fill="#8a3ae6"/><rect x="468.95" y="38.0" width="4.92" height="5.8" fill="#f0141e"/><rect x="473.82" y="38.0" width="4.92" height="5.8" fill="#eef3f1"/><rect x="478.70" y="38.0" width="4.92" height="5.8" fill="#f0141e"/><rect x="483.57" y="38.0" width="4.92" height="5.8" fill="#8a3ae6"/><rect x="488.45" y="38.0" width="4.92" height="5.8" fill="#eef3f1"/><rect x="493.32" y="38.0" width="4.92" height="5.8" fill="#34d61e"/><rect x="498.20" y="38.0" width="4.92" height="5.8" fill="#f0141e"/><rect x="503.07" y="38.0" width="4.92" height="5.8" fill="#eef3f1"/><rect x="507.95" y="38.0" width="4.92" height="5.8" fill="#eef3f1"/></g>
<path d="M288.57 38.0v5.8M293.45 38.0v5.8M298.32 38.0v5.8M303.20 38.0v5.8M308.07 38.0v5.8M312.95 38.0v5.8M317.82 38.0v5.8M322.70 38.0v5.8M327.57 38.0v5.8M332.45 38.0v5.8M337.32 38.0v5.8M342.20 38.0v5.8M347.07 38.0v5.8M351.95 38.0v5.8M356.82 38.0v5.8M361.70 38.0v5.8M366.57 38.0v5.8M371.45 38.0v5.8M376.32 38.0v5.8M381.20 38.0v5.8M386.07 38.0v5.8M390.95 38.0v5.8M395.82 38.0v5.8M400.70 38.0v5.8M405.57 38.0v5.8M410.45 38.0v5.8M415.32 38.0v5.8M420.20 38.0v5.8M425.07 38.0v5.8M429.95 38.0v5.8M434.82 38.0v5.8M439.70 38.0v5.8M444.57 38.0v5.8M449.45 38.0v5.8M454.32 38.0v5.8M459.20 38.0v5.8M464.07 38.0v5.8M468.95 38.0v5.8M473.82 38.0v5.8M478.70 38.0v5.8M483.57 38.0v5.8M488.45 38.0v5.8M493.32 38.0v5.8M498.20 38.0v5.8M503.07 38.0v5.8M507.95 38.0v5.8" stroke="#fff" stroke-opacity="0.45" stroke-width="0.5"/>
<rect x="283.7" y="38.0" width="229.12" height="5.8" fill="none" stroke="#707a7e" stroke-width="0.7"/>
<text x="281.8" y="29.3" font-size="6.5" text-anchor="end" fill="#7a7a7a" stroke="#7a7a7a" stroke-width="0.12">P</text>
<text x="281.8" y="36.2" font-size="6.5" text-anchor="end" fill="#7a7a7a" stroke="#7a7a7a" stroke-width="0.12">I</text>
<text x="283.2" y="43.2" font-size="6.5" text-anchor="end" fill="#7a7a7a" stroke="#7a7a7a" stroke-width="0.12">M</text>
<path d="M291.0 24.0V20.5M295.9 24.0V20.5M291.0 20.5H295.9M286.1 24.0V19.5M293.4 20.5V19.5M286.1 19.5H293.4M300.8 24.0V19.5M305.6 24.0V19.5M300.8 19.5H305.6M289.8 19.5V17.5M303.2 19.5V17.5M289.8 17.5H303.2M310.5 24.0V19.5M315.4 24.0V19.5M310.5 19.5H315.4M320.3 24.0V20.0M325.1 24.0V20.0M320.3 20.0H325.1M312.9 19.5V18.0M322.7 20.0V18.0M312.9 18.0H322.7M330.0 24.0V19.5M334.9 24.0V19.5M330.0 19.5H334.9M339.8 24.0V20.0M344.6 24.0V20.0M339.8 20.0H344.6M332.4 19.5V18.5M342.2 20.0V18.5M332.4 18.5H342.2M317.8 18.0V16.0M337.3 18.5V16.0M317.8 16.0H337.3M296.5 17.5V15.4M327.6 16.0V15.4M296.5 15.4H327.6M349.5 24.0V20.0M354.4 24.0V20.0M349.5 20.0H354.4M359.3 24.0V19.5M364.1 24.0V19.5M359.3 19.5H364.1M351.9 20.0V18.5M361.7 19.5V18.5M351.9 18.5H361.7M369.0 24.0V19.8M373.9 24.0V19.8M369.0 19.8H373.9M378.8 24.0V20.3M383.6 24.0V20.3M378.8 20.3H383.6M371.4 19.8V18.0M381.2 20.3V18.0M371.4 18.0H381.2M356.8 18.5V16.8M376.3 18.0V16.8M356.8 16.8H376.3M388.5 24.0V20.0M393.4 24.0V20.0M388.5 20.0H393.4M390.9 20.0V19.0M398.3 24.0V19.0M390.9 19.0H398.3M403.1 24.0V20.2M408.0 24.0V20.2M403.1 20.2H408.0M405.6 20.2V18.8M412.9 24.0V18.8M405.6 18.8H412.9M394.6 19.0V17.2M409.2 18.8V17.2M394.6 17.2H409.2M366.6 16.8V15.8M401.9 17.2V15.8M366.6 15.8H401.9M312.0 15.4V14.6M384.2 15.8V14.6M312.0 14.6H384.2M422.6 24.0V20.0M427.5 24.0V20.0M422.6 20.0H427.5M417.8 24.0V19.2M425.1 20.0V19.2M417.8 19.2H425.1M432.4 24.0V20.3M437.3 24.0V20.3M432.4 20.3H437.3M434.8 20.3V19.0M442.1 24.0V19.0M434.8 19.0H442.1M421.4 19.2V17.5M438.5 19.0V17.5M421.4 17.5H438.5M447.0 24.0V20.0M451.9 24.0V20.0M447.0 20.0H451.9M456.8 24.0V19.5M461.6 24.0V19.5M456.8 19.5H461.6M449.4 20.0V18.5M459.2 19.5V18.5M449.4 18.5H459.2M466.5 24.0V20.0M471.4 24.0V20.0M466.5 20.0H471.4M476.3 24.0V20.5M481.1 24.0V20.5M476.3 20.5H481.1M468.9 20.0V18.2M478.7 20.5V18.2M468.9 18.2H478.7M454.3 18.5V16.5M473.8 18.2V16.5M454.3 16.5H473.8M486.0 24.0V20.2M490.9 24.0V20.2M486.0 20.2H490.9M488.4 20.2V19.5M495.8 24.0V19.5M488.4 19.5H495.8M492.1 19.5V17.0M492.1 17.0H492.1M464.1 16.5V15.9M492.1 17.0V15.9M464.1 15.9H492.1M429.9 17.5V15.2M478.1 15.9V15.2M429.9 15.2H478.1M348.1 14.6V14.2M454.0 15.2V14.2M348.1 14.2H454.0M505.5 24.0V17.0M510.4 24.0V17.0M505.5 17.0H510.4M500.6 24.0V14.4M507.9 17.0V14.4M500.6 14.4H507.9M412.5 14.2V12.0M506.9 14.4V12.0M412.5 12.0H506.9" stroke="#4d5558" stroke-width="0.8" fill="none"/>
<text x="285.1" y="421.6" font-size="7.4" font-weight="bold" fill="#111" stroke="#111" stroke-width="0.3" textLength="19.1" lengthAdjust="spacingAndGlyphs">PRC2</text>
<rect x="285" y="425" width="7.5" height="7.3" fill="#a3c3d6"/><rect x="285" y="433" width="7.5" height="7.3" fill="#a8173f"/>
<text x="293.9" y="431.4" font-size="7.7" fill="#555" stroke="#555" stroke-width="0.12" textLength="12.7" lengthAdjust="spacingAndGlyphs">WT</text>
<text x="293.9" y="439.4" font-size="7.7" fill="#555" stroke="#555" stroke-width="0.12" textLength="26.5" lengthAdjust="spacingAndGlyphs">Altered</text>
<text x="329.7" y="421.6" font-size="7.4" font-weight="bold" fill="#111" stroke="#111" stroke-width="0.3" textLength="70.8" lengthAdjust="spacingAndGlyphs">Immunophenotype</text>
<rect x="329.7" y="425" width="7.5" height="7.3" fill="#a6f06c"/><rect x="329.7" y="433" width="7.5" height="7.3" fill="#2fd02a"/>
<text x="338.4" y="431.4" font-size="7.7" fill="#555" stroke="#555" stroke-width="0.12" textLength="13.6" lengthAdjust="spacingAndGlyphs">ETP</text>
<text x="338.4" y="439.4" font-size="7.7" fill="#555" stroke="#555" stroke-width="0.12" textLength="33.5" lengthAdjust="spacingAndGlyphs">Immature</text>
<rect x="373.5" y="425" width="7.5" height="7.3" fill="#9ee3f0"/><rect x="373.5" y="433" width="7.5" height="7.3" fill="#2a7fe8"/>
<text x="382.3" y="431.4" font-size="7.7" fill="#555" stroke="#555" stroke-width="0.12" textLength="35.2" lengthAdjust="spacingAndGlyphs">αβ lineage</text>
<text x="382.3" y="439.4" font-size="7.7" fill="#555" stroke="#555" stroke-width="0.12" textLength="35.2" lengthAdjust="spacingAndGlyphs">γδ lineage</text>
<text x="426.4" y="421.6" font-size="7.4" font-weight="bold" fill="#111" stroke="#111" stroke-width="0.3" textLength="75" lengthAdjust="spacingAndGlyphs">Molecular subgroup</text>
<rect x="426.8" y="424.6" width="7.6" height="7.4" fill="#f0141e"/>
<text x="436.3" y="431.2" font-size="7.7" fill="#555" stroke="#555" stroke-width="0.12" textLength="21.75" lengthAdjust="spacingAndGlyphs">HOXA</text>
<rect x="426.8" y="433.0" width="7.6" height="7.4" fill="#34d61e"/>
<text x="436.3" y="439.6" font-size="7.7" fill="#555" stroke="#555" stroke-width="0.12" textLength="16.75" lengthAdjust="spacingAndGlyphs">TLX1</text>
<rect x="426.8" y="441.3" width="7.6" height="7.4" fill="#8a3ae6"/>
<text x="436.3" y="447.9" font-size="7.7" fill="#555" stroke="#555" stroke-width="0.12" textLength="17.5" lengthAdjust="spacingAndGlyphs">TLX3</text>
<rect x="426.8" y="449.7" width="7.6" height="7.4" fill="#3f8fe8"/>
<text x="436.3" y="456.3" font-size="7.7" fill="#555" stroke="#555" stroke-width="0.12" textLength="28.25" lengthAdjust="spacingAndGlyphs">SIL-TAL1</text>
<rect x="466.8" y="424.6" width="7.6" height="7.4" fill="#eef3f1"/>
<text x="476.3" y="431.2" font-size="7.7" fill="#555" stroke="#555" stroke-width="0.12" textLength="18.75" lengthAdjust="spacingAndGlyphs">None</text>
<rect x="466.8" y="433.0" width="7.6" height="7.4" fill="#6e7c7c"/>
<text x="476.3" y="439.6" font-size="7.7" fill="#555" stroke="#555" stroke-width="0.12" textLength="11.25" lengthAdjust="spacingAndGlyphs">ND</text>
<text x="293.8" y="453.4" font-size="7.2" font-weight="bold" fill="#111" stroke="#111" stroke-width="0.3" textLength="26" lengthAdjust="spacingAndGlyphs">Z score</text>
<defs><linearGradient id="zg"><stop offset="0" stop-color="#1e6fe6"/><stop offset="0.25" stop-color="#4b95f0"/><stop offset="0.5" stop-color="#ffffff"/><stop offset="0.72" stop-color="#f2578a"/><stop offset="0.85" stop-color="#ee1030"/><stop offset="1" stop-color="#e8001e"/></linearGradient></defs>
<rect x="285.5" y="455.2" width="42" height="5.4" fill="url(#zg)" stroke="#e8d9b8" stroke-width="0.4"/>
<text x="287.2" y="467.0" font-size="6.5" text-anchor="middle" fill="#555" stroke="#555" stroke-width="0.12">-10</text>
<text x="296.6" y="467.0" font-size="6.5" text-anchor="middle" fill="#555" stroke="#555" stroke-width="0.12">-5</text>
<text x="306.5" y="467.0" font-size="6.5" text-anchor="middle" fill="#555" stroke="#555" stroke-width="0.12">0</text>
<text x="316.6" y="467.0" font-size="6.5" text-anchor="middle" fill="#555" stroke="#555" stroke-width="0.12">5</text>
<text x="326.6" y="467.0" font-size="6.5" text-anchor="middle" fill="#555" stroke="#555" stroke-width="0.12">10</text>
<text x="262" y="15.9" font-size="10.4" font-weight="bold" stroke="#000" stroke-width="0.3" textLength="7" lengthAdjust="spacingAndGlyphs">B</text>
<text x="5.8" y="299.4" font-size="10.6" font-weight="bold" fill="#000" stroke="#000" stroke-width="0.3" textLength="8.0" lengthAdjust="spacingAndGlyphs">C</text>
<text x="117.1" y="305.7" font-size="7.5" text-anchor="middle" fill="#333" stroke="#333" stroke-width="0.14" textLength="38.3" lengthAdjust="spacingAndGlyphs">Enriched in</text>
<text x="116.9" y="314.7" font-size="7.5" text-anchor="middle" fill="#333" stroke="#333" stroke-width="0.14" textLength="32.8" lengthAdjust="spacingAndGlyphs">PRC2 WT</text>
<text x="166.1" y="305.7" font-size="7.5" text-anchor="middle" fill="#333" stroke="#333" stroke-width="0.14" textLength="38.8" lengthAdjust="spacingAndGlyphs">Enriched in</text>
<text x="166.2" y="314.7" font-size="7.5" text-anchor="middle" fill="#333" stroke="#333" stroke-width="0.14" textLength="45.0" lengthAdjust="spacingAndGlyphs">PRC2 altered</text>
<rect x="137" y="320.8" width="49.8" height="13" fill="#ee1118"/>
<rect x="137" y="335" width="53" height="13" fill="#ee1118"/>
<rect x="104.5" y="349.3" width="32.5" height="12" fill="#fad3d8"/>
<rect x="103.8" y="362.5" width="33.2" height="13.3" fill="#fad3d8"/>
<rect x="110.5" y="377" width="26.5" height="13" fill="#ee1118"/>
<rect x="98.8" y="318.8" width="96" height="72.8" fill="none" stroke="#000" stroke-width="1"/>
<path d="M137 318.8V391.6" stroke="#000" stroke-width="1"/>
<g stroke="#000" stroke-width="0.8"><path d="M96 325H98.8M96 343H98.8M96 355H98.8M96 369H98.8M96 384H98.8M106.7 391.6V394.3M137 391.6V394.3M165.4 391.6V394.3M194.2 391.6V394.3"/></g>
<text x="106.7" y="403.4" font-size="8.6" text-anchor="middle" fill="#333" stroke="#333" stroke-width="0.14" textLength="6.2" lengthAdjust="spacingAndGlyphs">-1</text>
<text x="136.9" y="403.4" font-size="8.6" text-anchor="middle" fill="#333" stroke="#333" stroke-width="0.14" textLength="4.6" lengthAdjust="spacingAndGlyphs">0</text>
<text x="165.4" y="403.4" font-size="8.6" text-anchor="middle" fill="#333" stroke="#333" stroke-width="0.14" textLength="3.5" lengthAdjust="spacingAndGlyphs">1</text>
<text x="194.2" y="403.4" font-size="8.6" text-anchor="middle" fill="#333" stroke="#333" stroke-width="0.14" textLength="4.6" lengthAdjust="spacingAndGlyphs">2</text>
<text x="147.1" y="412.0" font-size="9.2" text-anchor="middle" fill="#333" stroke="#333" stroke-width="0.14" textLength="13.4" lengthAdjust="spacingAndGlyphs">NES</text>
<text x="95.2" y="323.2" font-size="6.2" text-anchor="end" fill="#333" stroke="#333" stroke-width="0.14" textLength="57.3" lengthAdjust="spacingAndGlyphs">Hallmark interferon</text>
<text x="93.3" y="331.4" font-size="6.2" text-anchor="end" fill="#333" stroke="#333" stroke-width="0.14" textLength="52.9" lengthAdjust="spacingAndGlyphs">Gamma responce</text>
<text x="95.2" y="339.5" font-size="6.2" text-anchor="end" fill="#333" stroke="#333" stroke-width="0.14" textLength="57.3" lengthAdjust="spacingAndGlyphs">Hallmark interferon</text>
<text x="93.7" y="348.2" font-size="6.2" text-anchor="end" fill="#333" stroke="#333" stroke-width="0.14" textLength="47.5" lengthAdjust="spacingAndGlyphs">Alpha responce</text>
<text x="95.2" y="357.0" font-size="6.2" text-anchor="end" fill="#333" stroke="#333" stroke-width="0.14" textLength="77.5" lengthAdjust="spacingAndGlyphs">Hallmark G2M checkpoint</text>
<text x="95.2" y="371.2" font-size="6.2" text-anchor="end" fill="#333" stroke="#333" stroke-width="0.14" textLength="61.5" lengthAdjust="spacingAndGlyphs">Hallmark E2F targets</text>
<text x="95.2" y="386.2" font-size="6.2" text-anchor="end" fill="#333" stroke="#333" stroke-width="0.14" textLength="79.2" lengthAdjust="spacingAndGlyphs">BENPORATH PRC2 targets</text>
<text x="196.4" y="326" font-size="6.6" fill="#333" stroke="#333" stroke-width="0.1" textLength="30" lengthAdjust="spacingAndGlyphs">-Log<tspan font-size="3.8" dy="1.4">10</tspan><tspan dy="-1.4"> FDR</tspan></text>
<defs><linearGradient id="fdr" x1="0" y1="0" x2="0" y2="1"><stop offset="0" stop-color="#f60c0c"/><stop offset="0.45" stop-color="#f86a6e"/><stop offset="1" stop-color="#fde4e7"/></linearGradient></defs>
<rect x="199" y="332.6" width="9.2" height="35.8" fill="url(#fdr)"/>
<text x="210.5" y="335.6" font-size="6.6" fill="#333" stroke="#333" stroke-width="0.12">7</text>
<text x="210.5" y="344.4" font-size="6.6" fill="#333" stroke="#333" stroke-width="0.12">6</text>
<text x="210.5" y="353.2" font-size="6.6" fill="#333" stroke="#333" stroke-width="0.12">5</text>
<text x="210.5" y="362.0" font-size="6.6" fill="#333" stroke="#333" stroke-width="0.12">4</text>
<text x="210.5" y="370.8" font-size="6.6" fill="#333" stroke="#333" stroke-width="0.12">3</text>
<text x="6.2" y="488.0" font-size="10.8" font-weight="bold" fill="#000" stroke="#000" stroke-width="0.3" textLength="8.2" lengthAdjust="spacingAndGlyphs">D</text>
<rect x="70.3" y="499" width="49.2" height="49" fill="none" stroke="#000" stroke-width="1"/>
<rect x="70.3" y="553.3" width="49.2" height="58" fill="none" stroke="#000" stroke-width="1"/>
<text x="64.2" y="509.8" font-size="6.1" text-anchor="end" fill="#333" stroke="#333" stroke-width="0.14" textLength="29.5" lengthAdjust="spacingAndGlyphs">H3K4me1</text>
<text x="64.2" y="523.3" font-size="6.1" text-anchor="end" fill="#333" stroke="#333" stroke-width="0.14" textLength="33.3" lengthAdjust="spacingAndGlyphs">H3K27me3</text>
<text x="64.2" y="536.4" font-size="6.1" text-anchor="end" fill="#333" stroke="#333" stroke-width="0.14" textLength="33.3" lengthAdjust="spacingAndGlyphs">H3K36me3</text>
<text x="64.2" y="564.3" font-size="6.1" text-anchor="end" fill="#333" stroke="#333" stroke-width="0.14" textLength="25.5" lengthAdjust="spacingAndGlyphs">TET1 OE</text>
<text x="64.2" y="578.5" font-size="6.1" text-anchor="end" fill="#333" stroke="#333" stroke-width="0.14" textLength="33.3" lengthAdjust="spacingAndGlyphs">HOXA9 OE</text>
<text x="64.2" y="592.5" font-size="6.1" text-anchor="end" fill="#333" stroke="#333" stroke-width="0.14" textLength="38.7" lengthAdjust="spacingAndGlyphs">SUZ12 CHEA</text>
<text x="64.2" y="606.4" font-size="6.1" text-anchor="end" fill="#333" stroke="#333" stroke-width="0.14" textLength="52.2" lengthAdjust="spacingAndGlyphs">FOXM1 ENCODE</text>
<text x="95.0" y="619.3" font-size="6.2" text-anchor="middle" fill="#333" stroke="#333" stroke-width="0.14" textLength="27.5" lengthAdjust="spacingAndGlyphs">Down up</text>
<circle cx="102.5" cy="507.6" r="1.5" fill="#fff" stroke="#000" stroke-width="0.8"/>
<circle cx="86.3" cy="521.3" r="4.3" fill="#dfe6e6" stroke="#000" stroke-width="0.8"/>
<circle cx="103.3" cy="535" r="5.8" fill="#4c5f63" stroke="#000" stroke-width="0.8"/>
<circle cx="103.3" cy="562.6" r="5.8" fill="#000" stroke="#000" stroke-width="0.8"/>
<circle cx="103.3" cy="577" r="5.8" fill="#000" stroke="#000" stroke-width="0.8"/>
<circle cx="86.3" cy="591" r="4.0" fill="#fff" stroke="#000" stroke-width="0.8"/>
<circle cx="86.3" cy="605.2" r="1.5" fill="#fff" stroke="#000" stroke-width="0.8"/>
<text x="126.4" y="492.3" font-size="6.2" fill="#333" stroke="#333" stroke-width="0.1" textLength="29.1" lengthAdjust="spacingAndGlyphs">-log<tspan font-size="3.6" dy="1.2">10</tspan><tspan dy="-1.2">padj</tspan></text>
<circle cx="133.7" cy="499.7" r="1.6" fill="#000"/>
<text x="143.0" y="501.9" font-size="6.3" fill="#333" stroke="#333" stroke-width="0.12">2</text>
<circle cx="133.7" cy="512.9" r="3.9" fill="#000"/>
<text x="143.0" y="515.1" font-size="6.3" fill="#333" stroke="#333" stroke-width="0.12">4</text>
<circle cx="133.7" cy="526" r="4.6" fill="#000"/>
<text x="143.0" y="528.2" font-size="6.3" fill="#333" stroke="#333" stroke-width="0.12">6</text>
<circle cx="133.7" cy="539" r="5.2" fill="#000"/>
<text x="143.0" y="541.2" font-size="6.3" fill="#333" stroke="#333" stroke-width="0.12">8</text>
<circle cx="133.7" cy="552.4" r="5.9" fill="#000"/>
<text x="141.6" y="554.6" font-size="6.3" fill="#333" stroke="#333" stroke-width="0.12">10</text>
<text x="125.8" y="569.4" font-size="6.3" fill="#333" stroke="#333" stroke-width="0.14" textLength="31.7" lengthAdjust="spacingAndGlyphs">Odds ratio</text>
<defs><linearGradient id="odr" x1="0" y1="0" x2="0" y2="1"><stop offset="0" stop-color="#000"/><stop offset="0.35" stop-color="#1a2a2d"/><stop offset="0.65" stop-color="#7c9497"/><stop offset="1" stop-color="#fafcfc"/></linearGradient></defs>
<rect x="132.6" y="574.8" width="7.7" height="38.4" fill="url(#odr)"/>
<text x="141.6" y="577.6" font-size="6.3" fill="#333" stroke="#333" stroke-width="0.12">8</text>
<text x="141.6" y="589.4" font-size="6.3" fill="#333" stroke="#333" stroke-width="0.12">6</text>
<text x="141.6" y="601.9" font-size="6.3" fill="#333" stroke="#333" stroke-width="0.12">4</text>
<text x="141.6" y="614.3" font-size="6.3" fill="#333" stroke="#333" stroke-width="0.12">2</text>
<text x="170.8" y="487.1" font-size="9.7" font-weight="bold" fill="#000" stroke="#000" stroke-width="0.3" textLength="6.7" lengthAdjust="spacingAndGlyphs">E</text>
<g shape-rendering="crispEdges"><rect x="215.0" y="491.2" width="6.05" height="6.5" fill="#a3c3d6"/><rect x="221.0" y="491.2" width="6.05" height="6.5" fill="#a3c3d6"/><rect x="227.0" y="491.2" width="6.05" height="6.5" fill="#a3c3d6"/><rect x="233.0" y="491.2" width="6.05" height="6.5" fill="#a3c3d6"/><rect x="239.0" y="491.2" width="6.05" height="6.5" fill="#a3c3d6"/><rect x="245.0" y="491.2" width="6.05" height="6.5" fill="#a3c3d6"/><rect x="251.0" y="491.2" width="6.05" height="6.5" fill="#a3c3d6"/><rect x="257.0" y="491.2" width="6.05" height="6.5" fill="#a3c3d6"/><rect x="263.0" y="491.2" width="6.05" height="6.5" fill="#a3c3d6"/><rect x="269.0" y="491.2" width="6.05" height="6.5" fill="#a3c3d6"/><rect x="275.0" y="491.2" width="6.05" height="6.5" fill="#a3c3d6"/><rect x="281.0" y="491.2" width="6.05" height="6.5" fill="#a3c3d6"/><rect x="287.0" y="491.2" width="6.05" height="6.5" fill="#a3c3d6"/><rect x="293.0" y="491.2" width="6.05" height="6.5" fill="#a3c3d6"/><rect x="299.0" y="491.2" width="6.05" height="6.5" fill="#a3c3d6"/><rect x="305.0" y="491.2" width="6.05" height="6.5" fill="#a3c3d6"/><rect x="311.0" y="491.2" width="6.05" height="6.5" fill="#a3c3d6"/><rect x="317.0" y="491.2" width="6.05" height="6.5" fill="#a3c3d6"/><rect x="323.0" y="491.2" width="6.05" height="6.5" fill="#a3c3d6"/><rect x="329.0" y="491.2" width="6.05" height="6.5" fill="#a3c3d6"/><rect x="335.0" y="491.2" width="6.05" height="6.5" fill="#a3c3d6"/><rect x="341.0" y="491.2" width="6.05" height="6.5" fill="#a3c3d6"/><rect x="347.0" y="491.2" width="6.05" height="6.5" fill="#a3c3d6"/><rect x="353.0" y="491.2" width="6.05" height="6.5" fill="#a3c3d6"/><rect x="359.0" y="491.2" width="6.05" height="6.5" fill="#a3c3d6"/><rect x="365.0" y="491.2" width="6.05" height="6.5" fill="#a3c3d6"/><rect x="371.0" y="491.2" width="6.05" height="6.5" fill="#a3c3d6"/><rect x="377.0" y="491.2" width="6.05" height="6.5" fill="#a3c3d6"/><rect x="383.0" y="491.2" width="6.05" height="6.5" fill="#a3c3d6"/><rect x="389.0" y="491.2" width="6.05" height="6.5" fill="#a3c3d6"/><rect x="395.0" y="491.2" width="6.05" height="6.5" fill="#a3c3d6"/><rect x="401.0" y="491.2" width="6.05" height="6.5" fill="#a3c3d6"/><rect x="407.0" y="491.2" width="6.05" height="6.5" fill="#a3c3d6"/><rect x="413.0" y="491.2" width="6.05" height="6.5" fill="#a8173f"/><rect x="419.0" y="491.2" width="6.05" height="6.5" fill="#a8173f"/><rect x="425.0" y="491.2" width="6.05" height="6.5" fill="#a8173f"/><rect x="431.0" y="491.2" width="6.05" height="6.5" fill="#a8173f"/><rect x="437.0" y="491.2" width="6.05" height="6.5" fill="#a8173f"/><rect x="443.0" y="491.2" width="6.05" height="6.5" fill="#a8173f"/><rect x="449.0" y="491.2" width="6.05" height="6.5" fill="#a8173f"/><rect x="455.0" y="491.2" width="6.05" height="6.5" fill="#a8173f"/><rect x="461.0" y="491.2" width="6.05" height="6.5" fill="#a8173f"/><rect x="467.0" y="491.2" width="6.05" height="6.5" fill="#a8173f"/><rect x="473.0" y="491.2" width="6.05" height="6.5" fill="#a8173f"/><rect x="479.0" y="491.2" width="6.05" height="6.5" fill="#a8173f"/><rect x="485.0" y="491.2" width="6.05" height="6.5" fill="#a8173f"/><rect x="491.0" y="491.2" width="6.05" height="6.5" fill="#a8173f"/></g>
<path d="M221.0 491.2v6.5M227.0 491.2v6.5M233.0 491.2v6.5M239.0 491.2v6.5M245.0 491.2v6.5M251.0 491.2v6.5M257.0 491.2v6.5M263.0 491.2v6.5M269.0 491.2v6.5M275.0 491.2v6.5M281.0 491.2v6.5M287.0 491.2v6.5M293.0 491.2v6.5M299.0 491.2v6.5M305.0 491.2v6.5M311.0 491.2v6.5M317.0 491.2v6.5M323.0 491.2v6.5M329.0 491.2v6.5M335.0 491.2v6.5M341.0 491.2v6.5M347.0 491.2v6.5M353.0 491.2v6.5M359.0 491.2v6.5M365.0 491.2v6.5M371.0 491.2v6.5M377.0 491.2v6.5M383.0 491.2v6.5M389.0 491.2v6.5M395.0 491.2v6.5M401.0 491.2v6.5M407.0 491.2v6.5M413.0 491.2v6.5M419.0 491.2v6.5M425.0 491.2v6.5M431.0 491.2v6.5M437.0 491.2v6.5M443.0 491.2v6.5M449.0 491.2v6.5M455.0 491.2v6.5M461.0 491.2v6.5M467.0 491.2v6.5M473.0 491.2v6.5M479.0 491.2v6.5M485.0 491.2v6.5M491.0 491.2v6.5" stroke="#fff" stroke-opacity="0.5" stroke-width="0.6"/>
<rect x="215" y="491.2" width="282.0" height="6.5" fill="none" stroke="#666" stroke-width="0.6"/>
<g shape-rendering="crispEdges"><rect x="215.0" y="498.80" width="6" height="7.75" fill="#f5cf8a"/><rect x="221.0" y="498.80" width="6" height="7.75" fill="#c4f28a"/><rect x="227.0" y="498.80" width="6" height="7.75" fill="#f6f7a8"/><rect x="233.0" y="498.80" width="6" height="7.75" fill="#f2aa72"/><rect x="239.0" y="498.80" width="6" height="7.75" fill="#f6f7a8"/><rect x="245.0" y="498.80" width="6" height="7.75" fill="#f6f7a8"/><rect x="251.0" y="498.80" width="6" height="7.75" fill="#c4f28a"/><rect x="257.0" y="498.80" width="6" height="7.75" fill="#f5cf8a"/><rect x="263.0" y="498.80" width="6" height="7.75" fill="#f6f7a8"/><rect x="269.0" y="498.80" width="6" height="7.75" fill="#f5cf8a"/><rect x="275.0" y="498.80" width="6" height="7.75" fill="#f5cf8a"/><rect x="281.0" y="498.80" width="6" height="7.75" fill="#f5cf8a"/><rect x="287.0" y="498.80" width="6" height="7.75" fill="#f2aa72"/><rect x="293.0" y="498.80" width="6" height="7.75" fill="#f5cf8a"/><rect x="299.0" y="498.80" width="6" height="7.75" fill="#c4f28a"/><rect x="305.0" y="498.80" width="6" height="7.75" fill="#f6f7a8"/><rect x="311.0" y="498.80" width="6" height="7.75" fill="#f5cf8a"/><rect x="317.0" y="498.80" width="6" height="7.75" fill="#f5cf8a"/><rect x="323.0" y="498.80" width="6" height="7.75" fill="#c4f28a"/><rect x="329.0" y="498.80" width="6" height="7.75" fill="#f6f7a8"/><rect x="335.0" y="498.80" width="6" height="7.75" fill="#c4f28a"/><rect x="341.0" y="498.80" width="6" height="7.75" fill="#c4f28a"/><rect x="347.0" y="498.80" width="6" height="7.75" fill="#f6f7a8"/><rect x="353.0" y="498.80" width="6" height="7.75" fill="#f6f7a8"/><rect x="359.0" y="498.80" width="6" height="7.75" fill="#f6f7a8"/><rect x="365.0" y="498.80" width="6" height="7.75" fill="#f5cf8a"/><rect x="371.0" y="498.80" width="6" height="7.75" fill="#f6f7a8"/><rect x="377.0" y="498.80" width="6" height="7.75" fill="#c4f28a"/><rect x="383.0" y="498.80" width="6" height="7.75" fill="#f6f7a8"/><rect x="389.0" y="498.80" width="6" height="7.75" fill="#6fe04a"/><rect x="395.0" y="498.80" width="6" height="7.75" fill="#f2aa72"/><rect x="401.0" y="498.80" width="6" height="7.75" fill="#f6f7a8"/><rect x="407.0" y="498.80" width="6" height="7.75" fill="#c4f28a"/><rect x="413.0" y="498.80" width="6" height="7.75" fill="#c4f28a"/><rect x="419.0" y="498.80" width="6" height="7.75" fill="#6fe04a"/><rect x="425.0" y="498.80" width="6" height="7.75" fill="#f6f7a8"/><rect x="431.0" y="498.80" width="6" height="7.75" fill="#c4f28a"/><rect x="437.0" y="498.80" width="6" height="7.75" fill="#f6f7a8"/><rect x="443.0" y="498.80" width="6" height="7.75" fill="#f6f7a8"/><rect x="449.0" y="498.80" width="6" height="7.75" fill="#f6f7a8"/><rect x="455.0" y="498.80" width="6" height="7.75" fill="#f2aa72"/><rect x="461.0" y="498.80" width="6" height="7.75" fill="#f6f7a8"/><rect x="467.0" y="498.80" width="6" height="7.75" fill="#c4f28a"/><rect x="473.0" y="498.80" width="6" height="7.75" fill="#c4f28a"/><rect x="479.0" y="498.80" width="6" height="7.75" fill="#f6f7a8"/><rect x="485.0" y="498.80" width="6" height="7.75" fill="#c4f28a"/><rect x="491.0" y="498.80" width="6" height="7.75" fill="#f6f7a8"/><rect x="215.0" y="506.55" width="6" height="7.75" fill="#f5cf8a"/><rect x="221.0" y="506.55" width="6" height="7.75" fill="#c4f28a"/><rect x="227.0" y="506.55" width="6" height="7.75" fill="#f6f7a8"/><rect x="233.0" y="506.55" width="6" height="7.75" fill="#f2aa72"/><rect x="239.0" y="506.55" width="6" height="7.75" fill="#f6f7a8"/><rect x="245.0" y="506.55" width="6" height="7.75" fill="#f6f7a8"/><rect x="251.0" y="506.55" width="6" height="7.75" fill="#c4f28a"/><rect x="257.0" y="506.55" width="6" height="7.75" fill="#f6f7a8"/><rect x="263.0" y="506.55" width="6" height="7.75" fill="#6fe04a"/><rect x="269.0" y="506.55" width="6" height="7.75" fill="#f5cf8a"/><rect x="275.0" y="506.55" width="6" height="7.75" fill="#f5cf8a"/><rect x="281.0" y="506.55" width="6" height="7.75" fill="#ee6a52"/><rect x="287.0" y="506.55" width="6" height="7.75" fill="#f5cf8a"/><rect x="293.0" y="506.55" width="6" height="7.75" fill="#f6f7a8"/><rect x="299.0" y="506.55" width="6" height="7.75" fill="#c4f28a"/><rect x="305.0" y="506.55" width="6" height="7.75" fill="#f6f7a8"/><rect x="311.0" y="506.55" width="6" height="7.75" fill="#f6f7a8"/><rect x="317.0" y="506.55" width="6" height="7.75" fill="#c4f28a"/><rect x="323.0" y="506.55" width="6" height="7.75" fill="#f6f7a8"/><rect x="329.0" y="506.55" width="6" height="7.75" fill="#f6f7a8"/><rect x="335.0" y="506.55" width="6" height="7.75" fill="#f5cf8a"/><rect x="341.0" y="506.55" width="6" height="7.75" fill="#c4f28a"/><rect x="347.0" y="506.55" width="6" height="7.75" fill="#c4f28a"/><rect x="353.0" y="506.55" width="6" height="7.75" fill="#c4f28a"/><rect x="359.0" y="506.55" width="6" height="7.75" fill="#f6f7a8"/><rect x="365.0" y="506.55" width="6" height="7.75" fill="#f5cf8a"/><rect x="371.0" y="506.55" width="6" height="7.75" fill="#f6f7a8"/><rect x="377.0" y="506.55" width="6" height="7.75" fill="#f5cf8a"/><rect x="383.0" y="506.55" width="6" height="7.75" fill="#f6f7a8"/><rect x="389.0" y="506.55" width="6" height="7.75" fill="#c4f28a"/><rect x="395.0" y="506.55" width="6" height="7.75" fill="#f2aa72"/><rect x="401.0" y="506.55" width="6" height="7.75" fill="#c4f28a"/><rect x="407.0" y="506.55" width="6" height="7.75" fill="#f6f7a8"/><rect x="413.0" y="506.55" width="6" height="7.75" fill="#f2aa72"/><rect x="419.0" y="506.55" width="6" height="7.75" fill="#c4f28a"/><rect x="425.0" y="506.55" width="6" height="7.75" fill="#c4f28a"/><rect x="431.0" y="506.55" width="6" height="7.75" fill="#ee6a52"/><rect x="437.0" y="506.55" width="6" height="7.75" fill="#f5cf8a"/><rect x="443.0" y="506.55" width="6" height="7.75" fill="#f6f7a8"/><rect x="449.0" y="506.55" width="6" height="7.75" fill="#f6f7a8"/><rect x="455.0" y="506.55" width="6" height="7.75" fill="#f2aa72"/><rect x="461.0" y="506.55" width="6" height="7.75" fill="#f6f7a8"/><rect x="467.0" y="506.55" width="6" height="7.75" fill="#c4f28a"/><rect x="473.0" y="506.55" width="6" height="7.75" fill="#c4f28a"/><rect x="479.0" y="506.55" width="6" height="7.75" fill="#f5cf8a"/><rect x="485.0" y="506.55" width="6" height="7.75" fill="#c4f28a"/><rect x="491.0" y="506.55" width="6" height="7.75" fill="#f6f7a8"/><rect x="215.0" y="514.29" width="6" height="7.75" fill="#c4f28a"/><rect x="221.0" y="514.29" width="6" height="7.75" fill="#f6f7a8"/><rect x="227.0" y="514.29" width="6" height="7.75" fill="#c4f28a"/><rect x="233.0" y="514.29" width="6" height="7.75" fill="#f5cf8a"/><rect x="239.0" y="514.29" width="6" height="7.75" fill="#f6f7a8"/><rect x="245.0" y="514.29" width="6" height="7.75" fill="#ee6a52"/><rect x="251.0" y="514.29" width="6" height="7.75" fill="#f6f7a8"/><rect x="257.0" y="514.29" width="6" height="7.75" fill="#f6f7a8"/><rect x="263.0" y="514.29" width="6" height="7.75" fill="#c4f28a"/><rect x="269.0" y="514.29" width="6" height="7.75" fill="#f5cf8a"/><rect x="275.0" y="514.29" width="6" height="7.75" fill="#f6f7a8"/><rect x="281.0" y="514.29" width="6" height="7.75" fill="#f6f7a8"/><rect x="287.0" y="514.29" width="6" height="7.75" fill="#f2aa72"/><rect x="293.0" y="514.29" width="6" height="7.75" fill="#f6f7a8"/><rect x="299.0" y="514.29" width="6" height="7.75" fill="#c4f28a"/><rect x="305.0" y="514.29" width="6" height="7.75" fill="#f6f7a8"/><rect x="311.0" y="514.29" width="6" height="7.75" fill="#c4f28a"/><rect x="317.0" y="514.29" width="6" height="7.75" fill="#c4f28a"/><rect x="323.0" y="514.29" width="6" height="7.75" fill="#6fe04a"/><rect x="329.0" y="514.29" width="6" height="7.75" fill="#ee6a52"/><rect x="335.0" y="514.29" width="6" height="7.75" fill="#f6f7a8"/><rect x="341.0" y="514.29" width="6" height="7.75" fill="#f6f7a8"/><rect x="347.0" y="514.29" width="6" height="7.75" fill="#f6f7a8"/><rect x="353.0" y="514.29" width="6" height="7.75" fill="#f6f7a8"/><rect x="359.0" y="514.29" width="6" height="7.75" fill="#c4f28a"/><rect x="365.0" y="514.29" width="6" height="7.75" fill="#c4f28a"/><rect x="371.0" y="514.29" width="6" height="7.75" fill="#f6f7a8"/><rect x="377.0" y="514.29" width="6" height="7.75" fill="#f6f7a8"/><rect x="383.0" y="514.29" width="6" height="7.75" fill="#f6f7a8"/><rect x="389.0" y="514.29" width="6" height="7.75" fill="#f6f7a8"/><rect x="395.0" y="514.29" width="6" height="7.75" fill="#f2aa72"/><rect x="401.0" y="514.29" width="6" height="7.75" fill="#f6f7a8"/><rect x="407.0" y="514.29" width="6" height="7.75" fill="#f6f7a8"/><rect x="413.0" y="514.29" width="6" height="7.75" fill="#f5cf8a"/><rect x="419.0" y="514.29" width="6" height="7.75" fill="#f6f7a8"/><rect x="425.0" y="514.29" width="6" height="7.75" fill="#f2aa72"/><rect x="431.0" y="514.29" width="6" height="7.75" fill="#ee6a52"/><rect x="437.0" y="514.29" width="6" height="7.75" fill="#f5cf8a"/><rect x="443.0" y="514.29" width="6" height="7.75" fill="#f2aa72"/><rect x="449.0" y="514.29" width="6" height="7.75" fill="#f5cf8a"/><rect x="455.0" y="514.29" width="6" height="7.75" fill="#f6f7a8"/><rect x="461.0" y="514.29" width="6" height="7.75" fill="#f2aa72"/><rect x="467.0" y="514.29" width="6" height="7.75" fill="#f2aa72"/><rect x="473.0" y="514.29" width="6" height="7.75" fill="#f2aa72"/><rect x="479.0" y="514.29" width="6" height="7.75" fill="#f5cf8a"/><rect x="485.0" y="514.29" width="6" height="7.75" fill="#f6f7a8"/><rect x="491.0" y="514.29" width="6" height="7.75" fill="#f6f7a8"/><rect x="215.0" y="522.03" width="6" height="7.75" fill="#6fe04a"/><rect x="221.0" y="522.03" width="6" height="7.75" fill="#f6f7a8"/><rect x="227.0" y="522.03" width="6" height="7.75" fill="#f5cf8a"/><rect x="233.0" y="522.03" width="6" height="7.75" fill="#f6f7a8"/><rect x="239.0" y="522.03" width="6" height="7.75" fill="#f6f7a8"/><rect x="245.0" y="522.03" width="6" height="7.75" fill="#f5cf8a"/><rect x="251.0" y="522.03" width="6" height="7.75" fill="#c4f28a"/><rect x="257.0" y="522.03" width="6" height="7.75" fill="#f5cf8a"/><rect x="263.0" y="522.03" width="6" height="7.75" fill="#6fe04a"/><rect x="269.0" y="522.03" width="6" height="7.75" fill="#f5cf8a"/><rect x="275.0" y="522.03" width="6" height="7.75" fill="#f6f7a8"/><rect x="281.0" y="522.03" width="6" height="7.75" fill="#f2aa72"/><rect x="287.0" y="522.03" width="6" height="7.75" fill="#f5cf8a"/><rect x="293.0" y="522.03" width="6" height="7.75" fill="#f6f7a8"/><rect x="299.0" y="522.03" width="6" height="7.75" fill="#6fe04a"/><rect x="305.0" y="522.03" width="6" height="7.75" fill="#f6f7a8"/><rect x="311.0" y="522.03" width="6" height="7.75" fill="#c4f28a"/><rect x="317.0" y="522.03" width="6" height="7.75" fill="#f6f7a8"/><rect x="323.0" y="522.03" width="6" height="7.75" fill="#6fe04a"/><rect x="329.0" y="522.03" width="6" height="7.75" fill="#f5cf8a"/><rect x="335.0" y="522.03" width="6" height="7.75" fill="#f6f7a8"/><rect x="341.0" y="522.03" width="6" height="7.75" fill="#f6f7a8"/><rect x="347.0" y="522.03" width="6" height="7.75" fill="#f6f7a8"/><rect x="353.0" y="522.03" width="6" height="7.75" fill="#f6f7a8"/><rect x="359.0" y="522.03" width="6" height="7.75" fill="#f5cf8a"/><rect x="365.0" y="522.03" width="6" height="7.75" fill="#f5cf8a"/><rect x="371.0" y="522.03" width="6" height="7.75" fill="#f6f7a8"/><rect x="377.0" y="522.03" width="6" height="7.75" fill="#f5cf8a"/><rect x="383.0" y="522.03" width="6" height="7.75" fill="#c4f28a"/><rect x="389.0" y="522.03" width="6" height="7.75" fill="#f6f7a8"/><rect x="395.0" y="522.03" width="6" height="7.75" fill="#f2aa72"/><rect x="401.0" y="522.03" width="6" height="7.75" fill="#f6f7a8"/><rect x="407.0" y="522.03" width="6" height="7.75" fill="#f5cf8a"/><rect x="413.0" y="522.03" width="6" height="7.75" fill="#c4f28a"/><rect x="419.0" y="522.03" width="6" height="7.75" fill="#6fe04a"/><rect x="425.0" y="522.03" width="6" height="7.75" fill="#f5cf8a"/><rect x="431.0" y="522.03" width="6" height="7.75" fill="#f6f7a8"/><rect x="437.0" y="522.03" width="6" height="7.75" fill="#c4f28a"/><rect x="443.0" y="522.03" width="6" height="7.75" fill="#c4f28a"/><rect x="449.0" y="522.03" width="6" height="7.75" fill="#f6f7a8"/><rect x="455.0" y="522.03" width="6" height="7.75" fill="#f6f7a8"/><rect x="461.0" y="522.03" width="6" height="7.75" fill="#c4f28a"/><rect x="467.0" y="522.03" width="6" height="7.75" fill="#f6f7a8"/><rect x="473.0" y="522.03" width="6" height="7.75" fill="#c4f28a"/><rect x="479.0" y="522.03" width="6" height="7.75" fill="#f5cf8a"/><rect x="485.0" y="522.03" width="6" height="7.75" fill="#f6f7a8"/><rect x="491.0" y="522.03" width="6" height="7.75" fill="#f6f7a8"/><rect x="215.0" y="529.78" width="6" height="7.75" fill="#c4f28a"/><rect x="221.0" y="529.78" width="6" height="7.75" fill="#f6f7a8"/><rect x="227.0" y="529.78" width="6" height="7.75" fill="#f6f7a8"/><rect x="233.0" y="529.78" width="6" height="7.75" fill="#f2aa72"/><rect x="239.0" y="529.78" width="6" height="7.75" fill="#f6f7a8"/><rect x="245.0" y="529.78" width="6" height="7.75" fill="#f6f7a8"/><rect x="251.0" y="529.78" width="6" height="7.75" fill="#f6f7a8"/><rect x="257.0" y="529.78" width="6" height="7.75" fill="#f5cf8a"/><rect x="263.0" y="529.78" width="6" height="7.75" fill="#f6f7a8"/><rect x="269.0" y="529.78" width="6" height="7.75" fill="#f6f7a8"/><rect x="275.0" y="529.78" width="6" height="7.75" fill="#f5cf8a"/><rect x="281.0" y="529.78" width="6" height="7.75" fill="#ee6a52"/><rect x="287.0" y="529.78" width="6" height="7.75" fill="#f2aa72"/><rect x="293.0" y="529.78" width="6" height="7.75" fill="#f6f7a8"/><rect x="299.0" y="529.78" width="6" height="7.75" fill="#c4f28a"/><rect x="305.0" y="529.78" width="6" height="7.75" fill="#f6f7a8"/><rect x="311.0" y="529.78" width="6" height="7.75" fill="#f6f7a8"/><rect x="317.0" y="529.78" width="6" height="7.75" fill="#f6f7a8"/><rect x="323.0" y="529.78" width="6" height="7.75" fill="#c4f28a"/><rect x="329.0" y="529.78" width="6" height="7.75" fill="#f6f7a8"/><rect x="335.0" y="529.78" width="6" height="7.75" fill="#c4f28a"/><rect x="341.0" y="529.78" width="6" height="7.75" fill="#c4f28a"/><rect x="347.0" y="529.78" width="6" height="7.75" fill="#f6f7a8"/><rect x="353.0" y="529.78" width="6" height="7.75" fill="#c4f28a"/><rect x="359.0" y="529.78" width="6" height="7.75" fill="#f6f7a8"/><rect x="365.0" y="529.78" width="6" height="7.75" fill="#f6f7a8"/><rect x="371.0" y="529.78" width="6" height="7.75" fill="#f6f7a8"/><rect x="377.0" y="529.78" width="6" height="7.75" fill="#f6f7a8"/><rect x="383.0" y="529.78" width="6" height="7.75" fill="#c4f28a"/><rect x="389.0" y="529.78" width="6" height="7.75" fill="#f6f7a8"/><rect x="395.0" y="529.78" width="6" height="7.75" fill="#ee6a52"/><rect x="401.0" y="529.78" width="6" height="7.75" fill="#f6f7a8"/><rect x="407.0" y="529.78" width="6" height="7.75" fill="#f6f7a8"/><rect x="413.0" y="529.78" width="6" height="7.75" fill="#f6f7a8"/><rect x="419.0" y="529.78" width="6" height="7.75" fill="#c4f28a"/><rect x="425.0" y="529.78" width="6" height="7.75" fill="#f2aa72"/><rect x="431.0" y="529.78" width="6" height="7.75" fill="#f2aa72"/><rect x="437.0" y="529.78" width="6" height="7.75" fill="#f6f7a8"/><rect x="443.0" y="529.78" width="6" height="7.75" fill="#f6f7a8"/><rect x="449.0" y="529.78" width="6" height="7.75" fill="#c4f28a"/><rect x="455.0" y="529.78" width="6" height="7.75" fill="#ee6a52"/><rect x="461.0" y="529.78" width="6" height="7.75" fill="#f6f7a8"/><rect x="467.0" y="529.78" width="6" height="7.75" fill="#f6f7a8"/><rect x="473.0" y="529.78" width="6" height="7.75" fill="#f6f7a8"/><rect x="479.0" y="529.78" width="6" height="7.75" fill="#c4f28a"/><rect x="485.0" y="529.78" width="6" height="7.75" fill="#c4f28a"/><rect x="491.0" y="529.78" width="6" height="7.75" fill="#f6f7a8"/><rect x="215.0" y="537.52" width="6" height="7.75" fill="#c4f28a"/><rect x="221.0" y="537.52" width="6" height="7.75" fill="#f6f7a8"/><rect x="227.0" y="537.52" width="6" height="7.75" fill="#c4f28a"/><rect x="233.0" y="537.52" width="6" height="7.75" fill="#c4f28a"/><rect x="239.0" y="537.52" width="6" height="7.75" fill="#f5cf8a"/><rect x="245.0" y="537.52" width="6" height="7.75" fill="#f6f7a8"/><rect x="251.0" y="537.52" width="6" height="7.75" fill="#f6f7a8"/><rect x="257.0" y="537.52" width="6" height="7.75" fill="#f6f7a8"/><rect x="263.0" y="537.52" width="6" height="7.75" fill="#f5cf8a"/><rect x="269.0" y="537.52" width="6" height="7.75" fill="#c4f28a"/><rect x="275.0" y="537.52" width="6" height="7.75" fill="#f6f7a8"/><rect x="281.0" y="537.52" width="6" height="7.75" fill="#f6f7a8"/><rect x="287.0" y="537.52" width="6" height="7.75" fill="#c4f28a"/><rect x="293.0" y="537.52" width="6" height="7.75" fill="#c4f28a"/><rect x="299.0" y="537.52" width="6" height="7.75" fill="#f6f7a8"/><rect x="305.0" y="537.52" width="6" height="7.75" fill="#c4f28a"/><rect x="311.0" y="537.52" width="6" height="7.75" fill="#f6f7a8"/><rect x="317.0" y="537.52" width="6" height="7.75" fill="#f5cf8a"/><rect x="323.0" y="537.52" width="6" height="7.75" fill="#ee6a52"/><rect x="329.0" y="537.52" width="6" height="7.75" fill="#ee6a52"/><rect x="335.0" y="537.52" width="6" height="7.75" fill="#f2aa72"/><rect x="341.0" y="537.52" width="6" height="7.75" fill="#f2aa72"/><rect x="347.0" y="537.52" width="6" height="7.75" fill="#f6f7a8"/><rect x="353.0" y="537.52" width="6" height="7.75" fill="#f6f7a8"/><rect x="359.0" y="537.52" width="6" height="7.75" fill="#f6f7a8"/><rect x="365.0" y="537.52" width="6" height="7.75" fill="#f6f7a8"/><rect x="371.0" y="537.52" width="6" height="7.75" fill="#c4f28a"/><rect x="377.0" y="537.52" width="6" height="7.75" fill="#f6f7a8"/><rect x="383.0" y="537.52" width="6" height="7.75" fill="#f5cf8a"/><rect x="389.0" y="537.52" width="6" height="7.75" fill="#f6f7a8"/><rect x="395.0" y="537.52" width="6" height="7.75" fill="#f6f7a8"/><rect x="401.0" y="537.52" width="6" height="7.75" fill="#f6f7a8"/><rect x="407.0" y="537.52" width="6" height="7.75" fill="#f6f7a8"/><rect x="413.0" y="537.52" width="6" height="7.75" fill="#f6f7a8"/><rect x="419.0" y="537.52" width="6" height="7.75" fill="#f2aa72"/><rect x="425.0" y="537.52" width="6" height="7.75" fill="#ee6a52"/><rect x="431.0" y="537.52" width="6" height="7.75" fill="#f5cf8a"/><rect x="437.0" y="537.52" width="6" height="7.75" fill="#f2aa72"/><rect x="443.0" y="537.52" width="6" height="7.75" fill="#f5cf8a"/><rect x="449.0" y="537.52" width="6" height="7.75" fill="#f6f7a8"/><rect x="455.0" y="537.52" width="6" height="7.75" fill="#f5cf8a"/><rect x="461.0" y="537.52" width="6" height="7.75" fill="#6fe04a"/><rect x="467.0" y="537.52" width="6" height="7.75" fill="#f2aa72"/><rect x="473.0" y="537.52" width="6" height="7.75" fill="#c4f28a"/><rect x="479.0" y="537.52" width="6" height="7.75" fill="#f6f7a8"/><rect x="485.0" y="537.52" width="6" height="7.75" fill="#f5cf8a"/><rect x="491.0" y="537.52" width="6" height="7.75" fill="#f6f7a8"/><rect x="215.0" y="545.27" width="6" height="7.75" fill="#f6f7a8"/><rect x="221.0" y="545.27" width="6" height="7.75" fill="#f2aa72"/><rect x="227.0" y="545.27" width="6" height="7.75" fill="#f6f7a8"/><rect x="233.0" y="545.27" width="6" height="7.75" fill="#f5cf8a"/><rect x="239.0" y="545.27" width="6" height="7.75" fill="#f5cf8a"/><rect x="245.0" y="545.27" width="6" height="7.75" fill="#f5cf8a"/><rect x="251.0" y="545.27" width="6" height="7.75" fill="#f5cf8a"/><rect x="257.0" y="545.27" width="6" height="7.75" fill="#c4f28a"/><rect x="263.0" y="545.27" width="6" height="7.75" fill="#f5cf8a"/><rect x="269.0" y="545.27" width="6" height="7.75" fill="#f6f7a8"/><rect x="275.0" y="545.27" width="6" height="7.75" fill="#f6f7a8"/><rect x="281.0" y="545.27" width="6" height="7.75" fill="#f5cf8a"/><rect x="287.0" y="545.27" width="6" height="7.75" fill="#f2aa72"/><rect x="293.0" y="545.27" width="6" height="7.75" fill="#f5cf8a"/><rect x="299.0" y="545.27" width="6" height="7.75" fill="#f5cf8a"/><rect x="305.0" y="545.27" width="6" height="7.75" fill="#f6f7a8"/><rect x="311.0" y="545.27" width="6" height="7.75" fill="#f5cf8a"/><rect x="317.0" y="545.27" width="6" height="7.75" fill="#f6f7a8"/><rect x="323.0" y="545.27" width="6" height="7.75" fill="#6fe04a"/><rect x="329.0" y="545.27" width="6" height="7.75" fill="#f6f7a8"/><rect x="335.0" y="545.27" width="6" height="7.75" fill="#c4f28a"/><rect x="341.0" y="545.27" width="6" height="7.75" fill="#c4f28a"/><rect x="347.0" y="545.27" width="6" height="7.75" fill="#c4f28a"/><rect x="353.0" y="545.27" width="6" height="7.75" fill="#c4f28a"/><rect x="359.0" y="545.27" width="6" height="7.75" fill="#f5cf8a"/><rect x="365.0" y="545.27" width="6" height="7.75" fill="#f5cf8a"/><rect x="371.0" y="545.27" width="6" height="7.75" fill="#f6f7a8"/><rect x="377.0" y="545.27" width="6" height="7.75" fill="#f6f7a8"/><rect x="383.0" y="545.27" width="6" height="7.75" fill="#c4f28a"/><rect x="389.0" y="545.27" width="6" height="7.75" fill="#c4f28a"/><rect x="395.0" y="545.27" width="6" height="7.75" fill="#f2aa72"/><rect x="401.0" y="545.27" width="6" height="7.75" fill="#f6f7a8"/><rect x="407.0" y="545.27" width="6" height="7.75" fill="#f6f7a8"/><rect x="413.0" y="545.27" width="6" height="7.75" fill="#6fe04a"/><rect x="419.0" y="545.27" width="6" height="7.75" fill="#1fbf1f"/><rect x="425.0" y="545.27" width="6" height="7.75" fill="#c4f28a"/><rect x="431.0" y="545.27" width="6" height="7.75" fill="#c4f28a"/><rect x="437.0" y="545.27" width="6" height="7.75" fill="#f6f7a8"/><rect x="443.0" y="545.27" width="6" height="7.75" fill="#c4f28a"/><rect x="449.0" y="545.27" width="6" height="7.75" fill="#f6f7a8"/><rect x="455.0" y="545.27" width="6" height="7.75" fill="#f5cf8a"/><rect x="461.0" y="545.27" width="6" height="7.75" fill="#f6f7a8"/><rect x="467.0" y="545.27" width="6" height="7.75" fill="#c4f28a"/><rect x="473.0" y="545.27" width="6" height="7.75" fill="#c4f28a"/><rect x="479.0" y="545.27" width="6" height="7.75" fill="#f6f7a8"/><rect x="485.0" y="545.27" width="6" height="7.75" fill="#f2aa72"/><rect x="491.0" y="545.27" width="6" height="7.75" fill="#f6f7a8"/><rect x="215.0" y="553.01" width="6" height="7.75" fill="#c4f28a"/><rect x="221.0" y="553.01" width="6" height="7.75" fill="#f6f7a8"/><rect x="227.0" y="553.01" width="6" height="7.75" fill="#c4f28a"/><rect x="233.0" y="553.01" width="6" height="7.75" fill="#f5cf8a"/><rect x="239.0" y="553.01" width="6" height="7.75" fill="#f6f7a8"/><rect x="245.0" y="553.01" width="6" height="7.75" fill="#f6f7a8"/><rect x="251.0" y="553.01" width="6" height="7.75" fill="#f6f7a8"/><rect x="257.0" y="553.01" width="6" height="7.75" fill="#f5cf8a"/><rect x="263.0" y="553.01" width="6" height="7.75" fill="#f6f7a8"/><rect x="269.0" y="553.01" width="6" height="7.75" fill="#f6f7a8"/><rect x="275.0" y="553.01" width="6" height="7.75" fill="#ee6a52"/><rect x="281.0" y="553.01" width="6" height="7.75" fill="#f2aa72"/><rect x="287.0" y="553.01" width="6" height="7.75" fill="#f2aa72"/><rect x="293.0" y="553.01" width="6" height="7.75" fill="#f6f7a8"/><rect x="299.0" y="553.01" width="6" height="7.75" fill="#c4f28a"/><rect x="305.0" y="553.01" width="6" height="7.75" fill="#f6f7a8"/><rect x="311.0" y="553.01" width="6" height="7.75" fill="#f6f7a8"/><rect x="317.0" y="553.01" width="6" height="7.75" fill="#f6f7a8"/><rect x="323.0" y="553.01" width="6" height="7.75" fill="#c4f28a"/><rect x="329.0" y="553.01" width="6" height="7.75" fill="#c4f28a"/><rect x="335.0" y="553.01" width="6" height="7.75" fill="#c4f28a"/><rect x="341.0" y="553.01" width="6" height="7.75" fill="#f6f7a8"/><rect x="347.0" y="553.01" width="6" height="7.75" fill="#c4f28a"/><rect x="353.0" y="553.01" width="6" height="7.75" fill="#c4f28a"/><rect x="359.0" y="553.01" width="6" height="7.75" fill="#f5cf8a"/><rect x="365.0" y="553.01" width="6" height="7.75" fill="#f6f7a8"/><rect x="371.0" y="553.01" width="6" height="7.75" fill="#f6f7a8"/><rect x="377.0" y="553.01" width="6" height="7.75" fill="#c4f28a"/><rect x="383.0" y="553.01" width="6" height="7.75" fill="#c4f28a"/><rect x="389.0" y="553.01" width="6" height="7.75" fill="#f6f7a8"/><rect x="395.0" y="553.01" width="6" height="7.75" fill="#ee6a52"/><rect x="401.0" y="553.01" width="6" height="7.75" fill="#f6f7a8"/><rect x="407.0" y="553.01" width="6" height="7.75" fill="#f6f7a8"/><rect x="413.0" y="553.01" width="6" height="7.75" fill="#f6f7a8"/><rect x="419.0" y="553.01" width="6" height="7.75" fill="#f6f7a8"/><rect x="425.0" y="553.01" width="6" height="7.75" fill="#f5cf8a"/><rect x="431.0" y="553.01" width="6" height="7.75" fill="#f5cf8a"/><rect x="437.0" y="553.01" width="6" height="7.75" fill="#c4f28a"/><rect x="443.0" y="553.01" width="6" height="7.75" fill="#f6f7a8"/><rect x="449.0" y="553.01" width="6" height="7.75" fill="#c4f28a"/><rect x="455.0" y="553.01" width="6" height="7.75" fill="#ee6a52"/><rect x="461.0" y="553.01" width="6" height="7.75" fill="#f6f7a8"/><rect x="467.0" y="553.01" width="6" height="7.75" fill="#f6f7a8"/><rect x="473.0" y="553.01" width="6" height="7.75" fill="#f6f7a8"/><rect x="479.0" y="553.01" width="6" height="7.75" fill="#c4f28a"/><rect x="485.0" y="553.01" width="6" height="7.75" fill="#c4f28a"/><rect x="491.0" y="553.01" width="6" height="7.75" fill="#f6f7a8"/><rect x="215.0" y="560.76" width="6" height="7.75" fill="#f6f7a8"/><rect x="221.0" y="560.76" width="6" height="7.75" fill="#f6f7a8"/><rect x="227.0" y="560.76" width="6" height="7.75" fill="#f6f7a8"/><rect x="233.0" y="560.76" width="6" height="7.75" fill="#f5cf8a"/><rect x="239.0" y="560.76" width="6" height="7.75" fill="#f2aa72"/><rect x="245.0" y="560.76" width="6" height="7.75" fill="#f6f7a8"/><rect x="251.0" y="560.76" width="6" height="7.75" fill="#f6f7a8"/><rect x="257.0" y="560.76" width="6" height="7.75" fill="#f6f7a8"/><rect x="263.0" y="560.76" width="6" height="7.75" fill="#f6f7a8"/><rect x="269.0" y="560.76" width="6" height="7.75" fill="#f2aa72"/><rect x="275.0" y="560.76" width="6" height="7.75" fill="#ee6a52"/><rect x="281.0" y="560.76" width="6" height="7.75" fill="#f5cf8a"/><rect x="287.0" y="560.76" width="6" height="7.75" fill="#f6f7a8"/><rect x="293.0" y="560.76" width="6" height="7.75" fill="#f6f7a8"/><rect x="299.0" y="560.76" width="6" height="7.75" fill="#c4f28a"/><rect x="305.0" y="560.76" width="6" height="7.75" fill="#f6f7a8"/><rect x="311.0" y="560.76" width="6" height="7.75" fill="#f6f7a8"/><rect x="317.0" y="560.76" width="6" height="7.75" fill="#f6f7a8"/><rect x="323.0" y="560.76" width="6" height="7.75" fill="#f6f7a8"/><rect x="329.0" y="560.76" width="6" height="7.75" fill="#6fe04a"/><rect x="335.0" y="560.76" width="6" height="7.75" fill="#f6f7a8"/><rect x="341.0" y="560.76" width="6" height="7.75" fill="#6fe04a"/><rect x="347.0" y="560.76" width="6" height="7.75" fill="#f6f7a8"/><rect x="353.0" y="560.76" width="6" height="7.75" fill="#f6f7a8"/><rect x="359.0" y="560.76" width="6" height="7.75" fill="#f6f7a8"/><rect x="365.0" y="560.76" width="6" height="7.75" fill="#ee6a52"/><rect x="371.0" y="560.76" width="6" height="7.75" fill="#f6f7a8"/><rect x="377.0" y="560.76" width="6" height="7.75" fill="#f6f7a8"/><rect x="383.0" y="560.76" width="6" height="7.75" fill="#f5cf8a"/><rect x="389.0" y="560.76" width="6" height="7.75" fill="#f6f7a8"/><rect x="395.0" y="560.76" width="6" height="7.75" fill="#f6f7a8"/><rect x="401.0" y="560.76" width="6" height="7.75" fill="#f6f7a8"/><rect x="407.0" y="560.76" width="6" height="7.75" fill="#f6f7a8"/><rect x="413.0" y="560.76" width="6" height="7.75" fill="#c4f28a"/><rect x="419.0" y="560.76" width="6" height="7.75" fill="#c4f28a"/><rect x="425.0" y="560.76" width="6" height="7.75" fill="#f6f7a8"/><rect x="431.0" y="560.76" width="6" height="7.75" fill="#f5cf8a"/><rect x="437.0" y="560.76" width="6" height="7.75" fill="#f6f7a8"/><rect x="443.0" y="560.76" width="6" height="7.75" fill="#f6f7a8"/><rect x="449.0" y="560.76" width="6" height="7.75" fill="#f6f7a8"/><rect x="455.0" y="560.76" width="6" height="7.75" fill="#ee6a52"/><rect x="461.0" y="560.76" width="6" height="7.75" fill="#f5cf8a"/><rect x="467.0" y="560.76" width="6" height="7.75" fill="#f6f7a8"/><rect x="473.0" y="560.76" width="6" height="7.75" fill="#f6f7a8"/><rect x="479.0" y="560.76" width="6" height="7.75" fill="#f6f7a8"/><rect x="485.0" y="560.76" width="6" height="7.75" fill="#ee6a52"/><rect x="491.0" y="560.76" width="6" height="7.75" fill="#c4f28a"/><rect x="215.0" y="568.50" width="6" height="7.75" fill="#ee6a52"/><rect x="221.0" y="568.50" width="6" height="7.75" fill="#c4f28a"/><rect x="227.0" y="568.50" width="6" height="7.75" fill="#f6f7a8"/><rect x="233.0" y="568.50" width="6" height="7.75" fill="#f6f7a8"/><rect x="239.0" y="568.50" width="6" height="7.75" fill="#f6f7a8"/><rect x="245.0" y="568.50" width="6" height="7.75" fill="#f5cf8a"/><rect x="251.0" y="568.50" width="6" height="7.75" fill="#f6f7a8"/><rect x="257.0" y="568.50" width="6" height="7.75" fill="#f6f7a8"/><rect x="263.0" y="568.50" width="6" height="7.75" fill="#6fe04a"/><rect x="269.0" y="568.50" width="6" height="7.75" fill="#f5cf8a"/><rect x="275.0" y="568.50" width="6" height="7.75" fill="#f6f7a8"/><rect x="281.0" y="568.50" width="6" height="7.75" fill="#f6f7a8"/><rect x="287.0" y="568.50" width="6" height="7.75" fill="#f6f7a8"/><rect x="293.0" y="568.50" width="6" height="7.75" fill="#f6f7a8"/><rect x="299.0" y="568.50" width="6" height="7.75" fill="#f6f7a8"/><rect x="305.0" y="568.50" width="6" height="7.75" fill="#c4f28a"/><rect x="311.0" y="568.50" width="6" height="7.75" fill="#f6f7a8"/><rect x="317.0" y="568.50" width="6" height="7.75" fill="#f2aa72"/><rect x="323.0" y="568.50" width="6" height="7.75" fill="#f2aa72"/><rect x="329.0" y="568.50" width="6" height="7.75" fill="#f6f7a8"/><rect x="335.0" y="568.50" width="6" height="7.75" fill="#f6f7a8"/><rect x="341.0" y="568.50" width="6" height="7.75" fill="#f5cf8a"/><rect x="347.0" y="568.50" width="6" height="7.75" fill="#f6f7a8"/><rect x="353.0" y="568.50" width="6" height="7.75" fill="#f6f7a8"/><rect x="359.0" y="568.50" width="6" height="7.75" fill="#f6f7a8"/><rect x="365.0" y="568.50" width="6" height="7.75" fill="#f6f7a8"/><rect x="371.0" y="568.50" width="6" height="7.75" fill="#f5cf8a"/><rect x="377.0" y="568.50" width="6" height="7.75" fill="#6fe04a"/><rect x="383.0" y="568.50" width="6" height="7.75" fill="#f6f7a8"/><rect x="389.0" y="568.50" width="6" height="7.75" fill="#6fe04a"/><rect x="395.0" y="568.50" width="6" height="7.75" fill="#f6f7a8"/><rect x="401.0" y="568.50" width="6" height="7.75" fill="#f6f7a8"/><rect x="407.0" y="568.50" width="6" height="7.75" fill="#f6f7a8"/><rect x="413.0" y="568.50" width="6" height="7.75" fill="#f2aa72"/><rect x="419.0" y="568.50" width="6" height="7.75" fill="#f2aa72"/><rect x="425.0" y="568.50" width="6" height="7.75" fill="#f2aa72"/><rect x="431.0" y="568.50" width="6" height="7.75" fill="#f5cf8a"/><rect x="437.0" y="568.50" width="6" height="7.75" fill="#c4f28a"/><rect x="443.0" y="568.50" width="6" height="7.75" fill="#f6f7a8"/><rect x="449.0" y="568.50" width="6" height="7.75" fill="#f6f7a8"/><rect x="455.0" y="568.50" width="6" height="7.75" fill="#f5cf8a"/><rect x="461.0" y="568.50" width="6" height="7.75" fill="#f6f7a8"/><rect x="467.0" y="568.50" width="6" height="7.75" fill="#c4f28a"/><rect x="473.0" y="568.50" width="6" height="7.75" fill="#f6f7a8"/><rect x="479.0" y="568.50" width="6" height="7.75" fill="#f5cf8a"/><rect x="485.0" y="568.50" width="6" height="7.75" fill="#c4f28a"/><rect x="491.0" y="568.50" width="6" height="7.75" fill="#f6f7a8"/><rect x="215.0" y="576.25" width="6" height="7.75" fill="#f2aa72"/><rect x="221.0" y="576.25" width="6" height="7.75" fill="#c4f28a"/><rect x="227.0" y="576.25" width="6" height="7.75" fill="#c4f28a"/><rect x="233.0" y="576.25" width="6" height="7.75" fill="#f5cf8a"/><rect x="239.0" y="576.25" width="6" height="7.75" fill="#f6f7a8"/><rect x="245.0" y="576.25" width="6" height="7.75" fill="#c4f28a"/><rect x="251.0" y="576.25" width="6" height="7.75" fill="#6fe04a"/><rect x="257.0" y="576.25" width="6" height="7.75" fill="#f6f7a8"/><rect x="263.0" y="576.25" width="6" height="7.75" fill="#c4f28a"/><rect x="269.0" y="576.25" width="6" height="7.75" fill="#f5cf8a"/><rect x="275.0" y="576.25" width="6" height="7.75" fill="#f5cf8a"/><rect x="281.0" y="576.25" width="6" height="7.75" fill="#f6f7a8"/><rect x="287.0" y="576.25" width="6" height="7.75" fill="#f5cf8a"/><rect x="293.0" y="576.25" width="6" height="7.75" fill="#f6f7a8"/><rect x="299.0" y="576.25" width="6" height="7.75" fill="#f6f7a8"/><rect x="305.0" y="576.25" width="6" height="7.75" fill="#f6f7a8"/><rect x="311.0" y="576.25" width="6" height="7.75" fill="#f6f7a8"/><rect x="317.0" y="576.25" width="6" height="7.75" fill="#c4f28a"/><rect x="323.0" y="576.25" width="6" height="7.75" fill="#c4f28a"/><rect x="329.0" y="576.25" width="6" height="7.75" fill="#f2aa72"/><rect x="335.0" y="576.25" width="6" height="7.75" fill="#f6f7a8"/><rect x="341.0" y="576.25" width="6" height="7.75" fill="#c4f28a"/><rect x="347.0" y="576.25" width="6" height="7.75" fill="#f6f7a8"/><rect x="353.0" y="576.25" width="6" height="7.75" fill="#f6f7a8"/><rect x="359.0" y="576.25" width="6" height="7.75" fill="#f5cf8a"/><rect x="365.0" y="576.25" width="6" height="7.75" fill="#f6f7a8"/><rect x="371.0" y="576.25" width="6" height="7.75" fill="#f6f7a8"/><rect x="377.0" y="576.25" width="6" height="7.75" fill="#f5cf8a"/><rect x="383.0" y="576.25" width="6" height="7.75" fill="#f6f7a8"/><rect x="389.0" y="576.25" width="6" height="7.75" fill="#f6f7a8"/><rect x="395.0" y="576.25" width="6" height="7.75" fill="#f2aa72"/><rect x="401.0" y="576.25" width="6" height="7.75" fill="#f6f7a8"/><rect x="407.0" y="576.25" width="6" height="7.75" fill="#f2aa72"/><rect x="413.0" y="576.25" width="6" height="7.75" fill="#c4f28a"/><rect x="419.0" y="576.25" width="6" height="7.75" fill="#c4f28a"/><rect x="425.0" y="576.25" width="6" height="7.75" fill="#c4f28a"/><rect x="431.0" y="576.25" width="6" height="7.75" fill="#f6f7a8"/><rect x="437.0" y="576.25" width="6" height="7.75" fill="#f6f7a8"/><rect x="443.0" y="576.25" width="6" height="7.75" fill="#f6f7a8"/><rect x="449.0" y="576.25" width="6" height="7.75" fill="#f5cf8a"/><rect x="455.0" y="576.25" width="6" height="7.75" fill="#f5cf8a"/><rect x="461.0" y="576.25" width="6" height="7.75" fill="#f6f7a8"/><rect x="467.0" y="576.25" width="6" height="7.75" fill="#c4f28a"/><rect x="473.0" y="576.25" width="6" height="7.75" fill="#f6f7a8"/><rect x="479.0" y="576.25" width="6" height="7.75" fill="#f6f7a8"/><rect x="485.0" y="576.25" width="6" height="7.75" fill="#f6f7a8"/><rect x="491.0" y="576.25" width="6" height="7.75" fill="#f2aa72"/></g>
<path d="M221.0 498.8V584.00M227.0 498.8V584.00M233.0 498.8V584.00M239.0 498.8V584.00M245.0 498.8V584.00M251.0 498.8V584.00M257.0 498.8V584.00M263.0 498.8V584.00M269.0 498.8V584.00M275.0 498.8V584.00M281.0 498.8V584.00M287.0 498.8V584.00M293.0 498.8V584.00M299.0 498.8V584.00M305.0 498.8V584.00M311.0 498.8V584.00M317.0 498.8V584.00M323.0 498.8V584.00M329.0 498.8V584.00M335.0 498.8V584.00M341.0 498.8V584.00M347.0 498.8V584.00M353.0 498.8V584.00M359.0 498.8V584.00M365.0 498.8V584.00M371.0 498.8V584.00M377.0 498.8V584.00M383.0 498.8V584.00M389.0 498.8V584.00M395.0 498.8V584.00M401.0 498.8V584.00M407.0 498.8V584.00M413.0 498.8V584.00M419.0 498.8V584.00M425.0 498.8V584.00M431.0 498.8V584.00M437.0 498.8V584.00M443.0 498.8V584.00M449.0 498.8V584.00M455.0 498.8V584.00M461.0 498.8V584.00M467.0 498.8V584.00M473.0 498.8V584.00M479.0 498.8V584.00M485.0 498.8V584.00M491.0 498.8V584.00M215 506.55H497.0M215 514.29H497.0M215 522.03H497.0M215 529.78H497.0M215 537.52H497.0M215 545.27H497.0M215 553.01H497.0M215 560.76H497.0M215 568.50H497.0M215 576.25H497.0" stroke="#fff" stroke-opacity="0.7" stroke-width="0.8"/>
<rect x="215" y="498.8" width="282.0" height="85.20" fill="none" stroke="#8a8f8a" stroke-width="0.6"/>
<rect x="178" y="514.8" width="34.7" height="6.8" rx="2" fill="#f2876a"/>
<rect x="190" y="522.6" width="22.7" height="6.8" rx="2" fill="#8fe86a"/>
<rect x="191.8" y="546.2" width="20.9" height="6.9" rx="2" fill="#8fe86a"/>
<text x="211.4" y="505.2" font-size="7" text-anchor="end" fill="#333" stroke="#333" stroke-width="0.14" textLength="16.4" lengthAdjust="spacingAndGlyphs">EGFR</text>
<text x="211.4" y="512.9" font-size="7" text-anchor="end" fill="#333" stroke="#333" stroke-width="0.14" textLength="23.5" lengthAdjust="spacingAndGlyphs">Hypoxia</text>
<text x="211.4" y="520.7" font-size="7" text-anchor="end" fill="#333" stroke="#333" stroke-width="0.14" textLength="27.9" lengthAdjust="spacingAndGlyphs">JAK-STAT</text>
<text x="211.4" y="528.4" font-size="7" text-anchor="end" fill="#333" stroke="#333" stroke-width="0.14" textLength="17.7" lengthAdjust="spacingAndGlyphs">MAPK</text>
<text x="211.4" y="536.2" font-size="7" text-anchor="end" fill="#333" stroke="#333" stroke-width="0.14" textLength="15.8" lengthAdjust="spacingAndGlyphs">NFκB</text>
<text x="211.4" y="543.9" font-size="7" text-anchor="end" fill="#333" stroke="#333" stroke-width="0.14" textLength="13.5" lengthAdjust="spacingAndGlyphs">PI3K</text>
<text x="211.4" y="551.6" font-size="7" text-anchor="end" fill="#333" stroke="#333" stroke-width="0.14" textLength="16.0" lengthAdjust="spacingAndGlyphs">TGFβ</text>
<text x="211.4" y="559.4" font-size="7" text-anchor="end" fill="#333" stroke="#333" stroke-width="0.14" textLength="16.0" lengthAdjust="spacingAndGlyphs">TNFα</text>
<text x="211.4" y="567.1" font-size="7" text-anchor="end" fill="#333" stroke="#333" stroke-width="0.14" textLength="17.0" lengthAdjust="spacingAndGlyphs">TRAIL</text>
<text x="211.4" y="574.9" font-size="7" text-anchor="end" fill="#333" stroke="#333" stroke-width="0.14" textLength="17.0" lengthAdjust="spacingAndGlyphs">VEGF</text>
<text x="211.4" y="582.6" font-size="7" text-anchor="end" fill="#333" stroke="#333" stroke-width="0.14" textLength="11.9" lengthAdjust="spacingAndGlyphs">p53</text>
<text x="216.1" y="592.6" font-size="7.4" font-weight="bold" fill="#111" stroke="#111" stroke-width="0.3" textLength="19.4" lengthAdjust="spacingAndGlyphs">PRC2</text>
<rect x="216" y="595.8" width="7.5" height="8" fill="#a3c3d6"/><rect x="216" y="604.6" width="7.5" height="7.6" fill="#a8173f"/>
<text x="225.8" y="601.8" font-size="7.7" fill="#555" stroke="#555" stroke-width="0.14" textLength="12.7" lengthAdjust="spacingAndGlyphs">WT</text>
<text x="225.8" y="610.3" font-size="7.7" fill="#555" stroke="#555" stroke-width="0.14" textLength="26.5" lengthAdjust="spacingAndGlyphs">Altered</text>
<text x="269.2" y="594.9" font-size="7.5" font-weight="bold" fill="#111" stroke="#111" stroke-width="0.3" textLength="58.5" lengthAdjust="spacingAndGlyphs">PROGENy score</text>
<defs><linearGradient id="pg"><stop offset="0" stop-color="#1fc40e"/><stop offset="0.5" stop-color="#fbfba0"/><stop offset="1" stop-color="#e62a1e"/></linearGradient></defs>
<rect x="272.4" y="599.2" width="42.3" height="5.8" fill="url(#pg)" stroke="#aaa" stroke-width="0.3"/>
<text x="273.5" y="611.3" font-size="6.3" text-anchor="middle" fill="#555" stroke="#555" stroke-width="0.12">-4</text>
<text x="283.8" y="611.3" font-size="6.3" text-anchor="middle" fill="#555" stroke="#555" stroke-width="0.12">-2</text>
<text x="293.6" y="611.3" font-size="6.3" text-anchor="middle" fill="#555" stroke="#555" stroke-width="0.12">0</text>
<text x="303.8" y="611.3" font-size="6.3" text-anchor="middle" fill="#555" stroke="#555" stroke-width="0.12">2</text>
<text x="313.8" y="611.3" font-size="6.3" text-anchor="middle" fill="#555" stroke="#555" stroke-width="0.12">4</text>
<g stroke="#000" stroke-width="1.1" fill="none"><path d="M272.5 623.8V681.5M272.5 681.2H415.4M272.5 650.8H413.7"/>
<path d="M270.3 677.0H272.5M270.3 668.3H272.5M270.3 659.5H272.5M270.3 650.8H272.5M270.3 642.0H272.5M270.3 633.3H272.5M270.3 624.5H272.5M281.1 681.2V683.5M293.5 681.2V683.5M305.8 681.2V683.5M318.2 681.2V683.5M330.5 681.2V683.5M342.9 681.2V683.5M355.2 681.2V683.5M367.6 681.2V683.5M379.9 681.2V683.5M392.2 681.2V683.5M404.6 681.2V683.5"/></g>
<text x="269.6" y="679.3" font-size="6.6" text-anchor="end" fill="#333" stroke="#333" stroke-width="0.12">-3</text>
<text x="269.6" y="670.6" font-size="6.6" text-anchor="end" fill="#333" stroke="#333" stroke-width="0.12">-2</text>
<text x="269.6" y="661.8" font-size="6.6" text-anchor="end" fill="#333" stroke="#333" stroke-width="0.12">-1</text>
<text x="269.6" y="653.1" font-size="6.6" text-anchor="end" fill="#333" stroke="#333" stroke-width="0.12">0</text>
<text x="269.6" y="644.3" font-size="6.6" text-anchor="end" fill="#333" stroke="#333" stroke-width="0.12">1</text>
<text x="269.6" y="635.6" font-size="6.6" text-anchor="end" fill="#333" stroke="#333" stroke-width="0.12">2</text>
<text x="269.6" y="626.8" font-size="6.6" text-anchor="end" fill="#333" stroke="#333" stroke-width="0.12">3</text>
<text transform="translate(261.8,650.5) rotate(-90)" font-size="7.7" text-anchor="middle" fill="#333" stroke="#333" stroke-width="0.12" textLength="53" lengthAdjust="spacingAndGlyphs">PROGENy score</text>
<g fill="#cc0b16"><rect x="277.0" y="650.8" width="8.2" height="9.6"/><rect x="289.4" y="647.7" width="8.2" height="3.1"/><rect x="301.7" y="650.8" width="8.2" height="1.8"/><rect x="314.1" y="650.8" width="8.2" height="1.8"/><rect x="326.4" y="650.8" width="8.2" height="17.5"/><rect x="338.8" y="642.0" width="8.2" height="8.8"/><rect x="351.1" y="650.8" width="8.2" height="1.8"/><rect x="363.4" y="650.8" width="8.2" height="17.5"/><rect x="375.8" y="629.4" width="8.2" height="21.4"/><rect x="400.5" y="650.8" width="8.2" height="14.9"/></g>
<text x="330.5" y="673.5" font-size="6" text-anchor="middle" fill="#cc0b16" stroke="#cc0b16" stroke-width="0.12">*</text>
<text x="367.5" y="673.5" font-size="6" text-anchor="middle" fill="#cc0b16" stroke="#cc0b16" stroke-width="0.12">*</text>
<text x="380.3" y="628.3" font-size="6" text-anchor="middle" fill="#111" stroke="#111" stroke-width="0.12">**</text>
<g transform="translate(281.9,685.2) rotate(-45)"><text x="0" y="6" font-size="7.8" text-anchor="end" fill="#333" stroke="#333" stroke-width="0.12" textLength="13.3" lengthAdjust="spacingAndGlyphs">p53</text></g>
<g transform="translate(294.3,685.2) rotate(-45)"><text x="0" y="6" font-size="7.8" text-anchor="end" fill="#333" stroke="#333" stroke-width="0.12" textLength="19.6" lengthAdjust="spacingAndGlyphs">VEGF</text></g>
<g transform="translate(306.6,685.2) rotate(-45)"><text x="0" y="6" font-size="7.8" text-anchor="end" fill="#333" stroke="#333" stroke-width="0.12" textLength="22.0" lengthAdjust="spacingAndGlyphs">TRAIL</text></g>
<g transform="translate(319.0,685.2) rotate(-45)"><text x="0" y="6" font-size="7.8" text-anchor="end" fill="#333" stroke="#333" stroke-width="0.12" textLength="19.0" lengthAdjust="spacingAndGlyphs">TNFα</text></g>
<g transform="translate(331.3,685.2) rotate(-45)"><rect x="-21.6" y="-0.6" width="23.6" height="8.6" rx="2.2" fill="#8fe86a"/><text x="0" y="6" font-size="7.8" text-anchor="end" fill="#333" stroke="#333" stroke-width="0.12" textLength="19.6" lengthAdjust="spacingAndGlyphs">TGFβ</text></g>
<g transform="translate(343.7,685.2) rotate(-45)"><text x="0" y="6" font-size="7.8" text-anchor="end" fill="#333" stroke="#333" stroke-width="0.12" textLength="16.5" lengthAdjust="spacingAndGlyphs">PI3K</text></g>
<g transform="translate(356.0,685.2) rotate(-45)"><text x="0" y="6" font-size="7.8" text-anchor="end" fill="#333" stroke="#333" stroke-width="0.12" textLength="18.5" lengthAdjust="spacingAndGlyphs">NFκB</text></g>
<g transform="translate(368.4,685.2) rotate(-45)"><rect x="-23.6" y="-0.6" width="25.6" height="8.6" rx="2.2" fill="#8fe86a"/><text x="0" y="6" font-size="7.8" text-anchor="end" fill="#333" stroke="#333" stroke-width="0.12" textLength="21.6" lengthAdjust="spacingAndGlyphs">MAPK</text></g>
<g transform="translate(380.7,685.2) rotate(-45)"><rect x="-37.5" y="-0.6" width="39.5" height="8.6" rx="2.2" fill="#f2876a"/><text x="0" y="6" font-size="7.8" text-anchor="end" fill="#333" stroke="#333" stroke-width="0.12" textLength="35.5" lengthAdjust="spacingAndGlyphs">JAK-STAT</text></g>
<g transform="translate(393.1,685.2) rotate(-45)"><text x="0" y="6" font-size="7.8" text-anchor="end" fill="#333" stroke="#333" stroke-width="0.12" textLength="27.5" lengthAdjust="spacingAndGlyphs">Hypoxia</text></g>
<g transform="translate(405.4,685.2) rotate(-45)"><text x="0" y="6" font-size="7.8" text-anchor="end" fill="#333" stroke="#333" stroke-width="0.12" textLength="20.5" lengthAdjust="spacingAndGlyphs">EGFR</text></g>
<text x="442.8" y="631.6" font-size="7.7" fill="#3a3a3a" stroke="#3a3a3a" stroke-width="0.14" textLength="39.1" lengthAdjust="spacingAndGlyphs">Enriched in</text>
<text x="442.8" y="640.6" font-size="7.7" fill="#3a3a3a" stroke="#3a3a3a" stroke-width="0.14" textLength="44.7" lengthAdjust="spacingAndGlyphs">PRC2 altered</text>
<text x="442.8" y="666.9" font-size="7.7" fill="#3a3a3a" stroke="#3a3a3a" stroke-width="0.14" textLength="39.1" lengthAdjust="spacingAndGlyphs">Enriched in</text>
<text x="442.8" y="675.6" font-size="7.7" fill="#3a3a3a" stroke="#3a3a3a" stroke-width="0.14" textLength="32.0" lengthAdjust="spacingAndGlyphs">PRC2 WT</text>
<rect x="0.9" y="0.85" width="518.2" height="721.3" fill="none" stroke="#000" stroke-width="1.8"/>
</svg></body></html>
